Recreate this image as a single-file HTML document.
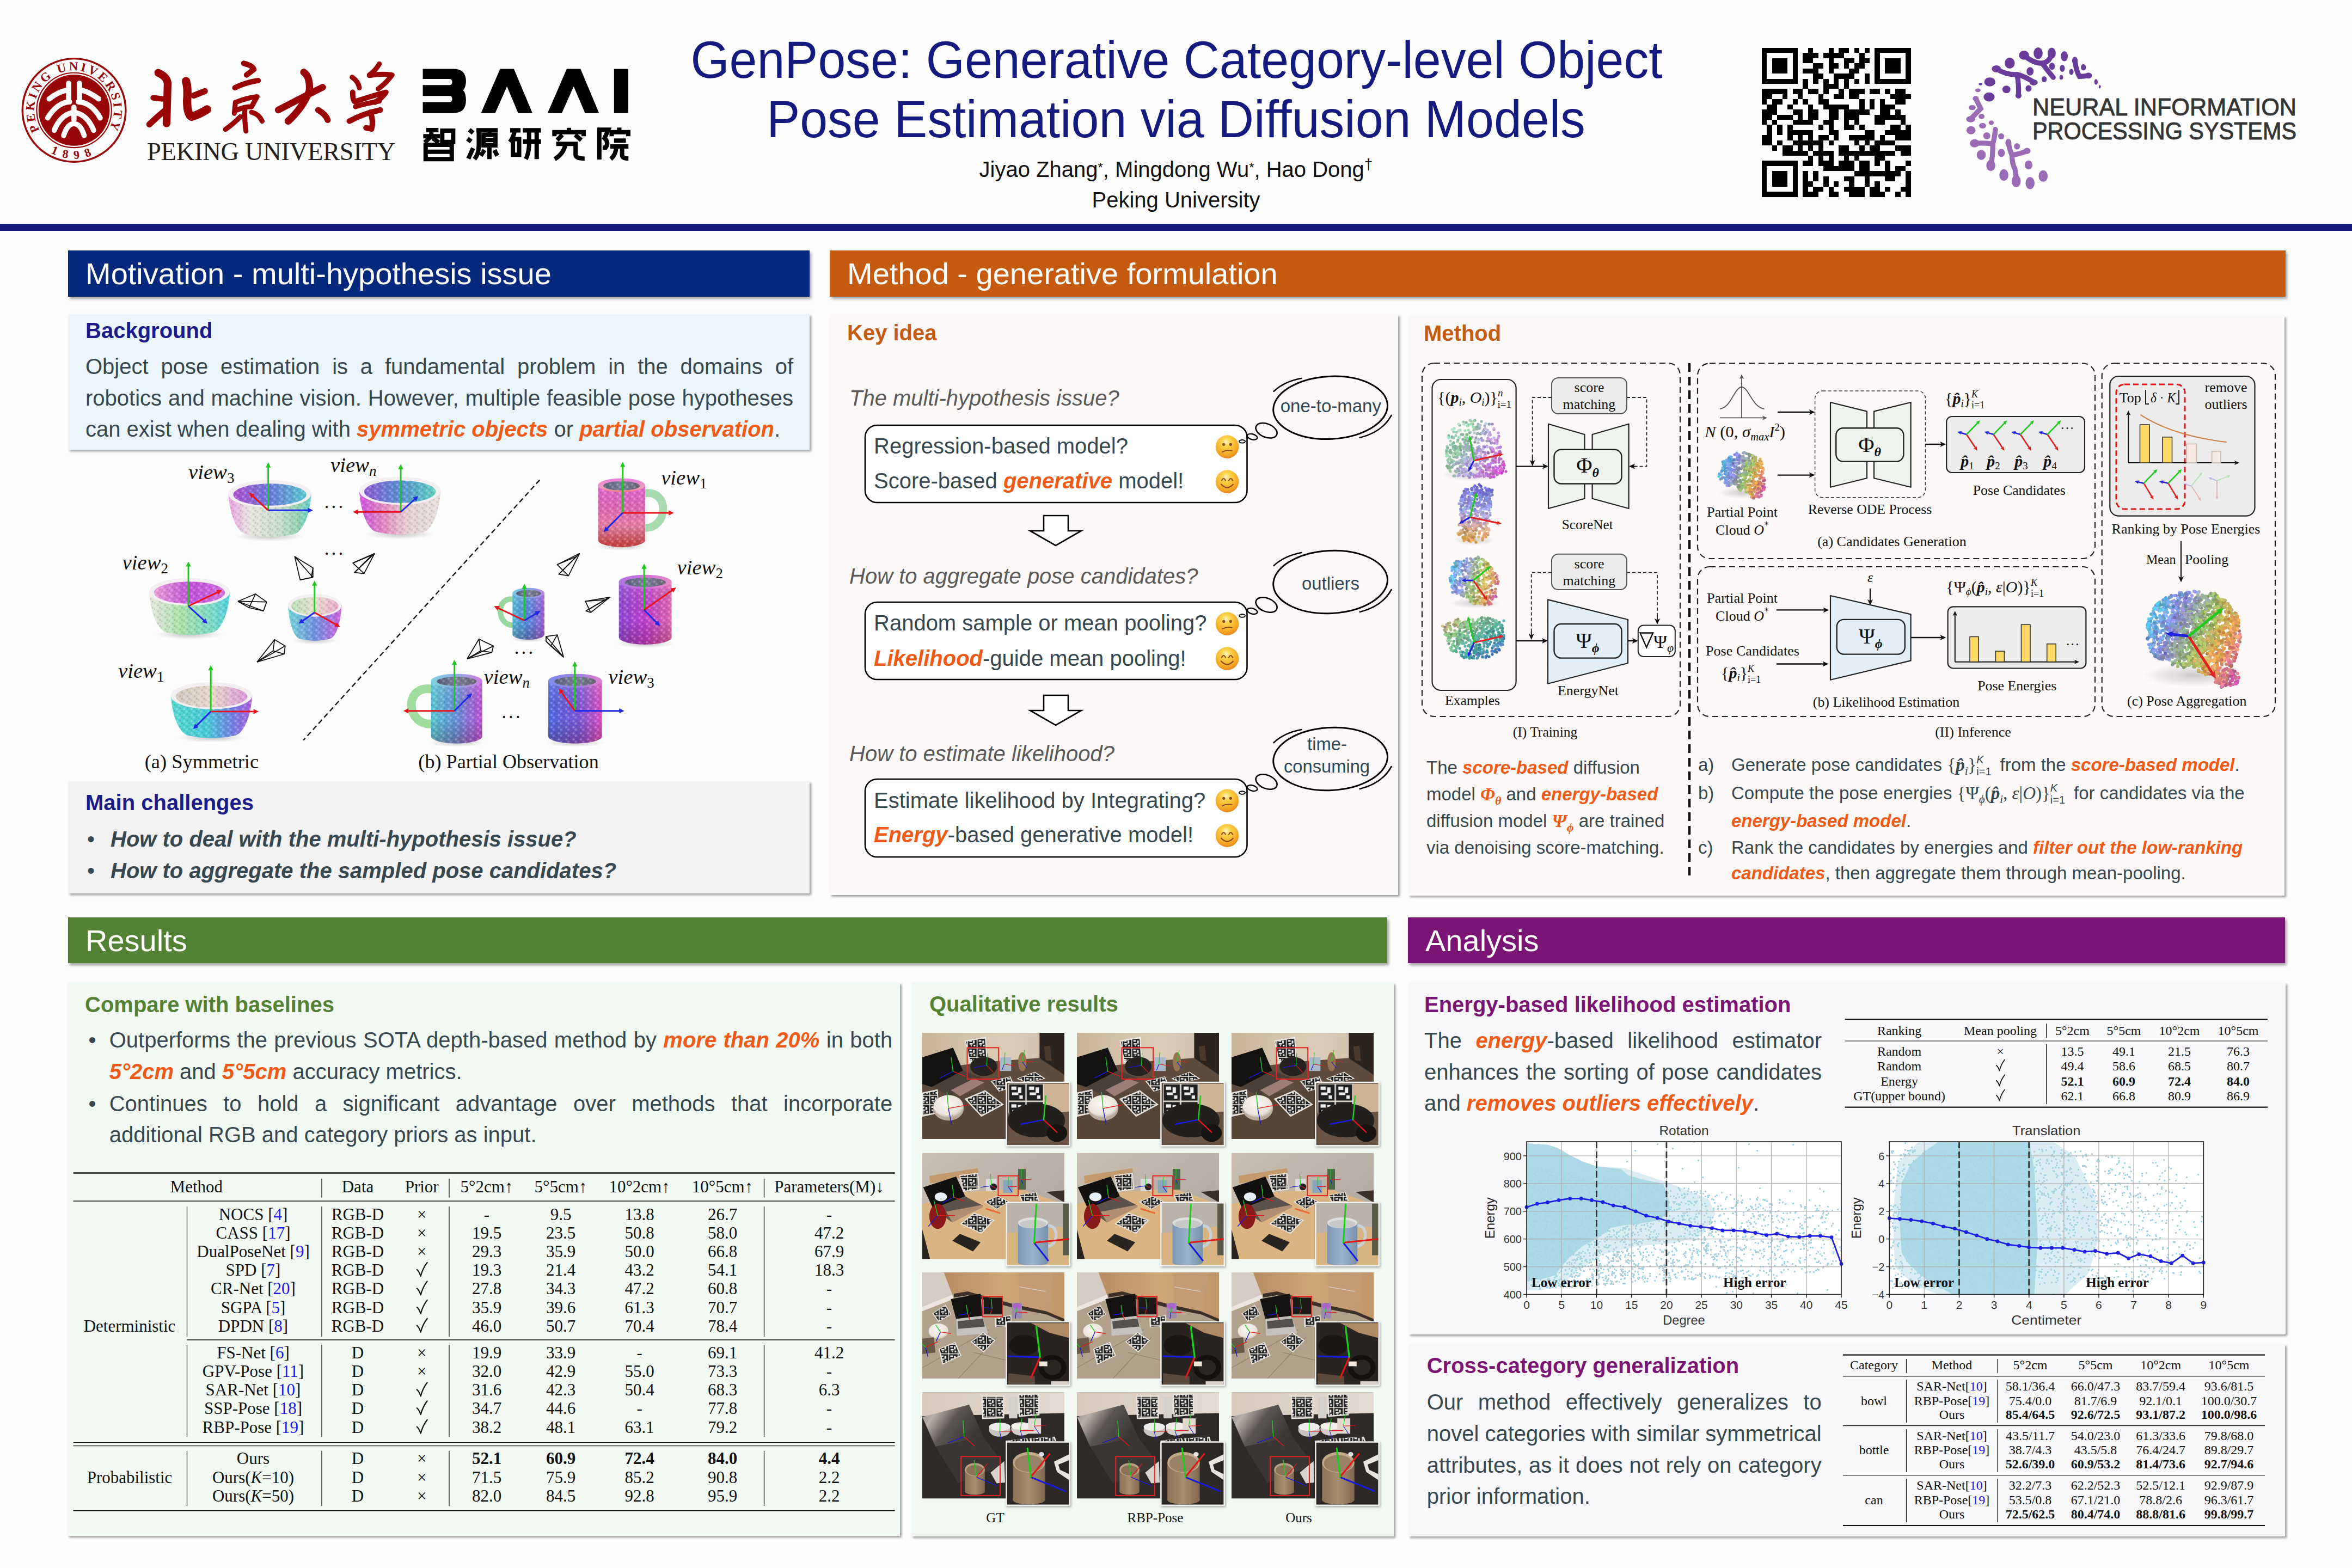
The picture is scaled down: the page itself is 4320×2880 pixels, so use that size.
<!DOCTYPE html>
<html><head><meta charset="utf-8"><style>
*{margin:0;padding:0;box-sizing:border-box}
html,body{width:4320px;height:2880px;overflow:hidden;background:#fdfdfd;font-family:"Liberation Sans",sans-serif;color:#37474f}
.a{position:absolute}
.bar{position:absolute;color:#fff;font-size:56px;line-height:1;box-shadow:3px 4px 5px rgba(0,0,0,.35)}
.bar span{position:absolute;left:32px;top:15px;white-space:nowrap}
.pnl{position:absolute;box-shadow:3px 3px 4px rgba(0,0,0,.38)}
.h2{position:absolute;font-weight:bold;font-size:40px;line-height:1;white-space:nowrap}
.t40{font-size:40px;line-height:1}
.em{color:#f05a16;font-weight:bold;font-style:italic}
.nw{white-space:nowrap}
.serif{font-family:"Liberation Serif",serif}
svg{position:absolute;overflow:visible}
</style></head><body>

<!-- ===== HEADER ===== -->
<!-- PKU seal -->
<svg style="left:30px;top:100px" width="210" height="210" viewBox="0 0 1568 1568">
<defs><path id="arcT" d="M 345.6,1077.6 A 545,545 0 1 1 1238.4,1077.6"/><path id="arcB" d="M 322,1235 A 665,665 0 0 0 1262,1235"/></defs>
<circle cx="792" cy="765" r="708" fill="none" stroke="#990808" stroke-width="26"/>
<circle cx="792" cy="765" r="513" fill="none" stroke="#990808" stroke-width="16"/>
<circle cx="792" cy="765" r="488" fill="#990808"/>
<text font-family="Liberation Serif" font-size="170" font-weight="bold" fill="#990808" letter-spacing="30"><textPath href="#arcT" startOffset="50%" text-anchor="middle">PEKING UNIVERSITY</textPath></text>
<text font-family="Liberation Serif" font-size="165" font-weight="bold" fill="#990808" letter-spacing="85"><textPath href="#arcB" startOffset="50%" text-anchor="middle">1898</textPath></text>
<g fill="none" stroke="#fff" stroke-width="72" stroke-linecap="round">
<path d="M718,395 V640"/><path d="M865,395 V640"/>
<path d="M450,610 Q560,520 690,490"/><path d="M1130,610 Q1010,520 895,490"/>
<path d="M430,870 Q560,660 730,650"/><path d="M1150,870 Q1030,660 850,650"/>
<path d="M790,725 V900"/>
<path d="M520,1040 Q600,840 760,800"/><path d="M1060,1040 Q980,840 820,800"/>
<path d="M650,1110 Q700,950 790,950 Q880,950 930,1110"/>
</g>
</svg>
<!-- PKU calligraphy -->
<svg style="left:260px;top:100px" width="480" height="210" viewBox="0 0 2352 1029">
<g fill="none" stroke="#9a0606" stroke-linecap="round" stroke-linejoin="round">
<path d="M150,165 Q230,200 235,260 L225,620" stroke-width="70"/>
<path d="M105,390 L185,400" stroke-width="50"/>
<path d="M70,630 Q140,560 215,500" stroke-width="55"/>
<path d="M400,240 Q420,300 410,420 Q410,540 450,560 Q520,540 590,495" stroke-width="75"/>
<path d="M470,370 L570,330" stroke-width="55"/>
<path d="M920,80 Q1000,100 1010,135 L945,185" stroke-width="50"/>
<path d="M840,300 Q940,250 1050,235" stroke-width="48"/>
<path d="M845,430 L835,530 M850,430 Q950,390 1040,380 L990,470 M860,500 Q930,470 990,470" stroke-width="45"/>
<path d="M930,480 Q925,600 940,690" stroke-width="45"/>
<path d="M890,560 Q820,630 755,675" stroke-width="45"/>
<path d="M990,520 Q1060,540 1085,600" stroke-width="45"/>
<path d="M1230,500 Q1420,400 1630,295" stroke-width="60"/>
<path d="M1460,160 Q1520,200 1510,330 Q1450,480 1320,600" stroke-width="65"/>
<path d="M1590,500 Q1660,540 1675,590" stroke-width="55"/>
<path d="M1895,205 Q1950,240 1960,300" stroke-width="45"/>
<path d="M2140,85 Q2110,140 2050,185" stroke-width="45"/>
<path d="M2050,190 Q2160,170 2255,185 Q2200,260 2130,310" stroke-width="45"/>
<path d="M1900,340 Q1900,420 1920,425 Q2050,380 2200,340 Q2160,400 2100,430" stroke-width="48"/>
<path d="M1925,470 Q2020,440 2140,420" stroke-width="45"/>
<path d="M1870,600 Q2000,530 2150,500" stroke-width="50"/>
<path d="M2060,520 Q2090,600 2070,670 L2020,660" stroke-width="50"/>
</g>
</svg>
<div class="a serif" style="left:270px;top:256px;font-size:46.5px;line-height:1;color:#231f20;white-space:nowrap;letter-spacing:-0.3px">PEKING UNIVERSITY</div>
<!-- BAAI -->
<svg style="left:760px;top:110px" width="410" height="200" viewBox="0 0 2352 1147">
<path fill="#000" d="M95,95 H420 Q550,95 550,225 Q550,285 520,320 Q550,350 550,425 Q550,560 420,560 H95 V445 H375 Q405,445 405,412 Q405,380 375,380 H95 V265 H375 Q405,265 405,232 Q405,200 375,200 H95 Z"/>
<path fill="#000" d="M708,560 L910,95 L1055,95 L1250,560 L1100,560 L982,280 L858,560 Z"/>
<path fill="#000" d="M1410,560 L1612,95 L1757,95 L1952,560 L1805,560 L1685,280 L1560,560 Z"/>
<rect x="2110" y="95" width="150" height="465" fill="#000"/>
<g fill="none" stroke="#000" stroke-width="46" stroke-linejoin="miter">
<path d="M130,740 H260 M100,805 H275 M185,720 V805 L115,870 M200,825 L265,870"/>
<path d="M300,745 H415 V865 H300 Z"/>
<path d="M125,895 H400 V1045 H125 Z M125,968 H400"/>
<path d="M585,735 L625,770 M565,830 L605,860 M575,1040 L625,930"/>
<path d="M660,742 H885 M685,742 V900 Q685,990 640,1045"/>
<path d="M735,790 H860 V900 H735 Z M735,845 H860 M795,760 V790"/>
<path d="M797,900 V1045 M745,950 L705,1010 M850,950 L880,1010"/>
<path d="M1015,742 H1125 M1065,742 Q1050,820 1012,865"/>
<path d="M1045,835 H1110 V1000 H1045 Z"/>
<path d="M1150,742 H1340 M1150,860 H1340 M1215,742 V900 Q1210,990 1180,1045 M1295,742 V1045"/>
<path d="M1635,715 V760 M1482,805 V762 H1790 V805 M1565,790 L1510,845 M1700,790 L1765,845"/>
<path d="M1500,885 H1705 V1000 Q1705,1040 1800,1040 M1600,885 Q1580,990 1485,1045"/>
<path d="M1955,1050 V735 H2050 L2010,825 Q2060,870 2020,925 L1990,925"/>
<path d="M2165,712 V760 M2085,805 V762 H2260 V805 M2110,850 H2235 M2070,912 H2262 M2135,912 Q2130,1000 2075,1045 M2195,912 V1000 Q2195,1040 2262,1040"/>
</g>
</svg>
<!-- Title -->
<div class="a nw" style="left:0;width:4320px;top:63.5px;text-align:center;font-size:91.5px;line-height:1;color:#151a7e;padding-left:2px;transform:scaleY(1.05)">GenPose: Generative Category-level Object</div>
<div class="a nw" style="left:0;width:4320px;top:173px;text-align:center;font-size:91.5px;line-height:1;color:#151a7e;transform:scaleY(1.05)">Pose Estimation via Diffusion Models</div>
<div class="a nw" style="left:0;width:4320px;top:288px;text-align:center;font-size:40px;line-height:1;color:#111">Jiyao Zhang<span style="font-size:24px;vertical-align:9px">*</span>, Mingdong Wu<span style="font-size:24px;vertical-align:9px">*</span>, Hao Dong<span style="font-size:28px;vertical-align:14px">&#8224;</span></div>
<div class="a nw" style="left:0;width:4320px;top:346.5px;text-align:center;font-size:40px;line-height:1;color:#111">Peking University</div>
<!-- QR -->
<svg style="left:3235.6px;top:88.2px" width="273.5" height="273.5" viewBox="0 0 29 29" shape-rendering="crispEdges"><path fill="#000" d="M0 0h7v1h-7zM9 0h1v1h-1zM13 0h1v1h-1zM15 0h2v1h-2zM18 0h1v1h-1zM20 0h1v1h-1zM22 0h7v1h-7zM0 1h1v1h-1zM6 1h1v1h-1zM8 1h3v1h-3zM12 1h4v1h-4zM19 1h1v1h-1zM22 1h1v1h-1zM28 1h1v1h-1zM0 2h1v1h-1zM2 2h3v1h-3zM6 2h1v1h-1zM8 2h2v1h-2zM13 2h1v1h-1zM16 2h2v1h-2zM19 2h2v1h-2zM22 2h1v1h-1zM24 2h3v1h-3zM28 2h1v1h-1zM0 3h1v1h-1zM2 3h3v1h-3zM6 3h1v1h-1zM10 3h2v1h-2zM13 3h2v1h-2zM16 3h1v1h-1zM18 3h2v1h-2zM22 3h1v1h-1zM24 3h3v1h-3zM28 3h1v1h-1zM0 4h1v1h-1zM2 4h3v1h-3zM6 4h1v1h-1zM8 4h3v1h-3zM13 4h1v1h-1zM17 4h2v1h-2zM22 4h1v1h-1zM24 4h3v1h-3zM28 4h1v1h-1zM0 5h1v1h-1zM6 5h1v1h-1zM10 5h2v1h-2zM14 5h4v1h-4zM20 5h1v1h-1zM22 5h1v1h-1zM28 5h1v1h-1zM0 6h7v1h-7zM8 6h1v1h-1zM10 6h1v1h-1zM12 6h1v1h-1zM14 6h1v1h-1zM16 6h1v1h-1zM18 6h1v1h-1zM20 6h1v1h-1zM22 6h7v1h-7zM8 7h1v1h-1zM12 7h3v1h-3zM16 7h1v1h-1zM0 8h5v1h-5zM6 8h2v1h-2zM9 8h2v1h-2zM12 8h1v1h-1zM15 8h1v1h-1zM17 8h3v1h-3zM21 8h2v1h-2zM24 8h1v1h-1zM26 8h2v1h-2zM0 9h2v1h-2zM4 9h1v1h-1zM7 9h1v1h-1zM11 9h1v1h-1zM14 9h2v1h-2zM17 9h2v1h-2zM25 9h4v1h-4zM0 10h1v1h-1zM2 10h2v1h-2zM6 10h1v1h-1zM8 10h1v1h-1zM11 10h2v1h-2zM19 10h1v1h-1zM21 10h1v1h-1zM23 10h1v1h-1zM26 10h2v1h-2zM1 11h2v1h-2zM5 11h1v1h-1zM9 11h1v1h-1zM12 11h5v1h-5zM19 11h1v1h-1zM21 11h1v1h-1zM23 11h3v1h-3zM0 12h3v1h-3zM6 12h2v1h-2zM9 12h2v1h-2zM13 12h2v1h-2zM16 12h5v1h-5zM23 12h2v1h-2zM26 12h1v1h-1zM0 13h2v1h-2zM3 13h3v1h-3zM7 13h1v1h-1zM9 13h2v1h-2zM13 13h2v1h-2zM16 13h3v1h-3zM22 13h6v1h-6zM0 14h1v1h-1zM2 14h1v1h-1zM6 14h4v1h-4zM12 14h2v1h-2zM16 14h1v1h-1zM18 14h1v1h-1zM22 14h2v1h-2zM27 14h1v1h-1zM1 15h1v1h-1zM3 15h1v1h-1zM5 15h1v1h-1zM11 15h1v1h-1zM13 15h1v1h-1zM16 15h2v1h-2zM19 15h1v1h-1zM25 15h2v1h-2zM28 15h1v1h-1zM1 16h1v1h-1zM3 16h1v1h-1zM5 16h5v1h-5zM13 16h2v1h-2zM20 16h2v1h-2zM24 16h5v1h-5zM0 17h2v1h-2zM5 17h1v1h-1zM7 17h1v1h-1zM9 17h1v1h-1zM11 17h2v1h-2zM14 17h1v1h-1zM17 17h5v1h-5zM23 17h1v1h-1zM26 17h3v1h-3zM0 18h2v1h-2zM3 18h1v1h-1zM6 18h6v1h-6zM13 18h1v1h-1zM18 18h1v1h-1zM20 18h1v1h-1zM22 18h4v1h-4zM2 19h1v1h-1zM4 19h2v1h-2zM7 19h1v1h-1zM9 19h1v1h-1zM11 19h1v1h-1zM15 19h2v1h-2zM19 19h1v1h-1zM21 19h2v1h-2zM26 19h3v1h-3zM4 20h5v1h-5zM10 20h4v1h-4zM15 20h11v1h-11zM27 20h2v1h-2zM9 21h1v1h-1zM11 21h1v1h-1zM13 21h1v1h-1zM16 21h1v1h-1zM18 21h1v1h-1zM22 21h2v1h-2zM0 22h7v1h-7zM8 22h2v1h-2zM11 22h3v1h-3zM15 22h3v1h-3zM19 22h2v1h-2zM22 22h1v1h-1zM24 22h1v1h-1zM28 22h1v1h-1zM0 23h1v1h-1zM6 23h1v1h-1zM12 23h6v1h-6zM19 23h2v1h-2zM24 23h1v1h-1zM26 23h2v1h-2zM0 24h1v1h-1zM2 24h3v1h-3zM6 24h1v1h-1zM8 24h1v1h-1zM10 24h1v1h-1zM18 24h9v1h-9zM28 24h1v1h-1zM0 25h1v1h-1zM2 25h3v1h-3zM6 25h1v1h-1zM8 25h1v1h-1zM10 25h1v1h-1zM12 25h1v1h-1zM16 25h2v1h-2zM20 25h1v1h-1zM24 25h2v1h-2zM28 25h1v1h-1zM0 26h1v1h-1zM2 26h3v1h-3zM6 26h1v1h-1zM8 26h2v1h-2zM12 26h1v1h-1zM14 26h1v1h-1zM17 26h1v1h-1zM20 26h1v1h-1zM22 26h1v1h-1zM28 26h1v1h-1zM0 27h1v1h-1zM6 27h1v1h-1zM8 27h1v1h-1zM10 27h2v1h-2zM13 27h1v1h-1zM16 27h4v1h-4zM21 27h2v1h-2zM24 27h1v1h-1zM27 27h2v1h-2zM0 28h7v1h-7zM8 28h3v1h-3zM13 28h2v1h-2zM17 28h3v1h-3zM21 28h3v1h-3zM26 28h1v1h-1zM28 28h1v1h-1z"/></svg>
<!-- NeurIPS -->
<svg style="left:3590px;top:70px" width="290" height="290" viewBox="0 0 1568 1568">
<g fill="#6a3d9c">
<ellipse cx="830" cy="150" rx="45" ry="58"/><ellipse cx="965" cy="150" rx="40" ry="55"/><ellipse cx="1090" cy="180" rx="35" ry="50"/>
<ellipse cx="1195" cy="225" rx="28" ry="40"/><ellipse cx="1280" cy="290" rx="25" ry="32"/><ellipse cx="1330" cy="372" rx="35" ry="30"/>
<ellipse cx="1405" cy="435" rx="17" ry="28"/><ellipse cx="1442" cy="483" rx="10" ry="17"/><ellipse cx="690" cy="170" rx="50" ry="45"/>
<ellipse cx="548" cy="248" rx="50" ry="55"/><ellipse cx="968" cy="280" rx="30" ry="35"/><ellipse cx="1070" cy="300" rx="25" ry="35"/>
<ellipse cx="1160" cy="335" rx="22" ry="30"/><ellipse cx="1060" cy="390" rx="18" ry="22"/><ellipse cx="750" cy="330" rx="35" ry="42"/>
<ellipse cx="890" cy="408" rx="25" ry="30"/><ellipse cx="415" cy="305" rx="45" ry="35"/><ellipse cx="350" cy="435" rx="55" ry="45"/>
<ellipse cx="515" cy="510" rx="40" ry="38"/><ellipse cx="735" cy="500" rx="30" ry="32"/><ellipse cx="343" cy="585" rx="55" ry="45"/>
<ellipse cx="635" cy="570" rx="30" ry="30"/><ellipse cx="258" cy="457" rx="18" ry="12"/><ellipse cx="785" cy="440" rx="40" ry="30"/>
</g>
<g fill="none" stroke="#6a3d9c" stroke-linecap="round" stroke-width="50">
<path d="M690,170 Q780,250 870,250 Q940,240 965,160"/><path d="M870,250 Q930,330 980,390"/>
<path d="M415,305 Q520,370 620,360 Q700,380 790,440"/><path d="M620,360 Q640,450 635,570"/>
<path d="M1195,225 Q1210,330 1240,380 Q1290,380 1330,372"/>
</g>
<g fill="#9a6cb6">
<ellipse cx="232" cy="518" rx="28" ry="18"/>
<ellipse cx="210" cy="600" rx="30" ry="25"/><ellipse cx="175" cy="690" rx="35" ry="25"/><ellipse cx="268" cy="778" rx="30" ry="25"/>
<ellipse cx="160" cy="805" rx="45" ry="32"/><ellipse cx="365" cy="840" rx="25" ry="22"/><ellipse cx="278" cy="870" rx="35" ry="28"/>
<ellipse cx="163" cy="915" rx="45" ry="40"/><ellipse cx="405" cy="910" rx="25" ry="30"/><ellipse cx="320" cy="970" rx="35" ry="35"/>
<ellipse cx="463" cy="975" rx="30" ry="30"/><ellipse cx="200" cy="1045" rx="48" ry="40"/><ellipse cx="535" cy="1040" rx="30" ry="40"/>
<ellipse cx="620" cy="1075" rx="30" ry="32"/><ellipse cx="265" cy="1160" rx="45" ry="50"/><ellipse cx="465" cy="1140" rx="35" ry="40"/>
<ellipse cx="360" cy="1265" rx="45" ry="55"/><ellipse cx="735" cy="1260" rx="38" ry="45"/><ellipse cx="490" cy="1360" rx="45" ry="58"/>
<ellipse cx="612" cy="1420" rx="45" ry="60"/><ellipse cx="750" cy="1440" rx="45" ry="60"/><ellipse cx="880" cy="1370" rx="45" ry="58"/>
<ellipse cx="720" cy="1120" rx="35" ry="30"/>
</g>
<g fill="none" stroke="#9a6cb6" stroke-linecap="round" stroke-width="50">
<path d="M210,600 Q250,680 260,700 Q200,760 160,805"/>
<path d="M200,1045 Q300,1040 380,1050 Q400,980 405,910"/><path d="M380,1050 Q380,1180 360,1265"/>
<path d="M535,1040 Q550,1120 570,1160 Q650,1150 720,1120"/><path d="M570,1160 Q570,1250 600,1300 Q612,1360 612,1420"/>
</g>
</svg>
<svg style="left:3733px;top:170px" width="490" height="100" viewBox="0 0 490 100">
<text x="0" y="42.2" font-family="Liberation Sans" font-size="44" fill="#353535" stroke="#353535" stroke-width="0.9" textLength="485" lengthAdjust="spacingAndGlyphs">NEURAL INFORMATION</text>
<text x="0" y="86" font-family="Liberation Sans" font-size="44" fill="#353535" stroke="#353535" stroke-width="0.9" textLength="485" lengthAdjust="spacingAndGlyphs">PROCESSING SYSTEMS</text>
</svg>

<div class="a" style="left:0;top:411px;width:4320px;height:13px;background:#161b7a"></div>

<!-- ===== SECTION BARS ===== -->
<div class="bar" style="left:125px;top:460px;width:1362px;height:85px;background:#03287c"><span>Motivation - multi-hypothesis issue</span></div>
<div class="bar" style="left:1524px;top:460px;width:2674px;height:85px;background:#c55a11"><span>Method - generative formulation</span></div>
<div class="bar" style="left:125px;top:1685px;width:2423px;height:84px;background:#548235"><span>Results</span></div>
<div class="bar" style="left:2586px;top:1685px;width:1611px;height:84px;background:#7b1575"><span>Analysis</span></div>

<!-- ===== PANELS ===== -->
<div class="pnl" style="left:125px;top:577px;width:1362px;height:249px;background:#eaf5fc"></div>
<div class="pnl" style="left:125px;top:1435px;width:1362px;height:206px;background:#f2f2f2"></div>
<div class="pnl" style="left:1524px;top:578px;width:1044px;height:1066px;background:#fcf9f8"></div>
<div class="pnl" style="left:2587px;top:580px;width:1609px;height:1065px;background:#fcf9f8"></div>
<div class="pnl" style="left:124px;top:1805px;width:1529px;height:1016px;background:#f2f9f3"></div>
<div class="pnl" style="left:1674px;top:1805px;width:886px;height:1017px;background:#f2f9f3"></div>
<div class="pnl" style="left:2587px;top:1805px;width:1611px;height:646px;background:#f8f8fa"></div>
<div class="pnl" style="left:2587px;top:2469px;width:1610px;height:353px;background:#f8f8fa"></div>

<!-- Motivation content -->
<div class="h2" style="left:157px;top:587px;color:#1b1b8a">Background</div>
<div class="a t40" style="left:157px;top:645px;width:1300px;line-height:57.5px;text-align:justify;text-align-last:left">Object pose estimation is a fundamental problem in the domains of robotics and machine vision. However, multiple feasible pose hypotheses can exist when dealing with <span class="em">symmetric objects</span> or <span class="em">partial observation</span>.</div>
<svg style="left:120px;top:820px" width="1380" height="620" viewBox="0 0 2352 1057"><defs>
<pattern id="tex" width="23" height="19" patternUnits="userSpaceOnUse"><circle cx="4" cy="5" r="3.2" fill="#fff" fill-opacity=".28"/><circle cx="14" cy="3" r="2.6" fill="#000" fill-opacity=".13"/><circle cx="11" cy="13" r="3.4" fill="#fff" fill-opacity=".22"/><circle cx="20" cy="11" r="2.4" fill="#000" fill-opacity=".16"/><circle cx="3" cy="15" r="2" fill="#000" fill-opacity=".12"/></pattern>
<radialGradient id="mshad"><stop offset="0" stop-color="#000" stop-opacity=".22"/><stop offset="1" stop-color="#000" stop-opacity="0"/></radialGradient>
<linearGradient id="bw1" x1="0" x2="1"><stop offset="0" stop-color="#e8a0e0"/><stop offset=".25" stop-color="#e8e2e0"/><stop offset=".6" stop-color="#c8e0c8"/><stop offset=".85" stop-color="#90d0b0"/><stop offset="1" stop-color="#60d0d0"/></linearGradient>
<linearGradient id="bi1" x1="0" x2="1"><stop offset="0" stop-color="#b050d0"/><stop offset=".5" stop-color="#6a78d8"/><stop offset="1" stop-color="#58c8d0"/></linearGradient>
<linearGradient id="bw2" x1="0" x2="1"><stop offset="0" stop-color="#d050e0"/><stop offset=".3" stop-color="#e088c0"/><stop offset=".6" stop-color="#e8d0d4"/><stop offset="1" stop-color="#e4e0dc"/></linearGradient>
<linearGradient id="bi2" x1="0" x2="1"><stop offset="0" stop-color="#9058d8"/><stop offset=".5" stop-color="#5890d0"/><stop offset="1" stop-color="#60d0c0"/></linearGradient>
<linearGradient id="bw3" x1="0" x2="1"><stop offset="0" stop-color="#e8e8e0"/><stop offset=".4" stop-color="#a8e0a8"/><stop offset=".8" stop-color="#78d8c8"/><stop offset="1" stop-color="#50d0e0"/></linearGradient>
<linearGradient id="bi3" x1="0" x2="1"><stop offset="0" stop-color="#e8a0d8"/><stop offset=".5" stop-color="#c050d8"/><stop offset="1" stop-color="#d070e0"/></linearGradient>
<linearGradient id="bw4" x1="0" x2="1"><stop offset="0" stop-color="#70d8d8"/><stop offset=".5" stop-color="#7090e0"/><stop offset="1" stop-color="#d060e0"/></linearGradient>
<linearGradient id="bi4" x1="0" x2="1"><stop offset="0" stop-color="#b8e0b0"/><stop offset=".5" stop-color="#e8e0d0"/><stop offset="1" stop-color="#e8a8c8"/></linearGradient>
<linearGradient id="bw5" x1="0" x2="1"><stop offset="0" stop-color="#58d8d0"/><stop offset=".45" stop-color="#48c8d8"/><stop offset=".75" stop-color="#7080e0"/><stop offset="1" stop-color="#b060e0"/></linearGradient>
<linearGradient id="bi5" x1="0" x2="1"><stop offset="0" stop-color="#d0c8c0"/><stop offset=".5" stop-color="#e8d8c8"/><stop offset="1" stop-color="#d898d8"/></linearGradient>
<linearGradient id="m1" x1="0" x2="1"><stop offset="0" stop-color="#e040c0"/><stop offset=".5" stop-color="#e898b8"/><stop offset="1" stop-color="#e8d0d0"/></linearGradient>
<linearGradient id="m1v" x1="0" y1="0" x2="0" y2="1"><stop offset="0" stop-color="#e050d0"/><stop offset=".7" stop-color="#e880a0"/><stop offset="1" stop-color="#e85050"/></linearGradient>
<linearGradient id="mi" x1="0" x2="1"><stop offset="0" stop-color="#58607a"/><stop offset=".5" stop-color="#7a8098"/><stop offset="1" stop-color="#6a6478"/></linearGradient>
<linearGradient id="mshade" x1="0" y1="0" x2="0" y2="1"><stop offset="0" stop-color="#fff" stop-opacity=".15"/><stop offset=".6" stop-color="#000" stop-opacity="0"/><stop offset="1" stop-color="#500" stop-opacity=".25"/></linearGradient>
<linearGradient id="m2" x1="0" x2="1"><stop offset="0" stop-color="#9048d8"/><stop offset=".5" stop-color="#c040d0"/><stop offset="1" stop-color="#e068b0"/></linearGradient>
<linearGradient id="m3" x1="0" x2="1"><stop offset="0" stop-color="#50b8d8"/><stop offset=".5" stop-color="#5888e0"/><stop offset="1" stop-color="#a060d8"/></linearGradient>
<linearGradient id="m4" x1="0" x2="1"><stop offset="0" stop-color="#58c8d8"/><stop offset=".5" stop-color="#6890d8"/><stop offset="1" stop-color="#c050d8"/></linearGradient>
<linearGradient id="m5" x1="0" x2="1"><stop offset="0" stop-color="#5068e0"/><stop offset=".6" stop-color="#8058d8"/><stop offset="1" stop-color="#e050c0"/></linearGradient>
</defs><ellipse cx="640.0" cy="281.4" rx="109.2" ry="16.2" fill="url(#mshad)"/><path d="M510,148.2 C515.2,216.6 536.0,263.4 562.0,274.2 Q640.0,292.2 718.0,274.2 C744.0,263.4 764.8,216.6 770,148.2 Z" fill="url(#bw1)"/><path d="M510,148.2 C515.2,216.6 536.0,263.4 562.0,274.2 Q640.0,292.2 718.0,274.2 C744.0,263.4 764.8,216.6 770,148.2 Z" fill="url(#tex)"/><ellipse cx="640.0" cy="148.2" rx="130.0" ry="43.199999999999996" fill="#f2eef2"/><ellipse cx="640.0" cy="150.89999999999998" rx="114.4" ry="34.559999999999995" fill="url(#bi1)"/><ellipse cx="640.0" cy="150.89999999999998" rx="114.4" ry="34.559999999999995" fill="url(#tex)"/><ellipse cx="1047.5" cy="274.34" rx="107.1" ry="16.47" fill="url(#mshad)"/><path d="M920,138.92000000000002 C925.1,208.45999999999998 945.5,256.04 971.0,267.02 Q1047.5,285.32 1124.0,267.02 C1149.5,256.04 1169.9,208.45999999999998 1175,138.92000000000002 Z" fill="url(#bw2)"/><path d="M920,138.92000000000002 C925.1,208.45999999999998 945.5,256.04 971.0,267.02 Q1047.5,285.32 1124.0,267.02 C1149.5,256.04 1169.9,208.45999999999998 1175,138.92000000000002 Z" fill="url(#tex)"/><ellipse cx="1047.5" cy="138.92000000000002" rx="127.5" ry="43.92" fill="#f2eef2"/><ellipse cx="1047.5" cy="141.66500000000002" rx="112.2" ry="35.136" fill="url(#bi2)"/><ellipse cx="1047.5" cy="141.66500000000002" rx="112.2" ry="35.136" fill="url(#tex)"/><ellipse cx="388.5" cy="588.4" rx="106.25999999999999" ry="16.2" fill="url(#mshad)"/><path d="M262,455.2 C267.06,523.6 287.3,570.4 312.6,581.2 Q388.5,599.2 464.4,581.2 C489.7,570.4 509.94,523.6 515,455.2 Z" fill="url(#bw3)"/><path d="M262,455.2 C267.06,523.6 287.3,570.4 312.6,581.2 Q388.5,599.2 464.4,581.2 C489.7,570.4 509.94,523.6 515,455.2 Z" fill="url(#tex)"/><ellipse cx="388.5" cy="455.2" rx="126.5" ry="43.199999999999996" fill="#f2eef2"/><ellipse cx="388.5" cy="457.9" rx="111.32000000000001" ry="34.559999999999995" fill="url(#bi3)"/><ellipse cx="388.5" cy="457.9" rx="111.32000000000001" ry="34.559999999999995" fill="url(#tex)"/><ellipse cx="781.0" cy="607.04" rx="70.56" ry="13.32" fill="url(#mshad)"/><path d="M697,497.52 C700.36,553.76 713.8,592.24 730.6,601.12 Q781.0,615.92 831.4,601.12 C848.2,592.24 861.64,553.76 865,497.52 Z" fill="url(#bw4)"/><path d="M697,497.52 C700.36,553.76 713.8,592.24 730.6,601.12 Q781.0,615.92 831.4,601.12 C848.2,592.24 861.64,553.76 865,497.52 Z" fill="url(#tex)"/><ellipse cx="781.0" cy="497.52" rx="84.0" ry="35.519999999999996" fill="#f2eef2"/><ellipse cx="781.0" cy="499.74" rx="73.92" ry="28.415999999999997" fill="url(#bi4)"/><ellipse cx="781.0" cy="499.74" rx="73.92" ry="28.415999999999997" fill="url(#tex)"/><ellipse cx="457.5" cy="911.46" rx="107.1" ry="15.93" fill="url(#mshad)"/><path d="M330,780.48 C335.1,847.74 355.5,893.76 381.0,904.38 Q457.5,922.08 534.0,904.38 C559.5,893.76 579.9,847.74 585,780.48 Z" fill="url(#bw5)"/><path d="M330,780.48 C335.1,847.74 355.5,893.76 381.0,904.38 Q457.5,922.08 534.0,904.38 C559.5,893.76 579.9,847.74 585,780.48 Z" fill="url(#tex)"/><ellipse cx="457.5" cy="780.48" rx="127.5" ry="42.48" fill="#f2eef2"/><ellipse cx="457.5" cy="783.135" rx="112.2" ry="33.984" fill="url(#bi5)"/><ellipse cx="457.5" cy="783.135" rx="112.2" ry="33.984" fill="url(#tex)"/><ellipse cx="1741.5" cy="312.85" rx="80.85000000000001" ry="12.9" fill="url(#mshad)"/><path d="M1810,147.3 C1895.85,132.25 1888.5,261.25 1810,254.79999999999998" fill="none" stroke="#a8dcb0" stroke-width="24.990000000000002"/><path d="M1668,121.5 L1668,293.5 A73.5,21.5 0 0 0 1815,293.5 L1815,121.5 Z" fill="url(#m1v)"/><path d="M1668,121.5 L1668,293.5 A73.5,21.5 0 0 0 1815,293.5 L1815,121.5 Z" fill="url(#mshade)"/><path d="M1668,121.5 L1668,293.5 A73.5,21.5 0 0 0 1815,293.5 L1815,121.5 Z" fill="url(#tex)"/><ellipse cx="1741.5" cy="121.5" rx="73.5" ry="21.5" fill="url(#m1v)"/><ellipse cx="1741.5" cy="121.5" rx="73.5" ry="21.5" fill="#fff" fill-opacity=".25"/><ellipse cx="1741.5" cy="123.22" rx="57.330000000000005" ry="14.190000000000001" fill="url(#mi)"/><ellipse cx="1741.5" cy="123.22" rx="57.330000000000005" ry="14.190000000000001" fill="url(#tex)"/><ellipse cx="1815.5" cy="617.82" rx="90.75000000000001" ry="13.08" fill="url(#mshad)"/><path d="M1733,423.8 L1733,598.2 A82.5,21.8 0 0 0 1898,598.2 L1898,423.8 Z" fill="url(#m2)"/><path d="M1733,423.8 L1733,598.2 A82.5,21.8 0 0 0 1898,598.2 L1898,423.8 Z" fill="url(#mshade)"/><path d="M1733,423.8 L1733,598.2 A82.5,21.8 0 0 0 1898,598.2 L1898,423.8 Z" fill="url(#tex)"/><ellipse cx="1815.5" cy="423.8" rx="82.5" ry="21.8" fill="url(#m2)"/><ellipse cx="1815.5" cy="423.8" rx="82.5" ry="21.8" fill="#fff" fill-opacity=".25"/><ellipse cx="1815.5" cy="425.544" rx="64.35000000000001" ry="14.388000000000002" fill="url(#mi)"/><ellipse cx="1815.5" cy="425.544" rx="64.35000000000001" ry="14.388000000000002" fill="url(#tex)"/><ellipse cx="1450.0" cy="603.38" rx="55.00000000000001" ry="9.719999999999999" fill="url(#mshad)"/><path d="M1405,478.64 C1345.0,467.3 1350.0,564.5 1405,559.64" fill="none" stroke="#98d8a0" stroke-width="17.0"/><path d="M1400,459.2 L1400,588.8 A50.0,16.2 0 0 0 1500,588.8 L1500,459.2 Z" fill="url(#m3)"/><path d="M1400,459.2 L1400,588.8 A50.0,16.2 0 0 0 1500,588.8 L1500,459.2 Z" fill="url(#mshade)"/><path d="M1400,459.2 L1400,588.8 A50.0,16.2 0 0 0 1500,588.8 L1500,459.2 Z" fill="url(#tex)"/><ellipse cx="1450.0" cy="459.2" rx="50.0" ry="16.2" fill="url(#m3)"/><ellipse cx="1450.0" cy="459.2" rx="50.0" ry="16.2" fill="#fff" fill-opacity=".25"/><ellipse cx="1450.0" cy="460.496" rx="39.0" ry="10.692" fill="url(#mi)"/><ellipse cx="1450.0" cy="460.496" rx="39.0" ry="10.692" fill="url(#tex)"/><ellipse cx="1225.0" cy="927.82" rx="88.0" ry="13.08" fill="url(#mshad)"/><path d="M1150,759.96 C1057.0,744.7 1065.0,875.5 1150,868.96" fill="none" stroke="#a0dca0" stroke-width="27.200000000000003"/><path d="M1145,733.8 L1145,908.2 A80.0,21.8 0 0 0 1305,908.2 L1305,733.8 Z" fill="url(#m4)"/><path d="M1145,733.8 L1145,908.2 A80.0,21.8 0 0 0 1305,908.2 L1305,733.8 Z" fill="url(#mshade)"/><path d="M1145,733.8 L1145,908.2 A80.0,21.8 0 0 0 1305,908.2 L1305,733.8 Z" fill="url(#tex)"/><ellipse cx="1225.0" cy="733.8" rx="80.0" ry="21.8" fill="url(#m4)"/><ellipse cx="1225.0" cy="733.8" rx="80.0" ry="21.8" fill="#fff" fill-opacity=".25"/><ellipse cx="1225.0" cy="735.544" rx="62.400000000000006" ry="14.388000000000002" fill="url(#mi)"/><ellipse cx="1225.0" cy="735.544" rx="62.400000000000006" ry="14.388000000000002" fill="url(#tex)"/><ellipse cx="1596.0" cy="927.82" rx="92.4" ry="13.08" fill="url(#mshad)"/><path d="M1512,733.8 L1512,908.2 A84.0,21.8 0 0 0 1680,908.2 L1680,733.8 Z" fill="url(#m5)"/><path d="M1512,733.8 L1512,908.2 A84.0,21.8 0 0 0 1680,908.2 L1680,733.8 Z" fill="url(#mshade)"/><path d="M1512,733.8 L1512,908.2 A84.0,21.8 0 0 0 1680,908.2 L1680,733.8 Z" fill="url(#tex)"/><ellipse cx="1596.0" cy="733.8" rx="84.0" ry="21.8" fill="url(#m5)"/><ellipse cx="1596.0" cy="733.8" rx="84.0" ry="21.8" fill="#fff" fill-opacity=".25"/><ellipse cx="1596.0" cy="735.544" rx="65.52" ry="14.388000000000002" fill="url(#mi)"/><ellipse cx="1596.0" cy="735.544" rx="65.52" ry="14.388000000000002" fill="url(#tex)"/><line x1="635" y1="200" x2="635.0" y2="62.8" stroke="#1ec81e" stroke-width="5"/><path d="M635,50 L643.0,66.0 L627.0,66.0 Z" fill="#1ec81e"/><line x1="635" y1="200" x2="584.4355729945695" y2="153.64927524502204" stroke="#e8141e" stroke-width="5"/><path d="M575,145 L592.2002632713507,149.9143609346716 L581.3886692150732,161.70882717788345 Z" fill="#e8141e"/><line x1="635" y1="200" x2="762.2" y2="200.0" stroke="#1e28e6" stroke-width="5"/><path d="M775,200 L759.0,208.0 L759.0,192.0 Z" fill="#1e28e6"/><line x1="1050" y1="205" x2="1050.0" y2="67.8" stroke="#1ec81e" stroke-width="5"/><path d="M1050,55 L1058.0,71.0 L1042.0,71.0 Z" fill="#1ec81e"/><line x1="1050" y1="205" x2="912.8" y2="205.0" stroke="#e8141e" stroke-width="5"/><path d="M900,205 L916.0,197.0 L916.0,213.0 Z" fill="#e8141e"/><line x1="1050" y1="205" x2="1095.528767060532" y2="163.6102117631528" stroke="#1e28e6" stroke-width="5"/><path d="M1105,155 L1098.5423411776353,171.68228529110854 L1087.7795764736945,159.84324411677346 Z" fill="#1e28e6"/><line x1="385" y1="500" x2="385.0" y2="372.8" stroke="#1ec81e" stroke-width="5"/><path d="M385,360 L393.0,376.0 L377.0,376.0 Z" fill="#1ec81e"/><line x1="385" y1="500" x2="478.4433853590537" y2="455.50314982902205" stroke="#e8141e" stroke-width="5"/><path d="M490,450 L478.9937003419559,464.101821436869 L472.1147630556783,449.65605313568614 Z" fill="#e8141e"/><line x1="385" y1="500" x2="435.5644270054305" y2="546.3507247549779" stroke="#1e28e6" stroke-width="5"/><path d="M445,555 L427.7997367286494,550.0856390653285 L438.6113307849269,538.2911728221166 Z" fill="#1e28e6"/><line x1="780" y1="520" x2="780.0" y2="432.8" stroke="#1ec81e" stroke-width="5"/><path d="M780,420 L788.0,436.0 L772.0,436.0 Z" fill="#1ec81e"/><line x1="780" y1="520" x2="848.8438331248058" y2="558.7246561327032" stroke="#e8141e" stroke-width="5"/><path d="M860,565 L842.1327014889467,564.1284244628755 L849.9768813230677,550.1832158688826 Z" fill="#e8141e"/><line x1="780" y1="520" x2="740.4861685826437" y2="547.6596819921494" stroke="#1e28e6" stroke-width="5"/><path d="M730,555 L738.5200119733979,539.2707471260344 L747.6954094832113,552.3784578543391 Z" fill="#1e28e6"/><line x1="455" y1="830" x2="455.0" y2="697.8" stroke="#1ec81e" stroke-width="5"/><path d="M455,685 L463.0,701.0 L447.0,701.0 Z" fill="#1ec81e"/><line x1="455" y1="830" x2="592.2" y2="830.0" stroke="#e8141e" stroke-width="5"/><path d="M605,830 L589.0,838.0 L589.0,822.0 Z" fill="#e8141e"/><line x1="455" y1="830" x2="409.0509667991878" y2="875.9490332008122" stroke="#1e28e6" stroke-width="5"/><path d="M400,885 L405.65685424949237,868.0294372515228 L416.9705627484771,879.3431457505077 Z" fill="#1e28e6"/><line x1="1745" y1="208" x2="1745.0" y2="60.8" stroke="#1ec81e" stroke-width="5"/><path d="M1745,48 L1753.0,64.0 L1737.0,64.0 Z" fill="#1ec81e"/><line x1="1745" y1="208" x2="1892.2" y2="208.0" stroke="#e8141e" stroke-width="5"/><path d="M1905,208 L1889.0,216.0 L1889.0,200.0 Z" fill="#e8141e"/><line x1="1745" y1="208" x2="1694.0509667991878" y2="258.9490332008122" stroke="#1e28e6" stroke-width="5"/><path d="M1685,268 L1690.6568542494924,251.0294372515229 L1701.9705627484773,262.34314575050763 Z" fill="#1e28e6"/><line x1="1812" y1="512" x2="1812.0" y2="379.8" stroke="#1ec81e" stroke-width="5"/><path d="M1812,367 L1820.0,383.0 L1804.0,383.0 Z" fill="#1ec81e"/><line x1="1812" y1="512" x2="1901.5138314173562" y2="449.3403180078506" stroke="#e8141e" stroke-width="5"/><path d="M1912,442 L1903.4799880266019,457.72925287396555 L1894.3045905167887,444.62154214566095 Z" fill="#e8141e"/><line x1="1812" y1="512" x2="1852.9490332008122" y2="552.9490332008122" stroke="#1e28e6" stroke-width="5"/><path d="M1862,562 L1845.0294372515227,556.3431457505077 L1856.3431457505076,545.0294372515228 Z" fill="#1e28e6"/><line x1="1437" y1="545" x2="1437.0" y2="442.8" stroke="#1ec81e" stroke-width="5"/><path d="M1437,430 L1445.0,446.0 L1429.0,446.0 Z" fill="#1ec81e"/><line x1="1437" y1="545" x2="1353.5678443378372" y2="505.4795052126598" stroke="#e8141e" stroke-width="5"/><path d="M1342,500 L1359.884496180209,499.61947880467636 L1353.035114664384,514.079284226973 Z" fill="#e8141e"/><line x1="1437" y1="545" x2="1476.0240905508795" y2="521.5855456694724" stroke="#1e28e6" stroke-width="5"/><path d="M1487,515 L1477.3960792320195,530.0918754925408 L1469.164147145179,516.37198868114 Z" fill="#1e28e6"/><line x1="1218" y1="828" x2="1218.0" y2="680.8" stroke="#1ec81e" stroke-width="5"/><path d="M1218,668 L1226.0,684.0 L1210.0,684.0 Z" fill="#1ec81e"/><line x1="1218" y1="828" x2="1070.8" y2="828.0" stroke="#e8141e" stroke-width="5"/><path d="M1058,828 L1074.0,820.0 L1074.0,836.0 Z" fill="#e8141e"/><line x1="1218" y1="828" x2="1263.9490332008122" y2="782.0509667991878" stroke="#1e28e6" stroke-width="5"/><path d="M1273,773 L1267.3431457505076,789.9705627484772 L1256.0294372515227,778.6568542494923 Z" fill="#1e28e6"/><line x1="1595" y1="828" x2="1595.0" y2="685.8" stroke="#1ec81e" stroke-width="5"/><path d="M1595,673 L1603.0,689.0 L1587.0,689.0 Z" fill="#1ec81e"/><line x1="1595" y1="828" x2="1552.4398488796044" y2="768.4157884314462" stroke="#e8141e" stroke-width="5"/><path d="M1545,758 L1560.8096788691596,766.3698299895549 L1547.7899433298517,775.6696410890605 Z" fill="#e8141e"/><line x1="1595" y1="828" x2="1737.2" y2="828.0" stroke="#1e28e6" stroke-width="5"/><path d="M1750,828 L1734.0,836.0 L1734.0,820.0 Z" fill="#1e28e6"/><g fill="none" stroke="#111" stroke-width="3" stroke-linejoin="round"><path d="M718,345 L775,380 L770,410 L735,418 Z"/><line x1="775" y1="410" x2="718" y2="345"/><line x1="775" y1="410" x2="775" y2="380"/><line x1="775" y1="410" x2="770" y2="410"/><line x1="775" y1="410" x2="735" y2="418"/></g><g fill="none" stroke="#111" stroke-width="3" stroke-linejoin="round"><path d="M900,365 L935,398 L905,395 L960,340 Z"/><line x1="968" y1="335" x2="900" y2="365"/><line x1="968" y1="335" x2="935" y2="398"/><line x1="968" y1="335" x2="905" y2="395"/><line x1="968" y1="335" x2="960" y2="340"/></g><g fill="none" stroke="#111" stroke-width="3" stroke-linejoin="round"><path d="M595,462 L630,487 L620,515 L575,505 Z"/><line x1="540" y1="485" x2="595" y2="462"/><line x1="540" y1="485" x2="630" y2="487"/><line x1="540" y1="485" x2="620" y2="515"/><line x1="540" y1="485" x2="575" y2="505"/></g><g fill="none" stroke="#111" stroke-width="3" stroke-linejoin="round"><path d="M655,605 L688,625 L685,650 L650,640 Z"/><line x1="600" y1="675" x2="655" y2="605"/><line x1="600" y1="675" x2="688" y2="625"/><line x1="600" y1="675" x2="685" y2="650"/><line x1="600" y1="675" x2="650" y2="640"/></g><g fill="none" stroke="#111" stroke-width="3" stroke-linejoin="round"><path d="M1540,370 L1575,405 L1545,400 L1600,345 Z"/><line x1="1610" y1="335" x2="1540" y2="370"/><line x1="1610" y1="335" x2="1575" y2="405"/><line x1="1610" y1="335" x2="1545" y2="400"/><line x1="1610" y1="335" x2="1600" y2="345"/></g><g fill="none" stroke="#111" stroke-width="3" stroke-linejoin="round"><path d="M1628,485 L1645,520 L1630,515 L1690,480 Z"/><line x1="1705" y1="472" x2="1628" y2="485"/><line x1="1705" y1="472" x2="1645" y2="520"/><line x1="1705" y1="472" x2="1630" y2="515"/><line x1="1705" y1="472" x2="1690" y2="480"/></g><g fill="none" stroke="#111" stroke-width="3" stroke-linejoin="round"><path d="M1295,603 L1340,625 L1335,645 L1300,640 Z"/><line x1="1258" y1="665" x2="1295" y2="603"/><line x1="1258" y1="665" x2="1340" y2="625"/><line x1="1258" y1="665" x2="1335" y2="645"/><line x1="1258" y1="665" x2="1300" y2="640"/></g><g fill="none" stroke="#111" stroke-width="3" stroke-linejoin="round"><path d="M1505,595 L1540,590 L1520,625 L1505,610 Z"/><line x1="1560" y1="660" x2="1505" y2="595"/><line x1="1560" y1="660" x2="1540" y2="590"/><line x1="1560" y1="660" x2="1520" y2="625"/><line x1="1560" y1="660" x2="1505" y2="610"/></g><line x1="1485" y1="105" x2="745" y2="920" stroke="#111" stroke-width="4" stroke-dasharray="16 10"/><text x="808" y="209" font-family="Liberation Serif" font-size="60" fill="#111" letter-spacing="2">···</text><text x="808" y="357" font-family="Liberation Serif" font-size="60" fill="#111" letter-spacing="2">···</text><text x="1403" y="667" font-family="Liberation Serif" font-size="60" fill="#111" letter-spacing="2">···</text><text x="1363" y="867" font-family="Liberation Serif" font-size="60" fill="#111" letter-spacing="2">···</text><text x="385" y="103" font-family="Liberation Serif" font-style="italic" font-size="66" fill="#111">view<tspan font-size="46" dy="12" font-style="normal">3</tspan></text><text x="830" y="80" font-family="Liberation Serif" font-style="italic" font-size="66" fill="#111">view<tspan font-size="46" dy="12" font-style="italic">n</tspan></text><text x="1865" y="120" font-family="Liberation Serif" font-style="italic" font-size="66" fill="#111">view<tspan font-size="46" dy="12" font-style="normal">1</tspan></text><text x="178" y="385" font-family="Liberation Serif" font-style="italic" font-size="66" fill="#111">view<tspan font-size="46" dy="12" font-style="normal">2</tspan></text><text x="1915" y="400" font-family="Liberation Serif" font-style="italic" font-size="66" fill="#111">view<tspan font-size="46" dy="12" font-style="normal">2</tspan></text><text x="165" y="724" font-family="Liberation Serif" font-style="italic" font-size="66" fill="#111">view<tspan font-size="46" dy="12" font-style="normal">1</tspan></text><text x="1310" y="744" font-family="Liberation Serif" font-style="italic" font-size="66" fill="#111">view<tspan font-size="46" dy="12" font-style="italic">n</tspan></text><text x="1700" y="744" font-family="Liberation Serif" font-style="italic" font-size="66" fill="#111">view<tspan font-size="46" dy="12" font-style="normal">3</tspan></text><text x="248" y="1008" font-family="Liberation Serif" font-size="62" fill="#111" textLength="357" lengthAdjust="spacingAndGlyphs">(a) Symmetric</text><text x="1105" y="1008" font-family="Liberation Serif" font-size="62" fill="#111" textLength="565" lengthAdjust="spacingAndGlyphs">(b) Partial Observation</text></svg>
<div class="h2" style="left:157px;top:1454px;color:#1b1b8a">Main challenges</div>
<div class="a t40" style="left:160px;top:1512px;font-weight:bold;font-style:italic;line-height:58px;white-space:nowrap"><span style="display:inline-block;width:43px;font-style:normal;font-weight:normal">&#8226;</span>How to deal with the multi-hypothesis issue?<br><span style="display:inline-block;width:43px;font-style:normal;font-weight:normal">&#8226;</span>How to aggregate the sampled pose candidates?</div>

<!-- Key idea -->
<svg style="left:0;top:0" width="4320" height="2880" viewBox="0 0 4320 2880"><defs><radialGradient id="emg" cx="0.45" cy="0.3" r="0.75"><stop offset="0" stop-color="#fff6c8"/><stop offset="0.25" stop-color="#fbd24a"/><stop offset="0.75" stop-color="#f3a523"/><stop offset="1" stop-color="#e27a1c"/></radialGradient></defs><rect x="1589" y="781" width="701.5" height="142" rx="22" fill="#fff" stroke="#000" stroke-width="2.6"/><rect x="1589" y="1106" width="701.5" height="142" rx="22" fill="#fff" stroke="#000" stroke-width="2.6"/><rect x="1589" y="1431" width="701.5" height="143" rx="22" fill="#fff" stroke="#000" stroke-width="2.6"/><path d="M1917,947 H1962 V975 H1986 L1939,1002 L1892,975 H1917 Z" fill="#fff" stroke="#000" stroke-width="2.6" stroke-linejoin="miter"/><path d="M1917,1277 H1962 V1305 H1986 L1939,1332 L1892,1305 H1917 Z" fill="#fff" stroke="#000" stroke-width="2.6" stroke-linejoin="miter"/><circle cx="2254" cy="820.6" r="21.3" fill="url(#emg)"/><circle cx="2247.7" cy="816.3000000000001" r="2.6" fill="#8a4a20"/><circle cx="2260.3" cy="816.3000000000001" r="2.6" fill="#8a4a20"/><path d="M2245,830.1 Q2254,825.6 2263,828.1" fill="none" stroke="#8a4a20" stroke-width="1.8" stroke-linecap="round"/><circle cx="2254" cy="884.6" r="21.3" fill="url(#emg)"/><path d="M2244,882.6 Q2247.5,875.6 2251,882.6" fill="none" stroke="#8a4a20" stroke-width="2" stroke-linecap="round"/><path d="M2257,882.6 Q2260.5,875.6 2264,882.6" fill="none" stroke="#8a4a20" stroke-width="2" stroke-linecap="round"/><path d="M2243,889.6 Q2254,901.6 2265,889.6" fill="none" stroke="#8a4a20" stroke-width="2.2" stroke-linecap="round"/><circle cx="2254" cy="1145.6" r="21.3" fill="url(#emg)"/><circle cx="2247.7" cy="1141.3" r="2.6" fill="#8a4a20"/><circle cx="2260.3" cy="1141.3" r="2.6" fill="#8a4a20"/><path d="M2245,1155.1 Q2254,1150.6 2263,1153.1" fill="none" stroke="#8a4a20" stroke-width="1.8" stroke-linecap="round"/><circle cx="2254" cy="1209.6" r="21.3" fill="url(#emg)"/><path d="M2244,1207.6 Q2247.5,1200.6 2251,1207.6" fill="none" stroke="#8a4a20" stroke-width="2" stroke-linecap="round"/><path d="M2257,1207.6 Q2260.5,1200.6 2264,1207.6" fill="none" stroke="#8a4a20" stroke-width="2" stroke-linecap="round"/><path d="M2243,1214.6 Q2254,1226.6 2265,1214.6" fill="none" stroke="#8a4a20" stroke-width="2.2" stroke-linecap="round"/><circle cx="2254" cy="1470.6" r="21.3" fill="url(#emg)"/><circle cx="2247.7" cy="1466.3" r="2.6" fill="#8a4a20"/><circle cx="2260.3" cy="1466.3" r="2.6" fill="#8a4a20"/><path d="M2245,1480.1 Q2254,1475.6 2263,1478.1" fill="none" stroke="#8a4a20" stroke-width="1.8" stroke-linecap="round"/><circle cx="2254" cy="1534.6" r="21.3" fill="url(#emg)"/><path d="M2244,1532.6 Q2247.5,1525.6 2251,1532.6" fill="none" stroke="#8a4a20" stroke-width="2" stroke-linecap="round"/><path d="M2257,1532.6 Q2260.5,1525.6 2264,1532.6" fill="none" stroke="#8a4a20" stroke-width="2" stroke-linecap="round"/><path d="M2243,1539.6 Q2254,1551.6 2265,1539.6" fill="none" stroke="#8a4a20" stroke-width="2.2" stroke-linecap="round"/><ellipse cx="2443.6" cy="748.8" rx="105" ry="57.5" fill="none" stroke="#000" stroke-width="3" transform="rotate(-3 2443.6 748.8)"/><path d="M2339.6,718.8 Q2358.6,700.8 2390.6,694.8" fill="none" stroke="#000" stroke-width="2.6" stroke-linecap="round"/><path d="M2497.6,803.8 Q2538.6,793.8 2555.6,762.8" fill="none" stroke="#000" stroke-width="2.6" stroke-linecap="round"/><ellipse cx="2326.1" cy="790.8" rx="20.5" ry="12.3" fill="none" stroke="#000" stroke-width="2.6" transform="rotate(22 2326.1 790.8)"/><ellipse cx="2300.1" cy="802.3" rx="9.5" ry="5" fill="none" stroke="#000" stroke-width="2.4" transform="rotate(15 2300.1 802.3)"/><ellipse cx="2281.6" cy="810.8" rx="5.5" ry="2.8" fill="none" stroke="#000" stroke-width="2"/><text x="2351.7" y="757" font-family="Liberation Sans" font-size="34" fill="#2f4858" textLength="185.3" lengthAdjust="spacingAndGlyphs">one-to-many</text><ellipse cx="2443.6" cy="1069" rx="105" ry="57.5" fill="none" stroke="#000" stroke-width="3" transform="rotate(-3 2443.6 1069)"/><path d="M2339.6,1039 Q2358.6,1021 2390.6,1015" fill="none" stroke="#000" stroke-width="2.6" stroke-linecap="round"/><path d="M2497.6,1124 Q2538.6,1114 2555.6,1083" fill="none" stroke="#000" stroke-width="2.6" stroke-linecap="round"/><ellipse cx="2326.1" cy="1111" rx="20.5" ry="12.3" fill="none" stroke="#000" stroke-width="2.6" transform="rotate(22 2326.1 1111)"/><ellipse cx="2300.1" cy="1122.5" rx="9.5" ry="5" fill="none" stroke="#000" stroke-width="2.4" transform="rotate(15 2300.1 1122.5)"/><ellipse cx="2281.6" cy="1131" rx="5.5" ry="2.8" fill="none" stroke="#000" stroke-width="2"/><text x="2391" y="1083" font-family="Liberation Sans" font-size="34" fill="#2f4858" textLength="106" lengthAdjust="spacingAndGlyphs">outliers</text><ellipse cx="2443.6" cy="1394" rx="105" ry="57.5" fill="none" stroke="#000" stroke-width="3" transform="rotate(-3 2443.6 1394)"/><path d="M2339.6,1364 Q2358.6,1346 2390.6,1340" fill="none" stroke="#000" stroke-width="2.6" stroke-linecap="round"/><path d="M2497.6,1449 Q2538.6,1439 2555.6,1408" fill="none" stroke="#000" stroke-width="2.6" stroke-linecap="round"/><ellipse cx="2326.1" cy="1436" rx="20.5" ry="12.3" fill="none" stroke="#000" stroke-width="2.6" transform="rotate(22 2326.1 1436)"/><ellipse cx="2300.1" cy="1447.5" rx="9.5" ry="5" fill="none" stroke="#000" stroke-width="2.4" transform="rotate(15 2300.1 1447.5)"/><ellipse cx="2281.6" cy="1456" rx="5.5" ry="2.8" fill="none" stroke="#000" stroke-width="2"/><text x="2401" y="1378" font-family="Liberation Sans" font-size="34" fill="#2f4858" textLength="73" lengthAdjust="spacingAndGlyphs">time-</text><text x="2358" y="1419" font-family="Liberation Sans" font-size="34" fill="#2f4858" textLength="158" lengthAdjust="spacingAndGlyphs">consuming</text></svg>
<div class="h2" style="left:1556px;top:591px;color:#c55a11">Key idea</div>
<div class="a t40 nw" style="left:1560px;top:711px;font-style:italic;color:#5a5a5a">The multi-hypothesis issue?</div>
<div class="a t40 nw" style="left:1605px;top:799px">Regression-based model?</div>
<div class="a t40 nw" style="left:1605px;top:863px">Score-based <span class="em">generative</span> model!</div>
<div class="a t40 nw" style="left:1560px;top:1037.6px;font-style:italic;color:#5a5a5a">How to aggregate pose candidates?</div>
<div class="a t40 nw" style="left:1605px;top:1124px">Random sample or mean pooling?</div>
<div class="a t40 nw" style="left:1605px;top:1188.5px"><span class="em">Likelihood</span>-guide mean pooling!</div>
<div class="a t40 nw" style="left:1560px;top:1364px;font-style:italic;color:#5a5a5a">How to estimate likelihood?</div>
<div class="a t40 nw" style="left:1605px;top:1450px">Estimate likelihood by Integrating?</div>
<div class="a t40 nw" style="left:1605px;top:1513px"><span class="em">Energy</span>-based generative model!</div>

<svg style="left:0;top:0" width="4320" height="2880" viewBox="0 0 4320 2880">
<defs>
<pattern id="pdots" width="7" height="7" patternUnits="userSpaceOnUse"><circle cx="2" cy="2" r="1.7" fill="#fff" fill-opacity=".35"/><circle cx="5.5" cy="5.5" r="1.4" fill="#000" fill-opacity=".12"/></pattern>
<linearGradient id="pc1" x1="0" y1="0" x2="1" y2="1"><stop offset="0" stop-color="#b8dcd8"/><stop offset=".35" stop-color="#c8b8e8"/><stop offset=".6" stop-color="#70c890"/><stop offset=".8" stop-color="#9878d8"/><stop offset="1" stop-color="#d048d0"/></linearGradient>
<linearGradient id="pc2" x1="0" y1="0" x2="0" y2="1"><stop offset="0" stop-color="#7878e0"/><stop offset=".45" stop-color="#a0a8e0"/><stop offset=".65" stop-color="#c8b0c8"/><stop offset="1" stop-color="#d8a060"/></linearGradient>
<linearGradient id="pc3" x1="0" y1="0" x2="1" y2="0.3"><stop offset="0" stop-color="#50d0e0"/><stop offset=".35" stop-color="#98a8e8"/><stop offset=".55" stop-color="#a8c878"/><stop offset=".8" stop-color="#e0b060"/><stop offset="1" stop-color="#d860c8"/></linearGradient>
<linearGradient id="pc4" x1="0" y1="0" x2="1" y2="1"><stop offset="0" stop-color="#e0a070"/><stop offset=".3" stop-color="#80c890"/><stop offset=".65" stop-color="#48a8a8"/><stop offset="1" stop-color="#5060d0"/></linearGradient>
<linearGradient id="pc5" x1="0" y1="0" x2="1" y2="0.4"><stop offset="0" stop-color="#40d8e0"/><stop offset=".35" stop-color="#9090e8"/><stop offset=".55" stop-color="#98c070"/><stop offset=".75" stop-color="#e8a850"/><stop offset="1" stop-color="#d050c8"/></linearGradient>
<radialGradient id="shad"><stop offset="0" stop-color="#000" stop-opacity=".18"/><stop offset="1" stop-color="#000" stop-opacity="0"/></radialGradient>
</defs>
<line x1="3103" y1="667" x2="3103" y2="1616" stroke="#111" stroke-width="4.5" stroke-dasharray="16 9"/>
<rect x="2612" y="667" width="474" height="649" rx="22" fill="none" stroke="#222" stroke-width="2.2" stroke-dasharray="11 7"/>
<rect x="2630.5" y="697" width="154.0999999999999" height="571" rx="16" fill="none" stroke="#222" stroke-width="2.2"/>
<text x="2708" y="740" font-family="Liberation Serif" font-size="30" fill="#111" text-anchor="middle">{(<tspan font-weight="bold" font-style="italic">p</tspan><tspan font-style="italic" font-size="19" dy="5">i</tspan><tspan dy="-5">, </tspan><tspan font-style="italic">O</tspan><tspan font-style="italic" font-size="19" dy="5">i</tspan><tspan dy="-5">)}</tspan><tspan font-style="italic" font-size="19" dy="-12">n</tspan><tspan font-size="19" dx="-10" dy="21">i=1</tspan></text>
<ellipse cx="2705" cy="872" rx="58" ry="12" fill="url(#shad)"/>
<path d="M2705 831h0M2681 846h0M2717 824h0M2694 849h0M2727 782h0M2704 825h0M2720 796h0M2682 857h0M2707 837h0M2715 813h0M2700 847h0M2693 867h0M2687 848h0M2718 828h0M2685 849h0M2700 826h0M2691 861h0" stroke="#b4b4cc" stroke-width="5.2" stroke-linecap="round"/><path d="M2725 856h0M2733 805h0M2728 845h0M2744 789h0M2739 825h0M2741 779h0M2718 860h0M2745 814h0M2689 867h0M2734 832h0M2694 853h0M2719 846h0M2694 852h0M2736 810h0M2732 843h0M2688 874h0M2724 830h0M2701 844h0M2710 841h0M2727 847h0M2707 873h0M2699 877h0M2721 863h0" stroke="#9c84b4" stroke-width="5.2" stroke-linecap="round"/><path d="M2745 845h0M2737 864h0" stroke="#e484e4" stroke-width="5.2" stroke-linecap="round"/><path d="M2727 837h0M2712 840h0M2713 832h0M2700 873h0M2706 853h0M2727 797h0M2712 839h0M2711 840h0M2713 827h0M2690 852h0M2731 819h0M2737 799h0M2688 862h0M2720 827h0M2737 822h0M2713 829h0M2725 820h0M2715 826h0M2707 854h0" stroke="#b49ccc" stroke-width="5.2" stroke-linecap="round"/><path d="M2697 874h0M2720 839h0M2728 796h0M2715 827h0M2713 828h0M2697 864h0M2714 828h0M2718 825h0M2712 852h0M2684 856h0M2695 855h0M2680 871h0M2701 853h0M2688 845h0M2692 865h0M2730 794h0M2721 805h0M2702 872h0" stroke="#9c9ccc" stroke-width="5.2" stroke-linecap="round"/><path d="M2756 821h0M2733 832h0M2740 823h0M2718 874h0M2734 857h0M2748 834h0M2730 863h0M2736 854h0M2742 840h0M2731 863h0M2726 875h0M2733 831h0M2718 873h0M2750 811h0M2742 859h0" stroke="#9c6cb4" stroke-width="5.2" stroke-linecap="round"/><path d="M2724 854h0M2750 808h0M2713 861h0M2713 862h0M2730 869h0M2727 831h0M2745 836h0M2718 869h0M2753 801h0M2728 836h0M2724 845h0M2731 860h0M2739 850h0M2740 827h0M2711 856h0M2728 858h0M2723 866h0M2720 874h0M2717 870h0M2752 822h0M2708 876h0M2719 867h0M2716 875h0M2741 845h0M2724 842h0M2723 871h0M2741 839h0M2715 873h0M2735 854h0" stroke="#b484cc" stroke-width="5.2" stroke-linecap="round"/><path d="M2762 852h0M2756 865h0M2743 872h0M2747 841h0M2755 856h0M2743 870h0" stroke="#b454b4" stroke-width="5.2" stroke-linecap="round"/><path d="M2661 856h0M2695 810h0M2691 824h0M2696 819h0M2710 788h0" stroke="#9cb49c" stroke-width="5.2" stroke-linecap="round"/><path d="M2675 849h0M2705 779h0M2698 810h0M2714 796h0M2680 835h0M2709 772h0M2683 849h0M2683 827h0M2709 812h0M2719 797h0M2716 807h0M2683 835h0" stroke="#849c9c" stroke-width="5.2" stroke-linecap="round"/><path d="M2701 794h0M2681 835h0M2680 846h0M2688 844h0M2691 842h0M2694 839h0M2708 795h0M2697 827h0M2671 853h0M2675 865h0M2677 864h0M2690 828h0M2691 823h0M2715 783h0M2710 808h0M2668 849h0M2719 781h0M2689 834h0M2697 828h0M2696 806h0M2690 836h0M2680 823h0M2675 849h0M2708 785h0M2677 840h0" stroke="#b4cccc" stroke-width="5.2" stroke-linecap="round"/><path d="M2688 866h0M2698 850h0M2701 856h0M2702 835h0M2722 796h0M2709 831h0M2698 871h0M2678 874h0M2680 861h0M2686 864h0M2717 820h0M2686 844h0M2736 779h0M2716 807h0M2736 794h0M2707 838h0M2702 844h0M2688 854h0M2732 790h0M2707 826h0M2691 873h0M2687 851h0" stroke="#b4b4e4" stroke-width="5.2" stroke-linecap="round"/><path d="M2691 803h0M2662 829h0M2663 839h0M2669 824h0M2707 790h0M2674 800h0M2671 826h0M2679 827h0M2672 826h0M2676 831h0M2675 794h0M2689 779h0M2691 815h0M2670 847h0M2660 849h0M2670 804h0M2669 847h0M2670 793h0M2664 817h0M2702 773h0M2664 810h0M2677 811h0M2700 772h0M2660 860h0M2680 803h0M2669 855h0M2657 826h0M2667 804h0M2659 845h0M2666 831h0M2674 825h0M2697 780h0M2701 805h0M2658 820h0M2669 836h0M2668 846h0M2664 831h0M2664 866h0M2707 785h0M2695 804h0" stroke="#9cccb4" stroke-width="5.2" stroke-linecap="round"/><path d="M2708 832h0M2716 826h0M2677 861h0M2737 798h0M2701 827h0M2667 858h0M2688 849h0M2705 833h0M2694 821h0M2679 851h0M2688 847h0M2703 818h0M2731 810h0M2710 834h0M2711 804h0M2685 868h0M2715 844h0M2705 828h0M2700 820h0M2705 823h0M2680 865h0M2714 822h0M2683 858h0M2726 789h0M2696 847h0M2695 845h0M2699 822h0M2704 803h0M2710 840h0M2697 840h0M2674 852h0" stroke="#9c9cb4" stroke-width="5.2" stroke-linecap="round"/><path d="M2756 859h0M2747 857h0M2750 862h0M2746 863h0M2751 860h0M2755 833h0M2753 830h0M2757 864h0" stroke="#cc6ce4" stroke-width="5.2" stroke-linecap="round"/><path d="M2760 865h0" stroke="#b43cb4" stroke-width="5.2" stroke-linecap="round"/><path d="M2717 862h0M2723 852h0M2710 876h0M2736 797h0M2700 859h0M2750 815h0M2740 822h0M2734 806h0M2728 838h0M2721 871h0M2743 826h0M2742 824h0M2749 834h0M2727 838h0M2720 844h0M2711 876h0M2752 804h0M2718 851h0M2749 823h0M2746 808h0M2739 807h0M2748 812h0" stroke="#cc9ce4" stroke-width="5.2" stroke-linecap="round"/><path d="M2684 819h0M2676 828h0M2665 844h0M2668 815h0M2677 837h0" stroke="#84cc9c" stroke-width="5.2" stroke-linecap="round"/><path d="M2718 785h0M2689 848h0M2729 778h0" stroke="#b4cce4" stroke-width="5.2" stroke-linecap="round"/><path d="M2733 874h0M2737 858h0M2753 845h0M2755 829h0M2746 835h0M2732 871h0M2751 834h0M2750 872h0M2730 870h0M2736 872h0M2743 829h0M2753 849h0M2734 853h0M2754 842h0M2747 869h0M2742 867h0" stroke="#b46ccc" stroke-width="5.2" stroke-linecap="round"/><path d="M2733 856h0M2724 868h0M2737 854h0M2711 874h0M2740 813h0M2746 836h0M2728 856h0M2742 826h0M2729 873h0M2743 850h0M2724 865h0M2759 852h0M2747 845h0M2734 858h0M2749 837h0M2753 834h0M2722 865h0M2719 867h0" stroke="#cc84e4" stroke-width="5.2" stroke-linecap="round"/><path d="M2755 864h0M2749 867h0M2753 869h0M2759 868h0" stroke="#e454e4" stroke-width="5.2" stroke-linecap="round"/><path d="M2718 838h0M2718 828h0M2724 809h0M2715 855h0M2722 809h0M2705 871h0M2680 873h0M2708 855h0M2703 841h0M2719 859h0M2752 795h0M2719 839h0M2686 861h0" stroke="#b49ce4" stroke-width="5.2" stroke-linecap="round"/><path d="M2663 851h0M2713 788h0M2713 784h0M2683 833h0M2715 779h0M2689 830h0M2684 848h0M2670 874h0M2713 797h0M2688 824h0M2673 865h0M2675 867h0M2690 812h0M2721 774h0M2686 849h0M2693 817h0M2688 836h0M2694 824h0M2662 856h0M2680 833h0M2675 840h0M2694 827h0M2684 845h0M2683 856h0M2703 819h0M2671 874h0M2690 821h0M2698 825h0M2669 855h0M2686 820h0M2696 815h0M2694 822h0M2672 874h0M2695 820h0M2717 787h0" stroke="#9cb4b4" stroke-width="5.2" stroke-linecap="round"/><path d="M2673 819h0M2696 782h0M2676 821h0M2679 833h0M2657 833h0M2704 778h0M2682 815h0M2688 775h0M2665 845h0M2707 773h0M2663 864h0M2671 832h0M2661 843h0" stroke="#9ccc9c" stroke-width="5.2" stroke-linecap="round"/><path d="M2724 824h0M2744 804h0M2715 838h0M2732 821h0M2692 871h0M2703 858h0M2706 844h0" stroke="#ccb4fc" stroke-width="5.2" stroke-linecap="round"/><path d="M2669 820h0M2666 849h0M2674 820h0M2661 800h0M2663 831h0M2687 807h0M2673 827h0M2664 859h0M2659 823h0M2670 813h0M2681 820h0M2678 808h0M2681 781h0M2712 784h0M2657 829h0M2671 839h0M2685 836h0M2699 795h0M2673 834h0M2684 798h0M2687 798h0M2665 832h0M2664 827h0M2692 808h0M2693 776h0M2658 856h0M2672 822h0M2675 824h0M2658 837h0M2670 839h0" stroke="#84b49c" stroke-width="5.2" stroke-linecap="round"/><path d="M2727 857h0M2735 859h0M2738 870h0M2737 877h0M2743 847h0M2712 873h0M2756 832h0M2754 832h0M2747 849h0M2740 830h0M2723 867h0M2757 843h0" stroke="#b46cb4" stroke-width="5.2" stroke-linecap="round"/><path d="M2755 822h0M2733 853h0" stroke="#b484e4" stroke-width="5.2" stroke-linecap="round"/><path d="M2766 866h0M2747 866h0M2760 854h0M2740 876h0M2740 876h0M2761 848h0M2762 854h0M2763 855h0" stroke="#cc54cc" stroke-width="5.2" stroke-linecap="round"/><path d="M2733 863h0M2747 832h0M2727 874h0" stroke="#cc84cc" stroke-width="5.2" stroke-linecap="round"/><path d="M2735 779h0" stroke="#849cb4" stroke-width="5.2" stroke-linecap="round"/><path d="M2713 871h0" stroke="#cc9cfc" stroke-width="5.2" stroke-linecap="round"/><path d="M2695 841h0M2694 845h0M2676 849h0M2724 792h0M2685 839h0M2693 834h0" stroke="#9cb4cc" stroke-width="5.2" stroke-linecap="round"/><path d="M2709 828h0M2705 851h0M2734 800h0M2744 787h0M2689 843h0M2702 837h0M2692 846h0M2728 787h0M2720 833h0M2693 862h0" stroke="#ccb4e4" stroke-width="5.2" stroke-linecap="round"/><path d="M2661 804h0M2679 791h0M2681 803h0M2682 790h0M2671 787h0" stroke="#9ce4cc" stroke-width="5.2" stroke-linecap="round"/><path d="M2701 869h0M2714 842h0M2739 814h0M2727 821h0M2720 842h0" stroke="#9c84cc" stroke-width="5.2" stroke-linecap="round"/><path d="M2762 860h0" stroke="#b454cc" stroke-width="5.2" stroke-linecap="round"/><path d="M2657 838h0M2695 799h0M2695 782h0M2701 779h0M2659 836h0M2706 784h0M2691 791h0M2676 828h0M2697 790h0" stroke="#9ce4b4" stroke-width="5.2" stroke-linecap="round"/><path d="M2687 843h0" stroke="#9ccccc" stroke-width="5.2" stroke-linecap="round"/><path d="M2680 791h0M2689 779h0M2679 779h0M2667 789h0" stroke="#b4e4cc" stroke-width="5.2" stroke-linecap="round"/><path d="M2744 861h0M2758 863h0M2742 864h0" stroke="#cc6ccc" stroke-width="5.2" stroke-linecap="round"/><path d="M2682 823h0M2694 798h0M2658 856h0M2660 859h0" stroke="#84b484" stroke-width="5.2" stroke-linecap="round"/><path d="M2743 875h0M2757 860h0" stroke="#e46ce4" stroke-width="5.2" stroke-linecap="round"/><path d="M2744 876h0" stroke="#cc54e4" stroke-width="5.2" stroke-linecap="round"/><path d="M2758 869h0" stroke="#cc3ccc" stroke-width="5.2" stroke-linecap="round"/><path d="M2670 836h0" stroke="#b4e4b4" stroke-width="5.2" stroke-linecap="round"/><path d="M2667 802h0" stroke="#84b4b4" stroke-width="5.2" stroke-linecap="round"/>
<line x1="2707" y1="846" x2="2699.81744565165" y2="860.3651086967005" stroke="#2020e0" stroke-width="3"/>
<path d="M2697,866 L2697.4472135955,856.1613008990009 L2700.0186917696246,859.9626164607506 L2704.602631123499,859.7390096630006 Z" fill="#2020e0"/>
<line x1="2707" y1="846" x2="2754.850021520841" y2="835.3666618842575" stroke="#e02020" stroke-width="3"/>
<path d="M2761,834 L2753.082038289619,839.8571223611037 L2754.4107373437582,835.464280590276 L2751.34659462707,832.0476258796322 Z" fill="#e02020"/>
<line x1="2707" y1="846" x2="2700.079449400933" y2="806.206834055364" stroke="#20c820" stroke-width="3"/>
<path d="M2699,800 L2704.48291759204,808.1815410943722 L2700.156552929571,806.6501793450328 L2696.601223553482,809.552270492382 Z" fill="#20c820"/>
<ellipse cx="2708" cy="992" rx="40" ry="10" fill="url(#shad)"/>
<path d="M2707 960h0M2687 966h0M2716 964h0M2711 968h0M2683 961h0M2715 960h0M2680 964h0M2720 967h0M2719 966h0" stroke="#b49c9c" stroke-width="5.2" stroke-linecap="round"/><path d="M2694 977h0" stroke="#ccb46c" stroke-width="5.2" stroke-linecap="round"/><path d="M2713 960h0M2699 958h0M2731 958h0M2728 952h0M2712 956h0M2691 947h0M2715 941h0M2712 948h0M2721 953h0M2727 952h0M2732 951h0M2688 956h0M2709 957h0M2704 951h0M2690 946h0M2713 958h0M2702 948h0" stroke="#b49ccc" stroke-width="5.2" stroke-linecap="round"/><path d="M2687 987h0M2708 992h0M2679 979h0M2688 978h0M2694 985h0M2725 984h0M2700 979h0M2692 979h0M2678 980h0M2701 985h0M2724 987h0M2716 986h0M2727 978h0" stroke="#e4b46c" stroke-width="5.2" stroke-linecap="round"/><path d="M2681 963h0M2688 964h0M2716 961h0M2713 963h0M2710 959h0M2726 962h0M2695 960h0M2726 961h0M2690 957h0M2690 954h0M2728 961h0" stroke="#b49cb4" stroke-width="5.2" stroke-linecap="round"/><path d="M2710 899h0M2735 907h0M2692 898h0M2712 905h0M2732 901h0M2693 903h0M2739 902h0M2720 900h0M2728 896h0M2693 900h0" stroke="#8484fc" stroke-width="5.2" stroke-linecap="round"/><path d="M2683 935h0M2722 932h0M2721 927h0M2728 934h0M2703 930h0M2726 935h0M2738 931h0M2691 932h0M2720 941h0M2724 925h0M2711 927h0" stroke="#849ccc" stroke-width="5.2" stroke-linecap="round"/><path d="M2717 907h0M2731 903h0M2697 917h0M2689 902h0M2723 908h0M2703 897h0M2714 903h0M2729 915h0M2711 906h0M2735 898h0M2698 913h0M2704 906h0M2731 899h0M2713 897h0" stroke="#6c6cb4" stroke-width="5.2" stroke-linecap="round"/><path d="M2687 977h0M2731 980h0M2685 979h0M2683 980h0M2682 981h0M2709 981h0" stroke="#cc9c6c" stroke-width="5.2" stroke-linecap="round"/><path d="M2715 940h0M2692 924h0M2723 927h0M2697 921h0M2684 930h0M2710 923h0M2689 918h0" stroke="#8484b4" stroke-width="5.2" stroke-linecap="round"/><path d="M2700 928h0M2699 923h0M2729 920h0M2688 923h0M2693 934h0M2736 931h0M2734 935h0M2703 936h0M2735 937h0M2728 929h0M2730 935h0M2685 943h0M2701 921h0M2706 938h0M2719 919h0M2680 925h0M2684 920h0M2733 927h0M2683 926h0M2731 932h0M2684 943h0M2687 914h0M2704 936h0" stroke="#9c9ce4" stroke-width="5.2" stroke-linecap="round"/><path d="M2684 914h0M2738 928h0M2708 910h0M2700 914h0M2718 908h0M2720 900h0M2691 910h0M2696 906h0M2717 928h0M2736 905h0M2724 905h0M2707 895h0M2728 917h0M2717 923h0M2691 915h0M2716 906h0M2699 916h0M2733 898h0M2730 899h0M2710 901h0M2693 906h0M2721 913h0M2725 905h0M2717 909h0M2720 894h0M2726 908h0M2698 904h0M2722 911h0M2703 899h0" stroke="#8484e4" stroke-width="5.2" stroke-linecap="round"/><path d="M2729 943h0M2687 936h0M2683 938h0M2736 931h0" stroke="#9cb4fc" stroke-width="5.2" stroke-linecap="round"/><path d="M2704 945h0M2718 939h0M2703 945h0M2709 939h0M2737 946h0M2721 945h0M2697 952h0M2688 943h0M2734 935h0M2684 943h0M2697 942h0M2685 950h0M2733 948h0M2689 943h0M2714 947h0" stroke="#9c9ccc" stroke-width="5.2" stroke-linecap="round"/><path d="M2702 972h0M2720 961h0M2683 963h0M2723 970h0M2718 965h0M2711 969h0M2693 961h0" stroke="#cc9c9c" stroke-width="5.2" stroke-linecap="round"/><path d="M2690 919h0M2700 909h0M2704 915h0M2738 928h0M2686 914h0M2700 932h0M2687 918h0M2720 935h0M2683 919h0M2735 918h0M2728 929h0M2703 926h0M2736 928h0M2725 925h0M2705 926h0M2733 914h0M2690 916h0M2734 923h0M2688 918h0" stroke="#9c9cfc" stroke-width="5.2" stroke-linecap="round"/><path d="M2727 926h0" stroke="#6c84b4" stroke-width="5.2" stroke-linecap="round"/><path d="M2709 892h0M2717 890h0M2703 898h0M2717 890h0" stroke="#6c6ce4" stroke-width="5.2" stroke-linecap="round"/><path d="M2708 957h0M2684 947h0M2710 950h0M2729 946h0M2688 956h0M2682 945h0M2685 955h0M2686 951h0M2689 946h0M2730 949h0M2691 954h0" stroke="#ccb4e4" stroke-width="5.2" stroke-linecap="round"/><path d="M2694 991h0M2697 990h0M2689 993h0M2696 989h0M2729 986h0M2723 989h0" stroke="#e49c54" stroke-width="5.2" stroke-linecap="round"/><path d="M2723 912h0M2691 918h0M2730 910h0M2705 918h0M2730 916h0M2731 905h0" stroke="#6c84cc" stroke-width="5.2" stroke-linecap="round"/><path d="M2721 964h0M2717 952h0M2706 957h0M2685 964h0M2689 952h0M2712 966h0" stroke="#ccb4cc" stroke-width="5.2" stroke-linecap="round"/><path d="M2713 956h0" stroke="#e4b4cc" stroke-width="5.2" stroke-linecap="round"/><path d="M2726 934h0M2687 939h0M2698 930h0M2701 942h0M2733 935h0M2689 937h0M2720 938h0" stroke="#b4b4fc" stroke-width="5.2" stroke-linecap="round"/><path d="M2725 950h0M2692 939h0M2737 942h0M2720 940h0M2694 941h0M2716 939h0M2723 946h0M2726 945h0M2723 945h0M2734 948h0" stroke="#b4b4e4" stroke-width="5.2" stroke-linecap="round"/><path d="M2711 974h0M2692 982h0M2705 982h0M2706 975h0M2725 972h0M2693 968h0M2701 971h0M2733 982h0M2698 981h0M2690 969h0" stroke="#b49c6c" stroke-width="5.2" stroke-linecap="round"/><path d="M2697 963h0M2685 956h0M2709 956h0" stroke="#b4849c" stroke-width="5.2" stroke-linecap="round"/><path d="M2697 964h0M2687 962h0M2703 966h0M2729 965h0M2718 976h0M2698 973h0" stroke="#ccb49c" stroke-width="5.2" stroke-linecap="round"/><path d="M2705 908h0M2700 919h0M2709 928h0M2714 930h0M2690 924h0M2736 905h0M2719 928h0M2726 920h0M2734 923h0M2734 923h0M2707 927h0M2683 935h0M2726 927h0M2686 937h0M2737 911h0M2726 930h0M2738 925h0M2714 924h0M2707 908h0M2709 935h0M2718 914h0M2700 933h0M2686 910h0M2689 906h0M2702 932h0M2696 918h0M2710 937h0M2736 918h0M2732 920h0M2736 916h0M2741 909h0M2713 911h0M2713 917h0M2692 934h0M2696 925h0M2721 917h0M2687 928h0M2692 917h0M2697 920h0M2694 930h0M2728 914h0" stroke="#8484cc" stroke-width="5.2" stroke-linecap="round"/><path d="M2691 988h0M2691 990h0M2706 989h0M2701 995h0" stroke="#e4b454" stroke-width="5.2" stroke-linecap="round"/><path d="M2691 948h0M2702 945h0M2731 943h0M2705 955h0M2730 953h0M2697 959h0M2685 952h0M2690 959h0M2689 950h0" stroke="#9c84b4" stroke-width="5.2" stroke-linecap="round"/><path d="M2702 983h0M2691 989h0M2708 986h0M2705 989h0M2723 992h0M2702 987h0M2690 986h0M2701 983h0M2709 980h0M2698 984h0M2680 982h0M2687 986h0" stroke="#cc9c54" stroke-width="5.2" stroke-linecap="round"/><path d="M2684 958h0M2698 957h0M2694 962h0M2692 960h0" stroke="#ccb4b4" stroke-width="5.2" stroke-linecap="round"/><path d="M2729 907h0M2736 901h0M2740 904h0M2706 906h0M2719 905h0M2724 904h0M2722 899h0M2712 899h0M2721 900h0M2713 895h0M2736 899h0M2696 899h0M2725 908h0M2716 901h0M2708 905h0M2717 890h0M2732 909h0M2686 912h0M2741 900h0M2731 901h0M2704 900h0" stroke="#6c6ccc" stroke-width="5.2" stroke-linecap="round"/><path d="M2700 968h0M2730 969h0M2687 973h0M2691 967h0M2683 975h0M2715 966h0" stroke="#b49c84" stroke-width="5.2" stroke-linecap="round"/><path d="M2733 979h0M2711 973h0M2703 978h0M2717 977h0M2706 981h0M2699 979h0M2697 970h0M2730 973h0M2726 981h0M2700 971h0M2683 975h0" stroke="#e4b484" stroke-width="5.2" stroke-linecap="round"/><path d="M2711 959h0M2698 967h0M2715 956h0M2708 964h0M2705 965h0" stroke="#cc9cb4" stroke-width="5.2" stroke-linecap="round"/><path d="M2704 933h0M2691 933h0M2688 936h0M2697 934h0M2699 944h0M2709 928h0" stroke="#9cb4e4" stroke-width="5.2" stroke-linecap="round"/><path d="M2683 963h0M2705 963h0M2709 963h0M2729 969h0M2732 961h0M2707 971h0" stroke="#e4b4b4" stroke-width="5.2" stroke-linecap="round"/><path d="M2708 968h0M2735 974h0M2714 965h0M2723 974h0M2734 971h0M2686 964h0" stroke="#e4b49c" stroke-width="5.2" stroke-linecap="round"/><path d="M2738 921h0M2703 924h0M2705 917h0M2683 920h0M2729 915h0M2720 917h0" stroke="#849ce4" stroke-width="5.2" stroke-linecap="round"/><path d="M2724 943h0M2697 948h0M2712 939h0" stroke="#b49ce4" stroke-width="5.2" stroke-linecap="round"/><path d="M2712 974h0M2688 977h0" stroke="#ccb484" stroke-width="5.2" stroke-linecap="round"/><path d="M2711 996h0M2688 989h0" stroke="#cc9c3c" stroke-width="5.2" stroke-linecap="round"/><path d="M2705 987h0M2695 975h0M2698 993h0M2690 978h0" stroke="#b48454" stroke-width="5.2" stroke-linecap="round"/><path d="M2724 941h0M2688 944h0M2710 944h0" stroke="#9c9cb4" stroke-width="5.2" stroke-linecap="round"/><path d="M2684 960h0M2735 955h0" stroke="#cc9ccc" stroke-width="5.2" stroke-linecap="round"/><path d="M2703 992h0" stroke="#fcb454" stroke-width="5.2" stroke-linecap="round"/><path d="M2693 972h0M2711 973h0" stroke="#b4846c" stroke-width="5.2" stroke-linecap="round"/><path d="M2727 982h0M2717 980h0" stroke="#e49c6c" stroke-width="5.2" stroke-linecap="round"/><path d="M2699 959h0" stroke="#9c849c" stroke-width="5.2" stroke-linecap="round"/><path d="M2719 965h0M2711 971h0" stroke="#cc9c84" stroke-width="5.2" stroke-linecap="round"/><path d="M2720 893h0" stroke="#5454b4" stroke-width="5.2" stroke-linecap="round"/><path d="M2703 906h0" stroke="#849cfc" stroke-width="5.2" stroke-linecap="round"/>
<line x1="2700" y1="950" x2="2685.402205431989" y2="958.7586767408065" stroke="#2020e0" stroke-width="3"/>
<path d="M2680,962 L2685.6594533097027,953.9395664983022 L2685.7880772485596,958.5271536508642 L2689.775419353123,960.7995099040024 Z" fill="#2020e0"/>
<line x1="2700" y1="950" x2="2751.830659357105" y2="960.7235846945734" stroke="#e02020" stroke-width="3"/>
<path d="M2758,962 L2748.376233808292,964.0935912417049 L2751.389992168327,960.6324121727573 L2749.9970786405797,956.259507885648 Z" fill="#e02020"/>
<line x1="2700" y1="950" x2="2710.409742047974" y2="910.0959888161001" stroke="#20c820" stroke-width="3"/>
<path d="M2712,904 L2713.5986720152646,913.7182430401596 L2710.296152194258,910.5314165886787 L2705.8577338360897,911.6988678629835 Z" fill="#20c820"/>
<ellipse cx="2710" cy="1108" rx="48" ry="10" fill="url(#shad)"/>
<path d="M2686 1084h0M2689 1061h0M2700 1038h0M2689 1072h0M2696 1041h0M2703 1049h0" stroke="#9cb4cc" stroke-width="5.2" stroke-linecap="round"/><path d="M2679 1043h0M2674 1066h0M2684 1048h0M2678 1031h0M2667 1067h0M2668 1088h0M2670 1081h0M2686 1038h0M2670 1074h0M2686 1038h0M2669 1060h0M2675 1031h0M2667 1064h0M2672 1075h0M2682 1037h0M2673 1068h0M2681 1034h0M2674 1056h0M2681 1032h0" stroke="#6c9ccc" stroke-width="5.2" stroke-linecap="round"/><path d="M2730 1034h0M2717 1067h0" stroke="#9c9c6c" stroke-width="5.2" stroke-linecap="round"/><path d="M2736 1095h0M2746 1088h0M2732 1099h0" stroke="#e48484" stroke-width="5.2" stroke-linecap="round"/><path d="M2707 1090h0M2718 1087h0M2708 1109h0M2738 1042h0M2710 1105h0M2715 1059h0M2713 1096h0M2716 1062h0M2728 1033h0M2707 1092h0M2709 1107h0M2715 1084h0M2729 1048h0M2708 1089h0M2711 1059h0M2726 1048h0M2714 1104h0M2714 1063h0M2721 1086h0M2716 1084h0M2733 1041h0M2717 1096h0" stroke="#b4b46c" stroke-width="5.2" stroke-linecap="round"/><path d="M2696 1061h0M2689 1091h0M2686 1087h0M2700 1051h0M2693 1042h0" stroke="#849cb4" stroke-width="5.2" stroke-linecap="round"/><path d="M2737 1094h0M2746 1087h0" stroke="#e4849c" stroke-width="5.2" stroke-linecap="round"/><path d="M2713 1089h0M2700 1100h0M2715 1075h0M2699 1094h0M2701 1095h0M2717 1027h0M2723 1054h0M2702 1099h0M2708 1103h0M2696 1096h0" stroke="#b4cc6c" stroke-width="5.2" stroke-linecap="round"/><path d="M2703 1038h0M2701 1044h0M2693 1061h0M2678 1073h0M2684 1093h0M2681 1074h0M2687 1055h0M2698 1059h0M2687 1072h0" stroke="#9c9ccc" stroke-width="5.2" stroke-linecap="round"/><path d="M2685 1063h0M2694 1034h0M2671 1087h0M2678 1087h0M2677 1068h0M2690 1060h0M2674 1085h0M2682 1062h0M2679 1038h0" stroke="#849ccc" stroke-width="5.2" stroke-linecap="round"/><path d="M2680 1055h0M2675 1044h0M2677 1052h0M2670 1078h0M2667 1078h0M2681 1068h0M2673 1060h0M2683 1047h0M2684 1051h0M2675 1077h0M2685 1039h0" stroke="#84b4e4" stroke-width="5.2" stroke-linecap="round"/><path d="M2750 1057h0" stroke="#e49c9c" stroke-width="5.2" stroke-linecap="round"/><path d="M2736 1097h0M2747 1082h0" stroke="#b4846c" stroke-width="5.2" stroke-linecap="round"/><path d="M2696 1086h0M2695 1062h0M2707 1046h0M2693 1088h0M2698 1056h0M2698 1075h0M2708 1059h0M2706 1060h0" stroke="#b4ccb4" stroke-width="5.2" stroke-linecap="round"/><path d="M2693 1049h0M2676 1090h0M2693 1031h0M2675 1083h0M2682 1089h0M2694 1026h0M2685 1077h0" stroke="#9c9ce4" stroke-width="5.2" stroke-linecap="round"/><path d="M2672 1042h0M2666 1058h0M2667 1044h0" stroke="#54cce4" stroke-width="5.2" stroke-linecap="round"/><path d="M2713 1071h0M2724 1049h0M2708 1103h0M2715 1060h0M2722 1027h0M2716 1052h0M2705 1086h0M2700 1079h0M2714 1067h0M2706 1086h0M2725 1036h0M2725 1029h0M2705 1062h0M2715 1062h0M2701 1101h0M2706 1059h0M2712 1052h0M2701 1105h0M2702 1083h0M2714 1076h0M2717 1049h0M2702 1089h0M2709 1081h0" stroke="#9cb46c" stroke-width="5.2" stroke-linecap="round"/><path d="M2694 1030h0M2680 1048h0M2685 1083h0M2679 1084h0M2682 1041h0M2697 1034h0M2691 1044h0M2697 1041h0" stroke="#9cb4fc" stroke-width="5.2" stroke-linecap="round"/><path d="M2673 1049h0M2669 1065h0M2682 1036h0M2667 1078h0M2671 1045h0M2667 1048h0M2671 1059h0M2673 1035h0M2667 1069h0" stroke="#6cb4e4" stroke-width="5.2" stroke-linecap="round"/><path d="M2669 1064h0M2667 1042h0M2667 1063h0" stroke="#6cccfc" stroke-width="5.2" stroke-linecap="round"/><path d="M2740 1045h0M2728 1082h0M2724 1104h0M2726 1094h0M2741 1062h0M2724 1106h0M2733 1063h0M2725 1071h0M2730 1077h0M2731 1095h0M2737 1062h0M2745 1063h0M2722 1103h0M2731 1099h0" stroke="#cc9c54" stroke-width="5.2" stroke-linecap="round"/><path d="M2733 1039h0M2726 1060h0M2714 1102h0M2734 1038h0M2727 1073h0M2729 1062h0M2729 1074h0M2723 1082h0M2723 1106h0M2736 1049h0M2729 1038h0M2726 1057h0M2718 1107h0" stroke="#ccb46c" stroke-width="5.2" stroke-linecap="round"/><path d="M2693 1048h0M2689 1040h0M2686 1048h0M2692 1036h0M2691 1047h0" stroke="#8484b4" stroke-width="5.2" stroke-linecap="round"/><path d="M2666 1070h0M2667 1062h0" stroke="#6ccce4" stroke-width="5.2" stroke-linecap="round"/><path d="M2712 1033h0M2687 1093h0M2690 1063h0M2703 1028h0M2688 1095h0M2692 1071h0M2716 1025h0M2699 1034h0M2695 1048h0M2695 1061h0M2703 1045h0M2693 1082h0" stroke="#849c9c" stroke-width="5.2" stroke-linecap="round"/><path d="M2706 1055h0M2696 1078h0M2709 1033h0M2701 1077h0M2713 1041h0M2694 1075h0M2697 1086h0M2698 1077h0M2706 1038h0" stroke="#b4cc9c" stroke-width="5.2" stroke-linecap="round"/><path d="M2682 1087h0M2700 1055h0" stroke="#b4b4e4" stroke-width="5.2" stroke-linecap="round"/><path d="M2719 1098h0M2736 1042h0M2737 1062h0M2730 1063h0M2733 1061h0M2723 1066h0M2730 1061h0M2720 1078h0M2719 1108h0M2721 1085h0M2722 1090h0M2708 1108h0M2733 1035h0M2714 1102h0M2717 1097h0M2740 1070h0M2735 1058h0M2711 1108h0M2739 1054h0M2711 1103h0M2715 1102h0M2732 1080h0M2708 1097h0M2726 1064h0M2725 1106h0" stroke="#b49c54" stroke-width="5.2" stroke-linecap="round"/><path d="M2675 1070h0M2682 1072h0M2676 1085h0M2669 1080h0M2681 1085h0M2680 1087h0M2682 1064h0" stroke="#849ce4" stroke-width="5.2" stroke-linecap="round"/><path d="M2689 1030h0M2664 1064h0M2674 1037h0" stroke="#6c9cb4" stroke-width="5.2" stroke-linecap="round"/><path d="M2729 1032h0M2721 1077h0M2713 1104h0M2714 1075h0M2728 1042h0M2715 1081h0M2714 1108h0M2722 1085h0M2725 1058h0M2725 1049h0M2720 1047h0M2718 1057h0M2729 1043h0M2727 1077h0M2723 1068h0M2716 1085h0" stroke="#cccc6c" stroke-width="5.2" stroke-linecap="round"/><path d="M2701 1078h0M2714 1049h0M2726 1046h0M2706 1076h0M2711 1064h0M2706 1070h0M2697 1094h0M2704 1081h0M2724 1028h0M2719 1037h0M2705 1102h0M2701 1100h0M2714 1045h0M2718 1036h0" stroke="#b4cc84" stroke-width="5.2" stroke-linecap="round"/><path d="M2741 1059h0M2743 1067h0M2746 1068h0M2747 1090h0M2742 1099h0" stroke="#e49c84" stroke-width="5.2" stroke-linecap="round"/><path d="M2711 1039h0M2713 1039h0M2709 1027h0M2715 1023h0M2687 1092h0M2699 1069h0M2691 1069h0M2698 1072h0M2714 1043h0M2707 1042h0M2694 1075h0M2703 1061h0M2688 1092h0M2702 1053h0" stroke="#9cb49c" stroke-width="5.2" stroke-linecap="round"/><path d="M2680 1074h0M2671 1081h0M2684 1032h0M2671 1057h0M2671 1072h0M2682 1035h0M2667 1076h0M2671 1053h0" stroke="#84b4fc" stroke-width="5.2" stroke-linecap="round"/><path d="M2682 1089h0M2701 1026h0M2689 1060h0M2697 1053h0M2690 1074h0" stroke="#9c9cb4" stroke-width="5.2" stroke-linecap="round"/><path d="M2707 1077h0M2701 1086h0M2705 1060h0M2707 1069h0M2703 1048h0M2710 1026h0M2706 1056h0M2693 1088h0M2709 1053h0" stroke="#9cb484" stroke-width="5.2" stroke-linecap="round"/><path d="M2663 1062h0M2676 1036h0" stroke="#6cb4cc" stroke-width="5.2" stroke-linecap="round"/><path d="M2748 1096h0" stroke="#e46cb4" stroke-width="5.2" stroke-linecap="round"/><path d="M2674 1087h0M2675 1079h0M2693 1033h0M2687 1037h0M2675 1081h0M2691 1062h0" stroke="#8484cc" stroke-width="5.2" stroke-linecap="round"/><path d="M2743 1056h0M2735 1076h0M2727 1111h0M2739 1056h0" stroke="#cc9c6c" stroke-width="5.2" stroke-linecap="round"/><path d="M2703 1059h0" stroke="#9ccc9c" stroke-width="5.2" stroke-linecap="round"/><path d="M2669 1041h0M2672 1034h0" stroke="#54b4cc" stroke-width="5.2" stroke-linecap="round"/><path d="M2703 1031h0M2687 1070h0M2695 1074h0M2691 1068h0M2696 1062h0M2690 1089h0M2704 1042h0" stroke="#9cb4b4" stroke-width="5.2" stroke-linecap="round"/><path d="M2684 1036h0M2672 1076h0" stroke="#6c84b4" stroke-width="5.2" stroke-linecap="round"/><path d="M2695 1090h0M2705 1083h0M2712 1041h0M2706 1096h0M2700 1068h0" stroke="#849c6c" stroke-width="5.2" stroke-linecap="round"/><path d="M2730 1073h0M2729 1077h0M2728 1064h0M2730 1039h0M2731 1052h0M2726 1069h0M2725 1075h0M2736 1054h0M2721 1091h0M2732 1065h0M2719 1085h0" stroke="#e4cc6c" stroke-width="5.2" stroke-linecap="round"/><path d="M2699 1097h0M2710 1056h0" stroke="#9ccc6c" stroke-width="5.2" stroke-linecap="round"/><path d="M2734 1062h0M2742 1064h0M2725 1098h0M2737 1085h0M2723 1103h0M2737 1049h0M2740 1044h0M2738 1089h0M2726 1106h0M2720 1109h0M2738 1073h0M2745 1065h0M2742 1051h0M2741 1084h0M2726 1078h0M2742 1070h0M2728 1089h0" stroke="#e4b46c" stroke-width="5.2" stroke-linecap="round"/><path d="M2728 1089h0M2729 1108h0M2726 1109h0M2740 1101h0M2731 1088h0M2730 1098h0" stroke="#e49c6c" stroke-width="5.2" stroke-linecap="round"/><path d="M2681 1088h0M2706 1028h0M2696 1048h0M2700 1037h0M2691 1033h0M2694 1059h0M2697 1048h0" stroke="#9cb4e4" stroke-width="5.2" stroke-linecap="round"/><path d="M2705 1032h0M2710 1038h0M2714 1051h0M2711 1026h0M2694 1080h0M2707 1041h0M2696 1096h0M2707 1054h0" stroke="#849c84" stroke-width="5.2" stroke-linecap="round"/><path d="M2728 1102h0M2737 1087h0" stroke="#fcb46c" stroke-width="5.2" stroke-linecap="round"/><path d="M2709 1037h0" stroke="#9c9c84" stroke-width="5.2" stroke-linecap="round"/><path d="M2703 1043h0" stroke="#b4b4b4" stroke-width="5.2" stroke-linecap="round"/><path d="M2715 1029h0M2718 1041h0M2694 1097h0M2703 1100h0M2698 1078h0M2694 1092h0M2697 1071h0" stroke="#9ccc84" stroke-width="5.2" stroke-linecap="round"/><path d="M2680 1074h0M2682 1068h0" stroke="#6c84cc" stroke-width="5.2" stroke-linecap="round"/><path d="M2709 1041h0M2698 1045h0" stroke="#b4cccc" stroke-width="5.2" stroke-linecap="round"/><path d="M2738 1098h0M2740 1084h0M2748 1060h0" stroke="#b46c6c" stroke-width="5.2" stroke-linecap="round"/><path d="M2742 1062h0" stroke="#e4b454" stroke-width="5.2" stroke-linecap="round"/><path d="M2668 1060h0M2676 1043h0M2682 1037h0M2675 1046h0" stroke="#84ccfc" stroke-width="5.2" stroke-linecap="round"/><path d="M2672 1041h0M2664 1067h0" stroke="#549ccc" stroke-width="5.2" stroke-linecap="round"/><path d="M2747 1095h0" stroke="#b4549c" stroke-width="5.2" stroke-linecap="round"/><path d="M2739 1076h0M2750 1063h0M2746 1053h0M2739 1109h0M2742 1095h0" stroke="#cc8484" stroke-width="5.2" stroke-linecap="round"/><path d="M2747 1072h0M2746 1068h0M2733 1103h0M2736 1106h0M2743 1089h0M2752 1068h0" stroke="#cc846c" stroke-width="5.2" stroke-linecap="round"/><path d="M2720 1035h0" stroke="#b4e484" stroke-width="5.2" stroke-linecap="round"/><path d="M2716 1086h0M2723 1048h0M2713 1102h0M2711 1104h0M2717 1074h0M2725 1038h0M2731 1036h0M2714 1073h0M2707 1104h0" stroke="#9c9c54" stroke-width="5.2" stroke-linecap="round"/><path d="M2724 1099h0M2722 1091h0M2721 1089h0" stroke="#ccb454" stroke-width="5.2" stroke-linecap="round"/><path d="M2721 1067h0M2706 1108h0M2724 1048h0" stroke="#cccc84" stroke-width="5.2" stroke-linecap="round"/><path d="M2735 1110h0M2733 1107h0" stroke="#cc6c84" stroke-width="5.2" stroke-linecap="round"/><path d="M2707 1047h0" stroke="#84b46c" stroke-width="5.2" stroke-linecap="round"/><path d="M2675 1040h0" stroke="#549cb4" stroke-width="5.2" stroke-linecap="round"/><path d="M2681 1074h0" stroke="#9c9cfc" stroke-width="5.2" stroke-linecap="round"/><path d="M2727 1109h0" stroke="#b48454" stroke-width="5.2" stroke-linecap="round"/><path d="M2743 1096h0M2751 1072h0" stroke="#cc6c9c" stroke-width="5.2" stroke-linecap="round"/><path d="M2734 1079h0" stroke="#e4b484" stroke-width="5.2" stroke-linecap="round"/><path d="M2741 1100h0" stroke="#e46c9c" stroke-width="5.2" stroke-linecap="round"/><path d="M2703 1047h0" stroke="#b4b4cc" stroke-width="5.2" stroke-linecap="round"/>
<line x1="2706" y1="1066" x2="2690.3" y2="1066.0" stroke="#2020e0" stroke-width="3"/>
<path d="M2684,1066 L2693.0,1062.0 L2690.75,1066.0 L2693.0,1070.0 Z" fill="#2020e0"/>
<line x1="2706" y1="1066" x2="2728.377843244709" y2="1097.8453923097777" stroke="#e02020" stroke-width="3"/>
<path d="M2732,1103 L2723.552723562141,1097.9360567951055 L2728.119117762188,1097.4772060461905 L2730.098257137027,1093.3364926614024 Z" fill="#e02020"/>
<line x1="2706" y1="1066" x2="2733.1104817992677" y2="1043.972733538095" stroke="#20c820" stroke-width="3"/>
<path d="M2738,1040 L2733.5373444993315,1048.7797896263153 L2732.7612304992153,1044.2565002193876 L2728.492603498576,1042.5708776253853 Z" fill="#20c820"/>
<path d="M2723 1207h0M2758 1176h0M2716 1204h0M2760 1161h0M2707 1205h0M2723 1206h0M2715 1199h0M2762 1169h0M2685 1205h0M2736 1183h0M2745 1181h0M2733 1176h0M2758 1183h0M2689 1208h0M2724 1178h0M2699 1209h0M2723 1200h0M2714 1208h0M2760 1173h0M2759 1169h0M2748 1176h0M2719 1193h0M2750 1176h0M2741 1190h0M2714 1201h0M2721 1200h0M2755 1179h0M2731 1204h0" stroke="#3c849c" stroke-width="5.2" stroke-linecap="round"/><path d="M2733 1185h0M2762 1167h0M2753 1181h0M2726 1187h0M2746 1176h0M2720 1198h0M2713 1209h0M2750 1183h0M2755 1172h0M2734 1185h0M2741 1172h0M2742 1196h0M2747 1185h0M2752 1167h0M2727 1198h0M2725 1196h0" stroke="#549cb4" stroke-width="5.2" stroke-linecap="round"/><path d="M2694 1194h0M2674 1196h0M2742 1139h0M2733 1141h0M2704 1167h0M2756 1153h0M2677 1180h0M2677 1186h0M2743 1151h0M2675 1197h0M2718 1163h0M2723 1150h0M2740 1146h0M2754 1143h0M2729 1168h0M2697 1174h0M2742 1155h0M2743 1165h0M2757 1149h0M2742 1138h0M2742 1140h0M2715 1169h0M2725 1156h0M2742 1153h0M2666 1194h0M2699 1176h0M2722 1162h0M2734 1162h0M2743 1140h0M2701 1189h0M2746 1146h0M2710 1160h0M2729 1161h0M2748 1140h0M2732 1144h0M2707 1168h0M2709 1165h0M2684 1197h0M2745 1146h0M2709 1188h0M2725 1145h0M2716 1173h0" stroke="#549c84" stroke-width="5.2" stroke-linecap="round"/><path d="M2752 1161h0M2755 1175h0M2709 1199h0M2737 1167h0M2707 1195h0M2688 1198h0M2746 1166h0M2701 1189h0M2730 1168h0M2696 1202h0M2692 1200h0M2731 1171h0M2692 1203h0M2762 1140h0M2744 1158h0M2734 1166h0M2691 1187h0M2698 1208h0M2684 1203h0M2754 1146h0M2715 1185h0M2725 1179h0M2710 1176h0M2740 1161h0M2724 1192h0M2750 1157h0M2758 1148h0M2734 1159h0M2707 1209h0M2750 1148h0" stroke="#54b4b4" stroke-width="5.2" stroke-linecap="round"/><path d="M2721 1144h0M2747 1152h0M2680 1168h0M2709 1157h0M2742 1138h0M2730 1140h0M2678 1184h0M2684 1178h0M2746 1145h0M2683 1165h0M2724 1154h0M2697 1169h0M2736 1149h0M2677 1187h0M2730 1145h0" stroke="#6ccc9c" stroke-width="5.2" stroke-linecap="round"/><path d="M2668 1184h0M2672 1187h0M2678 1161h0M2675 1163h0M2698 1146h0M2683 1146h0M2722 1134h0M2688 1152h0M2695 1151h0M2697 1176h0M2694 1145h0M2683 1170h0M2729 1139h0M2702 1149h0M2694 1172h0M2679 1175h0M2688 1169h0M2702 1156h0M2677 1183h0M2660 1173h0M2738 1146h0M2733 1135h0M2680 1171h0M2713 1142h0M2681 1180h0M2695 1156h0M2670 1178h0M2691 1169h0M2671 1195h0M2684 1165h0M2713 1145h0" stroke="#6cb484" stroke-width="5.2" stroke-linecap="round"/><path d="M2658 1148h0M2653 1157h0M2654 1165h0M2668 1164h0M2688 1143h0M2677 1140h0M2672 1158h0M2662 1163h0M2690 1147h0M2664 1154h0" stroke="#9cb484" stroke-width="5.2" stroke-linecap="round"/><path d="M2727 1141h0M2700 1176h0M2725 1150h0M2729 1147h0M2693 1180h0M2669 1196h0M2751 1146h0M2687 1178h0M2726 1159h0M2727 1144h0M2711 1170h0M2696 1162h0M2703 1158h0M2675 1191h0M2681 1169h0M2686 1182h0M2666 1189h0M2676 1173h0M2745 1140h0M2686 1168h0M2741 1139h0M2680 1183h0M2732 1152h0M2712 1167h0M2692 1172h0M2698 1162h0M2715 1151h0M2697 1171h0M2716 1166h0M2719 1154h0M2738 1145h0M2738 1153h0M2716 1163h0M2733 1145h0M2719 1164h0M2689 1167h0M2722 1152h0M2704 1160h0" stroke="#6cb49c" stroke-width="5.2" stroke-linecap="round"/><path d="M2749 1173h0M2757 1166h0M2707 1199h0M2689 1207h0M2747 1170h0M2700 1207h0M2707 1195h0M2729 1178h0M2719 1189h0M2711 1196h0M2739 1169h0M2687 1198h0M2714 1193h0M2732 1188h0M2710 1193h0M2746 1169h0M2753 1165h0M2701 1203h0M2712 1184h0M2738 1179h0M2704 1187h0M2718 1184h0M2717 1194h0M2696 1202h0M2685 1203h0M2708 1198h0M2711 1192h0M2693 1207h0M2698 1205h0" stroke="#3c9c9c" stroke-width="5.2" stroke-linecap="round"/><path d="M2704 1187h0M2721 1170h0M2739 1156h0M2700 1195h0M2697 1186h0M2703 1180h0M2710 1192h0M2711 1188h0M2703 1192h0M2740 1161h0M2734 1164h0M2703 1182h0M2714 1176h0M2726 1182h0M2737 1168h0M2741 1168h0M2709 1188h0M2726 1167h0M2681 1191h0M2734 1161h0M2703 1190h0M2760 1154h0M2708 1174h0" stroke="#549c9c" stroke-width="5.2" stroke-linecap="round"/><path d="M2703 1151h0M2694 1168h0M2697 1150h0M2669 1183h0M2710 1144h0M2682 1172h0M2661 1171h0M2664 1177h0M2666 1194h0M2715 1138h0M2673 1164h0M2692 1150h0M2674 1168h0M2707 1149h0M2679 1161h0M2695 1154h0M2705 1150h0M2733 1136h0M2733 1137h0M2727 1135h0M2729 1140h0M2661 1173h0M2690 1152h0M2697 1150h0M2733 1135h0M2711 1147h0M2664 1190h0M2686 1168h0M2695 1167h0M2685 1153h0M2720 1136h0M2706 1146h0M2705 1150h0" stroke="#84cc9c" stroke-width="5.2" stroke-linecap="round"/><path d="M2729 1178h0M2736 1161h0M2724 1157h0M2707 1178h0M2748 1148h0M2730 1155h0M2694 1194h0M2725 1167h0M2711 1173h0M2708 1178h0M2706 1172h0M2708 1176h0M2713 1169h0M2698 1185h0M2694 1198h0M2674 1195h0M2751 1155h0M2703 1183h0M2719 1168h0M2722 1159h0M2746 1152h0M2744 1151h0M2712 1177h0M2721 1163h0M2748 1143h0M2721 1169h0M2749 1147h0" stroke="#54b49c" stroke-width="5.2" stroke-linecap="round"/><path d="M2690 1152h0M2674 1144h0M2656 1162h0M2686 1145h0" stroke="#849c6c" stroke-width="5.2" stroke-linecap="round"/><path d="M2672 1150h0M2661 1170h0M2697 1155h0M2681 1155h0M2678 1170h0M2708 1145h0M2703 1152h0M2689 1160h0M2708 1153h0M2666 1168h0M2677 1161h0M2702 1151h0M2664 1171h0M2675 1165h0M2682 1149h0M2658 1167h0" stroke="#84b484" stroke-width="5.2" stroke-linecap="round"/><path d="M2702 1159h0M2689 1172h0M2721 1135h0M2677 1183h0M2722 1140h0M2692 1159h0M2681 1165h0M2737 1136h0M2676 1177h0M2681 1159h0M2661 1182h0M2684 1175h0M2730 1138h0M2702 1146h0M2718 1145h0M2735 1144h0M2731 1138h0M2713 1157h0M2712 1157h0M2733 1136h0M2720 1154h0M2730 1144h0M2706 1165h0M2713 1155h0M2705 1159h0M2695 1174h0" stroke="#6c9c84" stroke-width="5.2" stroke-linecap="round"/><path d="M2749 1198h0M2762 1173h0M2735 1206h0" stroke="#3c6c9c" stroke-width="5.2" stroke-linecap="round"/><path d="M2657 1167h0M2659 1177h0M2700 1151h0M2655 1165h0M2685 1147h0M2695 1145h0M2684 1151h0M2705 1138h0M2706 1142h0" stroke="#9ccc9c" stroke-width="5.2" stroke-linecap="round"/><path d="M2663 1150h0M2654 1158h0M2674 1148h0M2660 1145h0M2675 1147h0M2678 1137h0M2670 1147h0M2674 1139h0" stroke="#9c9c6c" stroke-width="5.2" stroke-linecap="round"/><path d="M2704 1183h0M2734 1166h0M2703 1179h0M2682 1198h0" stroke="#6cccb4" stroke-width="5.2" stroke-linecap="round"/><path d="M2729 1208h0M2704 1208h0M2757 1185h0M2743 1186h0M2744 1187h0M2720 1201h0M2751 1187h0" stroke="#549ccc" stroke-width="5.2" stroke-linecap="round"/><path d="M2678 1151h0M2657 1147h0M2665 1157h0M2657 1156h0M2676 1144h0M2663 1144h0" stroke="#b4b484" stroke-width="5.2" stroke-linecap="round"/><path d="M2717 1201h0M2704 1208h0M2743 1160h0M2732 1163h0M2716 1190h0M2717 1184h0M2738 1171h0" stroke="#3c8484" stroke-width="5.2" stroke-linecap="round"/><path d="M2748 1141h0" stroke="#84ccb4" stroke-width="5.2" stroke-linecap="round"/><path d="M2650 1150h0M2672 1142h0M2657 1152h0" stroke="#ccb484" stroke-width="5.2" stroke-linecap="round"/><path d="M2660 1166h0M2665 1165h0" stroke="#6c9c6c" stroke-width="5.2" stroke-linecap="round"/><path d="M2732 1198h0M2753 1192h0M2732 1198h0M2745 1197h0" stroke="#3c84b4" stroke-width="5.2" stroke-linecap="round"/><path d="M2694 1142h0M2671 1164h0M2686 1162h0M2697 1153h0M2716 1138h0M2660 1166h0" stroke="#84cc84" stroke-width="5.2" stroke-linecap="round"/><path d="M2731 1182h0M2760 1178h0M2731 1195h0M2712 1198h0M2755 1167h0" stroke="#3c9cb4" stroke-width="5.2" stroke-linecap="round"/><path d="M2741 1202h0M2754 1194h0M2747 1193h0M2729 1206h0" stroke="#3c6cb4" stroke-width="5.2" stroke-linecap="round"/><path d="M2676 1160h0M2699 1146h0" stroke="#9ce49c" stroke-width="5.2" stroke-linecap="round"/><path d="M2681 1141h0M2675 1142h0" stroke="#b4cc9c" stroke-width="5.2" stroke-linecap="round"/><path d="M2759 1149h0M2736 1159h0M2759 1158h0M2727 1171h0M2754 1162h0" stroke="#3c9c84" stroke-width="5.2" stroke-linecap="round"/><path d="M2750 1192h0M2740 1196h0M2712 1202h0M2752 1181h0M2760 1184h0M2741 1195h0M2759 1173h0" stroke="#5484b4" stroke-width="5.2" stroke-linecap="round"/><path d="M2671 1168h0M2664 1155h0M2691 1142h0" stroke="#9ccc84" stroke-width="5.2" stroke-linecap="round"/><path d="M2678 1145h0M2662 1152h0M2675 1143h0" stroke="#b4cc84" stroke-width="5.2" stroke-linecap="round"/><path d="M2689 1182h0M2756 1149h0M2724 1169h0M2713 1172h0" stroke="#6cb4b4" stroke-width="5.2" stroke-linecap="round"/><path d="M2696 1163h0M2718 1148h0" stroke="#84b49c" stroke-width="5.2" stroke-linecap="round"/><path d="M2649 1150h0" stroke="#cccc84" stroke-width="5.2" stroke-linecap="round"/><path d="M2755 1183h0M2741 1196h0M2716 1204h0" stroke="#5484cc" stroke-width="5.2" stroke-linecap="round"/><path d="M2654 1152h0" stroke="#9c846c" stroke-width="5.2" stroke-linecap="round"/>
<line x1="2708" y1="1180" x2="2698.640066518009" y2="1200.2798558776472" stroke="#2020e0" stroke-width="3"/>
<path d="M2696,1206 L2696.139686059154,1196.152132829649 L2698.8286426978666,1199.871274154622 L2703.403361135158,1199.504598249343 Z" fill="#2020e0"/>
<line x1="2708" y1="1180" x2="2755.850021520841" y2="1169.3666618842576" stroke="#e02020" stroke-width="3"/>
<path d="M2762,1168 L2754.082038289619,1173.8571223611038 L2755.4107373437582,1169.4642805902758 L2752.34659462707,1166.047625879632 Z" fill="#e02020"/>
<line x1="2708" y1="1180" x2="2697.527974437729" y2="1138.1118977509157" stroke="#20c820" stroke-width="3"/>
<path d="M2696,1132 L2702.0633906259086,1139.7611400011626 L2697.637115468995,1138.548461875981 L2694.3022506247457,1141.7014250014533 Z" fill="#20c820"/>
<text x="2704.5" y="1295" font-family="Liberation Serif" font-size="26" fill="#111" text-anchor="middle" textLength="101" lengthAdjust="spacingAndGlyphs">Examples</text>
<rect x="2850" y="694" width="138" height="66" rx="12" fill="#ebebeb" stroke="#555" stroke-width="2"/>
<text x="2919" y="719.5" font-family="Liberation Serif" font-size="26" fill="#111" text-anchor="middle">score</text>
<text x="2919" y="751" font-family="Liberation Serif" font-size="26" fill="#111" text-anchor="middle">matching</text>
<rect x="2850" y="1017.7" width="138" height="65.29999999999995" rx="12" fill="#ebebeb" stroke="#555" stroke-width="2"/>
<text x="2919" y="1044" font-family="Liberation Serif" font-size="26" fill="#111" text-anchor="middle">score</text>
<text x="2919" y="1075" font-family="Liberation Serif" font-size="26" fill="#111" text-anchor="middle">matching</text>
<path d="M2844,778.7 L2910.5,798 L2910.5,915.7 L2844,934 Z" fill="#eef3ee" stroke="#222" stroke-width="2.2" stroke-linejoin="round"/>
<path d="M2924.6,798 L2991.6,778.7 L2991.6,934 L2924.6,915.7 Z" fill="#eef3ee" stroke="#222" stroke-width="2.2" stroke-linejoin="round"/>
<rect x="2854.5" y="825.7" width="124.0" height="62.799999999999955" rx="13" fill="#eef3ee" stroke="#222" stroke-width="2.4"/>
<text x="2916" y="868" font-family="Liberation Serif" font-size="40" fill="#111" text-anchor="middle">Φ<tspan font-size="24" font-style="italic" font-weight="bold" dy="8">θ</tspan></text>
<text x="2915.7" y="971.7" font-family="Liberation Serif" font-size="26" fill="#111" text-anchor="middle" textLength="94" lengthAdjust="spacingAndGlyphs">ScoreNet</text>
<line x1="2785" y1="856.6" x2="2836.3" y2="856.6" stroke="#111" stroke-width="2.4"/>
<path d="M2844,856.6 L2833.0,861.6 L2835.75,856.6 L2833.0,851.6 Z" fill="#111"/>
<path d="M2850,730 H2814.7 V845" fill="none" stroke="#222" stroke-width="1.8" stroke-dasharray="6 4"/>
<line x1="2814.7" y1="840" x2="2814.7" y2="848.3" stroke="#111" stroke-width="1.8"/>
<path d="M2814.7,856 L2809.7,845.0 L2814.7,847.75 L2819.7,845.0 Z" fill="#111"/>
<path d="M2988,730 H3024.5 V856.6 H3000" fill="none" stroke="#222" stroke-width="1.8" stroke-dasharray="6 4"/>
<line x1="3004" y1="856.6" x2="2999.7" y2="856.6" stroke="#111" stroke-width="1.8"/>
<path d="M2992,856.6 L3003.0,851.6 L3000.25,856.6 L3003.0,861.6 Z" fill="#111"/>
<path d="M2843,1101.4 L2990,1138 L2990,1218 L2843,1255.7 Z" fill="#e3eff8" stroke="#222" stroke-width="2.2" stroke-linejoin="round"/>
<rect x="2854.5" y="1146" width="124.0" height="62.59999999999991" rx="13" fill="#e3eff8" stroke="#222" stroke-width="2.4"/>
<text x="2916" y="1190" font-family="Liberation Serif" font-size="40" fill="#111" text-anchor="middle">Ψ<tspan font-size="24" font-style="italic" font-weight="bold" dy="8">ϕ</tspan></text>
<rect x="3008.8" y="1148.5" width="68.0" height="57.5" rx="10" fill="#fff" stroke="#222" stroke-width="2"/>
<path d="M3012.5,1162.5 H3036 L3024.2,1189 Z" fill="none" stroke="#111" stroke-width="2.4" stroke-linejoin="miter"/>
<text x="3037" y="1190" font-family="Liberation Serif" font-size="34" fill="#111">Ψ<tspan font-size="22" font-style="italic" dy="7">φ</tspan></text>
<line x1="2785" y1="1177" x2="2835.3" y2="1177.0" stroke="#111" stroke-width="2.4"/>
<path d="M2843,1177 L2832.0,1182.0 L2834.75,1177.0 L2832.0,1172.0 Z" fill="#111"/>
<line x1="2990" y1="1177" x2="3001.1000000000004" y2="1177.0" stroke="#111" stroke-width="2.4"/>
<path d="M3008.8,1177 L2997.8,1182.0 L3000.55,1177.0 L2997.8,1172.0 Z" fill="#111"/>
<path d="M2850,1051.7 H2812.7 V1165" fill="none" stroke="#222" stroke-width="1.8" stroke-dasharray="6 4"/>
<line x1="2812.7" y1="1160" x2="2812.7" y2="1167.3" stroke="#111" stroke-width="1.8"/>
<path d="M2812.7,1175 L2807.7,1164.0 L2812.7,1166.75 L2817.7,1164.0 Z" fill="#111"/>
<path d="M2988,1051.7 H3044 V1135" fill="none" stroke="#222" stroke-width="1.8" stroke-dasharray="6 4"/>
<line x1="3044" y1="1130" x2="3044.0" y2="1139.3" stroke="#111" stroke-width="1.8"/>
<path d="M3044,1147 L3039.0,1136.0 L3044.0,1138.75 L3049.0,1136.0 Z" fill="#111"/>
<text x="2917" y="1276.7" font-family="Liberation Serif" font-size="26" fill="#111" text-anchor="middle" textLength="112" lengthAdjust="spacingAndGlyphs">EnergyNet</text>
<text x="2838" y="1352.5" font-family="Liberation Serif" font-size="26" fill="#111" text-anchor="middle" textLength="118.7" lengthAdjust="spacingAndGlyphs">(I) Training</text>
<rect x="3118" y="667.4" width="730" height="358.6" rx="22" fill="none" stroke="#222" stroke-width="2.2" stroke-dasharray="11 7"/>
<rect x="3118" y="1041" width="730" height="275" rx="22" fill="none" stroke="#222" stroke-width="2.2" stroke-dasharray="11 7"/>
<rect x="3860.7" y="667.4" width="318.3000000000002" height="648.6" rx="22" fill="none" stroke="#222" stroke-width="2.2" stroke-dasharray="11 7"/>
<line x1="3199" y1="767.4" x2="3199.0" y2="693.5" stroke="#555" stroke-width="1.8"/>
<path d="M3199,687.2 L3203.0,696.2 L3199.0,693.95 L3195.0,696.2 Z" fill="#555"/>
<line x1="3159" y1="767.4" x2="3239.7" y2="767.4" stroke="#555" stroke-width="1.8"/>
<path d="M3246,767.4 L3237.0,771.4 L3239.25,767.4 L3237.0,763.4 Z" fill="#555"/>
<path d="M3159,751 C3180,748 3186,711 3199,711 C3212,711 3218,748 3240.6,751" fill="none" stroke="#555" stroke-width="1.8"/>
<text x="3131" y="802.8" font-family="Liberation Serif" font-size="30" fill="#111" textLength="148" lengthAdjust="spacingAndGlyphs"><tspan font-style="italic">N</tspan> (0, <tspan font-style="italic">σ</tspan><tspan font-style="italic" font-size="20" dy="6">max</tspan><tspan font-style="italic" dy="-6">I</tspan><tspan font-size="18" dy="-12">2</tspan><tspan dy="12">)</tspan></text>
<line x1="3265" y1="757" x2="3325.9" y2="757.0" stroke="#111" stroke-width="2.4"/>
<path d="M3333.6,757 L3322.6,762.0 L3325.35,757.0 L3322.6,752.0 Z" fill="#111"/>
<line x1="3265" y1="872.6" x2="3325.9" y2="872.6" stroke="#111" stroke-width="2.4"/>
<path d="M3333.6,872.6 L3322.6,877.6 L3325.35,872.6 L3322.6,867.6 Z" fill="#111"/>
<ellipse cx="3200" cy="905" rx="45" ry="11" fill="url(#shad)"/>
<path d="M3219 842h0M3213 882h0M3212 870h0M3219 863h0M3203 892h0M3216 853h0M3221 867h0M3211 885h0M3215 873h0M3207 873h0M3206 896h0M3224 846h0" stroke="#9c9c54" stroke-width="5.2" stroke-linecap="round"/><path d="M3232 889h0M3229 900h0" stroke="#fc849c" stroke-width="5.2" stroke-linecap="round"/><path d="M3177 858h0M3176 869h0M3176 878h0M3178 872h0M3173 859h0M3188 835h0M3174 879h0M3168 870h0M3185 863h0M3184 844h0M3174 873h0M3189 835h0M3186 857h0M3191 842h0M3171 887h0M3171 877h0M3172 880h0M3191 840h0M3175 886h0M3184 854h0M3194 842h0" stroke="#6c84cc" stroke-width="5.2" stroke-linecap="round"/><path d="M3179 849h0M3168 886h0M3176 852h0M3191 843h0M3186 866h0" stroke="#849cfc" stroke-width="5.2" stroke-linecap="round"/><path d="M3225 848h0M3215 893h0M3216 899h0M3224 864h0M3220 869h0M3229 862h0M3219 867h0M3209 902h0" stroke="#ccb454" stroke-width="5.2" stroke-linecap="round"/><path d="M3205 860h0M3196 899h0M3209 863h0M3202 890h0M3198 886h0M3195 897h0M3218 855h0M3213 855h0" stroke="#9ccc84" stroke-width="5.2" stroke-linecap="round"/><path d="M3212 864h0M3210 884h0M3215 868h0M3211 896h0M3220 885h0M3205 886h0M3206 878h0M3214 879h0M3224 863h0M3233 847h0" stroke="#cccc6c" stroke-width="5.2" stroke-linecap="round"/><path d="M3204 864h0M3216 851h0M3216 859h0M3205 875h0M3201 856h0M3195 884h0M3212 834h0M3205 857h0M3222 839h0M3196 893h0M3206 864h0M3197 871h0M3201 893h0" stroke="#849c6c" stroke-width="5.2" stroke-linecap="round"/><path d="M3238 860h0M3227 857h0M3221 901h0M3223 861h0M3225 853h0M3215 907h0M3221 876h0M3221 888h0M3224 885h0M3213 891h0M3229 851h0M3215 897h0M3231 856h0M3212 904h0M3233 859h0M3222 889h0" stroke="#cc9c54" stroke-width="5.2" stroke-linecap="round"/><path d="M3194 835h0M3174 889h0M3190 850h0M3193 840h0M3187 874h0M3172 892h0M3189 874h0M3181 876h0M3189 858h0" stroke="#9c9ce4" stroke-width="5.2" stroke-linecap="round"/><path d="M3197 838h0M3186 863h0M3177 868h0M3176 892h0M3180 866h0M3197 844h0M3178 875h0M3190 862h0M3190 853h0M3172 883h0M3177 874h0M3178 889h0M3190 844h0" stroke="#8484cc" stroke-width="5.2" stroke-linecap="round"/><path d="M3228 912h0M3232 904h0M3229 906h0M3236 877h0M3240 899h0M3230 912h0M3240 889h0M3223 912h0M3236 890h0M3227 906h0M3239 891h0" stroke="#cc6c84" stroke-width="5.2" stroke-linecap="round"/><path d="M3199 871h0M3206 858h0M3213 865h0M3214 849h0M3206 864h0M3208 853h0M3206 867h0M3194 897h0M3216 836h0" stroke="#849c54" stroke-width="5.2" stroke-linecap="round"/><path d="M3205 870h0M3215 856h0M3222 848h0M3197 890h0M3212 882h0M3219 837h0M3215 846h0M3215 860h0M3198 898h0M3204 882h0M3211 850h0M3224 856h0M3211 871h0M3207 903h0" stroke="#9cb46c" stroke-width="5.2" stroke-linecap="round"/><path d="M3185 886h0M3184 875h0M3188 877h0M3208 833h0M3193 875h0M3198 849h0M3188 875h0M3189 858h0M3179 886h0M3205 843h0M3193 866h0M3184 888h0M3201 848h0" stroke="#849cb4" stroke-width="5.2" stroke-linecap="round"/><path d="M3209 891h0M3215 891h0M3214 903h0M3222 860h0M3220 891h0M3220 878h0M3228 872h0M3232 846h0M3224 870h0M3222 874h0M3228 853h0" stroke="#b49c54" stroke-width="5.2" stroke-linecap="round"/><path d="M3227 900h0M3236 867h0" stroke="#e48484" stroke-width="5.2" stroke-linecap="round"/><path d="M3230 894h0M3238 869h0M3233 899h0M3238 880h0M3238 880h0M3237 890h0" stroke="#fc9c6c" stroke-width="5.2" stroke-linecap="round"/><path d="M3164 859h0M3165 851h0M3174 848h0M3178 839h0M3176 844h0M3173 854h0M3171 869h0M3178 843h0M3171 845h0M3162 872h0M3170 850h0M3171 850h0" stroke="#6cb4e4" stroke-width="5.2" stroke-linecap="round"/><path d="M3169 887h0M3188 845h0M3180 880h0M3175 851h0M3178 864h0M3192 840h0M3175 860h0M3170 881h0M3174 862h0M3176 854h0M3174 887h0M3183 863h0M3190 832h0" stroke="#849ce4" stroke-width="5.2" stroke-linecap="round"/><path d="M3206 878h0M3208 884h0M3209 872h0M3218 866h0" stroke="#9cb454" stroke-width="5.2" stroke-linecap="round"/><path d="M3202 870h0M3214 836h0M3197 849h0M3204 844h0M3188 881h0M3187 879h0M3202 844h0M3205 866h0M3198 886h0M3202 838h0" stroke="#9cb49c" stroke-width="5.2" stroke-linecap="round"/><path d="M3223 858h0M3207 899h0" stroke="#e4b46c" stroke-width="5.2" stroke-linecap="round"/><path d="M3176 842h0M3194 839h0M3176 868h0M3162 879h0M3192 862h0" stroke="#6c84b4" stroke-width="5.2" stroke-linecap="round"/><path d="M3192 866h0M3213 837h0M3208 850h0M3193 877h0M3207 845h0M3204 831h0M3207 842h0M3205 859h0M3189 868h0M3199 872h0M3187 889h0M3198 874h0" stroke="#849c9c" stroke-width="5.2" stroke-linecap="round"/><path d="M3205 873h0M3201 881h0M3209 857h0M3198 896h0M3203 870h0M3210 853h0" stroke="#84b46c" stroke-width="5.2" stroke-linecap="round"/><path d="M3196 882h0M3191 885h0M3187 887h0M3189 882h0M3188 887h0M3213 846h0M3212 841h0M3197 885h0M3204 872h0M3192 894h0M3193 891h0M3192 872h0M3214 835h0M3198 861h0" stroke="#849c84" stroke-width="5.2" stroke-linecap="round"/><path d="M3233 843h0M3221 874h0M3214 895h0M3229 861h0M3219 890h0M3235 857h0M3229 853h0M3216 908h0M3216 905h0M3228 874h0M3218 913h0M3229 864h0M3226 887h0" stroke="#e4b454" stroke-width="5.2" stroke-linecap="round"/><path d="M3209 869h0" stroke="#84b484" stroke-width="5.2" stroke-linecap="round"/><path d="M3215 857h0M3207 899h0M3206 893h0M3225 844h0" stroke="#b4b454" stroke-width="5.2" stroke-linecap="round"/><path d="M3232 890h0M3233 896h0M3223 903h0M3217 913h0" stroke="#e49c6c" stroke-width="5.2" stroke-linecap="round"/><path d="M3213 850h0M3211 855h0" stroke="#9ccc9c" stroke-width="5.2" stroke-linecap="round"/><path d="M3226 891h0M3220 912h0M3223 888h0M3232 873h0M3219 892h0M3229 884h0M3214 899h0M3234 851h0M3229 891h0M3220 882h0M3235 848h0M3231 866h0M3225 875h0M3238 860h0M3220 899h0" stroke="#e49c54" stroke-width="5.2" stroke-linecap="round"/><path d="M3231 898h0M3229 886h0M3235 872h0M3234 889h0M3217 904h0M3235 887h0M3232 879h0M3237 865h0M3233 885h0" stroke="#cc846c" stroke-width="5.2" stroke-linecap="round"/><path d="M3225 912h0M3234 875h0M3241 882h0" stroke="#e4846c" stroke-width="5.2" stroke-linecap="round"/><path d="M3204 876h0M3219 837h0M3207 860h0M3208 860h0M3218 846h0" stroke="#b4cc6c" stroke-width="5.2" stroke-linecap="round"/><path d="M3217 884h0" stroke="#b4843c" stroke-width="5.2" stroke-linecap="round"/><path d="M3168 859h0M3170 880h0M3178 853h0M3181 847h0M3180 842h0M3172 853h0M3194 836h0M3178 856h0M3180 855h0M3172 880h0" stroke="#84b4fc" stroke-width="5.2" stroke-linecap="round"/><path d="M3199 841h0M3202 840h0M3202 832h0M3180 883h0M3188 879h0M3185 878h0" stroke="#9c9ccc" stroke-width="5.2" stroke-linecap="round"/><path d="M3229 887h0M3222 898h0M3236 852h0M3223 897h0M3219 908h0" stroke="#cc8454" stroke-width="5.2" stroke-linecap="round"/><path d="M3225 845h0M3217 863h0M3234 851h0M3220 852h0M3206 890h0" stroke="#ccb46c" stroke-width="5.2" stroke-linecap="round"/><path d="M3177 839h0M3167 847h0" stroke="#6cccfc" stroke-width="5.2" stroke-linecap="round"/><path d="M3158 872h0M3168 851h0M3165 853h0M3164 848h0M3166 848h0" stroke="#54b4cc" stroke-width="5.2" stroke-linecap="round"/><path d="M3211 851h0M3200 841h0M3204 832h0M3179 890h0M3202 869h0M3198 846h0M3197 848h0M3196 849h0M3201 852h0" stroke="#9cb4b4" stroke-width="5.2" stroke-linecap="round"/><path d="M3225 855h0M3223 842h0M3220 876h0M3204 887h0M3200 895h0M3225 840h0M3212 862h0M3224 864h0M3209 904h0M3222 842h0" stroke="#b4b46c" stroke-width="5.2" stroke-linecap="round"/><path d="M3229 897h0M3235 902h0M3221 915h0M3229 889h0" stroke="#b46c6c" stroke-width="5.2" stroke-linecap="round"/><path d="M3241 882h0M3239 883h0M3235 909h0" stroke="#b45484" stroke-width="5.2" stroke-linecap="round"/><path d="M3160 880h0M3164 877h0M3175 862h0M3179 854h0M3163 864h0M3177 861h0M3166 877h0" stroke="#6c9ccc" stroke-width="5.2" stroke-linecap="round"/><path d="M3194 851h0M3193 845h0M3181 876h0M3190 877h0M3183 884h0M3195 837h0M3201 846h0M3192 860h0M3186 881h0M3194 867h0" stroke="#8484b4" stroke-width="5.2" stroke-linecap="round"/><path d="M3192 869h0M3178 884h0M3187 881h0M3197 861h0M3194 859h0M3193 863h0M3205 847h0" stroke="#84849c" stroke-width="5.2" stroke-linecap="round"/><path d="M3236 901h0M3240 896h0" stroke="#cc549c" stroke-width="5.2" stroke-linecap="round"/><path d="M3194 845h0M3186 835h0M3180 871h0M3184 872h0M3186 844h0M3180 862h0M3183 863h0M3184 855h0" stroke="#8484e4" stroke-width="5.2" stroke-linecap="round"/><path d="M3178 867h0M3172 883h0M3190 836h0M3184 874h0M3179 872h0" stroke="#9c9cfc" stroke-width="5.2" stroke-linecap="round"/><path d="M3238 898h0M3240 878h0M3226 909h0M3225 910h0" stroke="#e4849c" stroke-width="5.2" stroke-linecap="round"/><path d="M3185 866h0M3186 850h0" stroke="#849ccc" stroke-width="5.2" stroke-linecap="round"/><path d="M3224 868h0M3218 907h0M3228 854h0" stroke="#cc9c3c" stroke-width="5.2" stroke-linecap="round"/><path d="M3236 851h0M3226 887h0" stroke="#fcb454" stroke-width="5.2" stroke-linecap="round"/><path d="M3183 851h0" stroke="#6c6cb4" stroke-width="5.2" stroke-linecap="round"/><path d="M3171 872h0M3169 881h0M3179 861h0M3174 847h0M3175 842h0M3177 862h0M3169 854h0M3176 847h0M3171 865h0" stroke="#6c9ce4" stroke-width="5.2" stroke-linecap="round"/><path d="M3235 911h0" stroke="#e46cb4" stroke-width="5.2" stroke-linecap="round"/><path d="M3179 884h0M3190 853h0M3195 868h0" stroke="#9cb4e4" stroke-width="5.2" stroke-linecap="round"/><path d="M3206 852h0M3209 844h0M3204 872h0M3194 874h0M3199 897h0M3195 899h0M3201 860h0" stroke="#9cb484" stroke-width="5.2" stroke-linecap="round"/><path d="M3202 889h0M3197 901h0M3203 895h0M3208 849h0M3200 873h0M3213 871h0M3220 853h0" stroke="#9ccc6c" stroke-width="5.2" stroke-linecap="round"/><path d="M3176 841h0" stroke="#549cb4" stroke-width="5.2" stroke-linecap="round"/><path d="M3167 857h0M3158 870h0" stroke="#54b4e4" stroke-width="5.2" stroke-linecap="round"/><path d="M3231 913h0" stroke="#cc6c9c" stroke-width="5.2" stroke-linecap="round"/><path d="M3208 900h0" stroke="#e4cc6c" stroke-width="5.2" stroke-linecap="round"/><path d="M3162 866h0M3178 843h0M3180 847h0M3169 860h0M3168 865h0M3168 856h0M3167 864h0" stroke="#549ccc" stroke-width="5.2" stroke-linecap="round"/><path d="M3157 875h0" stroke="#54cce4" stroke-width="5.2" stroke-linecap="round"/><path d="M3237 893h0M3239 897h0" stroke="#b4549c" stroke-width="5.2" stroke-linecap="round"/><path d="M3224 895h0" stroke="#cc843c" stroke-width="5.2" stroke-linecap="round"/><path d="M3241 895h0" stroke="#cc54b4" stroke-width="5.2" stroke-linecap="round"/><path d="M3200 857h0M3189 889h0" stroke="#9c9cb4" stroke-width="5.2" stroke-linecap="round"/><path d="M3173 850h0" stroke="#84b4e4" stroke-width="5.2" stroke-linecap="round"/><path d="M3207 842h0" stroke="#9cb4cc" stroke-width="5.2" stroke-linecap="round"/><path d="M3240 899h0" stroke="#e46c9c" stroke-width="5.2" stroke-linecap="round"/><path d="M3180 839h0" stroke="#6cb4fc" stroke-width="5.2" stroke-linecap="round"/><path d="M3184 845h0" stroke="#5484b4" stroke-width="5.2" stroke-linecap="round"/><path d="M3239 863h0" stroke="#fcb46c" stroke-width="5.2" stroke-linecap="round"/>
<text x="3200" y="949" font-family="Liberation Serif" font-size="26" fill="#111" text-anchor="middle" textLength="130" lengthAdjust="spacingAndGlyphs">Partial Point</text>
<text x="3200" y="982" font-family="Liberation Serif" font-size="26" fill="#111" text-anchor="middle">Cloud  <tspan font-style="italic">O</tspan><tspan font-size="18" dy="-11">*</tspan></text>
<rect x="3333.6" y="717.9" width="202.9000000000001" height="195.80000000000007" rx="14" fill="none" stroke="#333" stroke-width="1.5" stroke-dasharray="6 4"/>
<path d="M3362,739 L3429,755.6 L3429,878.3 L3362,894.8 Z" fill="#eef3ee" stroke="#222" stroke-width="2.2" stroke-linejoin="round"/>
<path d="M3442,755.6 L3509.6,739 L3509.6,894.8 L3442,878.3 Z" fill="#eef3ee" stroke="#222" stroke-width="2.2" stroke-linejoin="round"/>
<rect x="3372.3" y="786.3" width="124.09999999999991" height="61.30000000000007" rx="13" fill="#eef3ee" stroke="#222" stroke-width="2.4"/>
<text x="3434" y="830" font-family="Liberation Serif" font-size="40" fill="#111" text-anchor="middle">Φ<tspan font-size="24" font-style="italic" font-weight="bold" dy="8">θ</tspan></text>
<text x="3434.5" y="944.4" font-family="Liberation Serif" font-size="26" fill="#111" text-anchor="middle" textLength="227.5" lengthAdjust="spacingAndGlyphs">Reverse ODE Process</text>
<line x1="3536.5" y1="816" x2="3566.6000000000004" y2="816.0" stroke="#111" stroke-width="2.4"/>
<path d="M3574.3,816 L3563.3,821.0 L3566.05,816.0 L3563.3,811.0 Z" fill="#111"/>
<text x="3572" y="741.5" font-family="Liberation Serif" font-size="30" fill="#111">{<tspan font-weight="bold" font-style="italic">p̂</tspan><tspan font-style="italic" font-size="19" dy="5">i</tspan><tspan dy="-5">}</tspan><tspan font-style="italic" font-size="18" dy="-12">K</tspan><tspan font-size="18" dx="-12" dy="20">i=1</tspan></text>
<rect x="3575.2" y="765" width="253.80000000000018" height="103" rx="10" fill="#ececec" stroke="#222" stroke-width="2.2"/>
<line x1="3612" y1="798" x2="3600.372446808799" y2="794.5801314143526" stroke="#2020e0" stroke-width="2.6"/>
<path d="M3595,793 L3603.6625061465406,791.899551336433 L3600.7561930094275,794.6929979439493 L3601.6873418785995,798.6151098474318 Z" fill="#2020e0"/>
<line x1="3612" y1="798" x2="3628.8936789011386" y2="823.340518351708" stroke="#e02020" stroke-width="2.6"/>
<path d="M3632,828 L3624.650222400016,823.2850483320856 L3628.6717988226487,823.007698233973 L3630.4745744603806,819.4021469585089 Z" fill="#e02020"/>
<line x1="3612" y1="798" x2="3633.11859118899" y2="776.0366651634504" stroke="#20c820" stroke-width="2.6"/>
<path d="M3637,772 L3633.978045997142,780.1925450260961 L3632.841347702489,776.3249983894111 L3628.932214542829,775.3407840123335 Z" fill="#20c820"/>
<line x1="3661.6" y1="798" x2="3649.972446808799" y2="794.5801314143526" stroke="#2020e0" stroke-width="2.6"/>
<path d="M3644.6,793 L3653.2625061465405,791.899551336433 L3650.3561930094274,794.6929979439493 L3651.2873418785994,798.6151098474318 Z" fill="#2020e0"/>
<line x1="3661.6" y1="798" x2="3678.4936789011385" y2="823.340518351708" stroke="#e02020" stroke-width="2.6"/>
<path d="M3681.6,828 L3674.250222400016,823.2850483320856 L3678.2717988226486,823.007698233973 L3680.0745744603805,819.4021469585089 Z" fill="#e02020"/>
<line x1="3661.6" y1="798" x2="3682.71859118899" y2="776.0366651634504" stroke="#20c820" stroke-width="2.6"/>
<path d="M3686.6,772 L3683.578045997142,780.1925450260961 L3682.441347702489,776.3249983894111 L3678.532214542829,775.3407840123335 Z" fill="#20c820"/>
<line x1="3711" y1="798" x2="3699.372446808799" y2="794.5801314143526" stroke="#2020e0" stroke-width="2.6"/>
<path d="M3694,793 L3702.6625061465406,791.899551336433 L3699.7561930094275,794.6929979439493 L3700.6873418785995,798.6151098474318 Z" fill="#2020e0"/>
<line x1="3711" y1="798" x2="3727.8936789011386" y2="823.340518351708" stroke="#e02020" stroke-width="2.6"/>
<path d="M3731,828 L3723.650222400016,823.2850483320856 L3727.6717988226487,823.007698233973 L3729.4745744603806,819.4021469585089 Z" fill="#e02020"/>
<line x1="3711" y1="798" x2="3732.11859118899" y2="776.0366651634504" stroke="#20c820" stroke-width="2.6"/>
<path d="M3736,772 L3732.978045997142,780.1925450260961 L3731.841347702489,776.3249983894111 L3727.932214542829,775.3407840123335 Z" fill="#20c820"/>
<line x1="3760.7" y1="798" x2="3749.0724468087988" y2="794.5801314143526" stroke="#2020e0" stroke-width="2.6"/>
<path d="M3743.7,793 L3752.3625061465405,791.899551336433 L3749.4561930094274,794.6929979439493 L3750.3873418785993,798.6151098474318 Z" fill="#2020e0"/>
<line x1="3760.7" y1="798" x2="3777.5936789011384" y2="823.340518351708" stroke="#e02020" stroke-width="2.6"/>
<path d="M3780.7,828 L3773.350222400016,823.2850483320856 L3777.3717988226485,823.007698233973 L3779.1745744603804,819.4021469585089 Z" fill="#e02020"/>
<line x1="3760.7" y1="798" x2="3781.81859118899" y2="776.0366651634504" stroke="#20c820" stroke-width="2.6"/>
<path d="M3785.7,772 L3782.678045997142,780.1925450260961 L3781.541347702489,776.3249983894111 L3777.632214542829,775.3407840123335 Z" fill="#20c820"/>
<text x="3613.4" y="857" font-family="Liberation Serif" font-size="30" fill="#111" text-anchor="middle"><tspan font-weight="bold" font-style="italic">p̂</tspan><tspan font-size="19" dy="5">1</tspan></text>
<text x="3661.6" y="857" font-family="Liberation Serif" font-size="30" fill="#111" text-anchor="middle"><tspan font-weight="bold" font-style="italic">p̂</tspan><tspan font-size="19" dy="5">2</tspan></text>
<text x="3712.5" y="857" font-family="Liberation Serif" font-size="30" fill="#111" text-anchor="middle"><tspan font-weight="bold" font-style="italic">p̂</tspan><tspan font-size="19" dy="5">3</tspan></text>
<text x="3765.4" y="857" font-family="Liberation Serif" font-size="30" fill="#111" text-anchor="middle"><tspan font-weight="bold" font-style="italic">p̂</tspan><tspan font-size="19" dy="5">4</tspan></text>
<text x="3784" y="795" font-family="Liberation Serif" font-size="26" fill="#111">···</text>
<text x="3708.7" y="909" font-family="Liberation Serif" font-size="26" fill="#111" text-anchor="middle" textLength="170" lengthAdjust="spacingAndGlyphs">Pose Candidates</text>
<text x="3475" y="1003.4" font-family="Liberation Serif" font-size="26" fill="#111" text-anchor="middle" textLength="273.7" lengthAdjust="spacingAndGlyphs">(a) Candidates Generation</text>
<text x="3435" y="1069" font-family="Liberation Serif" font-size="26" fill="#111" text-anchor="middle"><tspan font-style="italic">ε</tspan></text>
<line x1="3435" y1="1081" x2="3435.0" y2="1104.3" stroke="#111" stroke-width="2.2"/>
<path d="M3435,1112 L3430.0,1101.0 L3435.0,1103.75 L3440.0,1101.0 Z" fill="#111"/>
<text x="3200" y="1107" font-family="Liberation Serif" font-size="26" fill="#111" text-anchor="middle" textLength="130" lengthAdjust="spacingAndGlyphs">Partial Point</text>
<text x="3200" y="1140" font-family="Liberation Serif" font-size="26" fill="#111" text-anchor="middle">Cloud  <tspan font-style="italic">O</tspan><tspan font-size="18" dy="-11">*</tspan></text>
<line x1="3262.8" y1="1120.4" x2="3351.8" y2="1120.4" stroke="#111" stroke-width="2.4"/>
<path d="M3359.5,1120.4 L3348.5,1125.4 L3351.25,1120.4 L3348.5,1115.4 Z" fill="#111"/>
<line x1="3262.8" y1="1219.5" x2="3350.9" y2="1219.5" stroke="#111" stroke-width="2.4"/>
<path d="M3358.6,1219.5 L3347.6,1224.5 L3350.35,1219.5 L3347.6,1214.5 Z" fill="#111"/>
<text x="3219" y="1204" font-family="Liberation Serif" font-size="26" fill="#111" text-anchor="middle" textLength="172" lengthAdjust="spacingAndGlyphs">Pose Candidates</text>
<text x="3161" y="1246" font-family="Liberation Serif" font-size="30" fill="#111">{<tspan font-weight="bold" font-style="italic">p̂</tspan><tspan font-style="italic" font-size="19" dy="5">i</tspan><tspan dy="-5">}</tspan><tspan font-style="italic" font-size="18" dy="-12">K</tspan><tspan font-size="18" dx="-12" dy="20">i=1</tspan></text>
<path d="M3362,1094 L3509.6,1128.4 L3509.6,1213.4 L3362,1248.8 Z" fill="#e3eff8" stroke="#222" stroke-width="2.2" stroke-linejoin="round"/>
<rect x="3373.7" y="1137.9" width="125.10000000000036" height="63.69999999999982" rx="13" fill="#e3eff8" stroke="#222" stroke-width="2.4"/>
<text x="3436" y="1182" font-family="Liberation Serif" font-size="40" fill="#111" text-anchor="middle">Ψ<tspan font-size="24" font-style="italic" font-weight="bold" dy="8">ϕ</tspan></text>
<line x1="3509.6" y1="1171" x2="3566.6000000000004" y2="1171.0" stroke="#111" stroke-width="2.4"/>
<path d="M3574.3,1171 L3563.3,1176.0 L3566.05,1171.0 L3563.3,1166.0 Z" fill="#111"/>
<text x="3574.3" y="1088.3" font-family="Liberation Serif" font-size="30" fill="#111">{Ψ<tspan font-style="italic" font-size="19" dy="5">ϕ</tspan><tspan dy="-5">(</tspan><tspan font-weight="bold" font-style="italic">p̂</tspan><tspan font-style="italic" font-size="19" dy="5">i</tspan><tspan dy="-5">, </tspan><tspan font-style="italic">ε</tspan>|<tspan font-style="italic">O</tspan>)}<tspan font-style="italic" font-size="18" dy="-12">K</tspan><tspan font-size="18" dx="-12" dy="20">i=1</tspan></text>
<rect x="3577.6" y="1114.3" width="253.80000000000018" height="113.20000000000005" rx="10" fill="#ececec" stroke="#222" stroke-width="2.2"/>
<line x1="3590.8" y1="1215.7" x2="3590.8" y2="1128.3" stroke="#111" stroke-width="2"/>
<path d="M3590.8,1122 L3594.8,1131.0 L3590.8,1128.75 L3586.8,1131.0 Z" fill="#111"/>
<line x1="3590.8" y1="1215.7" x2="3812.7" y2="1215.7" stroke="#111" stroke-width="2"/>
<path d="M3819,1215.7 L3810.0,1219.7 L3812.25,1215.7 L3810.0,1211.7 Z" fill="#111"/>
<rect x="3618" y="1169.5" width="16" height="46.200000000000045" fill="#ffd966" stroke="#333" stroke-width="1.6"/>
<rect x="3665.4" y="1196" width="16.0" height="19.700000000000045" fill="#ffd966" stroke="#333" stroke-width="1.6"/>
<rect x="3712.5" y="1147.3" width="16.5" height="68.40000000000009" fill="#ffd966" stroke="#333" stroke-width="1.6"/>
<rect x="3759.7" y="1182.7" width="16.5" height="33.0" fill="#ffd966" stroke="#333" stroke-width="1.6"/>
<text x="3793.7" y="1192" font-family="Liberation Serif" font-size="26" fill="#111">···</text>
<text x="3704.7" y="1267.6" font-family="Liberation Serif" font-size="26" fill="#111" text-anchor="middle" textLength="145" lengthAdjust="spacingAndGlyphs">Pose Energies</text>
<text x="3464.5" y="1298.3" font-family="Liberation Serif" font-size="26" fill="#111" text-anchor="middle" textLength="269.5" lengthAdjust="spacingAndGlyphs">(b) Likelihood Estimation</text>
<text x="3624" y="1352.6" font-family="Liberation Serif" font-size="26" fill="#111" text-anchor="middle" textLength="139.7" lengthAdjust="spacingAndGlyphs">(II) Inference</text>
<rect x="3875.3" y="691" width="266.1999999999998" height="256.70000000000005" rx="16" fill="#ececec" stroke="#222" stroke-width="2.2"/>
<rect x="3887" y="706" width="126" height="229" rx="15" fill="none" stroke="#e01818" stroke-width="3" stroke-dasharray="10 6"/>
<text x="3892.8" y="739" font-family="Liberation Serif" font-size="26" fill="#111" textLength="40" lengthAdjust="spacingAndGlyphs">Top</text>
<path d="M3941,716 V742 H3947 M4002,716 V742 H3996" fill="none" stroke="#111" stroke-width="1.8"/>
<text x="3950" y="739" font-family="Liberation Serif" font-size="26" fill="#111" textLength="46" lengthAdjust="spacingAndGlyphs"><tspan font-style="italic">δ</tspan> · <tspan font-style="italic">K</tspan></text>
<text x="4088.6" y="720" font-family="Liberation Serif" font-size="26" fill="#111" text-anchor="middle">remove</text>
<text x="4088.6" y="751" font-family="Liberation Serif" font-size="26" fill="#111" text-anchor="middle">outliers</text>
<line x1="3909.3" y1="850" x2="3909.3" y2="760.3" stroke="#111" stroke-width="2"/>
<path d="M3909.3,754 L3913.3,763.0 L3909.3,760.75 L3905.3,763.0 Z" fill="#111"/>
<line x1="3909.3" y1="850" x2="4106.7" y2="850.0" stroke="#111" stroke-width="2"/>
<path d="M4113,850 L4104.0,854.0 L4106.25,850.0 L4104.0,846.0 Z" fill="#111"/>
<rect x="3930.5" y="780" width="17.5" height="70" fill="#ffd966" stroke="#333" stroke-width="1.6"/>
<rect x="3972" y="802.8" width="17.5" height="47.200000000000045" fill="#ffd966" stroke="#333" stroke-width="1.6"/>
<rect x="4016.4" y="815.5" width="18.0" height="34.5" fill="#f6ebe2" stroke="#c8b8b0" stroke-width="1.6"/>
<rect x="4062.7" y="828.8" width="16.300000000000182" height="21.200000000000045" fill="#f6ebe2" stroke="#c8b8b0" stroke-width="1.6"/>
<path d="M3931.5,761.8 Q3990,800 4090,812.2" fill="none" stroke="#d08040" stroke-width="2"/>
<line x1="3937.6" y1="887.7" x2="3926.051136142668" y2="884.9826202688631" stroke="#2020e0" stroke-width="2.6"/>
<path d="M3920.6,883.7 L3929.188975014708,882.1253545806369 L3926.4405030100015,885.0742360023534 L3927.585699678629,888.939274758972 Z" fill="#2020e0"/>
<line x1="3937.6" y1="887.7" x2="3952.718823769606" y2="912.8980396160098" stroke="#e02020" stroke-width="2.6"/>
<path d="M3955.6,917.7 L3948.482808716586,912.640791738296 L3952.5130254674345,912.5550424457248 L3954.4852591965737,909.0393214503033 Z" fill="#e02020"/>
<line x1="3937.6" y1="887.7" x2="3958.71859118899" y2="865.7366651634504" stroke="#20c820" stroke-width="2.6"/>
<path d="M3962.6,861.7 L3959.578045997142,869.8925450260962 L3958.441347702489,866.0249983894112 L3954.532214542829,865.0407840123336 Z" fill="#20c820"/>
<line x1="3982.5" y1="887.7" x2="3970.951136142668" y2="884.9826202688631" stroke="#2020e0" stroke-width="2.6"/>
<path d="M3965.5,883.7 L3974.088975014708,882.1253545806369 L3971.3405030100016,885.0742360023534 L3972.4856996786293,888.939274758972 Z" fill="#2020e0"/>
<line x1="3982.5" y1="887.7" x2="3997.618823769606" y2="912.8980396160098" stroke="#e02020" stroke-width="2.6"/>
<path d="M4000.5,917.7 L3993.382808716586,912.640791738296 L3997.4130254674346,912.5550424457248 L3999.3852591965738,909.0393214503033 Z" fill="#e02020"/>
<line x1="3982.5" y1="887.7" x2="4003.61859118899" y2="865.7366651634504" stroke="#20c820" stroke-width="2.6"/>
<path d="M4007.5,861.7 L4004.478045997142,869.8925450260962 L4003.341347702489,866.0249983894112 L3999.432214542829,865.0407840123336 Z" fill="#20c820"/>
<g opacity="0.25">
<line x1="4025" y1="892.5" x2="4014.734551204046" y2="889.7625469877456" stroke="#2020e0" stroke-width="2"/>
<path d="M4010,888.5 L4017.5366325288896,887.4049337351187 L4015.0727334329067,889.8527289154417 L4015.9906566255277,893.2023433727261 Z" fill="#2020e0"/>
<line x1="4025" y1="892.5" x2="4040.350287802564" y2="916.3782254706549" stroke="#e02020" stroke-width="2"/>
<path d="M4043,920.5 L4036.691161434676,916.2340234463046 L4040.161022645604,916.0838130042731 L4041.738232286935,912.9894778984236 Z" fill="#e02020"/>
<line x1="4025" y1="892.5" x2="4041.938994266983" y2="871.3262571662708" stroke="#20c820" stroke-width="2"/>
<path d="M4045,867.5 L4042.969741095448,874.8401668087645 L4041.720351000339,871.5995612495759 L4038.2845282387902,871.091996523438 Z" fill="#20c820"/>
</g>
<g opacity="0.25">
<line x1="4072" y1="883" x2="4060.588012970088" y2="878.7205048637832" stroke="#2020e0" stroke-width="2"/>
<path d="M4056,877 L4063.6076745677483,876.6488765584116 L4060.9157281822377,878.8433980683391 L4061.500933918218,882.2668516238258 Z" fill="#2020e0"/>
<line x1="4072" y1="883" x2="4072.0" y2="913.1" stroke="#e02020" stroke-width="2"/>
<path d="M4072,918 L4069.0,911.0 L4072.0,912.75 L4075.0,911.0 Z" fill="#e02020"/>
<line x1="4072" y1="883" x2="4092.450464214662" y2="874.8198143141351" stroke="#20c820" stroke-width="2"/>
<path d="M4097,873 L4091.6148351928655,878.3851648071345 L4092.1254973728524,874.949801050859 L4089.3864911347405,872.8143046618229 Z" fill="#20c820"/>
</g>
<text x="4015" y="979.8" font-family="Liberation Serif" font-size="26" fill="#111" text-anchor="middle" textLength="272.8" lengthAdjust="spacingAndGlyphs">Ranking by Pose Energies</text>
<line x1="4006" y1="994" x2="4006.0" y2="1061.7" stroke="#111" stroke-width="2.2"/>
<path d="M4006,1069.4 L4001.0,1058.4 L4006.0,1061.15 L4011.0,1058.4 Z" fill="#111"/>
<text x="3942" y="1036.4" font-family="Liberation Serif" font-size="26" fill="#111" textLength="54.6" lengthAdjust="spacingAndGlyphs">Mean</text>
<text x="4013" y="1036.4" font-family="Liberation Serif" font-size="26" fill="#111" textLength="80" lengthAdjust="spacingAndGlyphs">Pooling</text>
<ellipse cx="4030" cy="1240" rx="95" ry="22" fill="url(#shad)"/>
<path d="M4006 1171h0M4014 1158h0M4019 1140h0M4036 1104h0M4031 1101h0M3985 1194h0M4037 1097h0M4009 1199h0M4015 1165h0M4016 1139h0M3990 1221h0M4029 1148h0M4019 1128h0M4029 1108h0M4007 1187h0M4042 1112h0M4038 1127h0M4026 1129h0M4034 1117h0M3999 1153h0M4037 1129h0M4011 1137h0M4029 1154h0M4005 1175h0M4011 1149h0M4029 1145h0M4040 1133h0M3998 1154h0M4040 1100h0M3980 1193h0M3990 1191h0M3992 1184h0" stroke="#849c9c" stroke-width="6.0" stroke-linecap="round"/><path d="M4014 1202h0M4030 1172h0M4010 1210h0M4061 1116h0M4048 1145h0M4026 1191h0M4042 1145h0M4026 1141h0M4029 1144h0M4018 1148h0M4032 1156h0M4018 1158h0M4033 1139h0M4003 1174h0M4011 1208h0M4010 1201h0M4044 1117h0M4026 1193h0M3997 1206h0M4059 1114h0M4018 1169h0M4031 1147h0M4068 1090h0M4011 1168h0M4054 1144h0M4051 1095h0M4008 1171h0M4024 1143h0M3997 1198h0M4066 1098h0" stroke="#9cb484" stroke-width="6.0" stroke-linecap="round"/><path d="M4001 1111h0M4031 1104h0M4017 1090h0M3972 1211h0M4014 1108h0M4009 1133h0M3964 1183h0M4009 1138h0M3967 1210h0M3983 1157h0M3995 1129h0M3953 1191h0M4021 1099h0M3971 1145h0M4015 1118h0M3978 1190h0M3969 1180h0M4016 1098h0M3970 1174h0M4003 1100h0M3963 1175h0M3988 1131h0M4000 1142h0M3978 1153h0M3981 1191h0M3996 1150h0M4008 1096h0M4011 1141h0M3968 1188h0M3970 1188h0M3962 1204h0M4018 1101h0M3990 1136h0M3978 1201h0M3985 1159h0M4025 1126h0M3995 1112h0M3985 1139h0M4005 1106h0M3997 1094h0M3975 1140h0M3959 1202h0M3982 1194h0M3970 1204h0M3995 1175h0M3958 1205h0M4031 1104h0M3983 1146h0M3998 1138h0M4003 1109h0M3991 1146h0M4019 1106h0M4004 1098h0M3982 1170h0" stroke="#8484cc" stroke-width="6.0" stroke-linecap="round"/><path d="M4081 1254h0M4102 1207h0M4114 1165h0" stroke="#e49c84" stroke-width="6.0" stroke-linecap="round"/><path d="M4084 1203h0M4082 1166h0M4096 1162h0M4060 1213h0M4084 1214h0M4089 1124h0M4088 1166h0M4095 1150h0M4075 1177h0M4074 1186h0M4070 1163h0M4096 1181h0M4067 1239h0M4088 1145h0M4074 1174h0M4045 1216h0M4078 1194h0M4073 1213h0M4099 1120h0M4055 1238h0M4069 1203h0M4072 1211h0M4076 1181h0M4098 1154h0M4095 1164h0M4102 1148h0M4088 1135h0M4081 1217h0M4084 1174h0M4104 1139h0M4112 1168h0M4064 1183h0M4082 1215h0M4054 1215h0M4081 1209h0M4108 1132h0M4077 1182h0M4091 1130h0M4103 1150h0M4078 1164h0M4083 1194h0M4038 1233h0M4065 1184h0M4078 1163h0M4082 1181h0M4076 1213h0M4057 1216h0M4082 1178h0M4076 1208h0M4052 1232h0M4070 1209h0M4087 1140h0M4103 1154h0M4051 1237h0M4075 1205h0M4074 1168h0M4106 1139h0M4055 1220h0M4063 1225h0" stroke="#cc9c54" stroke-width="6.0" stroke-linecap="round"/><path d="M4052 1138h0M4037 1147h0M4044 1128h0M4008 1181h0M4066 1133h0M4028 1210h0M4008 1194h0M4049 1156h0M4022 1212h0M4002 1208h0M4020 1188h0M4074 1127h0M4035 1149h0M4057 1117h0M4040 1113h0M4023 1205h0M4024 1198h0M4057 1103h0M4045 1123h0M4039 1153h0M4008 1182h0M4066 1127h0M4023 1180h0M4025 1197h0M4064 1124h0" stroke="#84b46c" stroke-width="6.0" stroke-linecap="round"/><path d="M4003 1160h0M4034 1112h0M4008 1149h0M4010 1127h0M4035 1107h0M4032 1120h0M3985 1212h0M3979 1191h0M3995 1162h0M4015 1117h0M3989 1192h0M4020 1140h0M4021 1115h0M4022 1104h0M4005 1152h0M4042 1099h0M4034 1134h0M3980 1188h0M3997 1147h0" stroke="#9cb4cc" stroke-width="6.0" stroke-linecap="round"/><path d="M3994 1094h0M3947 1184h0M3984 1106h0M3987 1141h0M4022 1089h0M3961 1161h0M3992 1139h0M4018 1088h0M3961 1155h0M3972 1139h0" stroke="#849cfc" stroke-width="6.0" stroke-linecap="round"/><path d="M4081 1178h0M4057 1230h0M4081 1156h0M4034 1215h0M4047 1183h0M4051 1227h0M4054 1172h0M4103 1134h0M4039 1233h0M4060 1169h0M4062 1183h0M4068 1173h0M4071 1180h0M4047 1174h0M4095 1154h0M4067 1190h0M4079 1181h0M4056 1169h0M4078 1117h0M4084 1151h0M4077 1154h0M4050 1221h0M4081 1155h0M4095 1137h0M4047 1198h0M4086 1107h0M4067 1160h0M4031 1225h0M4056 1190h0M4069 1146h0M4062 1173h0M4071 1152h0M4092 1109h0M4025 1215h0M4048 1232h0M4088 1111h0M4055 1186h0M4065 1170h0M4066 1166h0M4095 1119h0M4059 1178h0M4055 1192h0M4075 1151h0M4032 1204h0M4070 1192h0M4105 1126h0M4054 1181h0M4071 1159h0M4061 1161h0M4078 1154h0M4060 1197h0M4057 1165h0M4071 1188h0M4068 1134h0M4058 1177h0M4099 1137h0M4044 1200h0M4064 1174h0" stroke="#b49c54" stroke-width="6.0" stroke-linecap="round"/><path d="M3996 1167h0M3980 1188h0M4014 1100h0M4028 1111h0M3995 1179h0M3979 1210h0M4004 1125h0M3994 1125h0M4008 1129h0M3975 1189h0M3998 1177h0M4003 1159h0M4010 1113h0M4011 1132h0M4006 1158h0M4022 1124h0M4000 1115h0M3983 1211h0M4005 1156h0M3987 1166h0M4026 1094h0M3987 1157h0M3991 1165h0M4013 1108h0M4006 1151h0M4009 1136h0M3991 1182h0M4026 1094h0M3994 1161h0M4000 1158h0M4014 1133h0M4012 1158h0M3985 1147h0M3991 1187h0M3988 1159h0" stroke="#9c9ce4" stroke-width="6.0" stroke-linecap="round"/><path d="M4090 1173h0M4078 1227h0M4093 1232h0" stroke="#e4846c" stroke-width="6.0" stroke-linecap="round"/><path d="M3983 1157h0M4003 1089h0M3976 1183h0M4001 1120h0M4010 1110h0M3948 1160h0M3982 1146h0M3986 1140h0M4021 1105h0M3967 1159h0M3965 1190h0M3994 1131h0M3956 1176h0M3982 1101h0M3967 1179h0M3967 1196h0M4007 1089h0M3987 1146h0M3966 1142h0M3971 1134h0M3984 1179h0M3976 1118h0M3984 1135h0M3989 1131h0M4011 1107h0M3991 1146h0M3954 1166h0M3964 1207h0M4020 1088h0M3974 1133h0M4006 1089h0M3981 1107h0M4015 1092h0M3960 1194h0M4003 1089h0M3973 1142h0M3993 1130h0M3978 1180h0M4009 1123h0M3996 1131h0M4000 1122h0M3989 1164h0M3962 1153h0M3971 1188h0" stroke="#849ce4" stroke-width="6.0" stroke-linecap="round"/><path d="M4058 1156h0M4030 1180h0M4052 1112h0M4014 1224h0M4047 1179h0M4068 1147h0M4066 1117h0M4050 1177h0M4003 1218h0M4044 1173h0M4068 1135h0M4035 1173h0M4023 1189h0M4019 1221h0M4047 1162h0M4036 1180h0M4076 1101h0M4041 1193h0M4060 1157h0M4062 1145h0M4067 1124h0M4022 1212h0M4043 1126h0M4056 1153h0M4039 1159h0M4069 1115h0M4081 1111h0M4029 1225h0M4044 1149h0M4041 1158h0M3999 1211h0M4022 1209h0M4034 1146h0M4037 1207h0M4033 1205h0M4028 1157h0M4041 1175h0M4062 1094h0M4042 1165h0M4062 1105h0M4067 1105h0M4050 1109h0M4056 1121h0M4066 1117h0M4033 1166h0M4038 1163h0M4050 1181h0M4045 1188h0M4042 1188h0M4020 1222h0M4036 1188h0M4069 1116h0M4020 1172h0M4013 1209h0M4043 1170h0M4072 1094h0M4031 1174h0M4000 1224h0M4048 1152h0M4027 1196h0M4023 1189h0M4021 1219h0M4063 1109h0M4071 1111h0M4042 1156h0M4032 1212h0M4024 1184h0" stroke="#9cb46c" stroke-width="6.0" stroke-linecap="round"/><path d="M4077 1113h0M4073 1152h0M4065 1180h0M4041 1219h0M4078 1106h0M4046 1224h0M4032 1203h0M4096 1121h0M4077 1129h0M4095 1121h0M4035 1192h0M4080 1118h0M4087 1103h0M4083 1112h0M4073 1139h0M4037 1190h0M4074 1119h0M4071 1138h0M4042 1178h0M4096 1115h0M4047 1163h0M4085 1116h0M4066 1125h0M4078 1154h0M4027 1210h0M4078 1133h0M4053 1176h0M4081 1107h0M4030 1210h0M4037 1173h0M4055 1185h0M4053 1151h0M4063 1137h0M4033 1201h0M4070 1102h0M4065 1168h0M4074 1153h0M4077 1140h0M4039 1214h0M4029 1218h0M4063 1153h0M4043 1207h0M4034 1220h0M4082 1116h0M4051 1192h0M4061 1189h0M4028 1219h0M4073 1105h0M4067 1156h0" stroke="#9c9c54" stroke-width="6.0" stroke-linecap="round"/><path d="M3960 1112h0M3956 1126h0M3981 1111h0M3979 1104h0M3961 1135h0M3959 1150h0M3950 1141h0M3969 1111h0M3965 1113h0" stroke="#549cb4" stroke-width="6.0" stroke-linecap="round"/><path d="M4024 1215h0M4003 1214h0M4079 1124h0M4050 1135h0M4018 1210h0M4029 1169h0M4027 1191h0M4069 1128h0M4039 1185h0M4051 1129h0M4071 1109h0M4071 1134h0M4073 1109h0M4059 1160h0M4030 1169h0M4022 1183h0M4043 1159h0M4065 1148h0M4032 1198h0M4060 1129h0M4025 1203h0M4069 1100h0M4051 1115h0M4059 1149h0M4069 1092h0M4049 1127h0M4040 1140h0M4058 1130h0M4071 1111h0M4060 1154h0M4022 1203h0M4037 1166h0M4033 1159h0" stroke="#849c54" stroke-width="6.0" stroke-linecap="round"/><path d="M4059 1231h0M4085 1202h0M4099 1171h0M4094 1185h0M4093 1199h0M4078 1196h0M4073 1237h0M4072 1218h0M4056 1237h0M4071 1218h0M4068 1233h0M4107 1127h0M4072 1200h0M4088 1201h0M4098 1162h0M4095 1204h0M4066 1239h0M4072 1249h0M4078 1251h0M4080 1246h0M4091 1205h0M4093 1174h0M4088 1180h0M4090 1174h0M4059 1238h0M4070 1246h0M4082 1211h0M4104 1162h0M4103 1194h0" stroke="#cc8454" stroke-width="6.0" stroke-linecap="round"/><path d="M3981 1166h0M3981 1175h0M3969 1206h0M3997 1160h0M4008 1121h0M4006 1118h0M4022 1116h0M3972 1208h0M3986 1207h0M4008 1117h0M4002 1144h0M4000 1163h0M3991 1151h0M4003 1137h0M4000 1158h0M3994 1193h0M4024 1115h0M4013 1112h0M3999 1127h0M3996 1135h0M3985 1170h0M3996 1160h0M4000 1161h0M3988 1155h0M4001 1150h0M4029 1135h0M3981 1177h0M4008 1137h0M4008 1152h0" stroke="#9c9ccc" stroke-width="6.0" stroke-linecap="round"/><path d="M3981 1156h0M3978 1163h0M3998 1116h0M3997 1145h0M3957 1179h0M3985 1097h0M3963 1203h0M3984 1170h0M3969 1209h0M3963 1160h0M3979 1172h0M3995 1105h0M3972 1141h0M3991 1160h0M3960 1170h0M3973 1133h0M3999 1136h0M4001 1116h0M3963 1199h0M3988 1094h0M3968 1198h0M3974 1146h0M3988 1096h0M3974 1137h0M4017 1093h0M4019 1090h0M3961 1164h0M3986 1155h0M3972 1174h0M3985 1115h0M3964 1174h0M3974 1145h0M3957 1164h0M4005 1092h0M3981 1146h0M3954 1193h0" stroke="#6c84cc" stroke-width="6.0" stroke-linecap="round"/><path d="M4059 1198h0M4056 1220h0M4082 1152h0M4065 1196h0M4085 1163h0M4060 1200h0M4097 1164h0M4099 1136h0M4056 1223h0M4064 1213h0M4052 1231h0M4051 1209h0M4092 1117h0M4105 1143h0M4093 1173h0M4081 1207h0M4050 1219h0M4091 1120h0M4110 1132h0M4038 1223h0M4070 1227h0M4064 1214h0M4098 1127h0M4049 1222h0M4085 1149h0M4077 1202h0M4056 1190h0M4082 1133h0M4082 1188h0M4061 1193h0M4103 1168h0M4063 1226h0M4048 1216h0M4096 1176h0M4068 1191h0M4052 1226h0M4066 1185h0M4099 1139h0M4048 1222h0M4069 1205h0M4083 1164h0M4050 1210h0M4040 1223h0M4062 1229h0M4063 1189h0M4070 1178h0M4073 1206h0M4092 1145h0M4051 1216h0M4047 1195h0M4072 1157h0M4044 1235h0M4103 1148h0M4083 1166h0M4096 1140h0M4067 1234h0M4085 1163h0M4059 1201h0" stroke="#e4b454" stroke-width="6.0" stroke-linecap="round"/><path d="M4032 1194h0M4057 1199h0M4071 1167h0M4051 1195h0M4048 1220h0M4034 1222h0M4094 1117h0M4076 1157h0M4100 1127h0M4064 1172h0M4071 1154h0M4079 1105h0M4073 1121h0M4034 1197h0M4075 1172h0M4072 1136h0M4043 1223h0M4058 1200h0M4054 1173h0M4061 1186h0M4046 1190h0M4039 1223h0" stroke="#b4b454" stroke-width="6.0" stroke-linecap="round"/><path d="M4074 1246h0M4111 1142h0M4074 1211h0M4071 1233h0M4094 1216h0M4087 1205h0M4103 1172h0M4073 1227h0M4109 1171h0M4095 1164h0" stroke="#b48454" stroke-width="6.0" stroke-linecap="round"/><path d="M3975 1194h0M4042 1116h0M4016 1150h0M3986 1186h0M4015 1121h0M4033 1108h0M4023 1145h0M3974 1208h0M4033 1115h0M3997 1175h0M4039 1104h0M3981 1181h0M4002 1192h0M4017 1147h0M4040 1113h0M4020 1132h0M3974 1204h0M4021 1120h0M4008 1147h0M4036 1122h0M4001 1160h0M4005 1149h0M3998 1164h0M4000 1178h0M4014 1122h0" stroke="#84849c" stroke-width="6.0" stroke-linecap="round"/><path d="M4015 1219h0M4051 1138h0M4020 1214h0M4034 1168h0M4066 1091h0M4030 1184h0M4039 1160h0M4064 1102h0M4021 1177h0M4046 1141h0M4036 1135h0M4008 1190h0M4032 1182h0M4016 1194h0M4060 1111h0M4001 1210h0M4040 1137h0M4063 1092h0M4005 1198h0M4048 1149h0M4052 1111h0M3998 1200h0M4017 1169h0M4009 1221h0M4052 1130h0M4014 1180h0M4005 1194h0M4044 1161h0M4018 1193h0M4043 1173h0M4034 1136h0M3994 1217h0M4042 1172h0M4058 1093h0M4063 1133h0M4010 1177h0M3993 1217h0M4023 1176h0M4067 1096h0" stroke="#9ccc84" stroke-width="6.0" stroke-linecap="round"/><path d="M4071 1183h0M4086 1113h0M4071 1123h0M4074 1162h0M4052 1222h0M4087 1137h0M4050 1190h0M4058 1175h0M4081 1101h0M4032 1209h0M4050 1213h0M4054 1212h0M4028 1199h0M4042 1181h0M4056 1136h0M4051 1208h0M4056 1164h0" stroke="#cccc6c" stroke-width="6.0" stroke-linecap="round"/><path d="M4003 1201h0M3990 1216h0M4033 1140h0M4048 1098h0M4024 1166h0M4010 1177h0M4012 1156h0M3991 1188h0M4014 1165h0M4029 1122h0M4027 1147h0M4043 1149h0" stroke="#9ccc9c" stroke-width="6.0" stroke-linecap="round"/><path d="M3949 1156h0M3968 1162h0M3966 1177h0M3951 1183h0M3983 1147h0M3948 1170h0M3963 1112h0M3997 1117h0M3966 1122h0M3957 1172h0M3978 1122h0M3974 1117h0M3951 1148h0M3973 1102h0M3981 1112h0M4009 1092h0" stroke="#6c9ce4" stroke-width="6.0" stroke-linecap="round"/><path d="M4098 1120h0M4099 1132h0M4088 1124h0M4107 1129h0M4087 1153h0M4085 1116h0M4079 1130h0M4082 1155h0M4051 1239h0M4095 1113h0M4038 1220h0M4092 1144h0M4089 1110h0M4057 1177h0M4068 1181h0M4046 1175h0M4051 1231h0M4059 1186h0M4064 1177h0M4059 1207h0M4083 1152h0M4047 1235h0M4079 1133h0M4073 1153h0M4043 1197h0M4082 1139h0M4082 1156h0M4077 1155h0M4060 1197h0M4071 1150h0M4081 1150h0M4083 1160h0" stroke="#ccb454" stroke-width="6.0" stroke-linecap="round"/><path d="M4113 1159h0M4101 1175h0M4071 1246h0M4079 1242h0M4098 1206h0M4082 1261h0M4090 1249h0M4104 1192h0M4076 1250h0M4095 1222h0M4077 1251h0" stroke="#b46c6c" stroke-width="6.0" stroke-linecap="round"/><path d="M4100 1177h0M4106 1150h0M4073 1224h0M4088 1184h0M4086 1191h0M4081 1218h0M4095 1206h0M4105 1145h0" stroke="#fc9c6c" stroke-width="6.0" stroke-linecap="round"/><path d="M3997 1194h0M4008 1179h0M4005 1209h0M4054 1113h0M3989 1193h0M4024 1134h0M4025 1162h0M4055 1103h0M4018 1201h0M4016 1175h0M4024 1187h0M4015 1161h0M4003 1181h0M4050 1121h0M4004 1170h0M4004 1197h0M4033 1119h0M4027 1119h0M4061 1090h0M4010 1152h0M4034 1128h0M4030 1108h0M4046 1112h0M4011 1163h0M4025 1171h0M4045 1132h0M4005 1168h0M3996 1217h0M4029 1135h0M4001 1201h0M4010 1172h0M3992 1219h0M3996 1190h0M4031 1167h0M4013 1189h0M4041 1133h0M3983 1194h0M3998 1199h0M4043 1102h0M4010 1172h0M4021 1180h0M4045 1133h0M4005 1182h0M4030 1155h0M4006 1220h0M4002 1208h0M4029 1119h0M4013 1209h0M4010 1172h0M4028 1146h0M4007 1167h0" stroke="#849c84" stroke-width="6.0" stroke-linecap="round"/><path d="M4098 1157h0M4098 1191h0M4080 1213h0M4075 1237h0M4081 1221h0M4087 1236h0M4085 1232h0M4093 1180h0M4075 1231h0M4097 1188h0M4098 1216h0M4089 1204h0M4104 1190h0M4079 1246h0M4089 1220h0M4112 1150h0M4080 1216h0M4081 1257h0M4102 1180h0M4078 1238h0M4085 1214h0M4094 1212h0M4094 1204h0M4089 1244h0M4110 1185h0M4115 1170h0M4092 1230h0M4087 1209h0" stroke="#cc846c" stroke-width="6.0" stroke-linecap="round"/><path d="M3957 1160h0M3985 1159h0M3958 1149h0M3953 1189h0M3971 1151h0M3985 1136h0M3963 1208h0M4007 1094h0M3956 1177h0M3981 1147h0M4000 1099h0M3955 1152h0M3975 1158h0M3975 1110h0M3949 1165h0M3953 1183h0M3966 1160h0M3975 1115h0M4002 1103h0M3976 1125h0M3957 1168h0M3993 1113h0M3978 1110h0M3955 1145h0M3969 1139h0M3967 1178h0M3945 1174h0M3979 1131h0M3976 1136h0M3989 1117h0M3955 1162h0M3961 1119h0M3974 1130h0M3952 1169h0M3972 1172h0" stroke="#84b4fc" stroke-width="6.0" stroke-linecap="round"/><path d="M4105 1158h0M4104 1189h0M4097 1160h0M4101 1186h0M4081 1199h0M4105 1209h0M4066 1215h0M4093 1164h0M4110 1138h0M4107 1150h0M4072 1243h0M4114 1173h0M4070 1247h0M4083 1205h0M4103 1186h0M4075 1231h0M4111 1139h0M4102 1208h0M4094 1203h0M4064 1230h0M4070 1235h0M4085 1234h0M4099 1171h0M4068 1236h0M4063 1225h0M4104 1146h0" stroke="#e49c6c" stroke-width="6.0" stroke-linecap="round"/><path d="M4088 1257h0M4097 1259h0M4101 1235h0M4082 1258h0" stroke="#e46cb4" stroke-width="6.0" stroke-linecap="round"/><path d="M4074 1114h0M4042 1139h0M4051 1153h0M4022 1221h0M4059 1117h0M4051 1108h0M3999 1218h0M4051 1139h0M4060 1112h0M4046 1157h0M4025 1184h0M4010 1207h0M4033 1196h0M4058 1132h0M4056 1153h0M4051 1123h0" stroke="#9ccc6c" stroke-width="6.0" stroke-linecap="round"/><path d="M3989 1105h0M3951 1197h0M3974 1168h0M3977 1105h0M3990 1124h0M3974 1136h0M3986 1097h0M3977 1150h0M3990 1116h0M3991 1105h0M3986 1097h0M3973 1132h0M3972 1158h0M4008 1092h0M3979 1120h0M3949 1168h0M3977 1155h0M3956 1170h0M3957 1131h0M3970 1149h0M3956 1200h0M3957 1145h0M3976 1110h0M3962 1154h0M3956 1163h0M3975 1122h0M3958 1129h0M3973 1149h0" stroke="#6c9ccc" stroke-width="6.0" stroke-linecap="round"/><path d="M3987 1160h0M3988 1164h0M4000 1131h0M3990 1117h0M3987 1133h0M3976 1196h0M3985 1155h0M4013 1105h0M3970 1206h0M3980 1141h0M3985 1153h0M3995 1116h0M3975 1187h0M3980 1151h0M4001 1149h0M3996 1130h0M4032 1087h0M3955 1192h0M3967 1193h0M3997 1108h0M4012 1101h0M3976 1180h0" stroke="#8484e4" stroke-width="6.0" stroke-linecap="round"/><path d="M4049 1140h0M4060 1114h0M4007 1174h0M4069 1095h0M4056 1111h0M4047 1150h0M4011 1207h0M4073 1100h0M4055 1096h0M4019 1181h0M4014 1206h0M4029 1130h0M4034 1153h0M4026 1139h0M4001 1202h0M4053 1115h0M4043 1161h0M4005 1203h0M4012 1204h0M4008 1222h0M4011 1226h0M4012 1207h0M4043 1097h0M4039 1108h0M4012 1220h0M4041 1166h0M4043 1138h0M4031 1147h0M4023 1202h0M4015 1167h0M4040 1112h0M4055 1129h0M4017 1165h0M4066 1102h0M4022 1200h0" stroke="#849c6c" stroke-width="6.0" stroke-linecap="round"/><path d="M4053 1102h0M3990 1167h0M4055 1102h0M4010 1140h0M4009 1176h0M3993 1200h0M4019 1123h0M4054 1100h0M4045 1112h0M3995 1166h0M4054 1106h0M4015 1160h0M3981 1190h0M4005 1158h0M4020 1151h0M3987 1185h0M4028 1109h0M4009 1185h0M4035 1118h0M4023 1165h0M4002 1146h0M3993 1197h0M4033 1113h0M3998 1206h0M3996 1179h0M4009 1161h0M4039 1087h0M4053 1103h0M4007 1190h0M3986 1196h0M3998 1170h0M3995 1214h0M4040 1123h0M4012 1135h0" stroke="#9cb4b4" stroke-width="6.0" stroke-linecap="round"/><path d="M4102 1242h0M4085 1242h0M4110 1237h0M4099 1223h0M4107 1194h0M4112 1177h0M4109 1184h0M4093 1214h0M4096 1238h0M4102 1213h0M4096 1215h0M4106 1197h0" stroke="#e4849c" stroke-width="6.0" stroke-linecap="round"/><path d="M4037 1089h0M4018 1113h0M3993 1103h0M3970 1203h0M4004 1141h0M3969 1171h0M4007 1129h0M3991 1121h0M3963 1201h0M3972 1204h0M4030 1086h0M4009 1127h0M4014 1091h0M3982 1140h0M3978 1198h0M3990 1157h0M4017 1099h0M4025 1100h0M4011 1121h0M4017 1088h0M3991 1111h0M4006 1149h0M3996 1116h0M3992 1140h0M3956 1196h0M3990 1174h0M3986 1163h0" stroke="#9c9cfc" stroke-width="6.0" stroke-linecap="round"/><path d="M3988 1150h0M3989 1202h0M3991 1203h0M4020 1136h0M4009 1138h0M3981 1190h0M3990 1207h0M4039 1110h0M4000 1151h0M4007 1157h0M3998 1161h0M3988 1164h0M4019 1150h0M3983 1205h0M3990 1186h0M3985 1205h0M4000 1174h0M4012 1112h0M4001 1194h0M4001 1176h0M4019 1137h0M4029 1118h0M4004 1158h0M4014 1117h0M3986 1201h0M4022 1100h0M4033 1098h0M3986 1181h0" stroke="#849cb4" stroke-width="6.0" stroke-linecap="round"/><path d="M4096 1230h0M4082 1233h0M4098 1231h0M4114 1171h0M4069 1253h0M4101 1180h0M4084 1239h0M4094 1198h0M4088 1246h0M4072 1248h0M4101 1192h0M4104 1207h0M4098 1187h0M4085 1209h0M4090 1244h0M4077 1246h0M4091 1205h0M4105 1194h0M4099 1192h0M4102 1198h0M4114 1166h0M4077 1252h0M4103 1183h0M4073 1231h0M4085 1245h0" stroke="#e48484" stroke-width="6.0" stroke-linecap="round"/><path d="M4049 1191h0M4069 1130h0M4030 1219h0M4057 1185h0M4050 1160h0M4053 1161h0M4062 1155h0M4057 1162h0M4032 1190h0M4044 1177h0M4058 1173h0M4078 1110h0M4053 1139h0M4061 1168h0M4037 1202h0M4088 1123h0M4052 1168h0M4073 1134h0M4036 1156h0M4017 1220h0M4042 1197h0M4063 1169h0M4052 1146h0M4063 1172h0M4011 1221h0M4040 1174h0M4032 1198h0M4047 1222h0M4062 1181h0M4024 1217h0M4078 1127h0M4087 1116h0" stroke="#b4b46c" stroke-width="6.0" stroke-linecap="round"/><path d="M4099 1121h0M4039 1216h0M4057 1207h0M4076 1135h0M4038 1231h0M4062 1161h0M4044 1211h0M4069 1159h0M4060 1201h0M4069 1144h0M4046 1193h0M4090 1122h0M4050 1176h0M4074 1127h0M4042 1180h0M4058 1189h0M4038 1212h0M4073 1123h0M4064 1162h0M4055 1214h0M4071 1144h0M4085 1102h0M4059 1161h0M4090 1109h0M4088 1139h0M4077 1142h0M4073 1117h0M4092 1142h0" stroke="#ccb46c" stroke-width="6.0" stroke-linecap="round"/><path d="M4001 1162h0M4037 1090h0" stroke="#9cb4e4" stroke-width="6.0" stroke-linecap="round"/><path d="M3977 1114h0M3949 1162h0M3945 1146h0M3950 1167h0M3971 1137h0M3967 1131h0M3967 1134h0M3981 1125h0M3987 1116h0M3957 1181h0M3967 1106h0M3974 1107h0M3948 1153h0M3978 1114h0M3952 1136h0M3962 1142h0M3972 1118h0M3976 1122h0M3949 1190h0M3963 1155h0M3955 1123h0M3956 1155h0M3979 1119h0M3975 1120h0M3957 1142h0M3967 1119h0" stroke="#6cb4e4" stroke-width="6.0" stroke-linecap="round"/><path d="M4046 1182h0M4032 1203h0M4033 1187h0M4060 1154h0M4075 1116h0M4069 1144h0" stroke="#9cb454" stroke-width="6.0" stroke-linecap="round"/><path d="M3959 1151h0M3953 1129h0M3953 1169h0M3948 1149h0M3982 1106h0M3980 1103h0M3958 1116h0" stroke="#6cb4fc" stroke-width="6.0" stroke-linecap="round"/><path d="M3990 1163h0M3995 1168h0M4035 1097h0M4012 1138h0M4025 1119h0M3979 1204h0M3999 1174h0M4010 1138h0M4007 1128h0M4003 1137h0M3982 1206h0M3980 1154h0M3972 1205h0M3980 1192h0M3998 1161h0M4003 1132h0M4013 1144h0M3999 1186h0M4014 1109h0M3989 1203h0M3978 1185h0M3993 1157h0M4028 1114h0M4015 1094h0M4013 1145h0M3965 1209h0M4009 1137h0M3999 1136h0M3967 1207h0M3977 1200h0M3972 1193h0" stroke="#8484b4" stroke-width="6.0" stroke-linecap="round"/><path d="M4002 1193h0M3985 1197h0M4009 1161h0M3977 1192h0M4024 1110h0M4005 1143h0M4008 1125h0M4015 1128h0M4027 1156h0M4001 1177h0M3979 1190h0M4025 1142h0M4019 1134h0M4000 1156h0M4006 1188h0M4037 1094h0M4017 1116h0" stroke="#9c9cb4" stroke-width="6.0" stroke-linecap="round"/><path d="M4067 1140h0M4049 1187h0M4073 1097h0M4035 1218h0M4039 1173h0M4044 1195h0M4071 1152h0M4020 1212h0M4068 1115h0M4031 1199h0M4042 1139h0M4069 1139h0M4010 1218h0M4042 1180h0M4041 1190h0M4026 1202h0M4051 1124h0M4065 1091h0M4055 1108h0M4051 1191h0M4039 1177h0M4027 1203h0M4059 1137h0M4019 1206h0M4042 1212h0M4056 1163h0M4028 1158h0M4011 1221h0M4049 1182h0M4032 1214h0M4039 1224h0M4031 1189h0M4023 1208h0M4075 1116h0M4042 1169h0M4079 1135h0M4075 1099h0M4042 1201h0" stroke="#b4cc6c" stroke-width="6.0" stroke-linecap="round"/><path d="M4114 1168h0M4110 1193h0M4104 1211h0M4111 1171h0M4104 1188h0M4070 1240h0M4097 1198h0M4083 1254h0M4085 1248h0M4105 1168h0" stroke="#fc9c84" stroke-width="6.0" stroke-linecap="round"/><path d="M4015 1090h0M3959 1204h0M3957 1160h0M4000 1104h0M4006 1147h0M4003 1093h0M4000 1127h0M3981 1168h0M3959 1206h0M3955 1182h0" stroke="#6c84b4" stroke-width="6.0" stroke-linecap="round"/><path d="M4104 1233h0M4112 1245h0M4092 1247h0M4099 1222h0M4103 1197h0M4101 1231h0" stroke="#b46c84" stroke-width="6.0" stroke-linecap="round"/><path d="M3994 1134h0M3977 1200h0M4015 1098h0" stroke="#6c6cb4" stroke-width="6.0" stroke-linecap="round"/><path d="M4060 1205h0M4099 1173h0M4082 1206h0M4085 1191h0M4084 1155h0M4063 1199h0M4104 1158h0M4100 1132h0M4085 1154h0M4104 1176h0M4091 1176h0M4104 1155h0M4099 1163h0M4112 1144h0M4102 1139h0M4082 1215h0M4089 1199h0M4089 1153h0M4109 1143h0M4074 1210h0M4066 1203h0M4068 1192h0M4046 1224h0M4065 1232h0M4079 1164h0M4092 1163h0M4073 1226h0M4100 1181h0M4077 1197h0M4090 1167h0M4072 1235h0M4109 1134h0M4108 1157h0M4073 1221h0" stroke="#e49c54" stroke-width="6.0" stroke-linecap="round"/><path d="M3976 1124h0M3968 1136h0M3962 1144h0M3986 1133h0M3984 1108h0M3956 1185h0" stroke="#84b4e4" stroke-width="6.0" stroke-linecap="round"/><path d="M4031 1214h0M4061 1212h0M4056 1173h0M4092 1149h0M4049 1228h0" stroke="#e4b46c" stroke-width="6.0" stroke-linecap="round"/><path d="M4084 1252h0M4106 1243h0M4087 1229h0M4084 1231h0M4097 1251h0M4092 1257h0M4076 1255h0M4090 1228h0M4110 1187h0M4106 1207h0M4089 1253h0M4107 1252h0M4104 1214h0" stroke="#cc6c84" stroke-width="6.0" stroke-linecap="round"/><path d="M3986 1181h0M3964 1204h0M3998 1141h0M3983 1173h0M4038 1098h0M3994 1152h0M4008 1133h0M3983 1197h0M3992 1146h0M3997 1171h0" stroke="#849ccc" stroke-width="6.0" stroke-linecap="round"/><path d="M4098 1242h0M4080 1262h0M4106 1254h0M4088 1259h0M4094 1242h0M4103 1233h0M4096 1254h0M4096 1256h0M4105 1233h0" stroke="#b45484" stroke-width="6.0" stroke-linecap="round"/><path d="M4006 1145h0M3998 1187h0M4000 1193h0M4018 1162h0M3990 1183h0M4006 1145h0M4044 1096h0" stroke="#848484" stroke-width="6.0" stroke-linecap="round"/><path d="M4109 1254h0M4100 1250h0M4103 1239h0" stroke="#cc549c" stroke-width="6.0" stroke-linecap="round"/><path d="M4084 1162h0M4093 1137h0M4050 1224h0M4050 1233h0M4080 1177h0" stroke="#cc843c" stroke-width="6.0" stroke-linecap="round"/><path d="M4101 1246h0" stroke="#e46ccc" stroke-width="6.0" stroke-linecap="round"/><path d="M4065 1214h0M4075 1182h0M4097 1152h0M4056 1216h0M4059 1200h0M4067 1214h0M4112 1139h0M4084 1214h0M4068 1210h0M4061 1231h0M4101 1145h0" stroke="#fcb454" stroke-width="6.0" stroke-linecap="round"/><path d="M4037 1094h0M4012 1212h0M4007 1160h0M4043 1111h0M4040 1115h0M4045 1093h0M4031 1165h0M4021 1141h0M4023 1123h0M4048 1095h0M4005 1191h0M4018 1168h0M3994 1183h0M4006 1190h0M4051 1097h0M3997 1193h0M4030 1115h0M4041 1110h0M4029 1149h0M4052 1118h0M4023 1133h0M4033 1162h0M4044 1096h0M4048 1112h0M4050 1107h0M4001 1194h0M4004 1186h0M4027 1134h0M4058 1105h0M4013 1181h0M3994 1186h0M3997 1203h0M4001 1210h0M4035 1129h0M4010 1202h0M4040 1115h0" stroke="#9cb49c" stroke-width="6.0" stroke-linecap="round"/><path d="M4098 1141h0M4095 1191h0M4095 1162h0M4075 1158h0M4080 1202h0M4074 1194h0" stroke="#cc9c3c" stroke-width="6.0" stroke-linecap="round"/><path d="M3960 1151h0M3958 1144h0M3978 1098h0M3947 1142h0M3960 1154h0M3944 1173h0M3966 1109h0M3974 1111h0M3945 1150h0M3979 1115h0" stroke="#549ccc" stroke-width="6.0" stroke-linecap="round"/><path d="M4087 1212h0M4106 1164h0M4089 1244h0M4085 1244h0M4099 1235h0M4073 1254h0M4105 1200h0M4093 1220h0" stroke="#cc8484" stroke-width="6.0" stroke-linecap="round"/><path d="M3945 1152h0M3977 1099h0M3959 1132h0M3947 1149h0" stroke="#54b4e4" stroke-width="6.0" stroke-linecap="round"/><path d="M4098 1187h0M4110 1155h0M4085 1209h0M4103 1193h0M4097 1157h0M4067 1222h0M4109 1170h0M4083 1212h0" stroke="#fcb46c" stroke-width="6.0" stroke-linecap="round"/><path d="M4111 1185h0" stroke="#fc8484" stroke-width="6.0" stroke-linecap="round"/><path d="M4100 1247h0M4110 1251h0" stroke="#cc54b4" stroke-width="6.0" stroke-linecap="round"/><path d="M4090 1211h0M4082 1258h0" stroke="#fc849c" stroke-width="6.0" stroke-linecap="round"/><path d="M4095 1217h0M4099 1237h0M4084 1240h0M4112 1244h0M4106 1246h0" stroke="#e46c9c" stroke-width="6.0" stroke-linecap="round"/><path d="M3964 1108h0M3946 1148h0M3944 1148h0M3947 1137h0M3956 1118h0" stroke="#54cce4" stroke-width="6.0" stroke-linecap="round"/><path d="M3962 1110h0M3947 1145h0M3957 1118h0" stroke="#54ccfc" stroke-width="6.0" stroke-linecap="round"/><path d="M4091 1199h0M4091 1240h0M4097 1189h0M4102 1190h0M4081 1212h0M4106 1208h0M4108 1202h0" stroke="#cc6c6c" stroke-width="6.0" stroke-linecap="round"/><path d="M4107 1256h0" stroke="#e454cc" stroke-width="6.0" stroke-linecap="round"/><path d="M4073 1150h0M4091 1129h0M4050 1208h0" stroke="#e4cc6c" stroke-width="6.0" stroke-linecap="round"/><path d="M4114 1179h0" stroke="#b4846c" stroke-width="6.0" stroke-linecap="round"/><path d="M4054 1201h0M4063 1185h0M4046 1228h0M4077 1160h0M4097 1167h0M4094 1125h0" stroke="#b4843c" stroke-width="6.0" stroke-linecap="round"/><path d="M3972 1120h0M3967 1122h0M3955 1132h0M3944 1153h0M3952 1161h0M3959 1117h0M3947 1157h0M3964 1117h0" stroke="#6cccfc" stroke-width="6.0" stroke-linecap="round"/><path d="M4015 1114h0" stroke="#6c849c" stroke-width="6.0" stroke-linecap="round"/><path d="M3951 1128h0M3967 1118h0M3947 1156h0M3969 1120h0" stroke="#54b4cc" stroke-width="6.0" stroke-linecap="round"/><path d="M3992 1114h0M3945 1172h0" stroke="#5484b4" stroke-width="6.0" stroke-linecap="round"/><path d="M3968 1121h0" stroke="#6ccce4" stroke-width="6.0" stroke-linecap="round"/><path d="M4098 1224h0" stroke="#b46c54" stroke-width="6.0" stroke-linecap="round"/><path d="M4108 1149h0M4087 1138h0" stroke="#b49c3c" stroke-width="6.0" stroke-linecap="round"/><path d="M3995 1205h0M3998 1201h0" stroke="#9c9c9c" stroke-width="6.0" stroke-linecap="round"/><path d="M4097 1233h0M4105 1245h0M4102 1257h0" stroke="#cc6c9c" stroke-width="6.0" stroke-linecap="round"/><path d="M4013 1159h0" stroke="#84b49c" stroke-width="6.0" stroke-linecap="round"/><path d="M4030 1164h0" stroke="#84b484" stroke-width="6.0" stroke-linecap="round"/><path d="M4080 1261h0" stroke="#e484b4" stroke-width="6.0" stroke-linecap="round"/>
<line x1="4020" y1="1168.5" x2="3987.7312850871103" y2="1164.658486319894" stroke="#2020e0" stroke-width="5"/>
<path d="M3978,1163.5 L3992.61111317744,1159.1970508118218 L3988.426376879047,1164.7412353427437 L3991.1925585000185,1171.1129101021613 Z" fill="#2020e0"/>
<line x1="4020" y1="1168.5" x2="4064.7112720757395" y2="1238.249584438154" stroke="#e02020" stroke-width="5"/>
<path d="M4070,1246.5 L4057.3933995601305,1237.9516887428283 L4064.3335057954355,1237.6602690408793 L4067.495949227697,1231.4756953661833 Z" fill="#e02020"/>
<line x1="4020" y1="1168.5" x2="4076.3940827988604" y2="1122.6798077259257" stroke="#20c820" stroke-width="5"/>
<path d="M4084,1116.5 L4076.917959748939,1129.9849807520202 L4075.8508029987793,1123.121222563492 L4069.3508482478055,1120.671612750625 Z" fill="#20c820"/>
<text x="4016.7" y="1296" font-family="Liberation Serif" font-size="26" fill="#111" text-anchor="middle" textLength="219.4" lengthAdjust="spacingAndGlyphs">(c) Pose Aggregation</text>
</svg>
<div class="a nw" style="left:2620px;top:1393.1px;font-size:33px;line-height:1">The <span class="em">score-based</span> diffusion</div>
<div class="a nw" style="left:2620px;top:1441.6px;font-size:33px;line-height:1">model <span class="em serif" style="font-size:34px">Φ<span style="font-size:22px;position:relative;top:8px;line-height:0">θ</span></span> and <span class="em">energy-based</span></div>
<div class="a nw" style="left:2620px;top:1491.1px;font-size:33px;line-height:1">diffusion model <span class="em serif" style="font-size:34px">Ψ<span style="font-size:22px;position:relative;top:8px;line-height:0">ϕ</span></span> are trained</div>
<div class="a nw" style="left:2620px;top:1540.1px;font-size:33px;line-height:1">via denoising score-matching.</div>
<div class="a nw" style="left:3119px;top:1388.1px;font-size:33px;line-height:1">a)</div>
<div class="a nw" style="left:3119px;top:1440.1px;font-size:33px;line-height:1">b)</div>
<div class="a nw" style="left:3119px;top:1540.1px;font-size:33px;line-height:1">c)</div>
<div class="a nw" style="left:3180px;top:1388.1px;font-size:33px;line-height:1">Generate pose candidates <span class="serif">{<b><i>p̂</i></b><span style="font-size:21px;position:relative;top:7px;line-height:0"><i>i</i></span>}</span><span style="display:inline-block;position:relative;width:34px;height:1px"><span style="position:absolute;left:0;top:-30px;font-size:20px;font-style:italic">K</span><span style="position:absolute;left:0;top:-8px;font-size:20px">i=1</span></span> from the <span class="em">score-based model</span>.</div>
<div class="a nw" style="left:3180px;top:1440.1px;font-size:33px;line-height:1">Compute the pose energies <span class="serif">{Ψ<span style="font-size:21px;position:relative;top:7px;line-height:0"><i>ϕ</i></span>(<b><i>p̂</i></b><span style="font-size:21px;position:relative;top:7px;line-height:0"><i>i</i></span>, <i>ε</i>|<i>O</i>)}</span><span style="display:inline-block;position:relative;width:34px;height:1px"><span style="position:absolute;left:0;top:-30px;font-size:20px;font-style:italic">K</span><span style="position:absolute;left:0;top:-8px;font-size:20px">i=1</span></span> for candidates via the</div>
<div class="a nw" style="left:3180px;top:1491.1px;font-size:33px;line-height:1"><span class="em">energy-based model</span>.</div>
<div class="a nw" style="left:3180px;top:1540.1px;font-size:33px;line-height:1">Rank the candidates by energies and <span class="em">filter out the low-ranking</span></div>
<div class="a nw" style="left:3180px;top:1586.6px;font-size:33px;line-height:1"><span class="em">candidates</span>, then aggregate them through mean-pooling.</div>
<div class="h2" style="left:2615px;top:591.5px;color:#c55a11">Method</div>

<div class="h2" style="left:156px;top:1824.7px;color:#548235">Compare with baselines</div>
<div class="a t40" style="left:162.6px;top:1890.1px">&#8226;</div>
<div class="a t40" style="left:200.7px;top:1881.2px;width:1438.5px;line-height:58px;text-align:justify">Outperforms the previous SOTA depth-based method by <span class="em">more than 20%</span> in both <span class="em">5°2cm</span> and <span class="em">5°5cm</span> accuracy metrics.</div>
<div class="a t40" style="left:162.6px;top:2007.1px">&#8226;</div>
<div class="a t40" style="left:200.7px;top:1998.7px;width:1438.5px;line-height:57px;text-align:justify">Continues to hold a significant advantage over methods that incorporate additional RGB and category priors as input.</div>
<svg style="left:0;top:0" width="4320" height="2880" viewBox="0 0 4320 2880">
<line x1="134.6" y1="2154.5" x2="1643.6" y2="2154.5" stroke="#111" stroke-width="2.4"/>
<line x1="134.6" y1="2206" x2="1643.6" y2="2206" stroke="#111" stroke-width="1.3"/>
<line x1="343.5" y1="2461" x2="1643.6" y2="2461" stroke="#111" stroke-width="1.3"/>
<line x1="134.6" y1="2649.6" x2="1643.6" y2="2649.6" stroke="#111" stroke-width="1.3"/>
<line x1="134.6" y1="2655.6" x2="1643.6" y2="2655.6" stroke="#111" stroke-width="1.3"/>
<line x1="134.6" y1="2774.4" x2="1643.6" y2="2774.4" stroke="#111" stroke-width="2.4"/>
<line x1="591" y1="2165" x2="591" y2="2199.6" stroke="#111" stroke-width="1.3"/>
<line x1="825" y1="2165" x2="825" y2="2199.6" stroke="#111" stroke-width="1.3"/>
<line x1="1403.5" y1="2165" x2="1403.5" y2="2199.6" stroke="#111" stroke-width="1.3"/>
<line x1="343.5" y1="2216" x2="343.5" y2="2455" stroke="#111" stroke-width="1.3"/>
<line x1="343.5" y1="2470" x2="343.5" y2="2639" stroke="#111" stroke-width="1.3"/>
<line x1="343.5" y1="2665" x2="343.5" y2="2766" stroke="#111" stroke-width="1.3"/>
<line x1="591" y1="2216" x2="591" y2="2455" stroke="#111" stroke-width="1.3"/>
<line x1="591" y1="2470" x2="591" y2="2639" stroke="#111" stroke-width="1.3"/>
<line x1="591" y1="2665" x2="591" y2="2766" stroke="#111" stroke-width="1.3"/>
<line x1="825" y1="2216" x2="825" y2="2455" stroke="#111" stroke-width="1.3"/>
<line x1="825" y1="2470" x2="825" y2="2639" stroke="#111" stroke-width="1.3"/>
<line x1="825" y1="2665" x2="825" y2="2766" stroke="#111" stroke-width="1.3"/>
<line x1="1403.5" y1="2216" x2="1403.5" y2="2455" stroke="#111" stroke-width="1.3"/>
<line x1="1403.5" y1="2470" x2="1403.5" y2="2639" stroke="#111" stroke-width="1.3"/>
<line x1="1403.5" y1="2665" x2="1403.5" y2="2766" stroke="#111" stroke-width="1.3"/>
<text x="360.8" y="2189.6" font-family="Liberation Serif" font-size="31" fill="#111" text-anchor="middle">Method</text>
<text x="657" y="2189.6" font-family="Liberation Serif" font-size="31" fill="#111" text-anchor="middle">Data</text>
<text x="774.7" y="2189.6" font-family="Liberation Serif" font-size="31" fill="#111" text-anchor="middle">Prior</text>
<text x="894" y="2189.6" font-family="Liberation Serif" font-size="31" fill="#111" text-anchor="middle">5°2cm↑</text>
<text x="1030" y="2189.6" font-family="Liberation Serif" font-size="31" fill="#111" text-anchor="middle">5°5cm↑</text>
<text x="1174.6" y="2189.6" font-family="Liberation Serif" font-size="31" fill="#111" text-anchor="middle">10°2cm↑</text>
<text x="1327" y="2189.6" font-family="Liberation Serif" font-size="31" fill="#111" text-anchor="middle">10°5cm↑</text>
<text x="1523" y="2189.6" font-family="Liberation Serif" font-size="31" fill="#111" text-anchor="middle">Parameters(M)↓</text>
<text x="465" y="2240.7" font-family="Liberation Serif" font-size="31" fill="#111" text-anchor="middle">NOCS [<tspan fill="#1a1aee">4</tspan>]</text>
<text x="657" y="2240.7" font-family="Liberation Serif" font-size="31" fill="#111" text-anchor="middle">RGB-D</text>
<text x="774.7" y="2240.7" font-family="Liberation Serif" font-size="31.0" fill="#111" text-anchor="middle">×</text>
<text x="894" y="2240.7" font-family="Liberation Serif" font-size="31" fill="#111" text-anchor="middle">-</text>
<text x="1030" y="2240.7" font-family="Liberation Serif" font-size="31" fill="#111" text-anchor="middle">9.5</text>
<text x="1174.6" y="2240.7" font-family="Liberation Serif" font-size="31" fill="#111" text-anchor="middle">13.8</text>
<text x="1327" y="2240.7" font-family="Liberation Serif" font-size="31" fill="#111" text-anchor="middle">26.7</text>
<text x="1523" y="2240.7" font-family="Liberation Serif" font-size="31" fill="#111" text-anchor="middle">-</text>
<text x="465" y="2274.5" font-family="Liberation Serif" font-size="31" fill="#111" text-anchor="middle">CASS [<tspan fill="#1a1aee">17</tspan>]</text>
<text x="657" y="2274.5" font-family="Liberation Serif" font-size="31" fill="#111" text-anchor="middle">RGB-D</text>
<text x="774.7" y="2274.5" font-family="Liberation Serif" font-size="31.0" fill="#111" text-anchor="middle">×</text>
<text x="894" y="2274.5" font-family="Liberation Serif" font-size="31" fill="#111" text-anchor="middle">19.5</text>
<text x="1030" y="2274.5" font-family="Liberation Serif" font-size="31" fill="#111" text-anchor="middle">23.5</text>
<text x="1174.6" y="2274.5" font-family="Liberation Serif" font-size="31" fill="#111" text-anchor="middle">50.8</text>
<text x="1327" y="2274.5" font-family="Liberation Serif" font-size="31" fill="#111" text-anchor="middle">58.0</text>
<text x="1523" y="2274.5" font-family="Liberation Serif" font-size="31" fill="#111" text-anchor="middle">47.2</text>
<text x="465" y="2309" font-family="Liberation Serif" font-size="31" fill="#111" text-anchor="middle">DualPoseNet [<tspan fill="#1a1aee">9</tspan>]</text>
<text x="657" y="2309" font-family="Liberation Serif" font-size="31" fill="#111" text-anchor="middle">RGB-D</text>
<text x="774.7" y="2309" font-family="Liberation Serif" font-size="31.0" fill="#111" text-anchor="middle">×</text>
<text x="894" y="2309" font-family="Liberation Serif" font-size="31" fill="#111" text-anchor="middle">29.3</text>
<text x="1030" y="2309" font-family="Liberation Serif" font-size="31" fill="#111" text-anchor="middle">35.9</text>
<text x="1174.6" y="2309" font-family="Liberation Serif" font-size="31" fill="#111" text-anchor="middle">50.0</text>
<text x="1327" y="2309" font-family="Liberation Serif" font-size="31" fill="#111" text-anchor="middle">66.8</text>
<text x="1523" y="2309" font-family="Liberation Serif" font-size="31" fill="#111" text-anchor="middle">67.9</text>
<text x="465" y="2342.9" font-family="Liberation Serif" font-size="31" fill="#111" text-anchor="middle">SPD [<tspan fill="#1a1aee">7</tspan>]</text>
<text x="657" y="2342.9" font-family="Liberation Serif" font-size="31" fill="#111" text-anchor="middle">RGB-D</text>
<path d="M765.7,2331.9 Q769.7,2334.9 772.7,2343.9 Q776.7,2328.9 784.7,2318.9" fill="none" stroke="#111" stroke-width="2.2" stroke-linecap="round" stroke-linejoin="round"/>
<text x="894" y="2342.9" font-family="Liberation Serif" font-size="31" fill="#111" text-anchor="middle">19.3</text>
<text x="1030" y="2342.9" font-family="Liberation Serif" font-size="31" fill="#111" text-anchor="middle">21.4</text>
<text x="1174.6" y="2342.9" font-family="Liberation Serif" font-size="31" fill="#111" text-anchor="middle">43.2</text>
<text x="1327" y="2342.9" font-family="Liberation Serif" font-size="31" fill="#111" text-anchor="middle">54.1</text>
<text x="1523" y="2342.9" font-family="Liberation Serif" font-size="31" fill="#111" text-anchor="middle">18.3</text>
<text x="465" y="2377.4" font-family="Liberation Serif" font-size="31" fill="#111" text-anchor="middle">CR-Net [<tspan fill="#1a1aee">20</tspan>]</text>
<text x="657" y="2377.4" font-family="Liberation Serif" font-size="31" fill="#111" text-anchor="middle">RGB-D</text>
<path d="M765.7,2366.4 Q769.7,2369.4 772.7,2378.4 Q776.7,2363.4 784.7,2353.4" fill="none" stroke="#111" stroke-width="2.2" stroke-linecap="round" stroke-linejoin="round"/>
<text x="894" y="2377.4" font-family="Liberation Serif" font-size="31" fill="#111" text-anchor="middle">27.8</text>
<text x="1030" y="2377.4" font-family="Liberation Serif" font-size="31" fill="#111" text-anchor="middle">34.3</text>
<text x="1174.6" y="2377.4" font-family="Liberation Serif" font-size="31" fill="#111" text-anchor="middle">47.2</text>
<text x="1327" y="2377.4" font-family="Liberation Serif" font-size="31" fill="#111" text-anchor="middle">60.8</text>
<text x="1523" y="2377.4" font-family="Liberation Serif" font-size="31" fill="#111" text-anchor="middle">-</text>
<text x="465" y="2411.9" font-family="Liberation Serif" font-size="31" fill="#111" text-anchor="middle">SGPA [<tspan fill="#1a1aee">5</tspan>]</text>
<text x="657" y="2411.9" font-family="Liberation Serif" font-size="31" fill="#111" text-anchor="middle">RGB-D</text>
<path d="M765.7,2400.9 Q769.7,2403.9 772.7,2412.9 Q776.7,2397.9 784.7,2387.9" fill="none" stroke="#111" stroke-width="2.2" stroke-linecap="round" stroke-linejoin="round"/>
<text x="894" y="2411.9" font-family="Liberation Serif" font-size="31" fill="#111" text-anchor="middle">35.9</text>
<text x="1030" y="2411.9" font-family="Liberation Serif" font-size="31" fill="#111" text-anchor="middle">39.6</text>
<text x="1174.6" y="2411.9" font-family="Liberation Serif" font-size="31" fill="#111" text-anchor="middle">61.3</text>
<text x="1327" y="2411.9" font-family="Liberation Serif" font-size="31" fill="#111" text-anchor="middle">70.7</text>
<text x="1523" y="2411.9" font-family="Liberation Serif" font-size="31" fill="#111" text-anchor="middle">-</text>
<text x="465" y="2445.7" font-family="Liberation Serif" font-size="31" fill="#111" text-anchor="middle">DPDN [<tspan fill="#1a1aee">8</tspan>]</text>
<text x="657" y="2445.7" font-family="Liberation Serif" font-size="31" fill="#111" text-anchor="middle">RGB-D</text>
<path d="M765.7,2434.7 Q769.7,2437.7 772.7,2446.7 Q776.7,2431.7 784.7,2421.7" fill="none" stroke="#111" stroke-width="2.2" stroke-linecap="round" stroke-linejoin="round"/>
<text x="894" y="2445.7" font-family="Liberation Serif" font-size="31" fill="#111" text-anchor="middle">46.0</text>
<text x="1030" y="2445.7" font-family="Liberation Serif" font-size="31" fill="#111" text-anchor="middle">50.7</text>
<text x="1174.6" y="2445.7" font-family="Liberation Serif" font-size="31" fill="#111" text-anchor="middle">70.4</text>
<text x="1327" y="2445.7" font-family="Liberation Serif" font-size="31" fill="#111" text-anchor="middle">78.4</text>
<text x="1523" y="2445.7" font-family="Liberation Serif" font-size="31" fill="#111" text-anchor="middle">-</text>
<text x="465" y="2495" font-family="Liberation Serif" font-size="31" fill="#111" text-anchor="middle">FS-Net [<tspan fill="#1a1aee">6</tspan>]</text>
<text x="657" y="2495" font-family="Liberation Serif" font-size="31" fill="#111" text-anchor="middle">D</text>
<text x="774.7" y="2495" font-family="Liberation Serif" font-size="31.0" fill="#111" text-anchor="middle">×</text>
<text x="894" y="2495" font-family="Liberation Serif" font-size="31" fill="#111" text-anchor="middle">19.9</text>
<text x="1030" y="2495" font-family="Liberation Serif" font-size="31" fill="#111" text-anchor="middle">33.9</text>
<text x="1174.6" y="2495" font-family="Liberation Serif" font-size="31" fill="#111" text-anchor="middle">-</text>
<text x="1327" y="2495" font-family="Liberation Serif" font-size="31" fill="#111" text-anchor="middle">69.1</text>
<text x="1523" y="2495" font-family="Liberation Serif" font-size="31" fill="#111" text-anchor="middle">41.2</text>
<text x="465" y="2528.9" font-family="Liberation Serif" font-size="31" fill="#111" text-anchor="middle">GPV-Pose [<tspan fill="#1a1aee">11</tspan>]</text>
<text x="657" y="2528.9" font-family="Liberation Serif" font-size="31" fill="#111" text-anchor="middle">D</text>
<text x="774.7" y="2528.9" font-family="Liberation Serif" font-size="31.0" fill="#111" text-anchor="middle">×</text>
<text x="894" y="2528.9" font-family="Liberation Serif" font-size="31" fill="#111" text-anchor="middle">32.0</text>
<text x="1030" y="2528.9" font-family="Liberation Serif" font-size="31" fill="#111" text-anchor="middle">42.9</text>
<text x="1174.6" y="2528.9" font-family="Liberation Serif" font-size="31" fill="#111" text-anchor="middle">55.0</text>
<text x="1327" y="2528.9" font-family="Liberation Serif" font-size="31" fill="#111" text-anchor="middle">73.3</text>
<text x="1523" y="2528.9" font-family="Liberation Serif" font-size="31" fill="#111" text-anchor="middle">-</text>
<text x="465" y="2563.4" font-family="Liberation Serif" font-size="31" fill="#111" text-anchor="middle">SAR-Net [<tspan fill="#1a1aee">10</tspan>]</text>
<text x="657" y="2563.4" font-family="Liberation Serif" font-size="31" fill="#111" text-anchor="middle">D</text>
<path d="M765.7,2552.4 Q769.7,2555.4 772.7,2564.4 Q776.7,2549.4 784.7,2539.4" fill="none" stroke="#111" stroke-width="2.2" stroke-linecap="round" stroke-linejoin="round"/>
<text x="894" y="2563.4" font-family="Liberation Serif" font-size="31" fill="#111" text-anchor="middle">31.6</text>
<text x="1030" y="2563.4" font-family="Liberation Serif" font-size="31" fill="#111" text-anchor="middle">42.3</text>
<text x="1174.6" y="2563.4" font-family="Liberation Serif" font-size="31" fill="#111" text-anchor="middle">50.4</text>
<text x="1327" y="2563.4" font-family="Liberation Serif" font-size="31" fill="#111" text-anchor="middle">68.3</text>
<text x="1523" y="2563.4" font-family="Liberation Serif" font-size="31" fill="#111" text-anchor="middle">6.3</text>
<text x="465" y="2597.2" font-family="Liberation Serif" font-size="31" fill="#111" text-anchor="middle">SSP-Pose [<tspan fill="#1a1aee">18</tspan>]</text>
<text x="657" y="2597.2" font-family="Liberation Serif" font-size="31" fill="#111" text-anchor="middle">D</text>
<path d="M765.7,2586.2 Q769.7,2589.2 772.7,2598.2 Q776.7,2583.2 784.7,2573.2" fill="none" stroke="#111" stroke-width="2.2" stroke-linecap="round" stroke-linejoin="round"/>
<text x="894" y="2597.2" font-family="Liberation Serif" font-size="31" fill="#111" text-anchor="middle">34.7</text>
<text x="1030" y="2597.2" font-family="Liberation Serif" font-size="31" fill="#111" text-anchor="middle">44.6</text>
<text x="1174.6" y="2597.2" font-family="Liberation Serif" font-size="31" fill="#111" text-anchor="middle">-</text>
<text x="1327" y="2597.2" font-family="Liberation Serif" font-size="31" fill="#111" text-anchor="middle">77.8</text>
<text x="1523" y="2597.2" font-family="Liberation Serif" font-size="31" fill="#111" text-anchor="middle">-</text>
<text x="465" y="2631.7" font-family="Liberation Serif" font-size="31" fill="#111" text-anchor="middle">RBP-Pose [<tspan fill="#1a1aee">19</tspan>]</text>
<text x="657" y="2631.7" font-family="Liberation Serif" font-size="31" fill="#111" text-anchor="middle">D</text>
<path d="M765.7,2620.7 Q769.7,2623.7 772.7,2632.7 Q776.7,2617.7 784.7,2607.7" fill="none" stroke="#111" stroke-width="2.2" stroke-linecap="round" stroke-linejoin="round"/>
<text x="894" y="2631.7" font-family="Liberation Serif" font-size="31" fill="#111" text-anchor="middle">38.2</text>
<text x="1030" y="2631.7" font-family="Liberation Serif" font-size="31" fill="#111" text-anchor="middle">48.1</text>
<text x="1174.6" y="2631.7" font-family="Liberation Serif" font-size="31" fill="#111" text-anchor="middle">63.1</text>
<text x="1327" y="2631.7" font-family="Liberation Serif" font-size="31" fill="#111" text-anchor="middle">79.2</text>
<text x="1523" y="2631.7" font-family="Liberation Serif" font-size="31" fill="#111" text-anchor="middle">-</text>
<text x="465" y="2689.4" font-family="Liberation Serif" font-size="31" fill="#111" text-anchor="middle">Ours</text>
<text x="657" y="2689.4" font-family="Liberation Serif" font-size="31" fill="#111" text-anchor="middle">D</text>
<text x="774.7" y="2689.4" font-family="Liberation Serif" font-size="31.0" fill="#111" text-anchor="middle">×</text>
<text x="894" y="2689.4" font-family="Liberation Serif" font-size="31" fill="#111" text-anchor="middle" font-weight="bold">52.1</text>
<text x="1030" y="2689.4" font-family="Liberation Serif" font-size="31" fill="#111" text-anchor="middle" font-weight="bold">60.9</text>
<text x="1174.6" y="2689.4" font-family="Liberation Serif" font-size="31" fill="#111" text-anchor="middle" font-weight="bold">72.4</text>
<text x="1327" y="2689.4" font-family="Liberation Serif" font-size="31" fill="#111" text-anchor="middle" font-weight="bold">84.0</text>
<text x="1523" y="2689.4" font-family="Liberation Serif" font-size="31" fill="#111" text-anchor="middle" font-weight="bold">4.4</text>
<text x="465" y="2723.9" font-family="Liberation Serif" font-size="31" fill="#111" text-anchor="middle">Ours(<tspan font-style="italic">K</tspan>=10)</text>
<text x="657" y="2723.9" font-family="Liberation Serif" font-size="31" fill="#111" text-anchor="middle">D</text>
<text x="774.7" y="2723.9" font-family="Liberation Serif" font-size="31.0" fill="#111" text-anchor="middle">×</text>
<text x="894" y="2723.9" font-family="Liberation Serif" font-size="31" fill="#111" text-anchor="middle">71.5</text>
<text x="1030" y="2723.9" font-family="Liberation Serif" font-size="31" fill="#111" text-anchor="middle">75.9</text>
<text x="1174.6" y="2723.9" font-family="Liberation Serif" font-size="31" fill="#111" text-anchor="middle">85.2</text>
<text x="1327" y="2723.9" font-family="Liberation Serif" font-size="31" fill="#111" text-anchor="middle">90.8</text>
<text x="1523" y="2723.9" font-family="Liberation Serif" font-size="31" fill="#111" text-anchor="middle">2.2</text>
<text x="465" y="2757.7" font-family="Liberation Serif" font-size="31" fill="#111" text-anchor="middle">Ours(<tspan font-style="italic">K</tspan>=50)</text>
<text x="657" y="2757.7" font-family="Liberation Serif" font-size="31" fill="#111" text-anchor="middle">D</text>
<text x="774.7" y="2757.7" font-family="Liberation Serif" font-size="31.0" fill="#111" text-anchor="middle">×</text>
<text x="894" y="2757.7" font-family="Liberation Serif" font-size="31" fill="#111" text-anchor="middle">82.0</text>
<text x="1030" y="2757.7" font-family="Liberation Serif" font-size="31" fill="#111" text-anchor="middle">84.5</text>
<text x="1174.6" y="2757.7" font-family="Liberation Serif" font-size="31" fill="#111" text-anchor="middle">92.8</text>
<text x="1327" y="2757.7" font-family="Liberation Serif" font-size="31" fill="#111" text-anchor="middle">95.9</text>
<text x="1523" y="2757.7" font-family="Liberation Serif" font-size="31" fill="#111" text-anchor="middle">2.2</text>
<text x="238" y="2445.7" font-family="Liberation Serif" font-size="31" fill="#111" text-anchor="middle">Deterministic</text>
<text x="238" y="2723.9" font-family="Liberation Serif" font-size="31" fill="#111" text-anchor="middle">Probabilistic</text>
</svg>

<svg style="left:0;top:0" width="4320" height="2880" viewBox="0 0 4320 2880">
<defs>
<pattern id="mkp" width="124" height="124" patternUnits="userSpaceOnUse"><rect width="124" height="124" fill="#e6e2da"/><rect x="6" y="6" width="112" height="112" fill="#1e1e1e"/><rect x="22" y="22" width="34" height="20" fill="#eee"/><rect x="70" y="28" width="22" height="38" fill="#eee"/><rect x="26" y="62" width="40" height="18" fill="#eee"/><rect x="78" y="82" width="22" height="22" fill="#eee"/><rect x="40" y="88" width="16" height="14" fill="#eee"/></pattern>
<pattern id="mkp2" width="240" height="240" patternUnits="userSpaceOnUse" x="1140" y="700"><rect width="240" height="240" fill="#e6e2da"/><rect x="10" y="10" width="220" height="220" fill="#1e1e1e"/><rect x="40" y="40" width="70" height="46" fill="#eee"/><rect x="130" y="50" width="46" height="80" fill="#eee"/><rect x="50" y="120" width="86" height="36" fill="#eee"/><rect x="150" y="160" width="46" height="46" fill="#eee"/></pattern>
<linearGradient id="w1" x1="0" x2="1"><stop offset="0" stop-color="#c9b49a"/><stop offset=".6" stop-color="#ddcdb8"/><stop offset="1" stop-color="#cbbba8"/></linearGradient>
<linearGradient id="w2" x1="0" y1="0" x2="1" y2="1"><stop offset="0" stop-color="#cbbfb2"/><stop offset="1" stop-color="#a9a39c"/></linearGradient>
<linearGradient id="w4" x1="0" x2="1"><stop offset="0" stop-color="#d8cabb"/><stop offset="1" stop-color="#e4dbd2"/></linearGradient>
<linearGradient id="scr4" x1="0" y1="0" x2="1" y2="0.5"><stop offset="0" stop-color="#8a8482"/><stop offset=".25" stop-color="#b8b0aa"/><stop offset=".55" stop-color="#5a5452"/><stop offset="1" stop-color="#3a3634"/></linearGradient>
<linearGradient id="cab" x1="0" x2="1"><stop offset="0" stop-color="#b98c62"/><stop offset=".5" stop-color="#cfa676"/><stop offset="1" stop-color="#c09468"/></linearGradient>
<linearGradient id="mugb" x1="0" x2="1"><stop offset="0" stop-color="#7e98b4"/><stop offset=".5" stop-color="#9ab2ca"/><stop offset="1" stop-color="#7890aa"/></linearGradient>
<linearGradient id="mug4" x1="0" x2="1"><stop offset="0" stop-color="#8a7258"/><stop offset=".5" stop-color="#a88e70"/><stop offset="1" stop-color="#806850"/></linearGradient>
<radialGradient id="bowlw" cx=".45" cy=".4" r=".6"><stop offset="0" stop-color="#fbf8f4"/><stop offset=".8" stop-color="#ece4da"/><stop offset="1" stop-color="#c8bcae"/></radialGradient>
<filter id="ish" x="-10%" y="-10%" width="125%" height="125%"><feDropShadow dx="1.5" dy="2" stdDeviation="2.2" flood-color="#000" flood-opacity=".35"/></filter>

<symbol id="sc0" viewBox="28 50 1857 1390" preserveAspectRatio="none"><rect x="28" y="50" width="1857" height="1390" fill="url(#w1)"/><path d="M1560,50 L1885,50 L1885,640 L1700,600 L1560,380 Z" fill="#2a231e"/><path d="M1620,230 L1700,220 L1720,420 L1640,410 Z" fill="#4a3a2e"/><path d="M28,560 L560,470 L1000,420 L1560,380 L1885,600 L1885,1440 L28,1440 Z" fill="#5f4b3b"/><path d="M28,900 L1885,700 L1885,1440 L28,1440 Z" fill="#574536"/><path d="M28,370 L430,245 L560,545 L150,760 L28,720 Z" fill="#141210"/><path d="M150,760 L560,545 L840,650 L390,880 Z" fill="#4a4038"/><path d="M400,800 L700,650 L840,700 L520,880 Z" fill="#9c7e74"/><path d="M585,150 L860,100 L880,400 L640,440 Z" fill="#e8e4dc"/><path d="M602.7,165.0 L846.8,120.4 L862.3,385.0 L653.2,419.6 Z" fill="url(#mkp)"/><path d="M580,915 L850,800 L1095,990 L800,1150 Z" fill="#e8e4dc"/><path d="M610.9,919.5 L847.0,821.0 L1064.1,985.5 L803.0,1129.0 Z" fill="url(#mkp)"/><path d="M28,830 L230,790 L250,1100 L28,1150 Z" fill="#e8e4dc"/><path d="M41.32,846.2 L217.88,811.6 L236.68,1083.8 L40.12,1128.4 Z" fill="url(#mkp)"/><path d="M920,680 L1180,620 L1240,760 L1030,820 Z" fill="#e8e4dc"/><path d="M939.2,684.8 L1171.0,632.0 L1220.8,755.2 L1039.0,808.0 Z" fill="url(#mkp)"/><path d="M1260,650 L1500,560 L1640,650 L1400,710 Z" fill="#e8e4dc"/><path d="M1282.8,650.0 L1494.0,569.0 L1617.2,650.0 L1406.0,701.0 Z" fill="url(#mkp)"/><ellipse cx="370" cy="1040" rx="200" ry="160" fill="#b8ab9c"/><ellipse cx="370" cy="1010" rx="195" ry="145" fill="url(#bowlw)"/><ellipse cx="830" cy="490" rx="175" ry="125" fill="#262220"/><rect x="1040" y="370" width="150" height="180" fill="#a9b9c9"/><ellipse cx="1335" cy="430" rx="55" ry="125" fill="#957556"/><line x1="430" y1="555" x2="260" y2="640" stroke="#1818e0" stroke-width="10" stroke-linecap="round"/><line x1="430" y1="555" x2="590" y2="620" stroke="#e01818" stroke-width="10" stroke-linecap="round"/><line x1="430" y1="555" x2="405" y2="370" stroke="#18d018" stroke-width="10" stroke-linecap="round"/><line x1="370" y1="1040" x2="410" y2="1250" stroke="#1818e0" stroke-width="10" stroke-linecap="round"/><line x1="370" y1="1040" x2="640" y2="990" stroke="#e01818" stroke-width="10" stroke-linecap="round"/><line x1="370" y1="1040" x2="350" y2="830" stroke="#18d018" stroke-width="10" stroke-linecap="round"/><line x1="870" y1="475" x2="710" y2="505" stroke="#1818e0" stroke-width="8" stroke-linecap="round"/><line x1="870" y1="475" x2="960" y2="570" stroke="#e01818" stroke-width="8" stroke-linecap="round"/><line x1="870" y1="475" x2="880" y2="320" stroke="#18d018" stroke-width="8" stroke-linecap="round"/><line x1="1100" y1="460" x2="1070" y2="535" stroke="#1818e0" stroke-width="8" stroke-linecap="round"/><line x1="1100" y1="460" x2="1250" y2="485" stroke="#e01818" stroke-width="8" stroke-linecap="round"/><line x1="1100" y1="460" x2="1110" y2="310" stroke="#18d018" stroke-width="8" stroke-linecap="round"/><line x1="1335" y1="430" x2="1395" y2="510" stroke="#1818e0" stroke-width="8" stroke-linecap="round"/><line x1="1335" y1="430" x2="1480" y2="430" stroke="#e01818" stroke-width="8" stroke-linecap="round"/><line x1="1335" y1="430" x2="1365" y2="275" stroke="#18d018" stroke-width="8" stroke-linecap="round"/><rect x="615" y="245" width="410" height="410" fill="none" stroke="#e82020" stroke-width="14"/></symbol>
<symbol id="in0" viewBox="1120 690 845 845" preserveAspectRatio="none"><rect x="1120" y="690" width="845" height="845" fill="#5e4a3a"/><rect x="1140" y="700" width="500" height="410" fill="url(#mkp2)"/><rect x="1620" y="700" width="345" height="420" fill="#cdb497"/><path d="M1140,1100 L1965,1080 L1965,1535 L1140,1535 Z" fill="#6a5444"/><ellipse cx="1520" cy="1200" rx="390" ry="230" fill="#24201e"/><ellipse cx="1800" cy="1370" rx="140" ry="120" fill="#161412"/><line x1="1620" y1="1190" x2="1310" y2="1250" stroke="#1818e0" stroke-width="18" stroke-linecap="round"/><line x1="1620" y1="1190" x2="1800" y2="1360" stroke="#e01818" stroke-width="18" stroke-linecap="round"/><line x1="1620" y1="1190" x2="1650" y2="870" stroke="#18d018" stroke-width="18" stroke-linecap="round"/></symbol>
<symbol id="sc1" viewBox="28 50 1857 1390" preserveAspectRatio="none"><rect x="28" y="50" width="1857" height="1390" fill="url(#w2)"/><path d="M120,350 L750,250 L770,330 L130,450 Z" fill="#c49a6c"/><path d="M28,720 L600,560 L1300,520 L1885,720 L1885,1440 L28,1440 Z" fill="#dab482"/><path d="M1650,560 L1885,540 L1885,700 Z" fill="#3a3028"/><path d="M28,1050 L130,1440 L28,1440 Z" fill="#2a2420"/><path d="M40,500 L470,360 L590,620 L170,780 Z" fill="#131110"/><ellipse cx="270" cy="625" rx="80" ry="58" fill="#e6eef6"/><path d="M170,780 L590,620 L820,740 L420,960 Z" fill="#5c5249"/><path d="M340,820 L810,730 L820,760 L420,960 Z" fill="#b08e74"/><ellipse cx="230" cy="880" rx="110" ry="165" fill="#8a1a1a"/><path d="M510,340 L760,310 L775,530 L560,560 Z" fill="#e8e4dc"/><path d="M525.9,351.4 L748.0,325.0 L759.1,518.6 L572.0,545.0 Z" fill="url(#mkp)"/><path d="M520,980 L700,830 L975,930 L800,1110 Z" fill="#e8e4dc"/><path d="M547.3,977.0 L706.0,846.8 L947.7,933.0 L794.0,1093.2 Z" fill="url(#mkp)"/><path d="M835,690 L1010,610 L1175,690 L1000,790 Z" fill="#e8e4dc"/><path d="M855.4,690.0 L1009.4,620.8 L1154.6,690.0 L1000.6,779.2 Z" fill="url(#mkp)"/><path d="M1290,600 L1520,560 L1560,680 L1330,690 Z" fill="#e8e4dc"/><path d="M1306.2,604.8 L1508.6,567.8 L1543.8,675.2 L1341.4,682.2 Z" fill="url(#mkp)"/><path d="M420,1200 L520,1110 L790,1220 L690,1340 Z" fill="#28241f"/><rect x="860" y="390" width="140" height="160" fill="#dadada"/><ellipse cx="960" cy="495" rx="45" ry="45" fill="#222"/><rect x="1085" y="410" width="125" height="165" fill="#8aa4bc"/><rect x="1280" y="260" width="100" height="270" fill="#4b6a48"/><path d="M860,770 L1050,830 L1045,850 L855,790 Z" fill="#e86a30"/><line x1="440" y1="630" x2="300" y2="700" stroke="#1818e0" stroke-width="10" stroke-linecap="round"/><line x1="440" y1="630" x2="570" y2="680" stroke="#e01818" stroke-width="10" stroke-linecap="round"/><line x1="440" y1="630" x2="420" y2="470" stroke="#18d018" stroke-width="10" stroke-linecap="round"/><line x1="230" y1="870" x2="110" y2="1010" stroke="#1818e0" stroke-width="10" stroke-linecap="round"/><line x1="230" y1="870" x2="450" y2="870" stroke="#e01818" stroke-width="10" stroke-linecap="round"/><line x1="230" y1="870" x2="180" y2="670" stroke="#18d018" stroke-width="10" stroke-linecap="round"/><line x1="930" y1="480" x2="790" y2="500" stroke="#1818e0" stroke-width="8" stroke-linecap="round"/><line x1="930" y1="480" x2="990" y2="510" stroke="#e01818" stroke-width="8" stroke-linecap="round"/><line x1="930" y1="480" x2="920" y2="330" stroke="#18d018" stroke-width="8" stroke-linecap="round"/><line x1="1150" y1="490" x2="1200" y2="560" stroke="#1818e0" stroke-width="8" stroke-linecap="round"/><line x1="1150" y1="490" x2="1260" y2="490" stroke="#e01818" stroke-width="8" stroke-linecap="round"/><line x1="1150" y1="490" x2="1155" y2="370" stroke="#18d018" stroke-width="8" stroke-linecap="round"/><line x1="1320" y1="400" x2="1340" y2="450" stroke="#1818e0" stroke-width="8" stroke-linecap="round"/><line x1="1320" y1="400" x2="1450" y2="400" stroke="#e01818" stroke-width="8" stroke-linecap="round"/><line x1="1320" y1="400" x2="1325" y2="260" stroke="#18d018" stroke-width="8" stroke-linecap="round"/><rect x="1020" y="350" width="260" height="260" fill="none" stroke="#e82020" stroke-width="14"/></symbol>
<symbol id="in1" viewBox="1120 690 845 845" preserveAspectRatio="none"><rect x="1120" y="690" width="845" height="845" fill="#bab3ac"/><path d="M1120,1100 L1965,1000 L1965,1535 L1120,1535 Z" fill="#d8b482"/><rect x="1880" y="700" width="85" height="700" fill="#5a5a48"/><path d="M1680,1000 C1820,990 1830,1250 1680,1280" fill="none" stroke="#c8d0d8" stroke-width="40"/><rect x="1270" y="960" width="410" height="540" fill="url(#mugb)"/><ellipse cx="1475" cy="1500" rx="205" ry="40" fill="url(#mugb)"/><ellipse cx="1475" cy="960" rx="205" ry="75" fill="#dedede"/><ellipse cx="1475" cy="975" rx="180" ry="55" fill="#c8c8c8"/><line x1="1490" y1="1230" x2="1680" y2="1470" stroke="#1818e0" stroke-width="22" stroke-linecap="round"/><line x1="1490" y1="1230" x2="1960" y2="1180" stroke="#e01818" stroke-width="22" stroke-linecap="round"/><line x1="1490" y1="1230" x2="1520" y2="710" stroke="#18d018" stroke-width="22" stroke-linecap="round"/></symbol>
<symbol id="sc2" viewBox="28 50 1857 1390" preserveAspectRatio="none"><rect x="28" y="50" width="1857" height="1390" fill="#b3a38b"/><path d="M310,50 L1885,50 L1885,690 L1650,580 L1240,500 L620,330 L420,340 L310,130 Z" fill="url(#cab)"/><path d="M1290,60 L1740,60 L1680,560 L1300,480 Z" fill="#c49c74"/><line x1="1300" y1="240" x2="1640" y2="300" stroke="#d8d0c8" stroke-width="10"/><path d="M28,50 L310,50 L420,340 L28,500 Z" fill="#d4ccc2"/><path d="M28,500 L420,340 L440,400 L28,560 Z" fill="#ece6de"/><path d="M28,560 L440,400 L620,330 L1240,500 L1650,580 L1885,690 L1885,1440 L28,1440 Z" fill="#b2a18a"/><path d="M440,330 L620,300 L1240,470 L1650,560 L1885,660 L1885,700 L1650,600 L1240,520 L620,350 L440,380 Z" fill="#3c3028"/><path d="M28,1300 L900,800 M500,1440 L1000,900 M700,1100 L1885,1380" stroke="#8e7e6a" stroke-width="8"/><path d="M400,400 L790,330 L810,620 L470,660 Z" fill="#151311"/><path d="M470,660 L810,620 L890,850 L480,880 Z" fill="#c4c0bc"/><path d="M490,690 L820,655 L845,760 L500,790 Z" fill="#55514e"/><path d="M160,590 L330,470 L410,600 L240,700 Z" fill="#e8e4dc"/><path d="M175.0,590.6 L324.6,483.8 L395.0,599.4 L245.4,686.2 Z" fill="url(#mkp)"/><path d="M660,960 L820,830 L985,940 L830,1100 Z" fill="#e8e4dc"/><path d="M679.5,958.8 L820.6,846.2 L965.5,941.2 L829.4,1083.8 Z" fill="url(#mkp)"/><path d="M240,1050 L460,960 L540,1140 L290,1260 Z" fill="#e8e4dc"/><path d="M258.0,1055.4 L449.8,978.0 L522.0,1134.6 L300.2,1242.0 Z" fill="url(#mkp)"/><path d="M975,650 L1190,610 L1200,760 L980,770 Z" fill="#e8e4dc"/><path d="M988.5,656.6 L1177.4,619.6 L1186.5,753.4 L992.6,760.4 Z" fill="url(#mkp)"/><ellipse cx="240" cy="820" rx="130" ry="100" fill="url(#bowlw)"/><path d="M28,920 L180,900 L200,1100 L28,1120 Z" fill="#6a5a4a"/><rect x="830" y="380" width="240" height="220" fill="#1e1a18"/><rect x="1200" y="450" width="130" height="200" fill="#9a8caa"/><ellipse cx="1265" cy="490" rx="55" ry="40" fill="#b060d0"/><line x1="620" y1="590" x2="505" y2="610" stroke="#1818e0" stroke-width="10" stroke-linecap="round"/><line x1="620" y1="590" x2="650" y2="670" stroke="#e01818" stroke-width="10" stroke-linecap="round"/><line x1="620" y1="590" x2="605" y2="480" stroke="#18d018" stroke-width="10" stroke-linecap="round"/><line x1="265" y1="830" x2="210" y2="950" stroke="#1818e0" stroke-width="10" stroke-linecap="round"/><line x1="265" y1="830" x2="400" y2="850" stroke="#e01818" stroke-width="10" stroke-linecap="round"/><line x1="265" y1="830" x2="205" y2="740" stroke="#18d018" stroke-width="10" stroke-linecap="round"/><line x1="70" y1="1030" x2="100" y2="1150" stroke="#1818e0" stroke-width="10" stroke-linecap="round"/><line x1="70" y1="1030" x2="230" y2="960" stroke="#e01818" stroke-width="10" stroke-linecap="round"/><line x1="70" y1="1030" x2="28" y2="985" stroke="#18d018" stroke-width="10" stroke-linecap="round"/><line x1="940" y1="520" x2="835" y2="510" stroke="#1818e0" stroke-width="8" stroke-linecap="round"/><line x1="940" y1="520" x2="920" y2="590" stroke="#e01818" stroke-width="8" stroke-linecap="round"/><line x1="940" y1="520" x2="930" y2="400" stroke="#18d018" stroke-width="8" stroke-linecap="round"/><line x1="1255" y1="570" x2="1245" y2="655" stroke="#1818e0" stroke-width="8" stroke-linecap="round"/><line x1="1255" y1="570" x2="1395" y2="575" stroke="#e01818" stroke-width="8" stroke-linecap="round"/><line x1="1255" y1="570" x2="1265" y2="455" stroke="#18d018" stroke-width="8" stroke-linecap="round"/><rect x="815" y="365" width="260" height="265" fill="none" stroke="#e82020" stroke-width="14"/></symbol>
<symbol id="in2" viewBox="1120 690 845 845" preserveAspectRatio="none"><rect x="1120" y="690" width="845" height="845" fill="#2a2420"/><path d="M1450,700 L1965,700 L1965,900 L1700,830 Z" fill="#b08a64"/><ellipse cx="1350" cy="1000" rx="200" ry="140" fill="#1a1614"/><ellipse cx="1740" cy="1300" rx="190" ry="170" fill="#141010"/><ellipse cx="1740" cy="1300" rx="120" ry="105" fill="#2a2622"/><rect x="1560" y="1220" width="110" height="65" fill="#f0e4d8"/><path d="M1140,1380 L1500,1420 L1500,1535 L1140,1535 Z" fill="#5a4a3c"/><rect x="1720" y="1490" width="245" height="45" fill="#d8d0c8"/><line x1="1570" y1="1160" x2="1140" y2="1150" stroke="#1818e0" stroke-width="24" stroke-linecap="round"/><line x1="1570" y1="1160" x2="1450" y2="1440" stroke="#e01818" stroke-width="24" stroke-linecap="round"/><line x1="1570" y1="1160" x2="1520" y2="750" stroke="#18d018" stroke-width="24" stroke-linecap="round"/></symbol>
<symbol id="sc3" viewBox="28 50 1857 1390" preserveAspectRatio="none"><rect x="28" y="50" width="1857" height="1390" fill="#2e2a28"/><path d="M28,50 L1885,50 L1885,320 L28,360 Z" fill="url(#w4)"/><path d="M28,370 L640,210 L830,640 L200,760 Z" fill="url(#scr4)"/><path d="M200,760 L830,640 L1100,1000 L500,1240 Z" fill="#3a3634"/><path d="M800,90 L1100,90 L1100,390 L810,400 Z" fill="#e8e4dc"/><path d="M818.0,108.0 L1082.6,108.6 L1082.0,372.0 L827.4,381.4 Z" fill="url(#mkp)"/><path d="M1280,70 L1560,60 L1560,350 L1290,370 Z" fill="#e8e4dc"/><path d="M1296.8,86.8 L1543.8,78.6 L1543.2,333.2 L1306.2,351.4 Z" fill="url(#mkp)"/><rect x="1160" y="110" width="110" height="280" fill="#d4d0cc"/><ellipse cx="1040" cy="540" rx="140" ry="90" fill="#c8c4c0"/><ellipse cx="1040" cy="500" rx="140" ry="55" fill="#eeeeee"/><ellipse cx="1320" cy="530" rx="130" ry="85" fill="#d8d0c8"/><ellipse cx="1320" cy="490" rx="130" ry="50" fill="#f2eee8"/><rect x="1410" y="390" width="170" height="200" fill="#e2d8ce"/><path d="M1120,680 L1400,650 L1420,700 L1130,720 Z" fill="#e8e4dc"/><path d="M1138.0,681.2 L1383.8,654.2 L1402.0,698.8 L1146.2,715.8 Z" fill="url(#mkp)"/><path d="M1430,650 L1760,630 L1780,690 L1440,700 Z" fill="#e8e4dc"/><path d="M1451.0,652.4 L1740.8,634.2 L1759.0,687.6 L1459.2,695.8 Z" fill="url(#mkp)"/><path d="M920,1100 L1100,950 L1110,1230 L1000,1240 Z" fill="#d8d4ce"/><rect x="585" y="1060" width="260" height="290" fill="url(#mug4)"/><ellipse cx="715" cy="1350" rx="130" ry="40" fill="url(#mug4)"/><ellipse cx="715" cy="1060" rx="130" ry="85" fill="#b8a080"/><ellipse cx="715" cy="1070" rx="110" ry="68" fill="#8a7258"/><line x1="575" y1="630" x2="365" y2="710" stroke="#1818e0" stroke-width="10" stroke-linecap="round"/><line x1="575" y1="630" x2="710" y2="750" stroke="#e01818" stroke-width="10" stroke-linecap="round"/><line x1="575" y1="630" x2="560" y2="420" stroke="#18d018" stroke-width="10" stroke-linecap="round"/><line x1="1040" y1="560" x2="1060" y2="660" stroke="#1818e0" stroke-width="8" stroke-linecap="round"/><line x1="1040" y1="560" x2="1210" y2="560" stroke="#e01818" stroke-width="8" stroke-linecap="round"/><line x1="1040" y1="560" x2="1045" y2="400" stroke="#18d018" stroke-width="8" stroke-linecap="round"/><line x1="1310" y1="550" x2="1340" y2="650" stroke="#1818e0" stroke-width="8" stroke-linecap="round"/><line x1="1310" y1="550" x2="1480" y2="550" stroke="#e01818" stroke-width="8" stroke-linecap="round"/><line x1="1310" y1="550" x2="1330" y2="390" stroke="#18d018" stroke-width="8" stroke-linecap="round"/><line x1="1490" y1="490" x2="1555" y2="590" stroke="#1818e0" stroke-width="8" stroke-linecap="round"/><line x1="1490" y1="490" x2="1640" y2="485" stroke="#e01818" stroke-width="8" stroke-linecap="round"/><line x1="1490" y1="490" x2="1515" y2="340" stroke="#18d018" stroke-width="8" stroke-linecap="round"/><line x1="735" y1="1160" x2="1000" y2="1270" stroke="#1818e0" stroke-width="10" stroke-linecap="round"/><line x1="735" y1="1160" x2="880" y2="985" stroke="#e01818" stroke-width="10" stroke-linecap="round"/><line x1="735" y1="1160" x2="705" y2="940" stroke="#18d018" stroke-width="10" stroke-linecap="round"/><rect x="535" y="890" width="510" height="510" fill="none" stroke="#e82020" stroke-width="14"/></symbol>
<symbol id="in3" viewBox="1120 690 845 845" preserveAspectRatio="none"><rect x="1120" y="690" width="845" height="845" fill="#2c2826"/><path d="M1760,950 L1965,850 L1965,1200 L1800,1090 Z" fill="#e8e4de"/><path d="M1820,990 L1965,930 L1965,1120 L1840,1060 Z" fill="#2a2624"/><rect x="1200" y="960" width="440" height="510" fill="url(#mug4)"/><ellipse cx="1420" cy="1470" rx="220" ry="60" fill="url(#mug4)"/><ellipse cx="1420" cy="960" rx="220" ry="140" fill="#c0a888"/><ellipse cx="1420" cy="975" rx="195" ry="115" fill="#9a8266"/><ellipse cx="1590" cy="850" rx="35" ry="30" fill="#e4e4e4"/><line x1="1445" y1="1160" x2="1910" y2="1350" stroke="#1818e0" stroke-width="22" stroke-linecap="round"/><line x1="1445" y1="1160" x2="1700" y2="845" stroke="#e01818" stroke-width="22" stroke-linecap="round"/><line x1="1445" y1="1160" x2="1400" y2="770" stroke="#18d018" stroke-width="22" stroke-linecap="round"/></symbol>
</defs>
<use href="#sc0" x="1694" y="1897" width="261" height="195"/>
<rect x="1847.2" y="1986.8" width="118.6" height="118.6" fill="#f4f4f4" filter="url(#ish)"/>
<use href="#in0" x="1849.4" y="1989" width="114.2" height="114.2"/>
<use href="#sc0" x="1978" y="1897" width="261" height="195"/>
<rect x="2131.2" y="1986.8" width="118.6" height="118.6" fill="#f4f4f4" filter="url(#ish)"/>
<use href="#in0" x="2133.4" y="1989" width="114.2" height="114.2"/>
<use href="#sc0" x="2262" y="1897" width="261" height="195"/>
<rect x="2415.2" y="1986.8" width="118.6" height="118.6" fill="#f4f4f4" filter="url(#ish)"/>
<use href="#in0" x="2417.4" y="1989" width="114.2" height="114.2"/>
<use href="#sc1" x="1694" y="2117.6" width="261" height="195"/>
<rect x="1847.2" y="2207.4" width="118.6" height="118.6" fill="#f4f4f4" filter="url(#ish)"/>
<use href="#in1" x="1849.4" y="2209.6" width="114.2" height="114.2"/>
<use href="#sc1" x="1978" y="2117.6" width="261" height="195"/>
<rect x="2131.2" y="2207.4" width="118.6" height="118.6" fill="#f4f4f4" filter="url(#ish)"/>
<use href="#in1" x="2133.4" y="2209.6" width="114.2" height="114.2"/>
<use href="#sc1" x="2262" y="2117.6" width="261" height="195"/>
<rect x="2415.2" y="2207.4" width="118.6" height="118.6" fill="#f4f4f4" filter="url(#ish)"/>
<use href="#in1" x="2417.4" y="2209.6" width="114.2" height="114.2"/>
<use href="#sc2" x="1694" y="2337" width="261" height="195"/>
<rect x="1847.2" y="2426.8" width="118.6" height="118.6" fill="#f4f4f4" filter="url(#ish)"/>
<use href="#in2" x="1849.4" y="2429" width="114.2" height="114.2"/>
<use href="#sc2" x="1978" y="2337" width="261" height="195"/>
<rect x="2131.2" y="2426.8" width="118.6" height="118.6" fill="#f4f4f4" filter="url(#ish)"/>
<use href="#in2" x="2133.4" y="2429" width="114.2" height="114.2"/>
<use href="#sc2" x="2262" y="2337" width="261" height="195"/>
<rect x="2415.2" y="2426.8" width="118.6" height="118.6" fill="#f4f4f4" filter="url(#ish)"/>
<use href="#in2" x="2417.4" y="2429" width="114.2" height="114.2"/>
<use href="#sc3" x="1694" y="2557.5" width="261" height="195"/>
<rect x="1847.2" y="2647.3" width="118.6" height="118.6" fill="#f4f4f4" filter="url(#ish)"/>
<use href="#in3" x="1849.4" y="2649.5" width="114.2" height="114.2"/>
<use href="#sc3" x="1978" y="2557.5" width="261" height="195"/>
<rect x="2131.2" y="2647.3" width="118.6" height="118.6" fill="#f4f4f4" filter="url(#ish)"/>
<use href="#in3" x="2133.4" y="2649.5" width="114.2" height="114.2"/>
<use href="#sc3" x="2262" y="2557.5" width="261" height="195"/>
<rect x="2415.2" y="2647.3" width="118.6" height="118.6" fill="#f4f4f4" filter="url(#ish)"/>
<use href="#in3" x="2417.4" y="2649.5" width="114.2" height="114.2"/>
<text x="1828" y="2796" font-family="Liberation Serif" font-size="25" fill="#111" text-anchor="middle">GT</text>
<text x="2122" y="2796" font-family="Liberation Serif" font-size="25" fill="#111" text-anchor="middle">RBP-Pose</text>
<text x="2385.5" y="2796" font-family="Liberation Serif" font-size="25" fill="#111" text-anchor="middle">Ours</text>
</svg>
<div class="h2" style="left:1707px;top:1823.7px;color:#548235">Qualitative results</div>

<div class="h2" style="left:2616px;top:1824.7px;color:#7b1575">Energy-based likelihood estimation</div>
<div class="a t40" style="left:2616px;top:1883.1px;width:730px;line-height:57.5px;text-align:justify">The <span class="em">energy</span>-based likelihood estimator enhances the sorting of pose candidates and <span class="em">removes outliers effectively</span>.</div>
<div class="h2" style="left:2620.7px;top:2488.1px;color:#7b1575">Cross-category generalization</div>
<div class="a t40" style="left:2620.7px;top:2547.3px;width:725px;line-height:57.7px;text-align:justify">Our method effectively generalizes to novel categories with similar symmetrical attributes, as it does not rely on category prior information.</div>
<svg style="left:0;top:0" width="4320" height="2880" viewBox="0 0 4320 2880">
<line x1="3388.6" y1="1872" x2="4165" y2="1872" stroke="#111" stroke-width="2.2"/>
<line x1="3388.6" y1="1912" x2="4165" y2="1912" stroke="#111" stroke-width="1.2"/>
<line x1="3388.6" y1="2033.6" x2="4165" y2="2033.6" stroke="#111" stroke-width="2.2"/>
<line x1="3758.6" y1="1880" x2="3758.6" y2="1906" stroke="#111" stroke-width="1.2"/><line x1="3758.6" y1="1918" x2="3758.6" y2="2028" stroke="#111" stroke-width="1.2"/>
<text x="3488.6" y="1900.7" font-family="Liberation Serif" font-size="24" fill="#111" text-anchor="middle">Ranking</text>
<text x="3674" y="1900.7" font-family="Liberation Serif" font-size="24" fill="#111" text-anchor="middle">Mean pooling</text>
<text x="3806.4" y="1900.7" font-family="Liberation Serif" font-size="24" fill="#111" text-anchor="middle">5°2cm</text>
<text x="3901" y="1900.7" font-family="Liberation Serif" font-size="24" fill="#111" text-anchor="middle">5°5cm</text>
<text x="4003" y="1900.7" font-family="Liberation Serif" font-size="24" fill="#111" text-anchor="middle">10°2cm</text>
<text x="4111" y="1900.7" font-family="Liberation Serif" font-size="24" fill="#111" text-anchor="middle">10°5cm</text>
<text x="3488.6" y="1938.6" font-family="Liberation Serif" font-size="24" fill="#111" text-anchor="middle">Random</text>
<text x="3674" y="1938.6" font-family="Liberation Serif" font-size="24" fill="#111" text-anchor="middle">×</text>
<text x="3806.4" y="1938.6" font-family="Liberation Serif" font-size="24" fill="#111" text-anchor="middle">13.5</text>
<text x="3901" y="1938.6" font-family="Liberation Serif" font-size="24" fill="#111" text-anchor="middle">49.1</text>
<text x="4003" y="1938.6" font-family="Liberation Serif" font-size="24" fill="#111" text-anchor="middle">21.5</text>
<text x="4111" y="1938.6" font-family="Liberation Serif" font-size="24" fill="#111" text-anchor="middle">76.3</text>
<text x="3488.6" y="1965.7" font-family="Liberation Serif" font-size="24" fill="#111" text-anchor="middle">Random</text>
<path d="M3666.8,1956.9 Q3670.0,1959.3 3672.4,1966.5 Q3675.6,1954.5 3682.0,1946.5" fill="none" stroke="#111" stroke-width="1.7600000000000002" stroke-linecap="round" stroke-linejoin="round"/>
<text x="3806.4" y="1965.7" font-family="Liberation Serif" font-size="24" fill="#111" text-anchor="middle">49.4</text>
<text x="3901" y="1965.7" font-family="Liberation Serif" font-size="24" fill="#111" text-anchor="middle">58.6</text>
<text x="4003" y="1965.7" font-family="Liberation Serif" font-size="24" fill="#111" text-anchor="middle">68.5</text>
<text x="4111" y="1965.7" font-family="Liberation Serif" font-size="24" fill="#111" text-anchor="middle">80.7</text>
<text x="3488.6" y="1993.6" font-family="Liberation Serif" font-size="24" fill="#111" text-anchor="middle">Energy</text>
<path d="M3666.8,1984.8 Q3670.0,1987.1999999999998 3672.4,1994.3999999999999 Q3675.6,1982.3999999999999 3682.0,1974.3999999999999" fill="none" stroke="#111" stroke-width="1.7600000000000002" stroke-linecap="round" stroke-linejoin="round"/>
<text x="3806.4" y="1993.6" font-family="Liberation Serif" font-size="24" fill="#111" text-anchor="middle" font-weight="bold">52.1</text>
<text x="3901" y="1993.6" font-family="Liberation Serif" font-size="24" fill="#111" text-anchor="middle" font-weight="bold">60.9</text>
<text x="4003" y="1993.6" font-family="Liberation Serif" font-size="24" fill="#111" text-anchor="middle" font-weight="bold">72.4</text>
<text x="4111" y="1993.6" font-family="Liberation Serif" font-size="24" fill="#111" text-anchor="middle" font-weight="bold">84.0</text>
<text x="3488.6" y="2020.7" font-family="Liberation Serif" font-size="24" fill="#111" text-anchor="middle">GT(upper bound)</text>
<path d="M3666.8,2011.9 Q3670.0,2014.3 3672.4,2021.5 Q3675.6,2009.5 3682.0,2001.5" fill="none" stroke="#111" stroke-width="1.7600000000000002" stroke-linecap="round" stroke-linejoin="round"/>
<text x="3806.4" y="2020.7" font-family="Liberation Serif" font-size="24" fill="#111" text-anchor="middle">62.1</text>
<text x="3901" y="2020.7" font-family="Liberation Serif" font-size="24" fill="#111" text-anchor="middle">66.8</text>
<text x="4003" y="2020.7" font-family="Liberation Serif" font-size="24" fill="#111" text-anchor="middle">80.9</text>
<text x="4111" y="2020.7" font-family="Liberation Serif" font-size="24" fill="#111" text-anchor="middle">86.9</text>
<line x1="3385" y1="2488.6" x2="4160" y2="2488.6" stroke="#111" stroke-width="2.2"/>
<line x1="3385" y1="2528" x2="4160" y2="2528" stroke="#111" stroke-width="1.2"/>
<line x1="3385" y1="2618.6" x2="4160" y2="2618.6" stroke="#111" stroke-width="1.2"/>
<line x1="3385" y1="2710" x2="4160" y2="2710" stroke="#111" stroke-width="1.2"/>
<line x1="3385" y1="2802" x2="4160" y2="2802" stroke="#111" stroke-width="2.2"/>
<line x1="3501.5" y1="2496" x2="3501.5" y2="2522" stroke="#111" stroke-width="1.2"/>
<line x1="3501.5" y1="2534" x2="3501.5" y2="2613" stroke="#111" stroke-width="1.2"/>
<line x1="3501.5" y1="2625" x2="3501.5" y2="2704" stroke="#111" stroke-width="1.2"/>
<line x1="3501.5" y1="2716" x2="3501.5" y2="2796" stroke="#111" stroke-width="1.2"/>
<line x1="3669" y1="2496" x2="3669" y2="2522" stroke="#111" stroke-width="1.2"/>
<line x1="3669" y1="2534" x2="3669" y2="2613" stroke="#111" stroke-width="1.2"/>
<line x1="3669" y1="2625" x2="3669" y2="2704" stroke="#111" stroke-width="1.2"/>
<line x1="3669" y1="2716" x2="3669" y2="2796" stroke="#111" stroke-width="1.2"/>
<text x="3442" y="2515" font-family="Liberation Serif" font-size="24" fill="#111" text-anchor="middle">Category</text>
<text x="3585" y="2515" font-family="Liberation Serif" font-size="24" fill="#111" text-anchor="middle">Method</text>
<text x="3729" y="2515" font-family="Liberation Serif" font-size="24" fill="#111" text-anchor="middle">5°2cm</text>
<text x="3849" y="2515" font-family="Liberation Serif" font-size="24" fill="#111" text-anchor="middle">5°5cm</text>
<text x="3968.6" y="2515" font-family="Liberation Serif" font-size="24" fill="#111" text-anchor="middle">10°2cm</text>
<text x="4094" y="2515" font-family="Liberation Serif" font-size="24" fill="#111" text-anchor="middle">10°5cm</text>
<text x="3442" y="2580.7" font-family="Liberation Serif" font-size="24" fill="#111" text-anchor="middle">bowl</text>
<text x="3585" y="2554" font-family="Liberation Serif" font-size="24" fill="#111" text-anchor="middle">SAR-Net[<tspan fill="#1a1aee">10</tspan>]</text>
<text x="3585" y="2580.7" font-family="Liberation Serif" font-size="24" fill="#111" text-anchor="middle">RBP-Pose[<tspan fill="#1a1aee">19</tspan>]</text>
<text x="3585" y="2606.4" font-family="Liberation Serif" font-size="24" fill="#111" text-anchor="middle">Ours</text>
<text x="3729" y="2554" font-family="Liberation Serif" font-size="24" fill="#111" text-anchor="middle">58.1/36.4</text>
<text x="3849" y="2554" font-family="Liberation Serif" font-size="24" fill="#111" text-anchor="middle">66.0/47.3</text>
<text x="3968.6" y="2554" font-family="Liberation Serif" font-size="24" fill="#111" text-anchor="middle">83.7/59.4</text>
<text x="4094" y="2554" font-family="Liberation Serif" font-size="24" fill="#111" text-anchor="middle">93.6/81.5</text>
<text x="3729" y="2580.7" font-family="Liberation Serif" font-size="24" fill="#111" text-anchor="middle">75.4/0.0</text>
<text x="3849" y="2580.7" font-family="Liberation Serif" font-size="24" fill="#111" text-anchor="middle">81.7/6.9</text>
<text x="3968.6" y="2580.7" font-family="Liberation Serif" font-size="24" fill="#111" text-anchor="middle">92.1/0.1</text>
<text x="4094" y="2580.7" font-family="Liberation Serif" font-size="24" fill="#111" text-anchor="middle">100.0/30.7</text>
<text x="3729" y="2606.4" font-family="Liberation Serif" font-size="24" fill="#111" text-anchor="middle" font-weight="bold">85.4/64.5</text>
<text x="3849" y="2606.4" font-family="Liberation Serif" font-size="24" fill="#111" text-anchor="middle" font-weight="bold">92.6/72.5</text>
<text x="3968.6" y="2606.4" font-family="Liberation Serif" font-size="24" fill="#111" text-anchor="middle" font-weight="bold">93.1/87.2</text>
<text x="4094" y="2606.4" font-family="Liberation Serif" font-size="24" fill="#111" text-anchor="middle" font-weight="bold">100.0/98.6</text>
<text x="3442" y="2670.7" font-family="Liberation Serif" font-size="24" fill="#111" text-anchor="middle">bottle</text>
<text x="3585" y="2645" font-family="Liberation Serif" font-size="24" fill="#111" text-anchor="middle">SAR-Net[<tspan fill="#1a1aee">10</tspan>]</text>
<text x="3585" y="2670.7" font-family="Liberation Serif" font-size="24" fill="#111" text-anchor="middle">RBP-Pose[<tspan fill="#1a1aee">19</tspan>]</text>
<text x="3585" y="2697" font-family="Liberation Serif" font-size="24" fill="#111" text-anchor="middle">Ours</text>
<text x="3729" y="2645" font-family="Liberation Serif" font-size="24" fill="#111" text-anchor="middle">43.5/11.7</text>
<text x="3849" y="2645" font-family="Liberation Serif" font-size="24" fill="#111" text-anchor="middle">54.0/23.0</text>
<text x="3968.6" y="2645" font-family="Liberation Serif" font-size="24" fill="#111" text-anchor="middle">61.3/33.6</text>
<text x="4094" y="2645" font-family="Liberation Serif" font-size="24" fill="#111" text-anchor="middle">79.8/68.0</text>
<text x="3729" y="2670.7" font-family="Liberation Serif" font-size="24" fill="#111" text-anchor="middle">38.7/4.3</text>
<text x="3849" y="2670.7" font-family="Liberation Serif" font-size="24" fill="#111" text-anchor="middle">43.5/5.8</text>
<text x="3968.6" y="2670.7" font-family="Liberation Serif" font-size="24" fill="#111" text-anchor="middle">76.4/24.7</text>
<text x="4094" y="2670.7" font-family="Liberation Serif" font-size="24" fill="#111" text-anchor="middle">89.8/29.7</text>
<text x="3729" y="2697" font-family="Liberation Serif" font-size="24" fill="#111" text-anchor="middle" font-weight="bold">52.6/39.0</text>
<text x="3849" y="2697" font-family="Liberation Serif" font-size="24" fill="#111" text-anchor="middle" font-weight="bold">60.9/53.2</text>
<text x="3968.6" y="2697" font-family="Liberation Serif" font-size="24" fill="#111" text-anchor="middle" font-weight="bold">81.4/73.6</text>
<text x="4094" y="2697" font-family="Liberation Serif" font-size="24" fill="#111" text-anchor="middle" font-weight="bold">92.7/94.6</text>
<text x="3442" y="2763" font-family="Liberation Serif" font-size="24" fill="#111" text-anchor="middle">can</text>
<text x="3585" y="2736" font-family="Liberation Serif" font-size="24" fill="#111" text-anchor="middle">SAR-Net[<tspan fill="#1a1aee">10</tspan>]</text>
<text x="3585" y="2763" font-family="Liberation Serif" font-size="24" fill="#111" text-anchor="middle">RBP-Pose[<tspan fill="#1a1aee">19</tspan>]</text>
<text x="3585" y="2788.6" font-family="Liberation Serif" font-size="24" fill="#111" text-anchor="middle">Ours</text>
<text x="3729" y="2736" font-family="Liberation Serif" font-size="24" fill="#111" text-anchor="middle">32.2/7.3</text>
<text x="3849" y="2736" font-family="Liberation Serif" font-size="24" fill="#111" text-anchor="middle">62.2/52.3</text>
<text x="3968.6" y="2736" font-family="Liberation Serif" font-size="24" fill="#111" text-anchor="middle">52.5/12.1</text>
<text x="4094" y="2736" font-family="Liberation Serif" font-size="24" fill="#111" text-anchor="middle">92.9/87.9</text>
<text x="3729" y="2763" font-family="Liberation Serif" font-size="24" fill="#111" text-anchor="middle">53.5/0.8</text>
<text x="3849" y="2763" font-family="Liberation Serif" font-size="24" fill="#111" text-anchor="middle">67.1/21.0</text>
<text x="3968.6" y="2763" font-family="Liberation Serif" font-size="24" fill="#111" text-anchor="middle">78.8/2.6</text>
<text x="4094" y="2763" font-family="Liberation Serif" font-size="24" fill="#111" text-anchor="middle">96.3/61.7</text>
<text x="3729" y="2788.6" font-family="Liberation Serif" font-size="24" fill="#111" text-anchor="middle" font-weight="bold">72.5/62.5</text>
<text x="3849" y="2788.6" font-family="Liberation Serif" font-size="24" fill="#111" text-anchor="middle" font-weight="bold">80.4/74.0</text>
<text x="3968.6" y="2788.6" font-family="Liberation Serif" font-size="24" fill="#111" text-anchor="middle" font-weight="bold">88.8/81.6</text>
<text x="4094" y="2788.6" font-family="Liberation Serif" font-size="24" fill="#111" text-anchor="middle" font-weight="bold">99.8/99.7</text>
<rect x="2804" y="2097" width="578" height="280.5" fill="#fff"/>
<clipPath id="cp2804"><rect x="2804" y="2097" width="578" height="280.5"/></clipPath>
<g clip-path="url(#cp2804)">
<path d="M2932.4,2142.3 L2983.8,2145.4 L3022.4,2158.6 L3060.9,2171.4 L3099.4,2186.6 L3138.0,2201.9 L3150.8,2229.9 L3125.1,2270.6 L3073.7,2283.3 L3009.5,2288.4 L2945.3,2303.7 L2893.9,2336.8 L2868.2,2362.2 L2829.7,2369.9 L2804.0,2369.9 L2804.0,2102.6 Z" fill="#add8e6" fill-opacity=".45"/>
<path d="M2804.0,2100.1 L2842.5,2102.6 L2861.8,2108.7 L2881.1,2120.5 L2906.8,2133.2 L2932.4,2142.3 L2977.4,2147.4 L2990.2,2158.6 L3022.4,2167.8 L3054.5,2173.9 L3063.5,2194.3 L3067.3,2224.8 L3048.0,2241.1 L3009.5,2247.7 L2983.8,2250.2 L2958.1,2255.3 L2932.4,2275.7 L2906.8,2288.4 L2881.1,2311.3 L2868.2,2326.6 L2855.4,2342.9 L2829.7,2349.5 L2804.0,2352.1 Z" fill="#add8e6"/>
<path d="M2991,2333h3v3h-3zM2846,2221h3v3h-3zM2838,2229h3v3h-3zM2887,2343h3v3h-3zM2840,2360h3v3h-3zM3197,2252h3v3h-3zM3142,2245h3v3h-3zM2872,2255h3v3h-3zM2892,2234h3v3h-3zM3148,2208h3v3h-3zM2968,2265h3v3h-3zM2817,2242h3v3h-3zM2872,2360h3v3h-3zM2879,2305h3v3h-3zM2891,2326h3v3h-3zM2939,2236h3v3h-3zM3031,2261h3v3h-3zM2925,2330h3v3h-3zM2863,2271h3v3h-3zM2950,2276h3v3h-3zM3073,2236h3v3h-3zM2863,2277h3v3h-3zM3283,2330h3v3h-3zM3354,2223h3v3h-3zM2955,2270h3v3h-3zM3103,2273h3v3h-3zM2820,2296h3v3h-3zM3015,2313h3v3h-3zM2918,2318h3v3h-3zM3238,2238h3v3h-3zM3121,2339h3v3h-3zM3282,2316h3v3h-3zM2973,2307h3v3h-3zM2954,2255h3v3h-3zM2904,2239h3v3h-3zM3126,2282h3v3h-3zM3128,2305h3v3h-3zM3158,2230h3v3h-3zM2883,2342h3v3h-3zM2846,2307h3v3h-3zM2893,2168h3v3h-3zM2897,2251h3v3h-3zM3000,2320h3v3h-3zM3165,2228h3v3h-3zM2865,2300h3v3h-3zM3254,2298h3v3h-3zM2837,2176h3v3h-3zM2959,2340h3v3h-3zM2942,2345h3v3h-3zM2833,2318h3v3h-3zM3093,2325h3v3h-3zM2814,2304h3v3h-3zM3228,2216h3v3h-3zM3038,2276h3v3h-3zM2879,2357h3v3h-3zM2952,2330h3v3h-3zM2967,2307h3v3h-3zM3070,2331h3v3h-3zM2983,2273h3v3h-3zM3025,2239h3v3h-3zM2920,2230h3v3h-3zM2957,2351h3v3h-3zM2939,2206h3v3h-3zM3312,2263h3v3h-3zM2822,2339h3v3h-3zM2950,2356h3v3h-3zM3161,2189h3v3h-3zM2889,2303h3v3h-3zM2980,2211h3v3h-3zM2839,2299h3v3h-3zM3103,2242h3v3h-3zM3064,2299h3v3h-3zM3323,2235h3v3h-3zM2806,2234h3v3h-3zM2979,2336h3v3h-3zM2987,2132h3v3h-3zM2972,2269h3v3h-3zM3051,2297h3v3h-3zM3345,2305h3v3h-3zM3099,2322h3v3h-3zM3177,2294h3v3h-3zM2978,2214h3v3h-3zM2901,2330h3v3h-3zM3328,2232h3v3h-3zM2885,2321h3v3h-3zM3002,2351h3v3h-3zM3237,2257h3v3h-3zM3107,2267h3v3h-3zM2877,2230h3v3h-3zM3303,2314h3v3h-3zM2948,2261h3v3h-3zM2948,2346h3v3h-3zM3068,2216h3v3h-3zM3177,2289h3v3h-3zM2950,2191h3v3h-3zM2869,2357h3v3h-3zM3141,2264h3v3h-3zM3315,2238h3v3h-3zM3194,2255h3v3h-3zM2824,2279h3v3h-3zM3231,2230h3v3h-3zM2912,2312h3v3h-3zM2886,2362h3v3h-3zM3023,2268h3v3h-3zM2832,2239h3v3h-3zM2987,2297h3v3h-3zM3027,2304h3v3h-3zM2850,2320h3v3h-3zM2947,2359h3v3h-3zM2853,2349h3v3h-3zM3214,2247h3v3h-3zM2919,2305h3v3h-3zM3305,2246h3v3h-3zM3149,2196h3v3h-3zM3017,2336h3v3h-3zM2951,2202h3v3h-3zM3196,2323h3v3h-3zM2841,2348h3v3h-3zM3122,2190h3v3h-3zM2899,2174h3v3h-3zM2985,2212h3v3h-3zM3314,2243h3v3h-3zM2813,2216h3v3h-3zM3018,2230h3v3h-3zM2867,2234h3v3h-3zM3363,2320h3v3h-3zM2910,2314h3v3h-3zM3103,2265h3v3h-3zM2828,2213h3v3h-3zM2981,2255h3v3h-3zM3050,2185h3v3h-3zM3255,2243h3v3h-3zM3078,2346h3v3h-3zM3053,2351h3v3h-3zM2852,2163h3v3h-3zM2842,2275h3v3h-3zM3336,2317h3v3h-3zM3096,2284h3v3h-3zM3246,2248h3v3h-3zM3181,2371h3v3h-3zM3009,2346h3v3h-3zM2934,2207h3v3h-3zM2922,2195h3v3h-3zM2890,2349h3v3h-3zM3111,2259h3v3h-3zM2838,2150h3v3h-3zM2919,2200h3v3h-3zM2983,2290h3v3h-3zM2935,2347h3v3h-3zM2826,2279h3v3h-3zM2958,2215h3v3h-3zM3260,2224h3v3h-3zM3223,2211h3v3h-3zM2927,2195h3v3h-3zM3330,2335h3v3h-3zM2923,2345h3v3h-3zM2862,2349h3v3h-3zM2922,2284h3v3h-3zM2816,2302h3v3h-3zM3218,2270h3v3h-3zM3211,2220h3v3h-3zM3245,2091h3v3h-3zM2911,2233h3v3h-3zM2968,2315h3v3h-3zM2939,2243h3v3h-3zM3005,2282h3v3h-3zM2902,2249h3v3h-3zM3139,2341h3v3h-3zM3316,2308h3v3h-3zM2893,2332h3v3h-3zM2993,2225h3v3h-3zM2917,2191h3v3h-3zM2923,2264h3v3h-3zM3093,2192h3v3h-3zM2886,2201h3v3h-3zM2985,2194h3v3h-3zM3168,2304h3v3h-3zM3067,2196h3v3h-3zM3348,2226h3v3h-3zM2925,2177h3v3h-3zM3347,2223h3v3h-3zM3267,2263h3v3h-3zM3075,2291h3v3h-3zM2951,2253h3v3h-3zM2806,2166h3v3h-3zM2946,2289h3v3h-3zM3170,2373h3v3h-3zM2863,2336h3v3h-3zM3253,2276h3v3h-3zM3314,2215h3v3h-3zM2939,2337h3v3h-3zM2838,2241h3v3h-3zM3088,2232h3v3h-3zM3016,2239h3v3h-3zM3095,2298h3v3h-3zM2995,2285h3v3h-3zM2953,2289h3v3h-3zM2988,2251h3v3h-3zM2827,2343h3v3h-3zM2812,2264h3v3h-3zM2927,2333h3v3h-3zM2807,2177h3v3h-3zM2944,2163h3v3h-3zM2833,2151h3v3h-3zM3219,2374h3v3h-3zM3302,2235h3v3h-3zM3016,2209h3v3h-3zM3014,2189h3v3h-3zM3151,2287h3v3h-3zM2853,2215h3v3h-3zM2939,2200h3v3h-3zM3073,2317h3v3h-3zM3145,2322h3v3h-3zM2908,2172h3v3h-3zM3130,2260h3v3h-3zM3020,2346h3v3h-3zM3003,2225h3v3h-3zM3085,2211h3v3h-3zM2908,2353h3v3h-3zM3150,2261h3v3h-3zM3031,2246h3v3h-3zM2826,2303h3v3h-3zM2831,2147h3v3h-3zM2953,2341h3v3h-3zM2901,2308h3v3h-3zM3167,2245h3v3h-3zM2887,2313h3v3h-3zM3217,2216h3v3h-3zM2997,2328h3v3h-3zM3190,2316h3v3h-3zM2969,2302h3v3h-3zM3270,2278h3v3h-3zM2930,2210h3v3h-3zM2918,2354h3v3h-3zM3156,2232h3v3h-3zM2923,2198h3v3h-3zM3273,2207h3v3h-3zM2842,2163h3v3h-3zM2898,2269h3v3h-3zM2807,2225h3v3h-3zM3090,2227h3v3h-3zM2933,2324h3v3h-3zM2860,2173h3v3h-3zM2814,2202h3v3h-3zM2875,2233h3v3h-3zM2966,2342h3v3h-3zM2889,2210h3v3h-3zM3253,2278h3v3h-3zM3048,2192h3v3h-3zM2958,2179h3v3h-3zM2949,2225h3v3h-3zM3357,2227h3v3h-3zM3074,2221h3v3h-3zM2876,2339h3v3h-3zM3039,2293h3v3h-3zM2855,2218h3v3h-3zM2920,2170h3v3h-3zM3121,2198h3v3h-3zM2983,2307h3v3h-3zM2811,2274h3v3h-3zM2942,2215h3v3h-3zM3250,2331h3v3h-3zM3308,2249h3v3h-3zM3231,2332h3v3h-3zM3008,2180h3v3h-3zM2806,2153h3v3h-3zM3155,2266h3v3h-3zM3030,2215h3v3h-3zM3093,2248h3v3h-3zM2980,2335h3v3h-3zM3029,2273h3v3h-3zM3108,2349h3v3h-3zM3036,2213h3v3h-3zM3281,2227h3v3h-3zM2894,2293h3v3h-3zM3096,2322h3v3h-3zM3168,2201h3v3h-3zM2918,2232h3v3h-3zM2958,2188h3v3h-3zM2874,2332h3v3h-3zM2866,2348h3v3h-3zM3270,2359h3v3h-3zM3009,2328h3v3h-3zM3006,2246h3v3h-3zM2944,2263h3v3h-3zM2904,2273h3v3h-3zM2870,2221h3v3h-3zM3281,2275h3v3h-3zM2915,2295h3v3h-3zM2824,2183h3v3h-3zM2894,2171h3v3h-3zM2896,2274h3v3h-3zM3354,2230h3v3h-3zM3017,2305h3v3h-3zM3101,2219h3v3h-3zM3132,2287h3v3h-3zM2990,2184h3v3h-3zM3129,2272h3v3h-3zM2935,2341h3v3h-3zM2880,2297h3v3h-3zM3167,2324h3v3h-3zM2827,2366h3v3h-3zM2918,2289h3v3h-3zM2827,2287h3v3h-3zM3218,2303h3v3h-3zM3200,2275h3v3h-3zM2831,2306h3v3h-3zM2878,2155h3v3h-3zM3118,2304h3v3h-3zM3011,2257h3v3h-3zM3191,2308h3v3h-3zM2886,2213h3v3h-3zM2902,2182h3v3h-3zM2870,2293h3v3h-3zM2923,2360h3v3h-3zM2918,2172h3v3h-3zM2869,2283h3v3h-3zM3014,2328h3v3h-3zM3130,2346h3v3h-3zM3055,2322h3v3h-3zM2949,2306h3v3h-3zM2820,2151h3v3h-3zM2975,2323h3v3h-3zM2989,2270h3v3h-3zM2828,2212h3v3h-3zM2895,2290h3v3h-3zM2850,2176h3v3h-3zM2827,2249h3v3h-3zM2968,2184h3v3h-3zM3047,2278h3v3h-3zM2899,2291h3v3h-3zM3130,2276h3v3h-3zM2853,2283h3v3h-3zM2820,2322h3v3h-3zM3019,2208h3v3h-3zM3110,2212h3v3h-3zM2951,2350h3v3h-3zM2949,2234h3v3h-3zM2935,2210h3v3h-3zM3101,2205h3v3h-3zM2927,2290h3v3h-3zM2829,2201h3v3h-3zM3140,2344h3v3h-3zM2848,2281h3v3h-3zM2902,2272h3v3h-3zM3138,2264h3v3h-3zM2807,2208h3v3h-3zM2830,2335h3v3h-3zM2962,2298h3v3h-3zM2955,2211h3v3h-3zM3098,2192h3v3h-3zM3122,2259h3v3h-3zM3082,2270h3v3h-3zM2940,2275h3v3h-3zM3062,2211h3v3h-3zM2902,2358h3v3h-3zM2963,2302h3v3h-3zM2899,2299h3v3h-3zM2930,2261h3v3h-3zM3310,2278h3v3h-3zM3038,2179h3v3h-3zM2837,2256h3v3h-3zM3166,2280h3v3h-3zM3150,2302h3v3h-3zM3223,2281h3v3h-3zM2894,2336h3v3h-3zM3115,2205h3v3h-3zM3184,2201h3v3h-3zM2839,2231h3v3h-3zM2890,2326h3v3h-3zM3337,2330h3v3h-3zM3092,2191h3v3h-3zM3267,2243h3v3h-3zM2842,2189h3v3h-3zM3166,2312h3v3h-3zM2956,2251h3v3h-3zM3280,2295h3v3h-3zM3199,2203h3v3h-3zM3379,2290h3v3h-3zM2868,2092h3v3h-3zM2860,2328h3v3h-3zM2823,2309h3v3h-3zM2938,2252h3v3h-3zM2882,2252h3v3h-3zM3093,2345h3v3h-3zM3227,2298h3v3h-3zM2957,2357h3v3h-3zM3098,2258h3v3h-3zM3219,2261h3v3h-3zM3027,2258h3v3h-3zM3022,2307h3v3h-3zM2991,2188h3v3h-3zM2986,2093h3v3h-3zM3168,2219h3v3h-3zM3079,2313h3v3h-3zM2893,2304h3v3h-3zM3066,2352h3v3h-3zM2891,2178h3v3h-3zM3105,2308h3v3h-3zM3001,2266h3v3h-3zM2920,2211h3v3h-3zM2907,2167h3v3h-3zM3161,2269h3v3h-3zM2975,2258h3v3h-3zM3273,2274h3v3h-3zM3189,2281h3v3h-3zM2819,2204h3v3h-3zM2827,2179h3v3h-3zM2863,2352h3v3h-3zM3215,2236h3v3h-3zM2888,2280h3v3h-3zM2956,2286h3v3h-3zM2953,2318h3v3h-3zM3114,2268h3v3h-3zM3087,2207h3v3h-3zM3055,2190h3v3h-3zM3194,2291h3v3h-3zM2924,2348h3v3h-3zM3200,2332h3v3h-3zM2974,2309h3v3h-3zM2988,2213h3v3h-3zM2858,2242h3v3h-3zM3052,2179h3v3h-3zM2997,2246h3v3h-3zM2859,2216h3v3h-3zM3148,2242h3v3h-3zM2880,2208h3v3h-3zM3021,2183h3v3h-3zM2872,2232h3v3h-3zM2872,2241h3v3h-3zM3114,2229h3v3h-3zM2918,2259h3v3h-3zM3238,2333h3v3h-3zM2822,2262h3v3h-3zM2828,2197h3v3h-3zM3071,2108h3v3h-3zM2855,2306h3v3h-3zM3196,2333h3v3h-3zM2885,2319h3v3h-3zM3219,2275h3v3h-3zM2938,2320h3v3h-3zM2854,2187h3v3h-3zM2813,2345h3v3h-3zM3046,2201h3v3h-3zM2998,2315h3v3h-3zM2855,2298h3v3h-3zM2874,2178h3v3h-3zM3280,2324h3v3h-3zM3358,2271h3v3h-3zM3008,2348h3v3h-3zM2848,2195h3v3h-3zM2964,2330h3v3h-3zM2898,2161h3v3h-3zM2918,2284h3v3h-3zM2867,2301h3v3h-3zM3239,2297h3v3h-3zM3334,2223h3v3h-3zM2945,2357h3v3h-3zM2881,2278h3v3h-3zM3190,2208h3v3h-3zM2880,2171h3v3h-3zM3158,2297h3v3h-3zM2927,2312h3v3h-3zM3012,2173h3v3h-3zM3289,2282h3v3h-3zM3168,2337h3v3h-3zM2838,2247h3v3h-3zM2868,2312h3v3h-3zM3001,2281h3v3h-3zM2822,2150h3v3h-3zM3096,2253h3v3h-3zM3035,2228h3v3h-3zM2881,2245h3v3h-3zM3213,2244h3v3h-3zM2914,2260h3v3h-3zM2916,2162h3v3h-3zM2918,2300h3v3h-3zM3168,2300h3v3h-3zM3067,2348h3v3h-3zM2867,2213h3v3h-3zM2925,2304h3v3h-3zM3142,2267h3v3h-3zM2845,2283h3v3h-3zM3025,2347h3v3h-3zM2877,2319h3v3h-3zM2835,2240h3v3h-3zM3335,2301h3v3h-3zM2815,2156h3v3h-3zM2849,2362h3v3h-3zM2972,2261h3v3h-3zM3273,2243h3v3h-3zM3180,2317h3v3h-3zM2870,2175h3v3h-3zM3105,2244h3v3h-3zM2978,2276h3v3h-3zM2962,2304h3v3h-3zM2816,2310h3v3h-3zM2985,2194h3v3h-3zM3111,2187h3v3h-3zM2812,2301h3v3h-3zM3239,2305h3v3h-3zM2820,2175h3v3h-3zM3206,2289h3v3h-3zM2886,2344h3v3h-3zM3249,2325h3v3h-3zM2979,2258h3v3h-3zM3025,2187h3v3h-3zM2933,2359h3v3h-3zM3259,2304h3v3h-3zM3106,2345h3v3h-3zM3264,2294h3v3h-3zM3246,2312h3v3h-3zM2931,2265h3v3h-3zM2833,2183h3v3h-3zM2871,2243h3v3h-3zM2858,2343h3v3h-3zM2904,2310h3v3h-3zM2872,2358h3v3h-3zM2845,2312h3v3h-3zM3107,2307h3v3h-3zM3304,2315h3v3h-3zM2988,2317h3v3h-3zM3082,2325h3v3h-3zM3181,2227h3v3h-3zM2939,2231h3v3h-3zM2851,2314h3v3h-3zM3058,2336h3v3h-3zM3036,2179h3v3h-3zM2990,2258h3v3h-3zM2898,2135h3v3h-3zM3155,2302h3v3h-3zM2890,2337h3v3h-3zM2939,2328h3v3h-3zM2814,2293h3v3h-3zM3182,2227h3v3h-3zM2945,2185h3v3h-3zM2952,2308h3v3h-3zM3192,2143h3v3h-3zM3247,2340h3v3h-3zM2928,2300h3v3h-3zM2883,2259h3v3h-3zM3057,2326h3v3h-3zM2814,2180h3v3h-3zM3247,2289h3v3h-3zM2813,2221h3v3h-3zM2961,2357h3v3h-3zM2904,2174h3v3h-3zM2937,2300h3v3h-3zM2998,2225h3v3h-3zM3045,2237h3v3h-3zM2836,2353h3v3h-3zM2857,2195h3v3h-3zM3002,2234h3v3h-3zM3341,2213h3v3h-3zM2893,2175h3v3h-3zM3261,2310h3v3h-3zM3187,2212h3v3h-3zM2915,2207h3v3h-3zM3170,2307h3v3h-3zM2822,2165h3v3h-3zM2972,2190h3v3h-3zM2984,2184h3v3h-3zM2895,2311h3v3h-3zM3263,2287h3v3h-3zM2856,2363h3v3h-3zM3071,2320h3v3h-3zM3097,2225h3v3h-3zM2865,2357h3v3h-3zM2932,2284h3v3h-3zM3172,2296h3v3h-3zM3073,2196h3v3h-3zM2844,2158h3v3h-3zM2866,2357h3v3h-3zM2999,2341h3v3h-3zM2971,2241h3v3h-3zM3228,2340h3v3h-3zM3000,2305h3v3h-3zM3298,2283h3v3h-3zM3234,2278h3v3h-3zM2958,2270h3v3h-3zM3008,2267h3v3h-3zM3001,2305h3v3h-3zM2935,2357h3v3h-3zM2865,2206h3v3h-3zM3104,2236h3v3h-3zM2824,2205h3v3h-3zM3219,2252h3v3h-3zM2912,2217h3v3h-3zM3338,2317h3v3h-3zM2954,2297h3v3h-3zM3101,2240h3v3h-3zM2807,2278h3v3h-3zM3237,2308h3v3h-3zM2919,2330h3v3h-3zM3161,2289h3v3h-3zM2930,2353h3v3h-3zM2987,2230h3v3h-3zM2918,2204h3v3h-3zM2902,2356h3v3h-3zM2976,2215h3v3h-3zM3081,2232h3v3h-3zM2996,2264h3v3h-3zM3258,2301h3v3h-3zM3116,2297h3v3h-3zM2817,2321h3v3h-3zM3270,2335h3v3h-3zM2837,2300h3v3h-3zM3339,2250h3v3h-3zM2836,2341h3v3h-3zM2898,2325h3v3h-3zM2908,2333h3v3h-3zM3333,2213h3v3h-3zM2905,2265h3v3h-3zM3043,2182h3v3h-3zM2987,2267h3v3h-3zM2890,2155h3v3h-3zM2863,2297h3v3h-3zM2952,2164h3v3h-3zM2860,2233h3v3h-3zM2928,2186h3v3h-3zM2888,2179h3v3h-3zM2880,2191h3v3h-3zM2911,2231h3v3h-3zM3124,2259h3v3h-3zM2883,2240h3v3h-3zM2959,2270h3v3h-3zM3244,2205h3v3h-3zM2876,2294h3v3h-3zM3012,2200h3v3h-3zM2923,2229h3v3h-3zM2812,2318h3v3h-3zM2960,2334h3v3h-3zM2897,2165h3v3h-3zM2886,2331h3v3h-3zM3095,2209h3v3h-3zM3043,2218h3v3h-3zM2838,2254h3v3h-3zM2944,2350h3v3h-3zM3153,2325h3v3h-3zM2851,2280h3v3h-3zM3179,2254h3v3h-3zM2893,2288h3v3h-3zM3218,2228h3v3h-3zM2857,2113h3v3h-3zM2933,2261h3v3h-3zM2998,2300h3v3h-3zM2933,2260h3v3h-3zM3053,2332h3v3h-3zM2862,2230h3v3h-3zM2916,2181h3v3h-3zM3275,2239h3v3h-3zM2830,2168h3v3h-3zM2869,2283h3v3h-3zM2806,2351h3v3h-3zM3024,2181h3v3h-3zM3131,2320h3v3h-3zM3083,2279h3v3h-3zM3099,2205h3v3h-3zM2964,2230h3v3h-3zM3046,2183h3v3h-3zM3021,2293h3v3h-3zM3011,2288h3v3h-3zM2937,2279h3v3h-3zM3017,2299h3v3h-3zM3319,2252h3v3h-3zM3251,2268h3v3h-3zM3148,2303h3v3h-3zM3029,2266h3v3h-3zM3197,2195h3v3h-3zM2816,2180h3v3h-3zM3136,2283h3v3h-3zM2992,2189h3v3h-3zM3099,2342h3v3h-3zM2984,2256h3v3h-3zM3143,2267h3v3h-3zM2835,2266h3v3h-3zM2864,2301h3v3h-3zM3071,2315h3v3h-3zM2858,2351h3v3h-3zM3054,2229h3v3h-3zM2902,2228h3v3h-3zM3311,2273h3v3h-3zM3159,2213h3v3h-3zM2870,2185h3v3h-3zM3013,2260h3v3h-3zM3091,2239h3v3h-3zM2904,2189h3v3h-3zM2954,2189h3v3h-3zM3158,2327h3v3h-3zM2985,2216h3v3h-3zM3083,2197h3v3h-3zM2982,2179h3v3h-3zM2842,2356h3v3h-3zM2874,2331h3v3h-3zM2947,2174h3v3h-3zM3017,2228h3v3h-3zM2819,2157h3v3h-3zM3310,2273h3v3h-3zM3039,2224h3v3h-3zM2964,2191h3v3h-3zM3022,2208h3v3h-3zM3152,2194h3v3h-3zM2913,2348h3v3h-3zM3099,2334h3v3h-3zM3305,2264h3v3h-3zM2910,2208h3v3h-3zM3079,2220h3v3h-3zM3342,2319h3v3h-3zM3179,2269h3v3h-3zM2842,2189h3v3h-3zM2893,2216h3v3h-3zM2833,2305h3v3h-3zM2950,2352h3v3h-3zM2949,2290h3v3h-3zM2870,2312h3v3h-3zM2825,2156h3v3h-3zM3342,2263h3v3h-3zM3284,2238h3v3h-3zM3186,2214h3v3h-3zM3313,2091h3v3h-3zM3076,2339h3v3h-3zM2817,2248h3v3h-3zM3149,2279h3v3h-3zM2871,2164h3v3h-3zM3017,2325h3v3h-3zM3094,2256h3v3h-3zM3025,2250h3v3h-3zM2965,2345h3v3h-3zM2892,2226h3v3h-3zM3128,2256h3v3h-3zM2877,2239h3v3h-3zM2891,2312h3v3h-3zM2856,2321h3v3h-3zM2831,2160h3v3h-3zM2965,2232h3v3h-3zM3057,2295h3v3h-3zM2977,2297h3v3h-3zM2936,2344h3v3h-3zM2954,2197h3v3h-3zM3133,2227h3v3h-3zM2902,2332h3v3h-3zM2927,2279h3v3h-3zM2893,2168h3v3h-3zM2979,2299h3v3h-3zM2811,2250h3v3h-3zM3116,2300h3v3h-3zM2915,2170h3v3h-3zM2863,2280h3v3h-3zM2867,2196h3v3h-3zM2878,2338h3v3h-3zM2848,2245h3v3h-3zM3143,2308h3v3h-3zM2811,2350h3v3h-3zM2955,2196h3v3h-3zM3117,2268h3v3h-3zM3267,2202h3v3h-3zM3137,2267h3v3h-3zM2821,2243h3v3h-3zM3080,2192h3v3h-3zM3211,2100h3v3h-3zM3267,2308h3v3h-3zM2935,2171h3v3h-3zM2947,2226h3v3h-3zM2815,2298h3v3h-3zM2841,2281h3v3h-3zM2881,2289h3v3h-3zM3272,2310h3v3h-3zM3132,2297h3v3h-3zM3247,2288h3v3h-3zM3275,2331h3v3h-3zM2846,2157h3v3h-3zM2878,2265h3v3h-3zM3173,2237h3v3h-3zM2953,2347h3v3h-3zM2875,2191h3v3h-3zM3102,2293h3v3h-3zM3239,2240h3v3h-3zM3021,2256h3v3h-3zM3015,2346h3v3h-3zM3104,2207h3v3h-3zM3146,2219h3v3h-3zM2949,2285h3v3h-3zM3115,2222h3v3h-3zM2842,2182h3v3h-3zM3182,2312h3v3h-3zM3166,2296h3v3h-3zM2939,2323h3v3h-3zM3112,2191h3v3h-3zM2811,2247h3v3h-3zM2938,2171h3v3h-3zM3023,2089h3v3h-3zM3241,2234h3v3h-3zM2804,2302h3v3h-3zM2918,2287h3v3h-3zM2859,2276h3v3h-3zM2871,2158h3v3h-3zM2860,2304h3v3h-3zM2990,2319h3v3h-3zM2961,2315h3v3h-3zM3016,2343h3v3h-3zM2949,2208h3v3h-3zM3007,2232h3v3h-3zM2915,2194h3v3h-3zM2828,2297h3v3h-3zM2890,2223h3v3h-3zM3237,2202h3v3h-3zM3225,2200h3v3h-3zM3275,2297h3v3h-3zM3338,2298h3v3h-3zM3188,2207h3v3h-3zM3043,2100h3v3h-3zM3089,2234h3v3h-3zM3310,2255h3v3h-3zM2942,2243h3v3h-3zM2814,2281h3v3h-3zM2876,2255h3v3h-3zM2925,2346h3v3h-3zM2879,2253h3v3h-3zM3054,2213h3v3h-3zM3030,2253h3v3h-3zM3146,2270h3v3h-3zM2969,2241h3v3h-3zM2943,2303h3v3h-3zM3265,2240h3v3h-3zM2888,2360h3v3h-3zM3226,2342h3v3h-3zM3002,2210h3v3h-3zM2868,2257h3v3h-3zM3173,2277h3v3h-3zM2876,2213h3v3h-3zM2900,2321h3v3h-3zM2928,2280h3v3h-3zM3024,2298h3v3h-3zM3070,2223h3v3h-3zM2906,2279h3v3h-3zM2993,2305h3v3h-3zM3182,2344h3v3h-3zM2899,2302h3v3h-3zM2976,2348h3v3h-3zM3198,2295h3v3h-3zM3158,2275h3v3h-3zM2899,2193h3v3h-3zM2868,2327h3v3h-3zM3101,2238h3v3h-3zM2988,2336h3v3h-3zM3256,2340h3v3h-3zM2894,2185h3v3h-3zM2881,2329h3v3h-3zM2877,2265h3v3h-3zM2872,2303h3v3h-3zM3205,2269h3v3h-3zM3273,2278h3v3h-3zM3008,2175h3v3h-3zM3267,2288h3v3h-3zM3116,2257h3v3h-3zM2884,2181h3v3h-3zM3110,2096h3v3h-3zM3295,2334h3v3h-3zM2875,2355h3v3h-3zM2990,2301h3v3h-3zM3127,2247h3v3h-3zM2848,2341h3v3h-3zM2837,2223h3v3h-3zM3086,2326h3v3h-3zM2808,2274h3v3h-3zM2956,2213h3v3h-3zM2951,2270h3v3h-3zM2941,2170h3v3h-3zM3207,2276h3v3h-3zM3339,2222h3v3h-3zM3058,2323h3v3h-3zM3146,2252h3v3h-3zM2857,2169h3v3h-3zM3314,2326h3v3h-3zM3240,2202h3v3h-3zM2815,2251h3v3h-3zM2847,2174h3v3h-3zM2991,2285h3v3h-3zM2898,2260h3v3h-3zM2863,2194h3v3h-3zM3191,2269h3v3h-3zM3049,2323h3v3h-3zM3126,2281h3v3h-3zM3305,2318h3v3h-3zM3341,2182h3v3h-3zM2820,2224h3v3h-3zM2806,2304h3v3h-3zM3314,2231h3v3h-3zM3107,2254h3v3h-3zM3169,2286h3v3h-3zM3336,2222h3v3h-3zM3001,2275h3v3h-3zM2806,2255h3v3h-3zM3262,2342h3v3h-3zM2874,2282h3v3h-3zM2851,2158h3v3h-3zM2839,2250h3v3h-3zM3230,2210h3v3h-3zM2984,2341h3v3h-3zM3032,2299h3v3h-3zM2903,2300h3v3h-3zM2838,2289h3v3h-3zM2932,2185h3v3h-3zM2816,2233h3v3h-3zM2954,2266h3v3h-3zM2805,2301h3v3h-3zM2991,2256h3v3h-3zM3231,2233h3v3h-3zM2875,2231h3v3h-3zM2872,2284h3v3h-3zM2848,2152h3v3h-3zM3193,2309h3v3h-3zM2883,2296h3v3h-3zM2902,2307h3v3h-3zM3146,2222h3v3h-3zM2858,2212h3v3h-3zM2850,2151h3v3h-3zM3145,2222h3v3h-3zM2932,2170h3v3h-3zM2957,2182h3v3h-3zM2819,2240h3v3h-3zM2982,2347h3v3h-3zM2845,2327h3v3h-3zM3005,2231h3v3h-3zM3029,2338h3v3h-3zM3089,2145h3v3h-3zM2881,2317h3v3h-3zM3113,2207h3v3h-3zM2871,2316h3v3h-3zM2847,2256h3v3h-3zM2953,2333h3v3h-3zM3082,2240h3v3h-3zM3308,2329h3v3h-3zM2883,2228h3v3h-3zM3070,2240h3v3h-3zM3219,2220h3v3h-3zM2865,2244h3v3h-3zM3258,2323h3v3h-3zM2859,2158h3v3h-3zM3102,2220h3v3h-3zM3139,2247h3v3h-3zM2865,2362h3v3h-3zM3150,2343h3v3h-3zM2879,2199h3v3h-3zM3300,2374h3v3h-3zM3366,2301h3v3h-3zM2807,2200h3v3h-3zM3250,2226h3v3h-3zM2933,2186h3v3h-3zM2866,2304h3v3h-3zM2909,2207h3v3h-3zM2971,2303h3v3h-3zM3093,2273h3v3h-3zM2947,2357h3v3h-3zM2999,2248h3v3h-3zM2897,2271h3v3h-3zM3197,2206h3v3h-3zM2929,2302h3v3h-3zM3103,2295h3v3h-3zM3345,2235h3v3h-3zM3008,2320h3v3h-3zM2855,2242h3v3h-3zM2909,2280h3v3h-3zM3345,2233h3v3h-3zM3070,2297h3v3h-3zM3217,2311h3v3h-3zM3084,2185h3v3h-3zM3250,2288h3v3h-3zM2832,2172h3v3h-3zM3083,2183h3v3h-3zM2910,2174h3v3h-3zM3026,2216h3v3h-3zM3041,2272h3v3h-3zM3011,2177h3v3h-3zM3091,2302h3v3h-3zM3101,2347h3v3h-3zM3245,2271h3v3h-3zM3177,2264h3v3h-3zM3321,2282h3v3h-3zM2917,2192h3v3h-3zM2838,2359h3v3h-3zM3168,2249h3v3h-3zM3081,2336h3v3h-3zM2888,2301h3v3h-3zM3241,2250h3v3h-3zM3037,2225h3v3h-3zM3355,2322h3v3h-3zM2827,2179h3v3h-3zM2987,2221h3v3h-3zM2972,2244h3v3h-3zM2854,2345h3v3h-3zM2910,2324h3v3h-3zM2946,2324h3v3h-3zM3198,2208h3v3h-3zM3020,2191h3v3h-3zM3019,2227h3v3h-3zM2925,2340h3v3h-3zM3056,2253h3v3h-3zM3121,2297h3v3h-3zM2974,2209h3v3h-3zM3125,2282h3v3h-3zM2921,2323h3v3h-3zM2823,2353h3v3h-3zM3091,2345h3v3h-3zM3047,2230h3v3h-3zM3123,2319h3v3h-3zM3186,2225h3v3h-3zM2929,2259h3v3h-3zM2904,2176h3v3h-3zM3314,2312h3v3h-3zM3097,2220h3v3h-3zM3042,2176h3v3h-3zM3118,2274h3v3h-3zM2912,2279h3v3h-3zM3224,2246h3v3h-3zM2933,2236h3v3h-3zM3013,2184h3v3h-3zM2841,2317h3v3h-3zM3296,2226h3v3h-3zM2961,2228h3v3h-3zM2939,2203h3v3h-3zM3105,2188h3v3h-3zM2910,2323h3v3h-3zM2964,2196h3v3h-3zM3356,2319h3v3h-3zM2808,2341h3v3h-3zM2853,2240h3v3h-3zM2902,2284h3v3h-3zM2917,2198h3v3h-3zM2885,2289h3v3h-3zM2813,2193h3v3h-3zM2954,2317h3v3h-3zM2869,2226h3v3h-3zM3035,2232h3v3h-3zM2923,2241h3v3h-3zM3198,2345h3v3h-3zM2915,2169h3v3h-3zM3000,2340h3v3h-3zM3232,2213h3v3h-3zM2943,2238h3v3h-3zM2830,2246h3v3h-3zM2983,2254h3v3h-3zM2959,2200h3v3h-3zM3067,2220h3v3h-3zM3319,2295h3v3h-3zM3378,2289h3v3h-3zM2948,2230h3v3h-3zM2951,2239h3v3h-3zM2893,2341h3v3h-3zM2857,2342h3v3h-3zM2859,2188h3v3h-3zM3102,2205h3v3h-3zM3241,2221h3v3h-3zM3102,2315h3v3h-3zM2925,2229h3v3h-3zM3139,2243h3v3h-3zM2954,2286h3v3h-3zM3269,2284h3v3h-3zM3270,2256h3v3h-3zM3001,2326h3v3h-3zM2880,2186h3v3h-3zM2947,2177h3v3h-3zM3312,2292h3v3h-3zM3182,2217h3v3h-3zM2888,2204h3v3h-3zM3237,2325h3v3h-3zM2827,2216h3v3h-3zM2896,2336h3v3h-3zM2828,2349h3v3h-3zM2826,2241h3v3h-3zM2823,2217h3v3h-3zM2998,2262h3v3h-3zM2869,2211h3v3h-3zM2914,2351h3v3h-3zM2812,2195h3v3h-3zM2847,2255h3v3h-3zM3347,2277h3v3h-3zM2888,2313h3v3h-3zM2804,2255h3v3h-3zM2977,2224h3v3h-3zM2822,2345h3v3h-3zM3038,2351h3v3h-3zM2908,2356h3v3h-3zM3213,2201h3v3h-3zM3056,2223h3v3h-3zM2905,2274h3v3h-3zM2852,2224h3v3h-3zM3046,2241h3v3h-3zM2847,2296h3v3h-3zM3215,2246h3v3h-3zM2829,2191h3v3h-3zM3206,2217h3v3h-3zM3371,2266h3v3h-3zM2936,2314h3v3h-3zM3140,2235h3v3h-3zM2810,2275h3v3h-3zM2872,2312h3v3h-3zM2865,2157h3v3h-3zM2884,2299h3v3h-3zM3083,2314h3v3h-3zM2945,2162h3v3h-3zM2879,2294h3v3h-3zM2951,2322h3v3h-3zM2885,2159h3v3h-3zM3268,2279h3v3h-3zM2933,2354h3v3h-3zM3065,2341h3v3h-3zM3056,2245h3v3h-3zM2976,2169h3v3h-3zM2809,2177h3v3h-3zM2963,2267h3v3h-3zM3109,2291h3v3h-3zM3106,2311h3v3h-3zM3017,2224h3v3h-3zM3289,2298h3v3h-3zM3031,2187h3v3h-3zM3143,2243h3v3h-3zM2946,2279h3v3h-3zM2905,2236h3v3h-3zM2937,2187h3v3h-3zM3092,2269h3v3h-3zM2974,2208h3v3h-3zM2934,2327h3v3h-3zM2983,2338h3v3h-3zM3316,2336h3v3h-3zM2843,2196h3v3h-3zM3163,2270h3v3h-3zM3111,2264h3v3h-3zM3109,2274h3v3h-3zM2813,2272h3v3h-3zM3090,2238h3v3h-3zM3253,2266h3v3h-3zM3054,2201h3v3h-3zM3093,2227h3v3h-3zM2978,2179h3v3h-3zM3380,2295h3v3h-3zM3016,2277h3v3h-3zM3025,2231h3v3h-3zM3062,2190h3v3h-3zM2806,2273h3v3h-3zM2911,2219h3v3h-3zM3322,2203h3v3h-3zM2984,2304h3v3h-3zM2866,2299h3v3h-3zM3347,2327h3v3h-3zM3020,2190h3v3h-3zM3191,2334h3v3h-3zM2832,2182h3v3h-3zM3099,2186h3v3h-3zM3003,2251h3v3h-3zM2913,2238h3v3h-3zM3196,2313h3v3h-3zM3068,2319h3v3h-3zM3234,2301h3v3h-3zM3220,2233h3v3h-3zM2849,2215h3v3h-3zM2872,2349h3v3h-3zM3114,2206h3v3h-3zM2950,2230h3v3h-3zM2997,2330h3v3h-3zM2905,2219h3v3h-3zM2951,2351h3v3h-3zM2891,2260h3v3h-3zM3310,2283h3v3h-3zM3055,2347h3v3h-3zM3366,2298h3v3h-3zM2817,2176h3v3h-3zM2916,2350h3v3h-3zM3052,2324h3v3h-3zM2859,2328h3v3h-3zM3237,2218h3v3h-3zM2932,2187h3v3h-3zM3176,2276h3v3h-3zM3019,2171h3v3h-3zM2900,2244h3v3h-3zM3161,2306h3v3h-3zM3101,2252h3v3h-3zM2973,2245h3v3h-3zM2918,2285h3v3h-3zM3039,2215h3v3h-3zM2872,2279h3v3h-3zM2905,2275h3v3h-3zM2859,2202h3v3h-3zM3105,2335h3v3h-3zM2965,2281h3v3h-3zM3191,2204h3v3h-3zM3151,2362h3v3h-3zM2952,2259h3v3h-3zM3214,2294h3v3h-3zM3095,2308h3v3h-3zM3236,2230h3v3h-3zM3006,2211h3v3h-3zM3028,2214h3v3h-3zM3315,2284h3v3h-3zM3240,2264h3v3h-3zM2897,2277h3v3h-3zM2867,2190h3v3h-3zM3205,2290h3v3h-3zM2960,2166h3v3h-3zM3332,2256h3v3h-3zM3087,2248h3v3h-3zM2891,2208h3v3h-3zM3025,2241h3v3h-3zM2903,2182h3v3h-3zM2933,2295h3v3h-3zM3136,2195h3v3h-3zM3253,2237h3v3h-3zM3030,2191h3v3h-3zM3110,2276h3v3h-3zM3016,2178h3v3h-3zM3245,2223h3v3h-3zM3055,2231h3v3h-3zM3035,2304h3v3h-3zM3041,2344h3v3h-3zM2821,2347h3v3h-3zM3078,2210h3v3h-3zM2858,2291h3v3h-3zM2971,2315h3v3h-3zM3112,2275h3v3h-3zM3286,2186h3v3h-3zM2900,2202h3v3h-3zM3317,2335h3v3h-3zM3145,2307h3v3h-3zM2920,2166h3v3h-3zM3201,2338h3v3h-3zM2894,2233h3v3h-3zM3365,2315h3v3h-3zM2962,2258h3v3h-3zM3339,2331h3v3h-3zM2955,2260h3v3h-3zM3116,2188h3v3h-3zM3207,2263h3v3h-3zM3014,2282h3v3h-3zM3040,2277h3v3h-3zM3132,2214h3v3h-3zM2945,2288h3v3h-3zM3232,2325h3v3h-3zM2938,2192h3v3h-3zM3227,2198h3v3h-3zM3003,2322h3v3h-3zM3087,2335h3v3h-3zM3081,2315h3v3h-3zM3304,2270h3v3h-3zM3180,2218h3v3h-3zM3057,2245h3v3h-3zM2885,2174h3v3h-3zM3129,2270h3v3h-3zM2936,2332h3v3h-3zM3057,2350h3v3h-3zM3122,2316h3v3h-3zM3308,2255h3v3h-3zM3134,2291h3v3h-3zM3214,2214h3v3h-3zM3007,2206h3v3h-3zM3073,2208h3v3h-3zM3154,2219h3v3h-3zM2873,2256h3v3h-3zM3055,2331h3v3h-3zM2815,2253h3v3h-3zM3251,2309h3v3h-3zM3131,2338h3v3h-3zM2837,2334h3v3h-3zM3007,2262h3v3h-3zM2952,2290h3v3h-3zM2872,2203h3v3h-3zM3122,2186h3v3h-3zM2855,2312h3v3h-3zM3055,2246h3v3h-3zM3196,2294h3v3h-3zM2910,2300h3v3h-3zM3134,2285h3v3h-3zM3311,2270h3v3h-3zM2809,2216h3v3h-3zM3162,2219h3v3h-3zM2901,2311h3v3h-3zM2806,2264h3v3h-3zM2859,2226h3v3h-3zM3218,2275h3v3h-3zM2862,2216h3v3h-3zM2967,2290h3v3h-3zM3121,2260h3v3h-3zM3007,2323h3v3h-3zM2856,2294h3v3h-3zM3044,2210h3v3h-3zM2874,2217h3v3h-3zM3236,2269h3v3h-3zM2853,2314h3v3h-3zM3143,2261h3v3h-3zM2836,2314h3v3h-3zM2837,2230h3v3h-3zM2805,2293h3v3h-3zM3055,2279h3v3h-3zM2980,2325h3v3h-3zM3050,2251h3v3h-3zM3082,2210h3v3h-3zM3062,2302h3v3h-3zM2853,2296h3v3h-3zM2970,2262h3v3h-3zM2984,2207h3v3h-3zM3190,2290h3v3h-3zM2968,2272h3v3h-3zM2899,2303h3v3h-3zM2878,2307h3v3h-3zM3010,2185h3v3h-3zM2936,2236h3v3h-3zM2810,2306h3v3h-3zM3109,2276h3v3h-3zM2856,2163h3v3h-3zM3132,2294h3v3h-3zM3201,2230h3v3h-3zM3236,2265h3v3h-3zM2830,2149h3v3h-3zM2948,2180h3v3h-3zM3180,2333h3v3h-3zM2928,2240h3v3h-3zM3268,2203h3v3h-3zM3026,2316h3v3h-3zM3203,2286h3v3h-3zM3221,2243h3v3h-3zM2934,2333h3v3h-3zM2904,2201h3v3h-3zM3057,2213h3v3h-3zM3076,2291h3v3h-3zM3092,2181h3v3h-3zM3371,2315h3v3h-3zM3035,2277h3v3h-3zM3130,2243h3v3h-3zM3027,2242h3v3h-3zM2935,2289h3v3h-3zM3002,2112h3v3h-3zM3259,2312h3v3h-3zM3250,2223h3v3h-3zM2820,2359h3v3h-3zM3170,2336h3v3h-3zM3297,2323h3v3h-3zM2854,2354h3v3h-3zM2867,2195h3v3h-3zM2913,2247h3v3h-3zM3007,2293h3v3h-3zM2991,2203h3v3h-3zM3219,2232h3v3h-3zM3143,2201h3v3h-3zM3041,2228h3v3h-3zM3023,2313h3v3h-3zM2890,2166h3v3h-3zM3267,2208h3v3h-3zM3202,2256h3v3h-3zM3051,2178h3v3h-3zM2859,2304h3v3h-3zM3373,2087h3v3h-3zM3175,2337h3v3h-3zM2910,2235h3v3h-3zM3044,2308h3v3h-3zM3048,2086h3v3h-3zM3002,2334h3v3h-3zM2963,2196h3v3h-3zM3305,2252h3v3h-3zM2862,2224h3v3h-3zM3094,2346h3v3h-3zM2810,2222h3v3h-3zM2888,2180h3v3h-3zM3064,2207h3v3h-3zM2910,2236h3v3h-3zM3228,2282h3v3h-3zM3271,2336h3v3h-3zM3251,2281h3v3h-3zM2963,2260h3v3h-3zM3170,2197h3v3h-3zM2818,2168h3v3h-3zM3027,2316h3v3h-3zM2921,2317h3v3h-3zM2916,2256h3v3h-3zM3247,2320h3v3h-3zM2994,2182h3v3h-3zM3188,2275h3v3h-3zM2832,2327h3v3h-3zM3337,2222h3v3h-3zM2987,2295h3v3h-3zM2824,2146h3v3h-3zM2820,2315h3v3h-3zM2812,2321h3v3h-3zM2998,2194h3v3h-3zM3222,2295h3v3h-3zM2904,2315h3v3h-3zM2939,2232h3v3h-3zM3008,2202h3v3h-3zM2897,2308h3v3h-3zM2868,2263h3v3h-3zM3145,2320h3v3h-3zM2931,2318h3v3h-3zM3300,2268h3v3h-3zM3209,2222h3v3h-3zM2891,2344h3v3h-3zM3107,2300h3v3h-3zM3094,2300h3v3h-3zM3008,2339h3v3h-3zM2921,2238h3v3h-3zM3165,2289h3v3h-3zM3157,2326h3v3h-3zM3169,2328h3v3h-3zM2948,2342h3v3h-3zM2960,2337h3v3h-3zM2968,2210h3v3h-3zM2935,2339h3v3h-3zM3035,2247h3v3h-3zM2899,2342h3v3h-3zM3112,2243h3v3h-3zM2961,2309h3v3h-3zM3033,2189h3v3h-3zM2900,2327h3v3h-3zM3045,2265h3v3h-3zM2824,2277h3v3h-3zM2880,2155h3v3h-3zM3074,2340h3v3h-3zM3024,2246h3v3h-3zM3204,2264h3v3h-3zM2976,2330h3v3h-3zM3113,2317h3v3h-3zM2942,2336h3v3h-3zM2934,2255h3v3h-3zM3187,2307h3v3h-3zM3046,2328h3v3h-3zM3159,2288h3v3h-3zM3051,2284h3v3h-3zM2894,2336h3v3h-3zM2995,2347h3v3h-3zM2919,2228h3v3h-3zM3063,2315h3v3h-3zM3204,2270h3v3h-3zM2962,2325h3v3h-3zM3323,2271h3v3h-3zM3016,2180h3v3h-3zM2808,2346h3v3h-3zM2850,2206h3v3h-3zM3053,2298h3v3h-3zM3216,2217h3v3h-3zM3334,2332h3v3h-3zM2861,2322h3v3h-3zM2888,2267h3v3h-3zM2966,2209h3v3h-3zM3168,2201h3v3h-3zM2911,2254h3v3h-3zM2949,2181h3v3h-3zM3280,2358h3v3h-3zM2841,2280h3v3h-3zM3086,2269h3v3h-3zM2842,2317h3v3h-3zM2833,2172h3v3h-3zM3185,2327h3v3h-3zM2891,2351h3v3h-3zM3118,2130h3v3h-3zM2901,2320h3v3h-3zM2819,2252h3v3h-3zM2872,2339h3v3h-3zM3013,2256h3v3h-3zM3041,2265h3v3h-3zM2807,2303h3v3h-3zM3042,2322h3v3h-3zM3113,2233h3v3h-3zM3093,2239h3v3h-3zM2835,2283h3v3h-3zM2864,2202h3v3h-3zM3111,2170h3v3h-3zM2931,2253h3v3h-3zM2961,2242h3v3h-3zM2815,2329h3v3h-3zM2987,2177h3v3h-3zM2871,2159h3v3h-3zM2814,2243h3v3h-3zM3136,2197h3v3h-3zM2893,2282h3v3h-3zM2920,2232h3v3h-3zM3243,2336h3v3h-3zM2923,2341h3v3h-3zM2987,2295h3v3h-3zM2841,2227h3v3h-3zM2958,2315h3v3h-3zM3073,2246h3v3h-3zM2912,2265h3v3h-3zM2916,2284h3v3h-3zM2824,2226h3v3h-3zM2871,2239h3v3h-3zM2840,2363h3v3h-3zM3154,2214h3v3h-3zM3210,2241h3v3h-3zM3211,2255h3v3h-3zM2872,2200h3v3h-3zM3249,2333h3v3h-3zM2983,2346h3v3h-3zM3322,2280h3v3h-3zM2869,2233h3v3h-3zM2987,2181h3v3h-3zM3247,2232h3v3h-3zM2896,2355h3v3h-3zM3107,2323h3v3h-3zM2850,2289h3v3h-3zM2891,2224h3v3h-3zM2810,2218h3v3h-3zM3127,2191h3v3h-3zM2912,2351h3v3h-3zM2977,2223h3v3h-3zM3075,2206h3v3h-3zM3080,2247h3v3h-3zM2991,2236h3v3h-3zM3058,2344h3v3h-3zM3144,2235h3v3h-3zM2976,2221h3v3h-3zM3026,2275h3v3h-3zM3062,2248h3v3h-3zM2917,2187h3v3h-3zM2810,2271h3v3h-3zM3148,2311h3v3h-3zM3015,2311h3v3h-3zM3012,2301h3v3h-3zM2864,2290h3v3h-3zM2924,2160h3v3h-3zM3312,2286h3v3h-3zM2891,2318h3v3h-3zM2905,2324h3v3h-3zM3071,2318h3v3h-3zM2857,2264h3v3h-3zM3181,2321h3v3h-3zM3291,2092h3v3h-3zM3276,2319h3v3h-3zM3292,2294h3v3h-3zM3211,2341h3v3h-3zM2899,2354h3v3h-3zM2996,2240h3v3h-3zM2980,2356h3v3h-3zM2836,2236h3v3h-3zM3249,2216h3v3h-3zM2916,2216h3v3h-3zM2998,2343h3v3h-3zM3092,2231h3v3h-3zM2841,2185h3v3h-3zM3171,2317h3v3h-3zM3049,2325h3v3h-3zM3117,2261h3v3h-3zM2887,2161h3v3h-3zM2864,2267h3v3h-3zM3053,2328h3v3h-3zM3202,2292h3v3h-3zM2834,2185h3v3h-3zM2844,2348h3v3h-3zM2936,2248h3v3h-3zM2991,2208h3v3h-3zM3121,2222h3v3h-3zM2857,2309h3v3h-3zM3050,2311h3v3h-3zM2991,2169h3v3h-3zM2817,2228h3v3h-3zM3159,2281h3v3h-3zM3177,2193h3v3h-3zM3363,2250h3v3h-3zM3113,2340h3v3h-3zM3036,2261h3v3h-3zM2963,2336h3v3h-3zM3095,2330h3v3h-3zM3141,2303h3v3h-3zM2962,2236h3v3h-3zM2814,2345h3v3h-3zM2973,2242h3v3h-3zM3125,2211h3v3h-3zM3297,2224h3v3h-3zM3095,2322h3v3h-3zM2911,2199h3v3h-3zM2847,2185h3v3h-3zM2844,2158h3v3h-3zM3226,2112h3v3h-3zM2864,2192h3v3h-3zM3182,2340h3v3h-3zM2871,2182h3v3h-3zM2841,2218h3v3h-3zM3025,2203h3v3h-3zM2885,2333h3v3h-3zM2924,2311h3v3h-3zM2958,2165h3v3h-3zM2913,2316h3v3h-3zM2913,2265h3v3h-3zM3344,2290h3v3h-3zM2845,2269h3v3h-3zM3064,2337h3v3h-3zM3190,2290h3v3h-3zM3176,2322h3v3h-3zM3188,2230h3v3h-3zM2897,2288h3v3h-3zM2881,2268h3v3h-3zM2915,2214h3v3h-3zM3123,2203h3v3h-3zM3159,2290h3v3h-3zM2900,2274h3v3h-3zM2814,2321h3v3h-3zM3226,2202h3v3h-3zM3324,2290h3v3h-3zM2888,2303h3v3h-3zM2997,2285h3v3h-3zM3043,2208h3v3h-3zM2819,2175h3v3h-3zM2917,2186h3v3h-3zM2832,2330h3v3h-3zM2856,2224h3v3h-3zM2932,2282h3v3h-3zM2896,2303h3v3h-3zM3293,2239h3v3h-3zM2940,2336h3v3h-3zM2882,2284h3v3h-3zM3224,2219h3v3h-3zM3216,2324h3v3h-3zM3136,2287h3v3h-3zM3306,2212h3v3h-3zM2836,2289h3v3h-3zM3052,2228h3v3h-3zM2851,2255h3v3h-3zM3081,2180h3v3h-3zM3106,2326h3v3h-3zM2918,2189h3v3h-3zM3102,2261h3v3h-3zM2915,2294h3v3h-3zM3022,2292h3v3h-3zM3089,2334h3v3h-3zM2865,2322h3v3h-3zM2838,2257h3v3h-3zM2837,2291h3v3h-3zM3202,2302h3v3h-3zM2978,2207h3v3h-3zM2977,2333h3v3h-3zM2912,2207h3v3h-3zM3207,2335h3v3h-3zM2988,2187h3v3h-3zM3185,2342h3v3h-3zM2964,2217h3v3h-3zM3351,2311h3v3h-3zM3218,2339h3v3h-3zM2931,2246h3v3h-3zM3000,2238h3v3h-3zM2969,2352h3v3h-3zM2953,2318h3v3h-3zM3056,2248h3v3h-3zM2879,2290h3v3h-3zM3253,2212h3v3h-3zM2825,2204h3v3h-3zM3057,2219h3v3h-3zM2921,2199h3v3h-3zM2885,2339h3v3h-3zM2985,2284h3v3h-3zM3353,2256h3v3h-3zM2839,2304h3v3h-3zM3007,2284h3v3h-3zM2906,2175h3v3h-3zM2885,2243h3v3h-3zM2857,2182h3v3h-3zM3116,2234h3v3h-3zM3348,2325h3v3h-3zM2852,2351h3v3h-3zM2833,2241h3v3h-3zM2888,2214h3v3h-3zM3188,2344h3v3h-3zM3250,2310h3v3h-3zM3147,2308h3v3h-3zM2943,2221h3v3h-3zM3118,2295h3v3h-3zM3165,2294h3v3h-3zM3040,2271h3v3h-3zM2930,2180h3v3h-3zM3140,2258h3v3h-3zM3261,2253h3v3h-3zM3136,2295h3v3h-3zM2879,2207h3v3h-3zM3240,2203h3v3h-3zM3365,2246h3v3h-3zM2807,2172h3v3h-3zM3009,2279h3v3h-3zM2809,2227h3v3h-3zM2988,2224h3v3h-3zM3302,2282h3v3h-3zM3106,2209h3v3h-3zM2908,2225h3v3h-3zM3082,2181h3v3h-3zM2811,2359h3v3h-3zM3210,2333h3v3h-3zM2934,2190h3v3h-3zM2856,2261h3v3h-3zM3158,2230h3v3h-3zM2850,2241h3v3h-3zM3039,2239h3v3h-3zM2923,2322h3v3h-3zM3224,2298h3v3h-3zM3274,2227h3v3h-3zM3263,2274h3v3h-3zM3059,2257h3v3h-3zM3355,2368h3v3h-3zM2936,2320h3v3h-3zM3238,2293h3v3h-3zM2968,2262h3v3h-3zM2851,2295h3v3h-3zM2855,2275h3v3h-3zM2908,2306h3v3h-3zM3278,2210h3v3h-3zM2932,2277h3v3h-3zM2868,2192h3v3h-3zM2956,2231h3v3h-3zM3003,2255h3v3h-3zM2984,2275h3v3h-3zM2975,2338h3v3h-3zM3329,2260h3v3h-3zM2857,2261h3v3h-3zM2853,2249h3v3h-3zM2928,2216h3v3h-3zM3349,2284h3v3h-3zM2840,2323h3v3h-3zM2805,2344h3v3h-3zM2854,2335h3v3h-3zM3004,2249h3v3h-3zM2967,2332h3v3h-3zM3024,2176h3v3h-3zM3265,2223h3v3h-3zM3082,2219h3v3h-3zM2913,2185h3v3h-3zM3071,2333h3v3h-3zM2969,2315h3v3h-3zM2975,2206h3v3h-3zM2857,2319h3v3h-3zM2878,2236h3v3h-3zM2821,2266h3v3h-3zM3047,2325h3v3h-3zM2958,2201h3v3h-3zM2921,2204h3v3h-3zM2976,2232h3v3h-3zM3175,2344h3v3h-3zM2836,2219h3v3h-3zM2888,2182h3v3h-3zM3274,2238h3v3h-3zM3146,2312h3v3h-3zM2851,2308h3v3h-3zM2896,2256h3v3h-3zM2886,2297h3v3h-3zM3325,2281h3v3h-3zM2993,2244h3v3h-3zM2866,2333h3v3h-3zM2812,2145h3v3h-3zM2965,2304h3v3h-3zM2892,2173h3v3h-3zM3014,2249h3v3h-3zM3278,2296h3v3h-3zM3150,2302h3v3h-3zM3323,2304h3v3h-3zM2832,2149h3v3h-3zM2828,2307h3v3h-3zM3093,2349h3v3h-3zM2885,2279h3v3h-3zM2813,2202h3v3h-3zM2895,2238h3v3h-3zM2972,2298h3v3h-3zM3117,2246h3v3h-3zM2967,2353h3v3h-3zM2879,2243h3v3h-3zM2925,2248h3v3h-3zM3019,2353h3v3h-3zM3112,2265h3v3h-3zM3144,2343h3v3h-3zM3009,2227h3v3h-3zM2999,2345h3v3h-3zM2965,2176h3v3h-3zM2845,2357h3v3h-3zM2829,2204h3v3h-3zM2934,2283h3v3h-3zM2975,2312h3v3h-3zM2985,2316h3v3h-3zM2829,2218h3v3h-3zM2872,2253h3v3h-3zM2857,2306h3v3h-3zM2824,2170h3v3h-3zM2825,2196h3v3h-3zM3366,2291h3v3h-3zM2966,2270h3v3h-3zM2959,2353h3v3h-3zM3041,2319h3v3h-3zM2988,2341h3v3h-3zM2893,2314h3v3h-3zM3346,2244h3v3h-3zM2808,2166h3v3h-3zM2919,2210h3v3h-3zM2862,2356h3v3h-3zM2947,2273h3v3h-3zM3151,2344h3v3h-3zM2960,2323h3v3h-3zM2905,2326h3v3h-3zM3088,2194h3v3h-3zM3018,2249h3v3h-3zM2981,2210h3v3h-3zM2958,2356h3v3h-3zM2824,2297h3v3h-3zM3057,2210h3v3h-3zM2872,2309h3v3h-3zM3223,2213h3v3h-3zM3100,2182h3v3h-3zM3055,2335h3v3h-3zM2975,2213h3v3h-3zM2984,2334h3v3h-3zM3129,2281h3v3h-3zM2937,2323h3v3h-3zM3151,2306h3v3h-3zM2822,2187h3v3h-3zM3078,2296h3v3h-3zM3081,2275h3v3h-3zM3045,2215h3v3h-3zM3254,2232h3v3h-3zM2910,2235h3v3h-3zM3055,2340h3v3h-3zM2966,2191h3v3h-3zM2805,2249h3v3h-3zM3101,2266h3v3h-3zM3109,2348h3v3h-3zM2955,2202h3v3h-3zM2853,2263h3v3h-3zM3164,2262h3v3h-3zM2991,2171h3v3h-3zM2876,2180h3v3h-3zM2995,2307h3v3h-3zM2919,2235h3v3h-3zM3263,2254h3v3h-3zM3071,2304h3v3h-3zM2985,2315h3v3h-3zM3110,2238h3v3h-3zM2983,2280h3v3h-3zM2987,2199h3v3h-3zM3065,2243h3v3h-3zM3081,2276h3v3h-3zM3044,2184h3v3h-3zM3111,2347h3v3h-3zM2832,2331h3v3h-3zM3356,2215h3v3h-3zM2905,2261h3v3h-3zM3011,2299h3v3h-3zM2983,2232h3v3h-3zM2973,2206h3v3h-3zM3072,2206h3v3h-3zM2875,2176h3v3h-3zM2856,2343h3v3h-3zM3261,2091h3v3h-3zM2924,2219h3v3h-3zM3131,2196h3v3h-3zM2938,2268h3v3h-3zM2824,2336h3v3h-3zM3103,2236h3v3h-3zM3214,2342h3v3h-3zM3263,2231h3v3h-3zM2814,2359h3v3h-3zM3246,2282h3v3h-3zM2962,2311h3v3h-3zM2937,2195h3v3h-3zM2852,2264h3v3h-3zM3194,2255h3v3h-3zM3113,2346h3v3h-3zM3004,2278h3v3h-3zM2980,2240h3v3h-3zM2963,2338h3v3h-3zM2859,2224h3v3h-3zM3055,2195h3v3h-3zM2933,2171h3v3h-3zM3001,2277h3v3h-3zM2872,2215h3v3h-3zM2876,2278h3v3h-3zM3020,2195h3v3h-3zM3231,2295h3v3h-3zM2870,2183h3v3h-3zM2992,2314h3v3h-3zM2918,2187h3v3h-3zM2891,2361h3v3h-3zM3100,2211h3v3h-3zM3131,2214h3v3h-3zM3016,2330h3v3h-3zM3029,2324h3v3h-3zM2825,2160h3v3h-3zM2967,2228h3v3h-3zM3140,2239h3v3h-3zM2942,2223h3v3h-3zM2958,2244h3v3h-3zM3350,2243h3v3h-3zM2963,2293h3v3h-3zM3072,2312h3v3h-3zM3272,2322h3v3h-3zM3089,2240h3v3h-3zM3292,2101h3v3h-3zM3054,2346h3v3h-3zM2986,2315h3v3h-3zM2971,2234h3v3h-3zM3038,2204h3v3h-3zM2979,2330h3v3h-3zM3175,2313h3v3h-3zM3250,2210h3v3h-3zM3114,2191h3v3h-3zM2873,2179h3v3h-3zM2877,2184h3v3h-3zM2873,2354h3v3h-3zM2908,2306h3v3h-3zM2866,2272h3v3h-3zM3067,2310h3v3h-3zM2856,2339h3v3h-3zM2959,2339h3v3h-3zM3082,2212h3v3h-3zM2818,2155h3v3h-3zM2952,2177h3v3h-3zM2871,2310h3v3h-3zM3340,2262h3v3h-3zM3107,2285h3v3h-3zM2864,2279h3v3h-3zM2833,2249h3v3h-3zM2994,2227h3v3h-3zM2881,2321h3v3h-3zM2824,2277h3v3h-3zM3382,2288h3v3h-3zM3160,2242h3v3h-3zM2998,2214h3v3h-3zM2903,2171h3v3h-3zM3235,2250h3v3h-3zM2859,2163h3v3h-3zM3215,2271h3v3h-3zM2957,2169h3v3h-3zM2916,2258h3v3h-3zM2981,2280h3v3h-3zM3347,2228h3v3h-3zM2926,2198h3v3h-3zM3048,2232h3v3h-3zM3231,2310h3v3h-3zM3117,2341h3v3h-3zM3374,2220h3v3h-3zM2840,2242h3v3h-3zM2806,2288h3v3h-3zM3048,2294h3v3h-3zM3012,2329h3v3h-3zM3178,2338h3v3h-3zM3258,2346h3v3h-3zM2828,2236h3v3h-3zM3017,2349h3v3h-3zM3287,2226h3v3h-3zM2884,2283h3v3h-3zM2904,2243h3v3h-3zM3060,2223h3v3h-3zM3041,2210h3v3h-3zM2893,2239h3v3h-3zM3229,2231h3v3h-3zM2930,2311h3v3h-3zM3037,2291h3v3h-3zM2827,2285h3v3h-3zM2923,2338h3v3h-3zM2892,2171h3v3h-3zM2973,2353h3v3h-3zM2870,2187h3v3h-3zM2953,2223h3v3h-3zM2895,2274h3v3h-3zM2997,2283h3v3h-3zM3056,2255h3v3h-3zM2837,2232h3v3h-3zM2926,2183h3v3h-3zM3038,2258h3v3h-3zM2919,2274h3v3h-3zM2809,2270h3v3h-3zM3200,2271h3v3h-3zM2885,2269h3v3h-3zM2913,2174h3v3h-3zM3093,2301h3v3h-3zM2899,2250h3v3h-3zM2906,2232h3v3h-3zM2839,2150h3v3h-3zM2900,2338h3v3h-3zM3010,2233h3v3h-3zM3258,2290h3v3h-3zM2807,2242h3v3h-3zM2901,2210h3v3h-3zM2819,2289h3v3h-3zM3237,2280h3v3h-3zM3157,2278h3v3h-3zM2815,2289h3v3h-3zM2857,2239h3v3h-3zM3071,2237h3v3h-3zM2879,2286h3v3h-3zM2816,2241h3v3h-3zM2839,2292h3v3h-3zM3339,2315h3v3h-3zM2844,2161h3v3h-3zM3244,2205h3v3h-3zM2987,2230h3v3h-3zM2954,2191h3v3h-3zM3335,2223h3v3h-3zM2906,2297h3v3h-3zM3281,2250h3v3h-3zM2916,2233h3v3h-3zM3141,2294h3v3h-3zM3307,2215h3v3h-3zM2975,2279h3v3h-3zM2895,2246h3v3h-3zM3028,2270h3v3h-3zM3067,2186h3v3h-3zM3108,2348h3v3h-3zM2842,2226h3v3h-3zM3008,2205h3v3h-3zM3228,2261h3v3h-3zM2997,2268h3v3h-3zM3102,2318h3v3h-3zM3152,2313h3v3h-3zM2998,2246h3v3h-3zM3105,2348h3v3h-3zM2998,2228h3v3h-3zM2956,2327h3v3h-3zM2837,2295h3v3h-3zM2990,2179h3v3h-3zM2842,2243h3v3h-3zM2934,2225h3v3h-3zM2983,2356h3v3h-3zM3070,2287h3v3h-3zM2919,2313h3v3h-3zM3029,2342h3v3h-3zM3314,2218h3v3h-3zM3093,2305h3v3h-3zM2900,2213h3v3h-3zM3228,2224h3v3h-3zM3352,2236h3v3h-3zM3119,2227h3v3h-3zM2827,2232h3v3h-3zM3012,2189h3v3h-3zM2809,2267h3v3h-3zM3091,2199h3v3h-3zM2953,2311h3v3h-3zM3279,2286h3v3h-3zM2858,2324h3v3h-3zM3006,2244h3v3h-3zM2822,2344h3v3h-3zM2994,2190h3v3h-3zM3068,2324h3v3h-3zM3045,2211h3v3h-3zM2862,2360h3v3h-3zM2903,2320h3v3h-3zM2856,2298h3v3h-3zM2844,2150h3v3h-3zM3332,2310h3v3h-3zM3207,2243h3v3h-3zM3321,2324h3v3h-3zM2810,2274h3v3h-3zM2979,2342h3v3h-3zM3009,2221h3v3h-3zM3017,2308h3v3h-3zM2943,2187h3v3h-3zM2959,2225h3v3h-3zM3036,2286h3v3h-3zM2966,2182h3v3h-3zM3276,2316h3v3h-3zM3047,2339h3v3h-3zM3005,2233h3v3h-3zM3109,2198h3v3h-3zM2829,2218h3v3h-3zM3305,2309h3v3h-3zM2862,2265h3v3h-3zM3155,2328h3v3h-3zM3043,2269h3v3h-3zM2851,2233h3v3h-3zM3198,2245h3v3h-3zM2985,2252h3v3h-3zM2911,2142h3v3h-3zM2935,2297h3v3h-3zM2970,2166h3v3h-3zM3328,2290h3v3h-3zM3262,2233h3v3h-3zM3123,2247h3v3h-3zM2959,2177h3v3h-3zM3280,2264h3v3h-3zM3130,2209h3v3h-3zM2849,2326h3v3h-3zM3153,2306h3v3h-3zM3231,2181h3v3h-3zM2859,2251h3v3h-3zM3166,2245h3v3h-3zM3084,2218h3v3h-3zM2989,2304h3v3h-3zM3010,2297h3v3h-3zM2849,2291h3v3h-3zM3182,2288h3v3h-3zM2969,2219h3v3h-3zM3107,2303h3v3h-3zM3156,2345h3v3h-3zM2856,2176h3v3h-3zM3074,2281h3v3h-3zM3253,2272h3v3h-3zM2910,2172h3v3h-3zM2989,2313h3v3h-3zM3034,2271h3v3h-3zM2889,2324h3v3h-3zM2837,2320h3v3h-3zM2944,2330h3v3h-3zM2969,2298h3v3h-3zM2871,2262h3v3h-3zM2845,2364h3v3h-3zM2826,2318h3v3h-3zM3021,2177h3v3h-3zM3102,2254h3v3h-3zM3325,2276h3v3h-3zM3126,2161h3v3h-3zM2848,2295h3v3h-3zM2969,2305h3v3h-3zM3065,2232h3v3h-3zM3370,2287h3v3h-3zM2976,2340h3v3h-3zM2916,2324h3v3h-3zM2817,2207h3v3h-3zM3066,2345h3v3h-3zM3201,2226h3v3h-3zM2830,2192h3v3h-3zM3274,2277h3v3h-3zM3111,2237h3v3h-3zM2868,2325h3v3h-3zM2918,2347h3v3h-3zM3088,2333h3v3h-3zM2835,2222h3v3h-3zM2940,2297h3v3h-3zM3292,2209h3v3h-3zM3012,2303h3v3h-3zM2887,2326h3v3h-3zM2896,2312h3v3h-3zM2940,2245h3v3h-3zM2997,2353h3v3h-3zM3179,2257h3v3h-3zM2927,2169h3v3h-3zM2844,2231h3v3h-3zM3271,2236h3v3h-3zM3017,2327h3v3h-3zM2864,2289h3v3h-3zM2912,2220h3v3h-3zM2945,2185h3v3h-3zM3040,2217h3v3h-3zM2857,2165h3v3h-3zM2865,2166h3v3h-3zM2896,2303h3v3h-3zM2826,2168h3v3h-3zM2929,2221h3v3h-3zM2868,2233h3v3h-3zM3115,2293h3v3h-3zM3124,2336h3v3h-3zM3058,2186h3v3h-3zM3288,2272h3v3h-3zM3098,2231h3v3h-3zM3161,2220h3v3h-3zM3009,2195h3v3h-3zM3353,2230h3v3h-3zM2841,2214h3v3h-3zM2831,2219h3v3h-3zM3139,2346h3v3h-3zM2937,2203h3v3h-3zM2980,2270h3v3h-3zM3012,2279h3v3h-3zM2805,2228h3v3h-3zM3092,2324h3v3h-3zM3029,2253h3v3h-3zM2904,2247h3v3h-3zM3051,2298h3v3h-3zM3134,2301h3v3h-3zM2853,2294h3v3h-3zM2874,2287h3v3h-3zM3129,2344h3v3h-3zM3072,2244h3v3h-3zM3134,2222h3v3h-3zM2899,2231h3v3h-3zM3159,2278h3v3h-3zM3041,2313h3v3h-3zM3196,2294h3v3h-3zM2983,2262h3v3h-3zM2939,2243h3v3h-3zM2996,2326h3v3h-3zM2815,2335h3v3h-3zM3112,2206h3v3h-3zM2938,2295h3v3h-3zM2984,2268h3v3h-3zM3130,2273h3v3h-3zM3168,2342h3v3h-3zM2959,2209h3v3h-3zM3228,2237h3v3h-3zM2821,2289h3v3h-3zM2923,2244h3v3h-3zM3336,2219h3v3h-3zM2852,2294h3v3h-3zM2899,2234h3v3h-3zM3188,2296h3v3h-3zM3073,2324h3v3h-3zM3110,2296h3v3h-3zM2882,2214h3v3h-3zM2882,2234h3v3h-3zM2878,2168h3v3h-3zM2975,2305h3v3h-3zM2881,2293h3v3h-3zM2910,2271h3v3h-3zM3157,2231h3v3h-3zM2986,2180h3v3h-3zM2925,2344h3v3h-3zM2907,2164h3v3h-3zM3039,2209h3v3h-3zM2936,2087h3v3h-3zM2896,2351h3v3h-3zM3021,2214h3v3h-3zM3074,2303h3v3h-3zM2840,2172h3v3h-3zM2868,2318h3v3h-3zM3209,2251h3v3h-3zM2915,2353h3v3h-3zM2967,2216h3v3h-3zM3129,2231h3v3h-3zM3071,2272h3v3h-3zM2833,2289h3v3h-3zM3007,2335h3v3h-3zM3093,2264h3v3h-3zM2972,2204h3v3h-3zM2999,2339h3v3h-3zM3077,2199h3v3h-3zM2870,2362h3v3h-3zM2849,2264h3v3h-3zM2920,2279h3v3h-3zM2997,2338h3v3h-3zM3153,2258h3v3h-3zM3063,2345h3v3h-3zM2892,2161h3v3h-3zM3122,2342h3v3h-3zM3067,2263h3v3h-3zM3009,2240h3v3h-3zM2893,2328h3v3h-3zM3136,2234h3v3h-3zM2980,2254h3v3h-3zM3001,2245h3v3h-3zM3093,2197h3v3h-3zM2938,2228h3v3h-3zM2953,2230h3v3h-3zM2984,2256h3v3h-3zM2891,2281h3v3h-3zM2904,2215h3v3h-3zM2868,2236h3v3h-3zM3323,2335h3v3h-3zM2884,2176h3v3h-3zM3077,2293h3v3h-3zM3179,2217h3v3h-3zM2842,2232h3v3h-3zM3198,2314h3v3h-3zM2995,2215h3v3h-3zM2873,2353h3v3h-3zM2871,2358h3v3h-3zM3138,2194h3v3h-3zM2906,2356h3v3h-3zM3059,2288h3v3h-3zM2835,2198h3v3h-3zM2846,2221h3v3h-3zM3333,2311h3v3h-3zM3024,2352h3v3h-3zM3031,2251h3v3h-3zM2805,2283h3v3h-3zM2868,2165h3v3h-3zM3310,2264h3v3h-3zM2824,2147h3v3h-3zM2882,2164h3v3h-3zM2988,2293h3v3h-3zM3349,2300h3v3h-3zM2920,2197h3v3h-3zM2905,2166h3v3h-3zM2859,2291h3v3h-3zM2928,2285h3v3h-3zM2952,2349h3v3h-3zM2950,2199h3v3h-3zM3089,2283h3v3h-3zM2889,2188h3v3h-3zM3113,2208h3v3h-3zM2934,2310h3v3h-3zM2914,2351h3v3h-3zM3007,2346h3v3h-3zM3364,2222h3v3h-3zM3269,2305h3v3h-3zM3146,2218h3v3h-3zM2984,2290h3v3h-3zM2823,2297h3v3h-3zM2977,2169h3v3h-3zM2833,2277h3v3h-3zM3300,2271h3v3h-3zM3000,2230h3v3h-3zM3297,2263h3v3h-3zM2826,2171h3v3h-3zM3004,2243h3v3h-3zM2992,2182h3v3h-3zM3129,2294h3v3h-3zM3343,2236h3v3h-3zM3076,2344h3v3h-3zM3348,2187h3v3h-3zM3291,2320h3v3h-3zM2965,2222h3v3h-3zM3376,2258h3v3h-3zM2896,2343h3v3h-3zM3131,2187h3v3h-3zM3319,2235h3v3h-3zM2844,2157h3v3h-3zM3061,2278h3v3h-3zM3306,2293h3v3h-3zM3146,2202h3v3h-3zM3128,2291h3v3h-3zM3342,2302h3v3h-3zM3010,2345h3v3h-3zM2989,2265h3v3h-3zM3019,2248h3v3h-3z" fill="#a8d4e4"/>
</g>
<line x1="2804.0" y1="2097" x2="2804.0" y2="2377.5" stroke="#b0b0b0" stroke-width="1.6" opacity=".8"/>
<line x1="2868.2" y1="2097" x2="2868.2" y2="2377.5" stroke="#b0b0b0" stroke-width="1.6" opacity=".8"/>
<line x1="2932.4" y1="2097" x2="2932.4" y2="2377.5" stroke="#b0b0b0" stroke-width="1.6" opacity=".8"/>
<line x1="2996.7" y1="2097" x2="2996.7" y2="2377.5" stroke="#b0b0b0" stroke-width="1.6" opacity=".8"/>
<line x1="3060.9" y1="2097" x2="3060.9" y2="2377.5" stroke="#b0b0b0" stroke-width="1.6" opacity=".8"/>
<line x1="3125.1" y1="2097" x2="3125.1" y2="2377.5" stroke="#b0b0b0" stroke-width="1.6" opacity=".8"/>
<line x1="3189.3" y1="2097" x2="3189.3" y2="2377.5" stroke="#b0b0b0" stroke-width="1.6" opacity=".8"/>
<line x1="3253.6" y1="2097" x2="3253.6" y2="2377.5" stroke="#b0b0b0" stroke-width="1.6" opacity=".8"/>
<line x1="3317.8" y1="2097" x2="3317.8" y2="2377.5" stroke="#b0b0b0" stroke-width="1.6" opacity=".8"/>
<line x1="3382.0" y1="2097" x2="3382.0" y2="2377.5" stroke="#b0b0b0" stroke-width="1.6" opacity=".8"/>
<line x1="2804" y1="2326.6" x2="3382" y2="2326.6" stroke="#b0b0b0" stroke-width="1.6" opacity=".8"/>
<line x1="2804" y1="2275.7" x2="3382" y2="2275.7" stroke="#b0b0b0" stroke-width="1.6" opacity=".8"/>
<line x1="2804" y1="2224.8" x2="3382" y2="2224.8" stroke="#b0b0b0" stroke-width="1.6" opacity=".8"/>
<line x1="2804" y1="2173.9" x2="3382" y2="2173.9" stroke="#b0b0b0" stroke-width="1.6" opacity=".8"/>
<line x1="2804" y1="2123.0" x2="3382" y2="2123.0" stroke="#b0b0b0" stroke-width="1.6" opacity=".8"/>
<line x1="2932.4" y1="2097" x2="2932.4" y2="2377.5" stroke="#333" stroke-width="2.8" stroke-dasharray="12 6"/>
<line x1="3060.9" y1="2097" x2="3060.9" y2="2377.5" stroke="#333" stroke-width="2.8" stroke-dasharray="12 6"/>
<polyline points="2804.0,2217.2 2823.3,2211.1 2842.5,2208.5 2863.1,2204.4 2883.6,2201.4 2904.2,2201.4 2923.5,2204.4 2944.0,2208.0 2963.3,2214.1 2983.8,2217.2 3004.4,2224.8 3023.6,2232.9 3044.2,2237.0 3064.7,2243.6 3084.0,2247.2 3104.6,2251.3 3123.8,2253.3 3144.4,2255.8 3163.6,2259.9 3184.2,2259.9 3204.7,2261.4 3224.0,2264.5 3244.6,2268.6 3263.8,2266.0 3284.4,2271.1 3304.9,2272.1 3324.2,2270.1 3343.5,2270.1 3364.0,2272.6 3382.0,2321.5" fill="none" stroke="#1e1ee6" stroke-width="2.7"/>
<g fill="#1e1ee6"><circle cx="2804.0" cy="2217.2" r="3.4"/><circle cx="2823.3" cy="2211.1" r="3.4"/><circle cx="2842.5" cy="2208.5" r="3.4"/><circle cx="2863.1" cy="2204.4" r="3.4"/><circle cx="2883.6" cy="2201.4" r="3.4"/><circle cx="2904.2" cy="2201.4" r="3.4"/><circle cx="2923.5" cy="2204.4" r="3.4"/><circle cx="2944.0" cy="2208.0" r="3.4"/><circle cx="2963.3" cy="2214.1" r="3.4"/><circle cx="2983.8" cy="2217.2" r="3.4"/><circle cx="3004.4" cy="2224.8" r="3.4"/><circle cx="3023.6" cy="2232.9" r="3.4"/><circle cx="3044.2" cy="2237.0" r="3.4"/><circle cx="3064.7" cy="2243.6" r="3.4"/><circle cx="3084.0" cy="2247.2" r="3.4"/><circle cx="3104.6" cy="2251.3" r="3.4"/><circle cx="3123.8" cy="2253.3" r="3.4"/><circle cx="3144.4" cy="2255.8" r="3.4"/><circle cx="3163.6" cy="2259.9" r="3.4"/><circle cx="3184.2" cy="2259.9" r="3.4"/><circle cx="3204.7" cy="2261.4" r="3.4"/><circle cx="3224.0" cy="2264.5" r="3.4"/><circle cx="3244.6" cy="2268.6" r="3.4"/><circle cx="3263.8" cy="2266.0" r="3.4"/><circle cx="3284.4" cy="2271.1" r="3.4"/><circle cx="3304.9" cy="2272.1" r="3.4"/><circle cx="3324.2" cy="2270.1" r="3.4"/><circle cx="3343.5" cy="2270.1" r="3.4"/><circle cx="3364.0" cy="2272.6" r="3.4"/><circle cx="3382.0" cy="2321.5" r="3.4"/></g>
<rect x="2804" y="2097" width="578" height="280.5" fill="none" stroke="#222" stroke-width="1.6"/>
<line x1="2804.0" y1="2377.5" x2="2804.0" y2="2383.5" stroke="#222" stroke-width="1.4"/>
<text x="2804.0" y="2403.5" font-family="Liberation Sans" font-size="21" fill="#333" text-anchor="middle">0</text>
<line x1="2868.2" y1="2377.5" x2="2868.2" y2="2383.5" stroke="#222" stroke-width="1.4"/>
<text x="2868.222222222222" y="2403.5" font-family="Liberation Sans" font-size="21" fill="#333" text-anchor="middle">5</text>
<line x1="2932.4" y1="2377.5" x2="2932.4" y2="2383.5" stroke="#222" stroke-width="1.4"/>
<text x="2932.4444444444443" y="2403.5" font-family="Liberation Sans" font-size="21" fill="#333" text-anchor="middle">10</text>
<line x1="2996.7" y1="2377.5" x2="2996.7" y2="2383.5" stroke="#222" stroke-width="1.4"/>
<text x="2996.6666666666665" y="2403.5" font-family="Liberation Sans" font-size="21" fill="#333" text-anchor="middle">15</text>
<line x1="3060.9" y1="2377.5" x2="3060.9" y2="2383.5" stroke="#222" stroke-width="1.4"/>
<text x="3060.8888888888887" y="2403.5" font-family="Liberation Sans" font-size="21" fill="#333" text-anchor="middle">20</text>
<line x1="3125.1" y1="2377.5" x2="3125.1" y2="2383.5" stroke="#222" stroke-width="1.4"/>
<text x="3125.1111111111113" y="2403.5" font-family="Liberation Sans" font-size="21" fill="#333" text-anchor="middle">25</text>
<line x1="3189.3" y1="2377.5" x2="3189.3" y2="2383.5" stroke="#222" stroke-width="1.4"/>
<text x="3189.3333333333335" y="2403.5" font-family="Liberation Sans" font-size="21" fill="#333" text-anchor="middle">30</text>
<line x1="3253.6" y1="2377.5" x2="3253.6" y2="2383.5" stroke="#222" stroke-width="1.4"/>
<text x="3253.5555555555557" y="2403.5" font-family="Liberation Sans" font-size="21" fill="#333" text-anchor="middle">35</text>
<line x1="3317.8" y1="2377.5" x2="3317.8" y2="2383.5" stroke="#222" stroke-width="1.4"/>
<text x="3317.777777777778" y="2403.5" font-family="Liberation Sans" font-size="21" fill="#333" text-anchor="middle">40</text>
<line x1="3382.0" y1="2377.5" x2="3382.0" y2="2383.5" stroke="#222" stroke-width="1.4"/>
<text x="3382.0" y="2403.5" font-family="Liberation Sans" font-size="21" fill="#333" text-anchor="middle">45</text>
<line x1="2798" y1="2377.5" x2="2804" y2="2377.5" stroke="#222" stroke-width="1.4"/>
<text x="2795" y="2385.0" font-family="Liberation Sans" font-size="20" fill="#333" text-anchor="end">400</text>
<line x1="2798" y1="2326.6" x2="2804" y2="2326.6" stroke="#222" stroke-width="1.4"/>
<text x="2795" y="2334.1" font-family="Liberation Sans" font-size="20" fill="#333" text-anchor="end">500</text>
<line x1="2798" y1="2275.7" x2="2804" y2="2275.7" stroke="#222" stroke-width="1.4"/>
<text x="2795" y="2283.2" font-family="Liberation Sans" font-size="20" fill="#333" text-anchor="end">600</text>
<line x1="2798" y1="2224.8" x2="2804" y2="2224.8" stroke="#222" stroke-width="1.4"/>
<text x="2795" y="2232.3" font-family="Liberation Sans" font-size="20" fill="#333" text-anchor="end">700</text>
<line x1="2798" y1="2173.9" x2="2804" y2="2173.9" stroke="#222" stroke-width="1.4"/>
<text x="2795" y="2181.4" font-family="Liberation Sans" font-size="20" fill="#333" text-anchor="end">800</text>
<line x1="2798" y1="2123.0" x2="2804" y2="2123.0" stroke="#222" stroke-width="1.4"/>
<text x="2795" y="2130.5" font-family="Liberation Sans" font-size="20" fill="#333" text-anchor="end">900</text>
<text x="3093.0" y="2085" font-family="Liberation Sans" font-size="23" fill="#333" text-anchor="middle" textLength="91.2" lengthAdjust="spacingAndGlyphs">Rotation</text>
<text x="3093.0" y="2432.6" font-family="Liberation Sans" font-size="24" fill="#333" text-anchor="middle" textLength="77.4" lengthAdjust="spacingAndGlyphs">Degree</text>
<text x="0" y="0" font-family="Liberation Sans" font-size="24" fill="#222" text-anchor="middle" transform="translate(2745,2237.25) rotate(-90)">Energy</text>
<text x="2813" y="2364" font-family="Liberation Serif" font-size="25" fill="#111" font-weight="bold">Low error</text>
<text x="3165" y="2364" font-family="Liberation Serif" font-size="25" fill="#111" font-weight="bold">High error</text>
<rect x="3470.3" y="2097" width="577.0" height="280.5" fill="#fff"/>
<clipPath id="cp3470"><rect x="3470.3" y="2097" width="577.0" height="280.5"/></clipPath>
<g clip-path="url(#cp3470)">
<path d="M3479.9,2326.6 L3476.7,2224.8 L3486.3,2135.7 L3528.0,2092.5 L3765.2,2092.5 L3810.1,2123.0 L3848.6,2199.3 L3855.0,2275.7 L3835.7,2339.3 L3790.9,2380.0 L3566.5,2380.0 L3515.2,2359.7 Z" fill="#add8e6" fill-opacity=".45"/>
<path d="M3492.7,2301.2 L3489.5,2250.2 L3492.7,2173.9 L3508.8,2138.3 L3534.4,2115.4 L3566.5,2092.5 L3726.7,2092.5 L3736.4,2148.4 L3742.8,2275.7 L3736.4,2380.0 L3592.1,2380.0 L3553.6,2359.7 L3528.0,2341.9 L3505.6,2321.5 Z" fill="#add8e6"/>
<path d="M3538,2131h3v3h-3zM3709,2146h3v3h-3zM3586,2239h3v3h-3zM3810,2347h3v3h-3zM3525,2345h3v3h-3zM3925,2207h3v3h-3zM3549,2173h3v3h-3zM3629,2332h3v3h-3zM3822,2283h3v3h-3zM3991,2337h3v3h-3zM3640,2348h3v3h-3zM3776,2249h3v3h-3zM4012,2262h3v3h-3zM3808,2268h3v3h-3zM4003,2324h3v3h-3zM3886,2283h3v3h-3zM3884,2157h3v3h-3zM3492,2274h3v3h-3zM3646,2152h3v3h-3zM3596,2218h3v3h-3zM3572,2208h3v3h-3zM3535,2230h3v3h-3zM3863,2230h3v3h-3zM3924,2302h3v3h-3zM3541,2301h3v3h-3zM3808,2252h3v3h-3zM3746,2278h3v3h-3zM3597,2088h3v3h-3zM3865,2150h3v3h-3zM3865,2309h3v3h-3zM3709,2143h3v3h-3zM3878,2147h3v3h-3zM3595,2274h3v3h-3zM3780,2143h3v3h-3zM3480,2255h3v3h-3zM3753,2191h3v3h-3zM3492,2255h3v3h-3zM3892,2265h3v3h-3zM3796,2215h3v3h-3zM3484,2285h3v3h-3zM3512,2225h3v3h-3zM3607,2223h3v3h-3zM3569,2217h3v3h-3zM3554,2190h3v3h-3zM3541,2327h3v3h-3zM3969,2337h3v3h-3zM4003,2208h3v3h-3zM3925,2180h3v3h-3zM3736,2329h3v3h-3zM3852,2161h3v3h-3zM3549,2259h3v3h-3zM3865,2342h3v3h-3zM3701,2284h3v3h-3zM3526,2265h3v3h-3zM3475,2251h3v3h-3zM3758,2166h3v3h-3zM3742,2325h3v3h-3zM3587,2325h3v3h-3zM3492,2228h3v3h-3zM3515,2226h3v3h-3zM3685,2236h3v3h-3zM3877,2182h3v3h-3zM4004,2217h3v3h-3zM3719,2342h3v3h-3zM3559,2291h3v3h-3zM3714,2267h3v3h-3zM3581,2139h3v3h-3zM3706,2126h3v3h-3zM3493,2196h3v3h-3zM3846,2264h3v3h-3zM3545,2261h3v3h-3zM3977,2245h3v3h-3zM3494,2212h3v3h-3zM3862,2287h3v3h-3zM3834,2238h3v3h-3zM3749,2290h3v3h-3zM3832,2216h3v3h-3zM3875,2237h3v3h-3zM3488,2153h3v3h-3zM3795,2256h3v3h-3zM3991,2280h3v3h-3zM3994,2218h3v3h-3zM3573,2362h3v3h-3zM3604,2276h3v3h-3zM3932,2257h3v3h-3zM3814,2235h3v3h-3zM3741,2292h3v3h-3zM3764,2288h3v3h-3zM4003,2306h3v3h-3zM3865,2206h3v3h-3zM3555,2282h3v3h-3zM3632,2154h3v3h-3zM3664,2145h3v3h-3zM3472,2351h3v3h-3zM3886,2204h3v3h-3zM3470,2265h3v3h-3zM3774,2317h3v3h-3zM3681,2148h3v3h-3zM3803,2318h3v3h-3zM3586,2356h3v3h-3zM3970,2241h3v3h-3zM3795,2199h3v3h-3zM3754,2157h3v3h-3zM3589,2287h3v3h-3zM3668,2321h3v3h-3zM3745,2357h3v3h-3zM3552,2238h3v3h-3zM3611,2097h3v3h-3zM3553,2288h3v3h-3zM3753,2311h3v3h-3zM3908,2285h3v3h-3zM3784,2219h3v3h-3zM3519,2215h3v3h-3zM4006,2324h3v3h-3zM3767,2233h3v3h-3zM3510,2146h3v3h-3zM3797,2172h3v3h-3zM3624,2368h3v3h-3zM3892,2153h3v3h-3zM3608,2165h3v3h-3zM3752,2162h3v3h-3zM3864,2249h3v3h-3zM3476,2162h3v3h-3zM3492,2197h3v3h-3zM3519,2208h3v3h-3zM3758,2129h3v3h-3zM3974,2347h3v3h-3zM3899,2228h3v3h-3zM3549,2291h3v3h-3zM3768,2297h3v3h-3zM3773,2253h3v3h-3zM3660,2324h3v3h-3zM3534,2207h3v3h-3zM3657,2285h3v3h-3zM3603,2130h3v3h-3zM3638,2250h3v3h-3zM3604,2275h3v3h-3zM3831,2245h3v3h-3zM3692,2248h3v3h-3zM3660,2200h3v3h-3zM3844,2185h3v3h-3zM3472,2290h3v3h-3zM3653,2282h3v3h-3zM3616,2151h3v3h-3zM4016,2223h3v3h-3zM3653,2324h3v3h-3zM3491,2343h3v3h-3zM3912,2193h3v3h-3zM3796,2175h3v3h-3zM3594,2179h3v3h-3zM3654,2154h3v3h-3zM3945,2175h3v3h-3zM3923,2283h3v3h-3zM3699,2334h3v3h-3zM3521,2284h3v3h-3zM3693,2174h3v3h-3zM3906,2183h3v3h-3zM3516,2338h3v3h-3zM3738,2332h3v3h-3zM3686,2365h3v3h-3zM3940,2202h3v3h-3zM3636,2257h3v3h-3zM3913,2206h3v3h-3zM3679,2352h3v3h-3zM3634,2228h3v3h-3zM3808,2202h3v3h-3zM3618,2129h3v3h-3zM3498,2284h3v3h-3zM3970,2314h3v3h-3zM3495,2340h3v3h-3zM3688,2203h3v3h-3zM3896,2227h3v3h-3zM3603,2254h3v3h-3zM3564,2113h3v3h-3zM3521,2337h3v3h-3zM3617,2305h3v3h-3zM3913,2222h3v3h-3zM3842,2330h3v3h-3zM3626,2264h3v3h-3zM3673,2184h3v3h-3zM3519,2198h3v3h-3zM3966,2159h3v3h-3zM3603,2197h3v3h-3zM3760,2191h3v3h-3zM3921,2195h3v3h-3zM3591,2187h3v3h-3zM3491,2338h3v3h-3zM3786,2193h3v3h-3zM3863,2250h3v3h-3zM3625,2159h3v3h-3zM4007,2213h3v3h-3zM3655,2164h3v3h-3zM3901,2135h3v3h-3zM3597,2323h3v3h-3zM3697,2230h3v3h-3zM3638,2110h3v3h-3zM3585,2317h3v3h-3zM3749,2346h3v3h-3zM3545,2234h3v3h-3zM3943,2260h3v3h-3zM3480,2252h3v3h-3zM3705,2163h3v3h-3zM3776,2346h3v3h-3zM3711,2177h3v3h-3zM3610,2316h3v3h-3zM3805,2201h3v3h-3zM3631,2308h3v3h-3zM3814,2290h3v3h-3zM3474,2220h3v3h-3zM3504,2138h3v3h-3zM3811,2292h3v3h-3zM3475,2324h3v3h-3zM3933,2154h3v3h-3zM3531,2318h3v3h-3zM3871,2276h3v3h-3zM3899,2276h3v3h-3zM3479,2225h3v3h-3zM3847,2306h3v3h-3zM3761,2197h3v3h-3zM3548,2314h3v3h-3zM3472,2315h3v3h-3zM3526,2350h3v3h-3zM3770,2341h3v3h-3zM3780,2200h3v3h-3zM3526,2155h3v3h-3zM3508,2270h3v3h-3zM3704,2203h3v3h-3zM3557,2280h3v3h-3zM3902,2157h3v3h-3zM3497,2122h3v3h-3zM3715,2256h3v3h-3zM3492,2160h3v3h-3zM3524,2183h3v3h-3zM3623,2222h3v3h-3zM3689,2233h3v3h-3zM3817,2224h3v3h-3zM3772,2113h3v3h-3zM3934,2241h3v3h-3zM3538,2193h3v3h-3zM3851,2337h3v3h-3zM3844,2188h3v3h-3zM3735,2114h3v3h-3zM3698,2233h3v3h-3zM3978,2240h3v3h-3zM3613,2128h3v3h-3zM3537,2262h3v3h-3zM3797,2222h3v3h-3zM3786,2122h3v3h-3zM3664,2338h3v3h-3zM3794,2157h3v3h-3zM3952,2276h3v3h-3zM3727,2322h3v3h-3zM3995,2263h3v3h-3zM3933,2302h3v3h-3zM3535,2185h3v3h-3zM3688,2172h3v3h-3zM3647,2295h3v3h-3zM3488,2327h3v3h-3zM3485,2288h3v3h-3zM3958,2244h3v3h-3zM3757,2259h3v3h-3zM3530,2325h3v3h-3zM3917,2196h3v3h-3zM3978,2334h3v3h-3zM3824,2235h3v3h-3zM3502,2264h3v3h-3zM3712,2214h3v3h-3zM3730,2166h3v3h-3zM3604,2310h3v3h-3zM3898,2143h3v3h-3zM3485,2349h3v3h-3zM3748,2290h3v3h-3zM3969,2179h3v3h-3zM3742,2130h3v3h-3zM3477,2254h3v3h-3zM3707,2364h3v3h-3zM3686,2140h3v3h-3zM3702,2260h3v3h-3zM3967,2330h3v3h-3zM3934,2225h3v3h-3zM3582,2170h3v3h-3zM3913,2273h3v3h-3zM3785,2191h3v3h-3zM3748,2335h3v3h-3zM3986,2145h3v3h-3zM3906,2180h3v3h-3zM3708,2228h3v3h-3zM3561,2258h3v3h-3zM3664,2227h3v3h-3zM3771,2116h3v3h-3zM3663,2275h3v3h-3zM3926,2192h3v3h-3zM3821,2183h3v3h-3zM3634,2210h3v3h-3zM3580,2257h3v3h-3zM3738,2256h3v3h-3zM3558,2135h3v3h-3zM3813,2287h3v3h-3zM3734,2303h3v3h-3zM3760,2302h3v3h-3zM3524,2216h3v3h-3zM3472,2313h3v3h-3zM3724,2276h3v3h-3zM3766,2284h3v3h-3zM3806,2334h3v3h-3zM3979,2322h3v3h-3zM3474,2304h3v3h-3zM3797,2121h3v3h-3zM3612,2220h3v3h-3zM3767,2131h3v3h-3zM3877,2088h3v3h-3zM3854,2131h3v3h-3zM3779,2215h3v3h-3zM3859,2202h3v3h-3zM3683,2264h3v3h-3zM3492,2332h3v3h-3zM3888,2277h3v3h-3zM3793,2172h3v3h-3zM3570,2291h3v3h-3zM4047,2321h3v3h-3zM3666,2356h3v3h-3zM3673,2113h3v3h-3zM3861,2346h3v3h-3zM3801,2122h3v3h-3zM3496,2146h3v3h-3zM3975,2149h3v3h-3zM3723,2268h3v3h-3zM3515,2113h3v3h-3zM3969,2182h3v3h-3zM3676,2332h3v3h-3zM3913,2150h3v3h-3zM3908,2368h3v3h-3zM3745,2199h3v3h-3zM3510,2237h3v3h-3zM3697,2199h3v3h-3zM3663,2228h3v3h-3zM3734,2354h3v3h-3zM3643,2342h3v3h-3zM3590,2116h3v3h-3zM3866,2367h3v3h-3zM3563,2191h3v3h-3zM3750,2145h3v3h-3zM3631,2253h3v3h-3zM3636,2172h3v3h-3zM3741,2203h3v3h-3zM3707,2120h3v3h-3zM3631,2289h3v3h-3zM3928,2169h3v3h-3zM3506,2120h3v3h-3zM3982,2226h3v3h-3zM3914,2167h3v3h-3zM3554,2337h3v3h-3zM3691,2346h3v3h-3zM3744,2232h3v3h-3zM4030,2253h3v3h-3zM3597,2358h3v3h-3zM3694,2354h3v3h-3zM3714,2187h3v3h-3zM3704,2279h3v3h-3zM3745,2218h3v3h-3zM3495,2138h3v3h-3zM3729,2350h3v3h-3zM3595,2154h3v3h-3zM3557,2168h3v3h-3zM3778,2346h3v3h-3zM3693,2226h3v3h-3zM3599,2112h3v3h-3zM3548,2365h3v3h-3zM3775,2285h3v3h-3zM3904,2339h3v3h-3zM3820,2113h3v3h-3zM3990,2336h3v3h-3zM3766,2300h3v3h-3zM3669,2254h3v3h-3zM3564,2309h3v3h-3zM3884,2228h3v3h-3zM3540,2218h3v3h-3zM3604,2141h3v3h-3zM3983,2188h3v3h-3zM3974,2213h3v3h-3zM3701,2241h3v3h-3zM3933,2158h3v3h-3zM3592,2218h3v3h-3zM3622,2357h3v3h-3zM3659,2123h3v3h-3zM3630,2136h3v3h-3zM3482,2176h3v3h-3zM3770,2149h3v3h-3zM3472,2172h3v3h-3zM4043,2233h3v3h-3zM3787,2310h3v3h-3zM3870,2241h3v3h-3zM3471,2221h3v3h-3zM3756,2319h3v3h-3zM4011,2297h3v3h-3zM3661,2236h3v3h-3zM3708,2273h3v3h-3zM3813,2307h3v3h-3zM3833,2191h3v3h-3zM4047,2208h3v3h-3zM3627,2191h3v3h-3zM3698,2350h3v3h-3zM3478,2239h3v3h-3zM3479,2213h3v3h-3zM3635,2208h3v3h-3zM3619,2364h3v3h-3zM3786,2156h3v3h-3zM3745,2135h3v3h-3zM3849,2343h3v3h-3zM3666,2307h3v3h-3zM3880,2206h3v3h-3zM3958,2274h3v3h-3zM3965,2233h3v3h-3zM3820,2327h3v3h-3zM3629,2339h3v3h-3zM3876,2263h3v3h-3zM3641,2301h3v3h-3zM3773,2335h3v3h-3zM3507,2235h3v3h-3zM3660,2194h3v3h-3zM3723,2216h3v3h-3zM3801,2246h3v3h-3zM3479,2185h3v3h-3zM3614,2238h3v3h-3zM3611,2339h3v3h-3zM3585,2153h3v3h-3zM3806,2188h3v3h-3zM3682,2266h3v3h-3zM3665,2343h3v3h-3zM3689,2279h3v3h-3zM3732,2200h3v3h-3zM3547,2206h3v3h-3zM3504,2292h3v3h-3zM3595,2221h3v3h-3zM3632,2111h3v3h-3zM3588,2231h3v3h-3zM4015,2286h3v3h-3zM3954,2194h3v3h-3zM3753,2168h3v3h-3zM3778,2317h3v3h-3zM3622,2088h3v3h-3zM3723,2297h3v3h-3zM3814,2244h3v3h-3zM3731,2296h3v3h-3zM3699,2118h3v3h-3zM3856,2241h3v3h-3zM3721,2183h3v3h-3zM3775,2184h3v3h-3zM3624,2189h3v3h-3zM3923,2194h3v3h-3zM3564,2272h3v3h-3zM3786,2155h3v3h-3zM3690,2190h3v3h-3zM3884,2175h3v3h-3zM3822,2237h3v3h-3zM4010,2181h3v3h-3zM3702,2240h3v3h-3zM3787,2206h3v3h-3zM3781,2291h3v3h-3zM3490,2202h3v3h-3zM3759,2291h3v3h-3zM3600,2232h3v3h-3zM3558,2244h3v3h-3zM3640,2132h3v3h-3zM3500,2356h3v3h-3zM3666,2345h3v3h-3zM4015,2225h3v3h-3zM3706,2355h3v3h-3zM3610,2302h3v3h-3zM3707,2253h3v3h-3zM3474,2113h3v3h-3zM3878,2122h3v3h-3zM3701,2345h3v3h-3zM3580,2144h3v3h-3zM3981,2309h3v3h-3zM3476,2113h3v3h-3zM3928,2257h3v3h-3zM3550,2216h3v3h-3zM3785,2111h3v3h-3zM3687,2197h3v3h-3zM3624,2266h3v3h-3zM3783,2273h3v3h-3zM3942,2268h3v3h-3zM3596,2233h3v3h-3zM3501,2287h3v3h-3zM3801,2339h3v3h-3zM3499,2225h3v3h-3zM3503,2280h3v3h-3zM3637,2124h3v3h-3zM3848,2271h3v3h-3zM3911,2190h3v3h-3zM4034,2267h3v3h-3zM3767,2250h3v3h-3zM3828,2180h3v3h-3zM3772,2150h3v3h-3zM3551,2362h3v3h-3zM3543,2320h3v3h-3zM3946,2328h3v3h-3zM3608,2188h3v3h-3zM3834,2238h3v3h-3zM3708,2296h3v3h-3zM3802,2170h3v3h-3zM3485,2230h3v3h-3zM3773,2182h3v3h-3zM3591,2271h3v3h-3zM3885,2183h3v3h-3zM3609,2262h3v3h-3zM3606,2287h3v3h-3zM3795,2150h3v3h-3zM3578,2192h3v3h-3zM3944,2223h3v3h-3zM3786,2287h3v3h-3zM3547,2196h3v3h-3zM3578,2158h3v3h-3zM3591,2355h3v3h-3zM3738,2377h3v3h-3zM3886,2333h3v3h-3zM3712,2305h3v3h-3zM3609,2203h3v3h-3zM3619,2133h3v3h-3zM3603,2345h3v3h-3zM3657,2287h3v3h-3zM3807,2268h3v3h-3zM3845,2220h3v3h-3zM3501,2315h3v3h-3zM3696,2142h3v3h-3zM3746,2128h3v3h-3zM3656,2131h3v3h-3zM3511,2285h3v3h-3zM3736,2143h3v3h-3zM4002,2257h3v3h-3zM3734,2277h3v3h-3zM3504,2117h3v3h-3zM3668,2146h3v3h-3zM3550,2328h3v3h-3zM3721,2331h3v3h-3zM3676,2265h3v3h-3zM3927,2250h3v3h-3zM3632,2316h3v3h-3zM3772,2227h3v3h-3zM3630,2204h3v3h-3zM3559,2285h3v3h-3zM3817,2338h3v3h-3zM3955,2328h3v3h-3zM3685,2200h3v3h-3zM3599,2119h3v3h-3zM3655,2291h3v3h-3zM3761,2266h3v3h-3zM3762,2136h3v3h-3zM4030,2281h3v3h-3zM3691,2358h3v3h-3zM3486,2282h3v3h-3zM3942,2314h3v3h-3zM3625,2247h3v3h-3zM3822,2313h3v3h-3zM3536,2249h3v3h-3zM3809,2296h3v3h-3zM3989,2239h3v3h-3zM3788,2185h3v3h-3zM3687,2128h3v3h-3zM3511,2275h3v3h-3zM3664,2353h3v3h-3zM3499,2213h3v3h-3zM3534,2140h3v3h-3zM3983,2314h3v3h-3zM3574,2311h3v3h-3zM3787,2142h3v3h-3zM3996,2156h3v3h-3zM3649,2125h3v3h-3zM3955,2214h3v3h-3zM3597,2340h3v3h-3zM3939,2229h3v3h-3zM3845,2261h3v3h-3zM3631,2263h3v3h-3zM3831,2122h3v3h-3zM3588,2196h3v3h-3zM3624,2231h3v3h-3zM3522,2172h3v3h-3zM3855,2309h3v3h-3zM3603,2182h3v3h-3zM3538,2348h3v3h-3zM3655,2318h3v3h-3zM3648,2143h3v3h-3zM3574,2303h3v3h-3zM3479,2137h3v3h-3zM3840,2197h3v3h-3zM3794,2258h3v3h-3zM3484,2234h3v3h-3zM3685,2319h3v3h-3zM3731,2315h3v3h-3zM3576,2178h3v3h-3zM3658,2213h3v3h-3zM3863,2196h3v3h-3zM3644,2280h3v3h-3zM3933,2340h3v3h-3zM3643,2292h3v3h-3zM3820,2345h3v3h-3zM3682,2310h3v3h-3zM3580,2299h3v3h-3zM3815,2158h3v3h-3zM3884,2281h3v3h-3zM3518,2222h3v3h-3zM3743,2221h3v3h-3zM3747,2174h3v3h-3zM3603,2313h3v3h-3zM3688,2243h3v3h-3zM3790,2249h3v3h-3zM3635,2180h3v3h-3zM3977,2186h3v3h-3zM3532,2274h3v3h-3zM3644,2243h3v3h-3zM3825,2198h3v3h-3zM3792,2175h3v3h-3zM3810,2201h3v3h-3zM3730,2267h3v3h-3zM3712,2154h3v3h-3zM3676,2259h3v3h-3zM3623,2330h3v3h-3zM3648,2245h3v3h-3zM3795,2308h3v3h-3zM3825,2343h3v3h-3zM3606,2278h3v3h-3zM3574,2327h3v3h-3zM3717,2155h3v3h-3zM3654,2336h3v3h-3zM3671,2293h3v3h-3zM3865,2228h3v3h-3zM3606,2216h3v3h-3zM3788,2119h3v3h-3zM3767,2354h3v3h-3zM3670,2230h3v3h-3zM3488,2242h3v3h-3zM3900,2163h3v3h-3zM3931,2333h3v3h-3zM3632,2249h3v3h-3zM3760,2273h3v3h-3zM3508,2348h3v3h-3zM3891,2131h3v3h-3zM3661,2212h3v3h-3zM3793,2207h3v3h-3zM3744,2110h3v3h-3zM3494,2359h3v3h-3zM3522,2219h3v3h-3zM3673,2344h3v3h-3zM3709,2124h3v3h-3zM3628,2270h3v3h-3zM3739,2183h3v3h-3zM3808,2240h3v3h-3zM3622,2152h3v3h-3zM3486,2225h3v3h-3zM3845,2303h3v3h-3zM3798,2119h3v3h-3zM3708,2362h3v3h-3zM3714,2351h3v3h-3zM3652,2112h3v3h-3zM3486,2158h3v3h-3zM3807,2326h3v3h-3zM3670,2225h3v3h-3zM3838,2195h3v3h-3zM4042,2242h3v3h-3zM3793,2283h3v3h-3zM3510,2296h3v3h-3zM3693,2207h3v3h-3zM3739,2132h3v3h-3zM3570,2118h3v3h-3zM3586,2165h3v3h-3zM3747,2292h3v3h-3zM3559,2297h3v3h-3zM3930,2197h3v3h-3zM3522,2148h3v3h-3zM3725,2249h3v3h-3zM3676,2239h3v3h-3zM3626,2217h3v3h-3zM3493,2237h3v3h-3zM3660,2361h3v3h-3zM3979,2315h3v3h-3zM3581,2250h3v3h-3zM3611,2236h3v3h-3zM3587,2239h3v3h-3zM3497,2292h3v3h-3zM3547,2266h3v3h-3zM3731,2188h3v3h-3zM3475,2287h3v3h-3zM3970,2257h3v3h-3zM3827,2140h3v3h-3zM3832,2351h3v3h-3zM3720,2085h3v3h-3zM3835,2256h3v3h-3zM3775,2155h3v3h-3zM3850,2209h3v3h-3zM3767,2206h3v3h-3zM3588,2256h3v3h-3zM3889,2320h3v3h-3zM3615,2203h3v3h-3zM3522,2275h3v3h-3zM3729,2320h3v3h-3zM3554,2304h3v3h-3zM3808,2257h3v3h-3zM3835,2232h3v3h-3zM3623,2122h3v3h-3zM3683,2225h3v3h-3zM3600,2314h3v3h-3zM3614,2176h3v3h-3zM3536,2346h3v3h-3zM3542,2251h3v3h-3zM3585,2350h3v3h-3zM3820,2311h3v3h-3zM3616,2217h3v3h-3zM3754,2355h3v3h-3zM3790,2162h3v3h-3zM3483,2168h3v3h-3zM3510,2278h3v3h-3zM3725,2377h3v3h-3zM3638,2159h3v3h-3zM3686,2154h3v3h-3zM3543,2207h3v3h-3zM3724,2192h3v3h-3zM3638,2211h3v3h-3zM3783,2267h3v3h-3zM3840,2281h3v3h-3zM3765,2257h3v3h-3zM3805,2167h3v3h-3zM3535,2227h3v3h-3zM3609,2116h3v3h-3zM3574,2322h3v3h-3zM3655,2172h3v3h-3zM3740,2206h3v3h-3zM3796,2346h3v3h-3zM3832,2282h3v3h-3zM3623,2304h3v3h-3zM3538,2288h3v3h-3zM3924,2298h3v3h-3zM3723,2230h3v3h-3zM3811,2179h3v3h-3zM3881,2241h3v3h-3zM3655,2134h3v3h-3zM3871,2244h3v3h-3zM3710,2271h3v3h-3zM3781,2279h3v3h-3zM3494,2359h3v3h-3zM3489,2220h3v3h-3zM3485,2339h3v3h-3zM3905,2276h3v3h-3zM3966,2192h3v3h-3zM3867,2122h3v3h-3zM3614,2105h3v3h-3zM3761,2289h3v3h-3zM3535,2363h3v3h-3zM3675,2274h3v3h-3zM3477,2146h3v3h-3zM3600,2152h3v3h-3zM3582,2188h3v3h-3zM3562,2147h3v3h-3zM3768,2187h3v3h-3zM3761,2229h3v3h-3zM3806,2258h3v3h-3zM3809,2291h3v3h-3zM3780,2338h3v3h-3zM3514,2201h3v3h-3zM3961,2191h3v3h-3zM3475,2364h3v3h-3zM3901,2178h3v3h-3zM3606,2336h3v3h-3zM3657,2255h3v3h-3zM3561,2315h3v3h-3zM3932,2222h3v3h-3zM3950,2313h3v3h-3zM3862,2287h3v3h-3zM3798,2264h3v3h-3zM3759,2131h3v3h-3zM3560,2140h3v3h-3zM3526,2337h3v3h-3zM3474,2116h3v3h-3zM3681,2233h3v3h-3zM3535,2127h3v3h-3zM3633,2128h3v3h-3zM3683,2247h3v3h-3zM3569,2355h3v3h-3zM3865,2351h3v3h-3zM3911,2271h3v3h-3zM3578,2272h3v3h-3zM3592,2173h3v3h-3zM3722,2306h3v3h-3zM3527,2359h3v3h-3zM3683,2129h3v3h-3zM3672,2154h3v3h-3zM3722,2249h3v3h-3zM3659,2301h3v3h-3zM3929,2190h3v3h-3zM3841,2205h3v3h-3zM3906,2179h3v3h-3zM3621,2112h3v3h-3zM3477,2133h3v3h-3zM3850,2205h3v3h-3zM3503,2237h3v3h-3zM3603,2202h3v3h-3zM3858,2174h3v3h-3zM3604,2232h3v3h-3zM3800,2258h3v3h-3zM3877,2239h3v3h-3zM3677,2253h3v3h-3zM3478,2357h3v3h-3zM3924,2262h3v3h-3zM3735,2221h3v3h-3zM3894,2243h3v3h-3zM3631,2301h3v3h-3zM3700,2297h3v3h-3zM3492,2223h3v3h-3zM3496,2174h3v3h-3zM3785,2175h3v3h-3zM3780,2266h3v3h-3zM3926,2217h3v3h-3zM3590,2195h3v3h-3zM3822,2185h3v3h-3zM3988,2208h3v3h-3zM3756,2339h3v3h-3zM3486,2228h3v3h-3zM3734,2164h3v3h-3zM3890,2126h3v3h-3zM4017,2093h3v3h-3zM3740,2324h3v3h-3zM3592,2340h3v3h-3zM3471,2154h3v3h-3zM3490,2127h3v3h-3zM3902,2248h3v3h-3zM3593,2219h3v3h-3zM3589,2169h3v3h-3zM3541,2123h3v3h-3zM3675,2194h3v3h-3zM3642,2136h3v3h-3zM3807,2302h3v3h-3zM3517,2221h3v3h-3zM3525,2270h3v3h-3zM3939,2313h3v3h-3zM3907,2208h3v3h-3zM3526,2141h3v3h-3zM3768,2120h3v3h-3zM3810,2223h3v3h-3zM3581,2247h3v3h-3zM3542,2164h3v3h-3zM3593,2192h3v3h-3zM3503,2302h3v3h-3zM3526,2309h3v3h-3zM3803,2300h3v3h-3zM3561,2300h3v3h-3zM3671,2151h3v3h-3zM3525,2226h3v3h-3zM3751,2232h3v3h-3zM3687,2177h3v3h-3zM3591,2216h3v3h-3zM3639,2209h3v3h-3zM3564,2350h3v3h-3zM3923,2281h3v3h-3zM3489,2305h3v3h-3zM3706,2186h3v3h-3zM3733,2244h3v3h-3zM3910,2197h3v3h-3zM3575,2283h3v3h-3zM3778,2298h3v3h-3zM3503,2112h3v3h-3zM3840,2332h3v3h-3zM3859,2245h3v3h-3zM3973,2129h3v3h-3zM4014,2172h3v3h-3zM3749,2110h3v3h-3zM3667,2138h3v3h-3zM3775,2282h3v3h-3zM3697,2314h3v3h-3zM3531,2205h3v3h-3zM3774,2143h3v3h-3zM3751,2291h3v3h-3zM3825,2189h3v3h-3zM3927,2344h3v3h-3zM3749,2190h3v3h-3zM3816,2340h3v3h-3zM3638,2306h3v3h-3zM3623,2364h3v3h-3zM3902,2307h3v3h-3zM3735,2280h3v3h-3zM3766,2330h3v3h-3zM3850,2168h3v3h-3zM3839,2170h3v3h-3zM3655,2158h3v3h-3zM3612,2211h3v3h-3zM3688,2150h3v3h-3zM3615,2222h3v3h-3zM3856,2261h3v3h-3zM3845,2293h3v3h-3zM3767,2234h3v3h-3zM3770,2222h3v3h-3zM3550,2208h3v3h-3zM3584,2205h3v3h-3zM3844,2176h3v3h-3zM3812,2282h3v3h-3zM3519,2234h3v3h-3zM3755,2179h3v3h-3zM3699,2240h3v3h-3zM3769,2292h3v3h-3zM3733,2125h3v3h-3zM3914,2335h3v3h-3zM3952,2317h3v3h-3zM3484,2157h3v3h-3zM3656,2189h3v3h-3zM3588,2234h3v3h-3zM3515,2148h3v3h-3zM3728,2363h3v3h-3zM3493,2229h3v3h-3zM3605,2312h3v3h-3zM3771,2113h3v3h-3zM3916,2298h3v3h-3zM3565,2235h3v3h-3zM3608,2119h3v3h-3zM3721,2303h3v3h-3zM3737,2262h3v3h-3zM3508,2254h3v3h-3zM3536,2336h3v3h-3zM3759,2245h3v3h-3zM3571,2124h3v3h-3zM3750,2236h3v3h-3zM3737,2294h3v3h-3zM3906,2156h3v3h-3zM3755,2227h3v3h-3zM3910,2326h3v3h-3zM3490,2197h3v3h-3zM3484,2253h3v3h-3zM3569,2254h3v3h-3zM3681,2323h3v3h-3zM3524,2187h3v3h-3zM3945,2228h3v3h-3zM3480,2341h3v3h-3zM3637,2302h3v3h-3zM3572,2316h3v3h-3zM3654,2228h3v3h-3zM3737,2258h3v3h-3zM3633,2223h3v3h-3zM3701,2202h3v3h-3zM3606,2299h3v3h-3zM3766,2255h3v3h-3zM3689,2202h3v3h-3zM3571,2224h3v3h-3zM3489,2210h3v3h-3zM3971,2290h3v3h-3zM3754,2179h3v3h-3zM3519,2362h3v3h-3zM3823,2292h3v3h-3zM3787,2224h3v3h-3zM3645,2214h3v3h-3zM3842,2340h3v3h-3zM3744,2345h3v3h-3zM3833,2193h3v3h-3zM3871,2175h3v3h-3zM3512,2113h3v3h-3zM3493,2284h3v3h-3zM4021,2293h3v3h-3zM3636,2216h3v3h-3zM3884,2173h3v3h-3zM3628,2283h3v3h-3zM3728,2361h3v3h-3zM3729,2247h3v3h-3zM3651,2176h3v3h-3zM3778,2350h3v3h-3zM3746,2139h3v3h-3zM3792,2272h3v3h-3zM3549,2249h3v3h-3zM3897,2190h3v3h-3zM3752,2285h3v3h-3zM3980,2291h3v3h-3zM3785,2282h3v3h-3zM3696,2306h3v3h-3zM3710,2332h3v3h-3zM3619,2228h3v3h-3zM3928,2232h3v3h-3zM3577,2272h3v3h-3zM3624,2307h3v3h-3zM3559,2346h3v3h-3zM3840,2154h3v3h-3zM3626,2299h3v3h-3zM3985,2213h3v3h-3zM3800,2147h3v3h-3zM3616,2309h3v3h-3zM3843,2194h3v3h-3zM3626,2278h3v3h-3zM3953,2134h3v3h-3zM3475,2245h3v3h-3zM3518,2227h3v3h-3zM3872,2149h3v3h-3zM3764,2257h3v3h-3zM3830,2119h3v3h-3zM3844,2347h3v3h-3zM3859,2196h3v3h-3zM3850,2131h3v3h-3zM3971,2293h3v3h-3zM3888,2259h3v3h-3zM3518,2197h3v3h-3zM3842,2183h3v3h-3zM3744,2167h3v3h-3zM3721,2285h3v3h-3zM3470,2168h3v3h-3zM3758,2235h3v3h-3zM3516,2111h3v3h-3zM3554,2322h3v3h-3zM3718,2237h3v3h-3zM3828,2310h3v3h-3zM3533,2153h3v3h-3zM3574,2174h3v3h-3zM3875,2350h3v3h-3zM3655,2350h3v3h-3zM3660,2376h3v3h-3zM3790,2151h3v3h-3zM3561,2310h3v3h-3zM3698,2137h3v3h-3zM3889,2172h3v3h-3zM3631,2262h3v3h-3zM3752,2286h3v3h-3zM3810,2353h3v3h-3zM3572,2258h3v3h-3zM3511,2183h3v3h-3zM3570,2165h3v3h-3zM3750,2247h3v3h-3zM3890,2134h3v3h-3zM3640,2174h3v3h-3zM3789,2227h3v3h-3zM3516,2209h3v3h-3zM3914,2347h3v3h-3zM3685,2250h3v3h-3zM3696,2328h3v3h-3zM3614,2119h3v3h-3zM3512,2115h3v3h-3zM3771,2188h3v3h-3zM3905,2178h3v3h-3zM3868,2211h3v3h-3zM3795,2219h3v3h-3zM3762,2220h3v3h-3zM3651,2164h3v3h-3zM3785,2152h3v3h-3zM3618,2240h3v3h-3zM3565,2144h3v3h-3zM3734,2145h3v3h-3zM3738,2150h3v3h-3zM3571,2356h3v3h-3zM3791,2285h3v3h-3zM3871,2240h3v3h-3zM3565,2132h3v3h-3zM3689,2185h3v3h-3zM3524,2364h3v3h-3zM3848,2195h3v3h-3zM3811,2279h3v3h-3zM3538,2338h3v3h-3zM3673,2323h3v3h-3zM3947,2268h3v3h-3zM3516,2283h3v3h-3zM3636,2241h3v3h-3zM3771,2123h3v3h-3zM3495,2118h3v3h-3zM3775,2308h3v3h-3zM3641,2133h3v3h-3zM3787,2260h3v3h-3zM3846,2189h3v3h-3zM3730,2244h3v3h-3zM3487,2224h3v3h-3zM3656,2270h3v3h-3zM3652,2113h3v3h-3zM3605,2353h3v3h-3zM3863,2250h3v3h-3zM4039,2309h3v3h-3zM3477,2161h3v3h-3zM3642,2131h3v3h-3zM3731,2166h3v3h-3zM3479,2259h3v3h-3zM3958,2267h3v3h-3zM3776,2161h3v3h-3zM3745,2241h3v3h-3zM3744,2341h3v3h-3zM3508,2336h3v3h-3zM3661,2316h3v3h-3zM3576,2209h3v3h-3zM3720,2223h3v3h-3zM3772,2332h3v3h-3zM3549,2251h3v3h-3zM3747,2154h3v3h-3zM4014,2266h3v3h-3zM3591,2136h3v3h-3zM3892,2172h3v3h-3zM3520,2323h3v3h-3zM3484,2143h3v3h-3zM3498,2120h3v3h-3zM3974,2167h3v3h-3zM3760,2335h3v3h-3zM3513,2131h3v3h-3zM3889,2280h3v3h-3zM3645,2178h3v3h-3zM3522,2154h3v3h-3zM3703,2153h3v3h-3zM3605,2120h3v3h-3zM3939,2198h3v3h-3zM3889,2213h3v3h-3zM3596,2358h3v3h-3zM3711,2188h3v3h-3zM3525,2300h3v3h-3zM3841,2273h3v3h-3zM3555,2225h3v3h-3zM3705,2113h3v3h-3zM3646,2128h3v3h-3zM3538,2121h3v3h-3zM3783,2226h3v3h-3zM3615,2309h3v3h-3zM3771,2305h3v3h-3zM3476,2187h3v3h-3zM3595,2115h3v3h-3zM3835,2250h3v3h-3zM3555,2161h3v3h-3zM3824,2123h3v3h-3zM3844,2205h3v3h-3zM3686,2317h3v3h-3zM3736,2268h3v3h-3zM3751,2270h3v3h-3zM3735,2343h3v3h-3zM3820,2315h3v3h-3zM3871,2154h3v3h-3zM3690,2135h3v3h-3zM3772,2243h3v3h-3zM3871,2124h3v3h-3zM3914,2274h3v3h-3zM3607,2279h3v3h-3zM3705,2266h3v3h-3zM3810,2114h3v3h-3zM3808,2346h3v3h-3zM3674,2233h3v3h-3zM3507,2349h3v3h-3zM3489,2325h3v3h-3zM3719,2221h3v3h-3zM3724,2128h3v3h-3zM3576,2196h3v3h-3zM3536,2154h3v3h-3zM3691,2208h3v3h-3zM3616,2159h3v3h-3zM3941,2153h3v3h-3zM3811,2157h3v3h-3zM3612,2202h3v3h-3zM4016,2283h3v3h-3zM3857,2249h3v3h-3zM3700,2239h3v3h-3zM3501,2245h3v3h-3zM3785,2125h3v3h-3zM3848,2247h3v3h-3zM3703,2297h3v3h-3zM3610,2136h3v3h-3zM3713,2273h3v3h-3zM3601,2119h3v3h-3zM3797,2293h3v3h-3zM3514,2165h3v3h-3zM3609,2289h3v3h-3zM3826,2182h3v3h-3zM3690,2172h3v3h-3zM3781,2181h3v3h-3zM3760,2288h3v3h-3zM3590,2202h3v3h-3zM3905,2216h3v3h-3zM3908,2282h3v3h-3zM3816,2147h3v3h-3zM3503,2207h3v3h-3zM3763,2254h3v3h-3zM3506,2112h3v3h-3zM3573,2197h3v3h-3zM3781,2267h3v3h-3zM3533,2286h3v3h-3zM3701,2179h3v3h-3zM3636,2142h3v3h-3zM3750,2113h3v3h-3zM3537,2231h3v3h-3zM3958,2228h3v3h-3zM3810,2248h3v3h-3zM3657,2223h3v3h-3zM3919,2248h3v3h-3zM3691,2194h3v3h-3zM3647,2246h3v3h-3zM3666,2313h3v3h-3zM3761,2245h3v3h-3zM3476,2230h3v3h-3zM3842,2233h3v3h-3zM3584,2196h3v3h-3zM3676,2291h3v3h-3zM3852,2128h3v3h-3zM3574,2263h3v3h-3zM3903,2271h3v3h-3zM3886,2241h3v3h-3zM3936,2377h3v3h-3zM3961,2221h3v3h-3zM3659,2329h3v3h-3zM3858,2346h3v3h-3zM3477,2278h3v3h-3zM3715,2318h3v3h-3zM3894,2264h3v3h-3zM3874,2153h3v3h-3zM3899,2154h3v3h-3zM3544,2227h3v3h-3zM3780,2224h3v3h-3zM3666,2123h3v3h-3zM3662,2197h3v3h-3zM3757,2241h3v3h-3zM3659,2328h3v3h-3zM3661,2260h3v3h-3zM3563,2210h3v3h-3zM3944,2286h3v3h-3zM3485,2150h3v3h-3zM3510,2230h3v3h-3zM3913,2362h3v3h-3zM3946,2295h3v3h-3zM3780,2312h3v3h-3zM3570,2100h3v3h-3zM3690,2361h3v3h-3zM3470,2253h3v3h-3zM3499,2209h3v3h-3zM3585,2324h3v3h-3zM3669,2164h3v3h-3zM3726,2201h3v3h-3zM3586,2122h3v3h-3zM3613,2202h3v3h-3zM3484,2347h3v3h-3zM3907,2172h3v3h-3zM3830,2142h3v3h-3zM3764,2210h3v3h-3zM3594,2175h3v3h-3zM3547,2183h3v3h-3zM3783,2178h3v3h-3zM3550,2165h3v3h-3zM3691,2190h3v3h-3zM3591,2332h3v3h-3zM3776,2139h3v3h-3zM3534,2268h3v3h-3zM3833,2129h3v3h-3zM3709,2332h3v3h-3zM3617,2275h3v3h-3zM3670,2184h3v3h-3zM3523,2359h3v3h-3zM3783,2308h3v3h-3zM4001,2289h3v3h-3zM3801,2144h3v3h-3zM3500,2250h3v3h-3zM3800,2174h3v3h-3zM3733,2243h3v3h-3zM3759,2270h3v3h-3zM3611,2242h3v3h-3zM3697,2261h3v3h-3zM3750,2171h3v3h-3zM3678,2302h3v3h-3zM3922,2271h3v3h-3zM3989,2304h3v3h-3zM3534,2161h3v3h-3zM3911,2143h3v3h-3zM3620,2127h3v3h-3zM3789,2229h3v3h-3zM3767,2311h3v3h-3zM3650,2232h3v3h-3zM3516,2184h3v3h-3zM3932,2307h3v3h-3zM3619,2121h3v3h-3zM3925,2277h3v3h-3zM3660,2325h3v3h-3zM3643,2199h3v3h-3zM3603,2241h3v3h-3zM3995,2167h3v3h-3zM3878,2124h3v3h-3zM3945,2297h3v3h-3zM3889,2344h3v3h-3zM3591,2200h3v3h-3zM3763,2280h3v3h-3zM3713,2329h3v3h-3zM3877,2253h3v3h-3zM3474,2352h3v3h-3zM3624,2277h3v3h-3zM4021,2286h3v3h-3zM3785,2213h3v3h-3zM3889,2256h3v3h-3zM3512,2359h3v3h-3zM3798,2232h3v3h-3zM3535,2229h3v3h-3zM3721,2168h3v3h-3zM3585,2331h3v3h-3zM3952,2239h3v3h-3zM3765,2259h3v3h-3zM3681,2304h3v3h-3zM3662,2149h3v3h-3zM3479,2137h3v3h-3zM3617,2351h3v3h-3zM3533,2300h3v3h-3zM3480,2319h3v3h-3zM3634,2193h3v3h-3zM3956,2294h3v3h-3zM3756,2157h3v3h-3zM3807,2350h3v3h-3zM3614,2147h3v3h-3zM3721,2297h3v3h-3zM3802,2353h3v3h-3zM3983,2165h3v3h-3zM3846,2156h3v3h-3zM3755,2231h3v3h-3zM3827,2317h3v3h-3zM3660,2359h3v3h-3zM3592,2130h3v3h-3zM3688,2119h3v3h-3zM3575,2144h3v3h-3zM3802,2323h3v3h-3zM3624,2190h3v3h-3zM3503,2176h3v3h-3zM3675,2305h3v3h-3zM4002,2302h3v3h-3zM3544,2229h3v3h-3zM3493,2170h3v3h-3zM3935,2349h3v3h-3zM3600,2276h3v3h-3zM3562,2198h3v3h-3zM3818,2327h3v3h-3zM3827,2161h3v3h-3zM3504,2287h3v3h-3zM3499,2190h3v3h-3zM3747,2188h3v3h-3zM3575,2153h3v3h-3zM3560,2263h3v3h-3zM3633,2242h3v3h-3zM3666,2165h3v3h-3zM3817,2295h3v3h-3zM3629,2306h3v3h-3zM3545,2178h3v3h-3zM3779,2299h3v3h-3zM3865,2187h3v3h-3zM3695,2220h3v3h-3zM3486,2132h3v3h-3zM3603,2211h3v3h-3zM3775,2259h3v3h-3zM3936,2235h3v3h-3zM3651,2279h3v3h-3zM3619,2284h3v3h-3zM3716,2351h3v3h-3zM3849,2216h3v3h-3zM3536,2250h3v3h-3zM3839,2257h3v3h-3zM3554,2169h3v3h-3zM3633,2241h3v3h-3zM3729,2126h3v3h-3zM3682,2335h3v3h-3zM3830,2288h3v3h-3zM3688,2233h3v3h-3zM3529,2232h3v3h-3zM3930,2323h3v3h-3zM3795,2222h3v3h-3zM3736,2197h3v3h-3zM3664,2127h3v3h-3zM3706,2313h3v3h-3zM3484,2216h3v3h-3zM3511,2173h3v3h-3zM3482,2349h3v3h-3zM3666,2289h3v3h-3zM3868,2348h3v3h-3zM3533,2134h3v3h-3zM3541,2167h3v3h-3zM3632,2267h3v3h-3zM3747,2334h3v3h-3zM3812,2248h3v3h-3zM3714,2222h3v3h-3zM3868,2249h3v3h-3zM3696,2167h3v3h-3zM3611,2183h3v3h-3zM3598,2270h3v3h-3zM3863,2172h3v3h-3zM4004,2242h3v3h-3zM3915,2225h3v3h-3zM3507,2295h3v3h-3zM3938,2335h3v3h-3zM3654,2149h3v3h-3zM3508,2111h3v3h-3zM3506,2238h3v3h-3zM3935,2254h3v3h-3zM3944,2266h3v3h-3zM3794,2151h3v3h-3zM3582,2332h3v3h-3zM3737,2304h3v3h-3zM3992,2279h3v3h-3zM3547,2108h3v3h-3zM3550,2359h3v3h-3zM3891,2155h3v3h-3zM3484,2349h3v3h-3zM3538,2212h3v3h-3zM3784,2117h3v3h-3zM3961,2174h3v3h-3zM3685,2247h3v3h-3zM3703,2204h3v3h-3zM3546,2136h3v3h-3zM3557,2225h3v3h-3zM3748,2284h3v3h-3zM3627,2141h3v3h-3zM3860,2207h3v3h-3zM3550,2159h3v3h-3zM3525,2143h3v3h-3zM3694,2224h3v3h-3zM3674,2143h3v3h-3zM3904,2343h3v3h-3zM3542,2330h3v3h-3zM3772,2305h3v3h-3zM3498,2098h3v3h-3zM3512,2202h3v3h-3zM3840,2283h3v3h-3zM3489,2361h3v3h-3zM3725,2236h3v3h-3zM3491,2272h3v3h-3zM3494,2235h3v3h-3zM3801,2271h3v3h-3zM3597,2123h3v3h-3zM3632,2314h3v3h-3zM3818,2227h3v3h-3zM3637,2127h3v3h-3zM3782,2223h3v3h-3zM4038,2334h3v3h-3zM3635,2317h3v3h-3zM3486,2220h3v3h-3zM3791,2184h3v3h-3zM3634,2209h3v3h-3zM3682,2313h3v3h-3zM3883,2268h3v3h-3zM3925,2312h3v3h-3zM3733,2217h3v3h-3zM3767,2122h3v3h-3zM3763,2309h3v3h-3zM3618,2190h3v3h-3zM3755,2301h3v3h-3zM3845,2291h3v3h-3zM3638,2145h3v3h-3zM3769,2144h3v3h-3zM3725,2316h3v3h-3zM3593,2110h3v3h-3zM3580,2240h3v3h-3zM3594,2354h3v3h-3zM3537,2316h3v3h-3zM4001,2232h3v3h-3zM3810,2262h3v3h-3zM3707,2169h3v3h-3zM3492,2265h3v3h-3zM3642,2257h3v3h-3zM3970,2333h3v3h-3zM3588,2345h3v3h-3zM3523,2362h3v3h-3zM3909,2160h3v3h-3zM3565,2333h3v3h-3zM3561,2363h3v3h-3zM3699,2160h3v3h-3zM3658,2215h3v3h-3zM3472,2167h3v3h-3zM3873,2200h3v3h-3zM3784,2209h3v3h-3zM3508,2143h3v3h-3zM3587,2136h3v3h-3zM3495,2155h3v3h-3zM3595,2212h3v3h-3zM3836,2259h3v3h-3zM3887,2137h3v3h-3zM3554,2242h3v3h-3zM3825,2300h3v3h-3zM3853,2331h3v3h-3zM3665,2136h3v3h-3zM3739,2169h3v3h-3zM3665,2300h3v3h-3zM4027,2291h3v3h-3zM3843,2277h3v3h-3zM3543,2175h3v3h-3zM3694,2116h3v3h-3zM3618,2127h3v3h-3zM3541,2148h3v3h-3zM3996,2196h3v3h-3zM3642,2311h3v3h-3zM3593,2301h3v3h-3zM3904,2268h3v3h-3zM3901,2305h3v3h-3zM3635,2299h3v3h-3zM3786,2143h3v3h-3zM3701,2291h3v3h-3zM3579,2290h3v3h-3zM3597,2221h3v3h-3zM4047,2228h3v3h-3zM3908,2243h3v3h-3zM3706,2245h3v3h-3zM3664,2222h3v3h-3zM3733,2200h3v3h-3zM3598,2188h3v3h-3zM3735,2321h3v3h-3zM3541,2125h3v3h-3zM3979,2308h3v3h-3zM3798,2130h3v3h-3zM3757,2181h3v3h-3zM3966,2272h3v3h-3zM3564,2244h3v3h-3zM3961,2140h3v3h-3zM3896,2218h3v3h-3zM3749,2330h3v3h-3zM3850,2152h3v3h-3zM3618,2260h3v3h-3zM3655,2312h3v3h-3zM3913,2248h3v3h-3zM3766,2106h3v3h-3zM3958,2134h3v3h-3zM3963,2218h3v3h-3zM3551,2323h3v3h-3zM3940,2343h3v3h-3zM3996,2301h3v3h-3zM3802,2116h3v3h-3zM3539,2260h3v3h-3zM3840,2299h3v3h-3zM3623,2268h3v3h-3zM3901,2231h3v3h-3zM3859,2259h3v3h-3zM3850,2239h3v3h-3zM3959,2269h3v3h-3zM3756,2195h3v3h-3zM3818,2223h3v3h-3zM3873,2191h3v3h-3zM3609,2203h3v3h-3zM3965,2165h3v3h-3zM3583,2288h3v3h-3zM3875,2145h3v3h-3zM3862,2209h3v3h-3zM3507,2292h3v3h-3zM3733,2205h3v3h-3zM3848,2277h3v3h-3zM3757,2135h3v3h-3zM3504,2364h3v3h-3zM3766,2331h3v3h-3zM3564,2195h3v3h-3zM3501,2269h3v3h-3zM3659,2147h3v3h-3zM3655,2300h3v3h-3zM3672,2270h3v3h-3zM3631,2112h3v3h-3zM3718,2281h3v3h-3zM3577,2242h3v3h-3zM3559,2331h3v3h-3zM3882,2345h3v3h-3zM3691,2308h3v3h-3zM3647,2127h3v3h-3zM3911,2161h3v3h-3zM3944,2340h3v3h-3zM3521,2170h3v3h-3zM3724,2181h3v3h-3zM3658,2161h3v3h-3zM3623,2157h3v3h-3zM3726,2285h3v3h-3zM3510,2106h3v3h-3zM3876,2286h3v3h-3zM3595,2226h3v3h-3zM3669,2221h3v3h-3zM3645,2295h3v3h-3zM3516,2206h3v3h-3zM3678,2210h3v3h-3zM3476,2281h3v3h-3zM3531,2117h3v3h-3zM3540,2256h3v3h-3zM3522,2347h3v3h-3zM3540,2214h3v3h-3zM3726,2185h3v3h-3zM3949,2240h3v3h-3zM3531,2137h3v3h-3zM3726,2356h3v3h-3zM3643,2252h3v3h-3zM3804,2183h3v3h-3zM3749,2193h3v3h-3zM3609,2147h3v3h-3zM3708,2321h3v3h-3zM3765,2199h3v3h-3zM3705,2159h3v3h-3zM3684,2210h3v3h-3zM3905,2290h3v3h-3zM3589,2356h3v3h-3zM3851,2146h3v3h-3zM3745,2186h3v3h-3zM3824,2140h3v3h-3zM3926,2198h3v3h-3zM3853,2148h3v3h-3zM3711,2276h3v3h-3zM4028,2243h3v3h-3zM3795,2197h3v3h-3zM3811,2209h3v3h-3zM3492,2239h3v3h-3zM3816,2313h3v3h-3zM3770,2190h3v3h-3zM3961,2298h3v3h-3zM3632,2314h3v3h-3zM3604,2171h3v3h-3zM3500,2282h3v3h-3zM3680,2236h3v3h-3zM3804,2249h3v3h-3zM3859,2174h3v3h-3zM3883,2321h3v3h-3zM3707,2326h3v3h-3zM3733,2233h3v3h-3zM3518,2315h3v3h-3zM3721,2255h3v3h-3zM3586,2216h3v3h-3zM3841,2215h3v3h-3zM3787,2204h3v3h-3zM3823,2254h3v3h-3zM3509,2320h3v3h-3zM3859,2234h3v3h-3zM3654,2338h3v3h-3zM3535,2210h3v3h-3zM3557,2162h3v3h-3zM3614,2159h3v3h-3zM3554,2134h3v3h-3zM3599,2320h3v3h-3zM3571,2179h3v3h-3zM3998,2250h3v3h-3zM3671,2173h3v3h-3zM3480,2212h3v3h-3zM3775,2128h3v3h-3zM3688,2244h3v3h-3zM3667,2272h3v3h-3zM3808,2326h3v3h-3zM3739,2138h3v3h-3zM3529,2146h3v3h-3zM4004,2340h3v3h-3zM3900,2189h3v3h-3zM3477,2329h3v3h-3zM3537,2307h3v3h-3zM4040,2337h3v3h-3zM3476,2172h3v3h-3zM3981,2303h3v3h-3zM3511,2263h3v3h-3zM3536,2236h3v3h-3zM3601,2223h3v3h-3zM3869,2264h3v3h-3zM3649,2163h3v3h-3zM3988,2189h3v3h-3zM3788,2241h3v3h-3zM3677,2276h3v3h-3zM3742,2192h3v3h-3zM3591,2170h3v3h-3zM3682,2231h3v3h-3zM3487,2327h3v3h-3zM3578,2251h3v3h-3zM3707,2180h3v3h-3zM3831,2199h3v3h-3zM3951,2347h3v3h-3zM3721,2194h3v3h-3zM3840,2348h3v3h-3zM3601,2321h3v3h-3zM3795,2177h3v3h-3zM3513,2288h3v3h-3zM3935,2302h3v3h-3zM3763,2277h3v3h-3zM3835,2331h3v3h-3zM3554,2189h3v3h-3zM3790,2181h3v3h-3zM3780,2255h3v3h-3zM3541,2162h3v3h-3zM3481,2312h3v3h-3zM3757,2111h3v3h-3zM4030,2325h3v3h-3zM3759,2128h3v3h-3zM3584,2299h3v3h-3zM3883,2187h3v3h-3zM3806,2206h3v3h-3zM3668,2302h3v3h-3zM3532,2201h3v3h-3zM3493,2149h3v3h-3zM3830,2167h3v3h-3zM3864,2262h3v3h-3zM3527,2342h3v3h-3zM3828,2155h3v3h-3zM3725,2289h3v3h-3zM3803,2145h3v3h-3zM3692,2212h3v3h-3zM3942,2260h3v3h-3zM3829,2119h3v3h-3zM3472,2213h3v3h-3zM3656,2242h3v3h-3zM3536,2236h3v3h-3zM3654,2201h3v3h-3zM3542,2121h3v3h-3zM3571,2128h3v3h-3zM3704,2318h3v3h-3zM3583,2357h3v3h-3zM3765,2208h3v3h-3zM3549,2264h3v3h-3zM3607,2279h3v3h-3zM3917,2314h3v3h-3zM3492,2319h3v3h-3zM3569,2090h3v3h-3zM3495,2264h3v3h-3zM3720,2349h3v3h-3zM3756,2341h3v3h-3zM3660,2311h3v3h-3zM3597,2277h3v3h-3zM3964,2228h3v3h-3zM3671,2192h3v3h-3zM3634,2149h3v3h-3zM3803,2152h3v3h-3zM3536,2193h3v3h-3zM3775,2293h3v3h-3zM3724,2193h3v3h-3zM3651,2226h3v3h-3zM3835,2303h3v3h-3zM3845,2303h3v3h-3zM3623,2235h3v3h-3zM3786,2188h3v3h-3zM3504,2186h3v3h-3zM3561,2319h3v3h-3zM3503,2176h3v3h-3zM3826,2343h3v3h-3zM3854,2278h3v3h-3zM4043,2095h3v3h-3zM3598,2228h3v3h-3zM3534,2113h3v3h-3zM3532,2164h3v3h-3zM3689,2324h3v3h-3zM3542,2291h3v3h-3zM3493,2324h3v3h-3zM3506,2138h3v3h-3zM3745,2134h3v3h-3zM3769,2228h3v3h-3zM3490,2316h3v3h-3zM3815,2279h3v3h-3zM3473,2114h3v3h-3zM3801,2245h3v3h-3zM3849,2141h3v3h-3zM3789,2125h3v3h-3zM3731,2243h3v3h-3zM3781,2255h3v3h-3zM3731,2239h3v3h-3zM3812,2122h3v3h-3zM3797,2340h3v3h-3zM3479,2226h3v3h-3zM3585,2316h3v3h-3zM3869,2346h3v3h-3zM3540,2239h3v3h-3zM3629,2111h3v3h-3zM3696,2355h3v3h-3zM3491,2355h3v3h-3zM3648,2180h3v3h-3zM3676,2148h3v3h-3zM3598,2186h3v3h-3zM3993,2280h3v3h-3zM3791,2116h3v3h-3zM3703,2324h3v3h-3zM3510,2330h3v3h-3zM3777,2135h3v3h-3zM3661,2256h3v3h-3zM3639,2341h3v3h-3zM3753,2193h3v3h-3zM3628,2250h3v3h-3zM3582,2190h3v3h-3zM3710,2141h3v3h-3zM3556,2289h3v3h-3zM3537,2119h3v3h-3zM3648,2187h3v3h-3zM4020,2319h3v3h-3zM3553,2172h3v3h-3zM3765,2253h3v3h-3zM3577,2166h3v3h-3zM3623,2133h3v3h-3zM3647,2199h3v3h-3zM3524,2187h3v3h-3zM3614,2269h3v3h-3zM3798,2201h3v3h-3zM3655,2197h3v3h-3zM3770,2376h3v3h-3zM3720,2301h3v3h-3zM3787,2140h3v3h-3zM3729,2147h3v3h-3zM3525,2234h3v3h-3zM3671,2354h3v3h-3zM3853,2171h3v3h-3zM3692,2233h3v3h-3zM3503,2211h3v3h-3zM3664,2149h3v3h-3zM3637,2280h3v3h-3zM3978,2211h3v3h-3zM3911,2287h3v3h-3zM3592,2296h3v3h-3zM3761,2193h3v3h-3zM3490,2120h3v3h-3zM3524,2328h3v3h-3zM3982,2143h3v3h-3zM3772,2186h3v3h-3zM3478,2329h3v3h-3zM3807,2234h3v3h-3zM3607,2147h3v3h-3zM3709,2215h3v3h-3zM3748,2239h3v3h-3zM3545,2278h3v3h-3zM3493,2327h3v3h-3zM3571,2322h3v3h-3zM3650,2363h3v3h-3zM3630,2303h3v3h-3zM3642,2262h3v3h-3zM3476,2215h3v3h-3zM3644,2326h3v3h-3zM3706,2311h3v3h-3zM3801,2239h3v3h-3zM3498,2111h3v3h-3zM3909,2142h3v3h-3zM3622,2273h3v3h-3zM3626,2175h3v3h-3zM4005,2335h3v3h-3zM3631,2167h3v3h-3zM3471,2242h3v3h-3zM3721,2362h3v3h-3zM3805,2352h3v3h-3zM3691,2310h3v3h-3zM3692,2173h3v3h-3zM3526,2131h3v3h-3zM3872,2176h3v3h-3zM3691,2173h3v3h-3zM3602,2293h3v3h-3zM3897,2194h3v3h-3zM3524,2271h3v3h-3zM3485,2150h3v3h-3zM3634,2325h3v3h-3zM3621,2194h3v3h-3zM3628,2199h3v3h-3zM3699,2362h3v3h-3zM3705,2143h3v3h-3zM3940,2322h3v3h-3zM3704,2224h3v3h-3zM3893,2174h3v3h-3zM3505,2243h3v3h-3zM3849,2342h3v3h-3zM3970,2153h3v3h-3zM3875,2306h3v3h-3zM3907,2273h3v3h-3zM3488,2356h3v3h-3zM3760,2255h3v3h-3zM4012,2204h3v3h-3zM3580,2354h3v3h-3zM3599,2286h3v3h-3zM3510,2298h3v3h-3zM3859,2203h3v3h-3zM3783,2131h3v3h-3zM3564,2364h3v3h-3zM3792,2255h3v3h-3zM4036,2156h3v3h-3zM3969,2327h3v3h-3zM3866,2238h3v3h-3zM4015,2161h3v3h-3zM3773,2325h3v3h-3zM3535,2323h3v3h-3zM3749,2247h3v3h-3zM3540,2325h3v3h-3zM3683,2192h3v3h-3zM3698,2149h3v3h-3zM3546,2307h3v3h-3zM3481,2226h3v3h-3zM3686,2216h3v3h-3zM3592,2121h3v3h-3zM3588,2124h3v3h-3zM3818,2173h3v3h-3zM3640,2306h3v3h-3zM3601,2337h3v3h-3zM3965,2333h3v3h-3zM3519,2290h3v3h-3zM3569,2300h3v3h-3zM3901,2326h3v3h-3zM3494,2209h3v3h-3zM3779,2313h3v3h-3zM3640,2206h3v3h-3zM3562,2127h3v3h-3zM3521,2299h3v3h-3zM3516,2243h3v3h-3zM3852,2225h3v3h-3zM3554,2169h3v3h-3zM3577,2169h3v3h-3zM3844,2352h3v3h-3zM3841,2118h3v3h-3zM3796,2237h3v3h-3zM3471,2328h3v3h-3zM3606,2143h3v3h-3zM3775,2354h3v3h-3zM3742,2181h3v3h-3zM3633,2312h3v3h-3zM3744,2334h3v3h-3zM3714,2160h3v3h-3zM3512,2149h3v3h-3zM3882,2235h3v3h-3zM3535,2269h3v3h-3zM3572,2264h3v3h-3zM3821,2270h3v3h-3zM3637,2288h3v3h-3zM3753,2218h3v3h-3zM3656,2140h3v3h-3zM3916,2370h3v3h-3zM3827,2213h3v3h-3zM3675,2120h3v3h-3zM3638,2255h3v3h-3zM3651,2232h3v3h-3zM3778,2158h3v3h-3zM3800,2246h3v3h-3zM3808,2215h3v3h-3zM3499,2218h3v3h-3zM3764,2315h3v3h-3zM3688,2326h3v3h-3zM3580,2345h3v3h-3zM3953,2335h3v3h-3zM3611,2212h3v3h-3zM3637,2236h3v3h-3z" fill="#a8d4e4"/>
</g>
<line x1="3470.3" y1="2097" x2="3470.3" y2="2377.5" stroke="#b0b0b0" stroke-width="1.6" opacity=".8"/>
<line x1="3534.4" y1="2097" x2="3534.4" y2="2377.5" stroke="#b0b0b0" stroke-width="1.6" opacity=".8"/>
<line x1="3598.5" y1="2097" x2="3598.5" y2="2377.5" stroke="#b0b0b0" stroke-width="1.6" opacity=".8"/>
<line x1="3662.6" y1="2097" x2="3662.6" y2="2377.5" stroke="#b0b0b0" stroke-width="1.6" opacity=".8"/>
<line x1="3726.7" y1="2097" x2="3726.7" y2="2377.5" stroke="#b0b0b0" stroke-width="1.6" opacity=".8"/>
<line x1="3790.9" y1="2097" x2="3790.9" y2="2377.5" stroke="#b0b0b0" stroke-width="1.6" opacity=".8"/>
<line x1="3855.0" y1="2097" x2="3855.0" y2="2377.5" stroke="#b0b0b0" stroke-width="1.6" opacity=".8"/>
<line x1="3919.1" y1="2097" x2="3919.1" y2="2377.5" stroke="#b0b0b0" stroke-width="1.6" opacity=".8"/>
<line x1="3983.2" y1="2097" x2="3983.2" y2="2377.5" stroke="#b0b0b0" stroke-width="1.6" opacity=".8"/>
<line x1="4047.3" y1="2097" x2="4047.3" y2="2377.5" stroke="#b0b0b0" stroke-width="1.6" opacity=".8"/>
<line x1="3470.3" y1="2326.6" x2="4047.3" y2="2326.6" stroke="#b0b0b0" stroke-width="1.6" opacity=".8"/>
<line x1="3470.3" y1="2275.7" x2="4047.3" y2="2275.7" stroke="#b0b0b0" stroke-width="1.6" opacity=".8"/>
<line x1="3470.3" y1="2224.8" x2="4047.3" y2="2224.8" stroke="#b0b0b0" stroke-width="1.6" opacity=".8"/>
<line x1="3470.3" y1="2173.9" x2="4047.3" y2="2173.9" stroke="#b0b0b0" stroke-width="1.6" opacity=".8"/>
<line x1="3470.3" y1="2123.0" x2="4047.3" y2="2123.0" stroke="#b0b0b0" stroke-width="1.6" opacity=".8"/>
<line x1="3598.5" y1="2097" x2="3598.5" y2="2377.5" stroke="#333" stroke-width="2.8" stroke-dasharray="12 6"/>
<line x1="3726.7" y1="2097" x2="3726.7" y2="2377.5" stroke="#333" stroke-width="2.8" stroke-dasharray="12 6"/>
<polyline points="3470.3,2237.5 3489.5,2238.8 3510.0,2240.6 3529.9,2243.1 3550.4,2247.2 3569.7,2252.8 3590.2,2256.6 3611.3,2263.0 3630.6,2269.1 3649.8,2275.7 3669.0,2280.0 3688.3,2285.9 3708.8,2288.4 3726.7,2291.0 3747.9,2292.2 3768.4,2292.2 3788.9,2292.2 3810.1,2295.6 3829.3,2299.1 3848.6,2297.6 3869.7,2302.9 3890.2,2301.2 3909.5,2311.3 3928.7,2303.7 3949.9,2307.5 3969.1,2316.4 3988.3,2320.2 4008.8,2306.2 4028.1,2320.2 4047.3,2319.0" fill="none" stroke="#1e1ee6" stroke-width="2.7"/>
<g fill="#1e1ee6"><circle cx="3470.3" cy="2237.5" r="3.4"/><circle cx="3489.5" cy="2238.8" r="3.4"/><circle cx="3510.0" cy="2240.6" r="3.4"/><circle cx="3529.9" cy="2243.1" r="3.4"/><circle cx="3550.4" cy="2247.2" r="3.4"/><circle cx="3569.7" cy="2252.8" r="3.4"/><circle cx="3590.2" cy="2256.6" r="3.4"/><circle cx="3611.3" cy="2263.0" r="3.4"/><circle cx="3630.6" cy="2269.1" r="3.4"/><circle cx="3649.8" cy="2275.7" r="3.4"/><circle cx="3669.0" cy="2280.0" r="3.4"/><circle cx="3688.3" cy="2285.9" r="3.4"/><circle cx="3708.8" cy="2288.4" r="3.4"/><circle cx="3726.7" cy="2291.0" r="3.4"/><circle cx="3747.9" cy="2292.2" r="3.4"/><circle cx="3768.4" cy="2292.2" r="3.4"/><circle cx="3788.9" cy="2292.2" r="3.4"/><circle cx="3810.1" cy="2295.6" r="3.4"/><circle cx="3829.3" cy="2299.1" r="3.4"/><circle cx="3848.6" cy="2297.6" r="3.4"/><circle cx="3869.7" cy="2302.9" r="3.4"/><circle cx="3890.2" cy="2301.2" r="3.4"/><circle cx="3909.5" cy="2311.3" r="3.4"/><circle cx="3928.7" cy="2303.7" r="3.4"/><circle cx="3949.9" cy="2307.5" r="3.4"/><circle cx="3969.1" cy="2316.4" r="3.4"/><circle cx="3988.3" cy="2320.2" r="3.4"/><circle cx="4008.8" cy="2306.2" r="3.4"/><circle cx="4028.1" cy="2320.2" r="3.4"/><circle cx="4047.3" cy="2319.0" r="3.4"/></g>
<rect x="3470.3" y="2097" width="577.0" height="280.5" fill="none" stroke="#222" stroke-width="1.6"/>
<line x1="3470.3" y1="2377.5" x2="3470.3" y2="2383.5" stroke="#222" stroke-width="1.4"/>
<text x="3470.3" y="2403.5" font-family="Liberation Sans" font-size="21" fill="#333" text-anchor="middle">0</text>
<line x1="3534.4" y1="2377.5" x2="3534.4" y2="2383.5" stroke="#222" stroke-width="1.4"/>
<text x="3534.4111111111115" y="2403.5" font-family="Liberation Sans" font-size="21" fill="#333" text-anchor="middle">1</text>
<line x1="3598.5" y1="2377.5" x2="3598.5" y2="2383.5" stroke="#222" stroke-width="1.4"/>
<text x="3598.5222222222224" y="2403.5" font-family="Liberation Sans" font-size="21" fill="#333" text-anchor="middle">2</text>
<line x1="3662.6" y1="2377.5" x2="3662.6" y2="2383.5" stroke="#222" stroke-width="1.4"/>
<text x="3662.6333333333337" y="2403.5" font-family="Liberation Sans" font-size="21" fill="#333" text-anchor="middle">3</text>
<line x1="3726.7" y1="2377.5" x2="3726.7" y2="2383.5" stroke="#222" stroke-width="1.4"/>
<text x="3726.7444444444445" y="2403.5" font-family="Liberation Sans" font-size="21" fill="#333" text-anchor="middle">4</text>
<line x1="3790.9" y1="2377.5" x2="3790.9" y2="2383.5" stroke="#222" stroke-width="1.4"/>
<text x="3790.855555555556" y="2403.5" font-family="Liberation Sans" font-size="21" fill="#333" text-anchor="middle">5</text>
<line x1="3855.0" y1="2377.5" x2="3855.0" y2="2383.5" stroke="#222" stroke-width="1.4"/>
<text x="3854.9666666666667" y="2403.5" font-family="Liberation Sans" font-size="21" fill="#333" text-anchor="middle">6</text>
<line x1="3919.1" y1="2377.5" x2="3919.1" y2="2383.5" stroke="#222" stroke-width="1.4"/>
<text x="3919.077777777778" y="2403.5" font-family="Liberation Sans" font-size="21" fill="#333" text-anchor="middle">7</text>
<line x1="3983.2" y1="2377.5" x2="3983.2" y2="2383.5" stroke="#222" stroke-width="1.4"/>
<text x="3983.188888888889" y="2403.5" font-family="Liberation Sans" font-size="21" fill="#333" text-anchor="middle">8</text>
<line x1="4047.3" y1="2377.5" x2="4047.3" y2="2383.5" stroke="#222" stroke-width="1.4"/>
<text x="4047.3" y="2403.5" font-family="Liberation Sans" font-size="21" fill="#333" text-anchor="middle">9</text>
<line x1="3464.3" y1="2377.5" x2="3470.3" y2="2377.5" stroke="#222" stroke-width="1.4"/>
<text x="3461.3" y="2385.0" font-family="Liberation Sans" font-size="20" fill="#333" text-anchor="end">−4</text>
<line x1="3464.3" y1="2326.6" x2="3470.3" y2="2326.6" stroke="#222" stroke-width="1.4"/>
<text x="3461.3" y="2334.1" font-family="Liberation Sans" font-size="20" fill="#333" text-anchor="end">−2</text>
<line x1="3464.3" y1="2275.7" x2="3470.3" y2="2275.7" stroke="#222" stroke-width="1.4"/>
<text x="3461.3" y="2283.2" font-family="Liberation Sans" font-size="20" fill="#333" text-anchor="end">0</text>
<line x1="3464.3" y1="2224.8" x2="3470.3" y2="2224.8" stroke="#222" stroke-width="1.4"/>
<text x="3461.3" y="2232.3" font-family="Liberation Sans" font-size="20" fill="#333" text-anchor="end">2</text>
<line x1="3464.3" y1="2173.9" x2="3470.3" y2="2173.9" stroke="#222" stroke-width="1.4"/>
<text x="3461.3" y="2181.4" font-family="Liberation Sans" font-size="20" fill="#333" text-anchor="end">4</text>
<line x1="3464.3" y1="2123.0" x2="3470.3" y2="2123.0" stroke="#222" stroke-width="1.4"/>
<text x="3461.3" y="2130.5" font-family="Liberation Sans" font-size="20" fill="#333" text-anchor="end">6</text>
<text x="3758.8" y="2085" font-family="Liberation Sans" font-size="23" fill="#333" text-anchor="middle" textLength="125.4" lengthAdjust="spacingAndGlyphs">Translation</text>
<text x="3758.8" y="2432.6" font-family="Liberation Sans" font-size="24" fill="#333" text-anchor="middle" textLength="129.0" lengthAdjust="spacingAndGlyphs">Centimeter</text>
<text x="0" y="0" font-family="Liberation Sans" font-size="24" fill="#222" text-anchor="middle" transform="translate(3418,2237.25) rotate(-90)">Energy</text>
<text x="3479.3" y="2364" font-family="Liberation Serif" font-size="25" fill="#111" font-weight="bold">Low error</text>
<text x="3831.3" y="2364" font-family="Liberation Serif" font-size="25" fill="#111" font-weight="bold">High error</text>
</svg>

</body></html>
